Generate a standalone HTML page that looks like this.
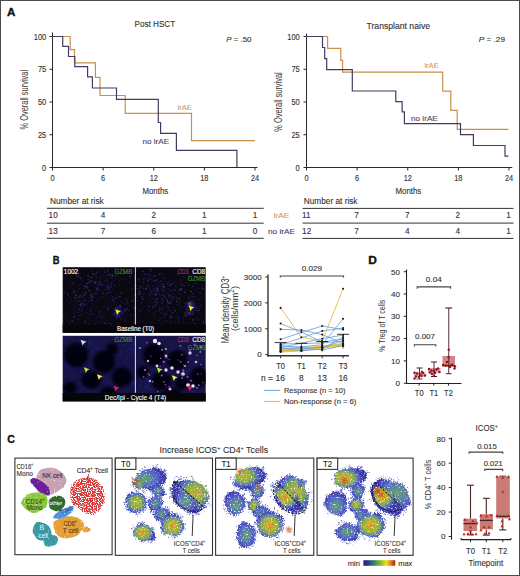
<!DOCTYPE html>
<html><head><meta charset="utf-8"><style>
html,body{margin:0;padding:0;background:#fff;}
svg{display:block;font-family:"Liberation Sans", sans-serif;}
</style></head><body>
<svg width="520" height="576" viewBox="0 0 520 576">
<defs><filter id="bl1" x="-50%" y="-50%" width="200%" height="200%"><feGaussianBlur stdDeviation="0.8"/></filter><filter id="bl0" x="-50%" y="-50%" width="200%" height="200%"><feGaussianBlur stdDeviation="0.45"/></filter><filter id="bl2" x="-50%" y="-50%" width="200%" height="200%"><feGaussianBlur stdDeviation="2.5"/></filter><filter id="bl3" x="-50%" y="-50%" width="200%" height="200%"><feGaussianBlur stdDeviation="1.4"/></filter><clipPath id="mtop"><rect x="62.7" y="267.2" width="143" height="65.6"/></clipPath><clipPath id="mbot"><rect x="62.7" y="335.8" width="143" height="65.6"/></clipPath><filter id="mottle0" x="-5%" y="-5%" width="110%" height="110%" color-interpolation-filters="sRGB"><feTurbulence type="fractalNoise" baseFrequency="0.75" numOctaves="2" seed="3" result="t"/><feDisplacementMap in="SourceGraphic" in2="t" scale="4.5" xChannelSelector="R" yChannelSelector="G" result="d"/><feTurbulence type="fractalNoise" baseFrequency="0.7" numOctaves="1" seed="11" result="t2"/><feColorMatrix in="t2" type="matrix" values="0 0 0 0 1  0 0 0 0 1  0 0 0 0 1  -4.8 0 0 0 2.0" result="w"/><feComposite in="w" in2="d" operator="in" result="wi"/><feMerge><feMergeNode in="d"/><feMergeNode in="wi"/></feMerge></filter><filter id="mottle1" x="-5%" y="-5%" width="110%" height="110%" color-interpolation-filters="sRGB"><feTurbulence type="fractalNoise" baseFrequency="0.75" numOctaves="2" seed="4" result="t"/><feDisplacementMap in="SourceGraphic" in2="t" scale="4.5" xChannelSelector="R" yChannelSelector="G" result="d"/><feTurbulence type="fractalNoise" baseFrequency="0.7" numOctaves="1" seed="12" result="t2"/><feColorMatrix in="t2" type="matrix" values="0 0 0 0 1  0 0 0 0 1  0 0 0 0 1  -4.8 0 0 0 2.0" result="w"/><feComposite in="w" in2="d" operator="in" result="wi"/><feMerge><feMergeNode in="d"/><feMergeNode in="wi"/></feMerge></filter><filter id="mottle2" x="-5%" y="-5%" width="110%" height="110%" color-interpolation-filters="sRGB"><feTurbulence type="fractalNoise" baseFrequency="0.75" numOctaves="2" seed="5" result="t"/><feDisplacementMap in="SourceGraphic" in2="t" scale="4.5" xChannelSelector="R" yChannelSelector="G" result="d"/><feTurbulence type="fractalNoise" baseFrequency="0.7" numOctaves="1" seed="13" result="t2"/><feColorMatrix in="t2" type="matrix" values="0 0 0 0 1  0 0 0 0 1  0 0 0 0 1  -4.8 0 0 0 2.0" result="w"/><feComposite in="w" in2="d" operator="in" result="wi"/><feMerge><feMergeNode in="d"/><feMergeNode in="wi"/></feMerge></filter><radialGradient id="g1" cx="0.35" cy="0.5" r="0.55" fx="0.35" fy="0.5"><stop offset="0" stop-color="#6aa060"/><stop offset="0.35" stop-color="#5a88a0"/><stop offset="0.62" stop-color="#5668c4"/><stop offset="0.82" stop-color="#4a50c0"/><stop offset="1" stop-color="#3a38aa"/></radialGradient><radialGradient id="g2" cx="0.5" cy="0.5" r="0.55" fx="0.5" fy="0.5"><stop offset="0" stop-color="#6aa060"/><stop offset="0.35" stop-color="#5a88a0"/><stop offset="0.62" stop-color="#5668c4"/><stop offset="0.82" stop-color="#4a50c0"/><stop offset="1" stop-color="#3a38aa"/></radialGradient><radialGradient id="g3" cx="0.5" cy="0.5" r="0.55" fx="0.5" fy="0.5"><stop offset="0" stop-color="#b8b434"/><stop offset="0.35" stop-color="#9cae40"/><stop offset="0.56" stop-color="#78a458"/><stop offset="0.69" stop-color="#5a82b0"/><stop offset="0.8" stop-color="#5060c4"/><stop offset="0.9" stop-color="#4448bc"/><stop offset="1" stop-color="#3838a8"/></radialGradient><radialGradient id="g4" cx="0.5" cy="0.5" r="0.55" fx="0.5" fy="0.5"><stop offset="0" stop-color="#6aa060"/><stop offset="0.35" stop-color="#5a88a0"/><stop offset="0.62" stop-color="#5668c4"/><stop offset="0.82" stop-color="#4a50c0"/><stop offset="1" stop-color="#3a38aa"/></radialGradient><radialGradient id="g5" cx="0.62" cy="0.4" r="0.55" fx="0.62" fy="0.4"><stop offset="0" stop-color="#b8b434"/><stop offset="0.35" stop-color="#9cae40"/><stop offset="0.56" stop-color="#78a458"/><stop offset="0.69" stop-color="#5a82b0"/><stop offset="0.8" stop-color="#5060c4"/><stop offset="0.9" stop-color="#4448bc"/><stop offset="1" stop-color="#3838a8"/></radialGradient><radialGradient id="g6" cx="0.5" cy="0.5" r="0.55" fx="0.5" fy="0.5"><stop offset="0" stop-color="#6aa060"/><stop offset="0.35" stop-color="#5a88a0"/><stop offset="0.62" stop-color="#5668c4"/><stop offset="0.82" stop-color="#4a50c0"/><stop offset="1" stop-color="#3a38aa"/></radialGradient><radialGradient id="g7" cx="0.5" cy="0.5" r="0.55" fx="0.5" fy="0.5"><stop offset="0" stop-color="#6aa060"/><stop offset="0.35" stop-color="#5a88a0"/><stop offset="0.62" stop-color="#5668c4"/><stop offset="0.82" stop-color="#4a50c0"/><stop offset="1" stop-color="#3a38aa"/></radialGradient><radialGradient id="g8" cx="0.5" cy="0.55" r="0.55" fx="0.5" fy="0.55"><stop offset="0" stop-color="#e07818"/><stop offset="0.15" stop-color="#d4a428"/><stop offset="0.35" stop-color="#b4b436"/><stop offset="0.55" stop-color="#8eae48"/><stop offset="0.68" stop-color="#6a9a80"/><stop offset="0.79" stop-color="#5a6ac8"/><stop offset="0.88" stop-color="#4a4ec0"/><stop offset="1" stop-color="#3a3aa8"/></radialGradient><radialGradient id="g9" cx="0.45" cy="0.5" r="0.55" fx="0.45" fy="0.5"><stop offset="0" stop-color="#e07818"/><stop offset="0.15" stop-color="#d4a428"/><stop offset="0.35" stop-color="#b4b436"/><stop offset="0.55" stop-color="#8eae48"/><stop offset="0.68" stop-color="#6a9a80"/><stop offset="0.79" stop-color="#5a6ac8"/><stop offset="0.88" stop-color="#4a4ec0"/><stop offset="1" stop-color="#3a3aa8"/></radialGradient><radialGradient id="g10" cx="0.3" cy="0.4" r="0.55" fx="0.3" fy="0.4"><stop offset="0" stop-color="#b8b434"/><stop offset="0.35" stop-color="#9cae40"/><stop offset="0.56" stop-color="#78a458"/><stop offset="0.69" stop-color="#5a82b0"/><stop offset="0.8" stop-color="#5060c4"/><stop offset="0.9" stop-color="#4448bc"/><stop offset="1" stop-color="#3838a8"/></radialGradient><radialGradient id="g11" cx="0.5" cy="0.5" r="0.55" fx="0.5" fy="0.5"><stop offset="0" stop-color="#6aa060"/><stop offset="0.35" stop-color="#5a88a0"/><stop offset="0.62" stop-color="#5668c4"/><stop offset="0.82" stop-color="#4a50c0"/><stop offset="1" stop-color="#3a38aa"/></radialGradient><radialGradient id="g12" cx="0.55" cy="0.6" r="0.55" fx="0.55" fy="0.6"><stop offset="0" stop-color="#6aa060"/><stop offset="0.35" stop-color="#5a88a0"/><stop offset="0.62" stop-color="#5668c4"/><stop offset="0.82" stop-color="#4a50c0"/><stop offset="1" stop-color="#3a38aa"/></radialGradient><radialGradient id="g13" cx="0.5" cy="0.5" r="0.55" fx="0.5" fy="0.5"><stop offset="0" stop-color="#b8b434"/><stop offset="0.35" stop-color="#9cae40"/><stop offset="0.56" stop-color="#78a458"/><stop offset="0.69" stop-color="#5a82b0"/><stop offset="0.8" stop-color="#5060c4"/><stop offset="0.9" stop-color="#4448bc"/><stop offset="1" stop-color="#3838a8"/></radialGradient><radialGradient id="g14" cx="0.6" cy="0.45" r="0.55" fx="0.6" fy="0.45"><stop offset="0" stop-color="#b8b434"/><stop offset="0.35" stop-color="#9cae40"/><stop offset="0.56" stop-color="#78a458"/><stop offset="0.69" stop-color="#5a82b0"/><stop offset="0.8" stop-color="#5060c4"/><stop offset="0.9" stop-color="#4448bc"/><stop offset="1" stop-color="#3838a8"/></radialGradient><radialGradient id="g15" cx="0.4" cy="0.4" r="0.55" fx="0.4" fy="0.4"><stop offset="0" stop-color="#e07818"/><stop offset="0.15" stop-color="#d4a428"/><stop offset="0.35" stop-color="#b4b436"/><stop offset="0.55" stop-color="#8eae48"/><stop offset="0.68" stop-color="#6a9a80"/><stop offset="0.79" stop-color="#5a6ac8"/><stop offset="0.88" stop-color="#4a4ec0"/><stop offset="1" stop-color="#3a3aa8"/></radialGradient><radialGradient id="g16" cx="0.5" cy="0.5" r="0.55" fx="0.5" fy="0.5"><stop offset="0" stop-color="#6aa060"/><stop offset="0.35" stop-color="#5a88a0"/><stop offset="0.62" stop-color="#5668c4"/><stop offset="0.82" stop-color="#4a50c0"/><stop offset="1" stop-color="#3a38aa"/></radialGradient><radialGradient id="g17" cx="0.5" cy="0.5" r="0.55" fx="0.5" fy="0.5"><stop offset="0" stop-color="#6aa060"/><stop offset="0.35" stop-color="#5a88a0"/><stop offset="0.62" stop-color="#5668c4"/><stop offset="0.82" stop-color="#4a50c0"/><stop offset="1" stop-color="#3a38aa"/></radialGradient><radialGradient id="g18" cx="0.5" cy="0.55" r="0.55" fx="0.5" fy="0.55"><stop offset="0" stop-color="#e07818"/><stop offset="0.15" stop-color="#d4a428"/><stop offset="0.35" stop-color="#b4b436"/><stop offset="0.55" stop-color="#8eae48"/><stop offset="0.68" stop-color="#6a9a80"/><stop offset="0.79" stop-color="#5a6ac8"/><stop offset="0.88" stop-color="#4a4ec0"/><stop offset="1" stop-color="#3a3aa8"/></radialGradient><radialGradient id="g19" cx="0.5" cy="0.5" r="0.55" fx="0.5" fy="0.5"><stop offset="0" stop-color="#6aa060"/><stop offset="0.35" stop-color="#5a88a0"/><stop offset="0.62" stop-color="#5668c4"/><stop offset="0.82" stop-color="#4a50c0"/><stop offset="1" stop-color="#3a38aa"/></radialGradient><radialGradient id="g20" cx="0.3" cy="0.5" r="0.55" fx="0.3" fy="0.5"><stop offset="0" stop-color="#e07818"/><stop offset="0.15" stop-color="#d4a428"/><stop offset="0.35" stop-color="#b4b436"/><stop offset="0.55" stop-color="#8eae48"/><stop offset="0.68" stop-color="#6a9a80"/><stop offset="0.79" stop-color="#5a6ac8"/><stop offset="0.88" stop-color="#4a4ec0"/><stop offset="1" stop-color="#3a3aa8"/></radialGradient><radialGradient id="g21" cx="0.5" cy="0.5" r="0.55" fx="0.5" fy="0.5"><stop offset="0" stop-color="#6aa060"/><stop offset="0.35" stop-color="#5a88a0"/><stop offset="0.62" stop-color="#5668c4"/><stop offset="0.82" stop-color="#4a50c0"/><stop offset="1" stop-color="#3a38aa"/></radialGradient><radialGradient id="g22" cx="0.5" cy="0.6" r="0.55" fx="0.5" fy="0.6"><stop offset="0" stop-color="#6aa060"/><stop offset="0.35" stop-color="#5a88a0"/><stop offset="0.62" stop-color="#5668c4"/><stop offset="0.82" stop-color="#4a50c0"/><stop offset="1" stop-color="#3a38aa"/></radialGradient><radialGradient id="g23" cx="0.5" cy="0.5" r="0.55" fx="0.5" fy="0.5"><stop offset="0" stop-color="#b8b434"/><stop offset="0.35" stop-color="#9cae40"/><stop offset="0.56" stop-color="#78a458"/><stop offset="0.69" stop-color="#5a82b0"/><stop offset="0.8" stop-color="#5060c4"/><stop offset="0.9" stop-color="#4448bc"/><stop offset="1" stop-color="#3838a8"/></radialGradient><radialGradient id="g24" cx="0.65" cy="0.4" r="0.55" fx="0.65" fy="0.4"><stop offset="0" stop-color="#6aa060"/><stop offset="0.35" stop-color="#5a88a0"/><stop offset="0.62" stop-color="#5668c4"/><stop offset="0.82" stop-color="#4a50c0"/><stop offset="1" stop-color="#3a38aa"/></radialGradient><radialGradient id="g25" cx="0.3" cy="0.3" r="0.55" fx="0.3" fy="0.3"><stop offset="0" stop-color="#e07818"/><stop offset="0.15" stop-color="#d4a428"/><stop offset="0.35" stop-color="#b4b436"/><stop offset="0.55" stop-color="#8eae48"/><stop offset="0.68" stop-color="#6a9a80"/><stop offset="0.79" stop-color="#5a6ac8"/><stop offset="0.88" stop-color="#4a4ec0"/><stop offset="1" stop-color="#3a3aa8"/></radialGradient><radialGradient id="g26" cx="0.5" cy="0.5" r="0.55" fx="0.5" fy="0.5"><stop offset="0" stop-color="#6aa060"/><stop offset="0.35" stop-color="#5a88a0"/><stop offset="0.62" stop-color="#5668c4"/><stop offset="0.82" stop-color="#4a50c0"/><stop offset="1" stop-color="#3a38aa"/></radialGradient><radialGradient id="g27" cx="0.5" cy="0.5" r="0.55" fx="0.5" fy="0.5"><stop offset="0" stop-color="#e07818"/><stop offset="0.15" stop-color="#d4a428"/><stop offset="0.35" stop-color="#b4b436"/><stop offset="0.55" stop-color="#8eae48"/><stop offset="0.68" stop-color="#6a9a80"/><stop offset="0.79" stop-color="#5a6ac8"/><stop offset="0.88" stop-color="#4a4ec0"/><stop offset="1" stop-color="#3a3aa8"/></radialGradient><radialGradient id="g28" cx="0.5" cy="0.5" r="0.55" fx="0.5" fy="0.5"><stop offset="0" stop-color="#6aa060"/><stop offset="0.35" stop-color="#5a88a0"/><stop offset="0.62" stop-color="#5668c4"/><stop offset="0.82" stop-color="#4a50c0"/><stop offset="1" stop-color="#3a38aa"/></radialGradient><linearGradient id="cbar" x1="0" x2="1" y1="0" y2="0"><stop offset="0" stop-color="#1e2470"/><stop offset="0.15" stop-color="#2a3c98"/><stop offset="0.35" stop-color="#3a8a50"/><stop offset="0.55" stop-color="#8cba2c"/><stop offset="0.72" stop-color="#e8e41e"/><stop offset="0.87" stop-color="#e07a1a"/><stop offset="1" stop-color="#a81c1c"/></linearGradient><filter id="speckR" x="-10%" y="-10%" width="120%" height="120%" color-interpolation-filters="sRGB"><feTurbulence type="fractalNoise" baseFrequency="0.9" numOctaves="2" seed="21" result="t"/><feDisplacementMap in="SourceGraphic" in2="t" scale="3.5" xChannelSelector="R" yChannelSelector="G" result="d"/><feTurbulence type="fractalNoise" baseFrequency="0.8" numOctaves="1" seed="23" result="t2"/><feColorMatrix in="t2" type="matrix" values="0 0 0 0 1  0 0 0 0 1  0 0 0 0 1  -9 0 0 0 4.6" result="w"/><feComposite in="w" in2="d" operator="in" result="wi"/><feMerge><feMergeNode in="d"/><feMergeNode in="wi"/></feMerge></filter><filter id="speckS" x="-10%" y="-10%" width="120%" height="120%" color-interpolation-filters="sRGB"><feTurbulence type="fractalNoise" baseFrequency="0.8" numOctaves="2" seed="31" result="t"/><feDisplacementMap in="SourceGraphic" in2="t" scale="2" xChannelSelector="R" yChannelSelector="G" result="d"/><feTurbulence type="fractalNoise" baseFrequency="0.7" numOctaves="1" seed="33" result="t2"/><feColorMatrix in="t2" type="matrix" values="0 0 0 0 1  0 0 0 0 1  0 0 0 0 1  -5 0 0 0 1.8" result="w"/><feComposite in="w" in2="d" operator="in" result="wi"/><feMerge><feMergeNode in="d"/><feMergeNode in="wi"/></feMerge></filter></defs>
<rect width="520" height="576" fill="#fff"/>
<text x="6.9" y="16.3" font-size="11.6" fill="#111" textLength="8.4" lengthAdjust="spacingAndGlyphs" font-weight="bold" stroke="#111" stroke-width="0.35">A</text>
<line x1="52.5" y1="32.5" x2="52.5" y2="168.0" stroke="#2a2a2a" stroke-width="1" />
<line x1="52.0" y1="167.5" x2="257.5" y2="167.5" stroke="#2a2a2a" stroke-width="1" />
<line x1="49.5" y1="36.5" x2="52.5" y2="36.5" stroke="#2a2a2a" stroke-width="1" />
<text x="46.3" y="39.5" font-size="8.6" fill="#333" stroke="#333" stroke-width="0.12" text-anchor="end" textLength="12.6" lengthAdjust="spacingAndGlyphs" >100</text>
<line x1="49.5" y1="69.25" x2="52.5" y2="69.25" stroke="#2a2a2a" stroke-width="1" />
<text x="46.3" y="72.25" font-size="8.6" fill="#333" stroke="#333" stroke-width="0.12" text-anchor="end" textLength="8.4" lengthAdjust="spacingAndGlyphs" >75</text>
<line x1="49.5" y1="102.0" x2="52.5" y2="102.0" stroke="#2a2a2a" stroke-width="1" />
<text x="46.3" y="105.0" font-size="8.6" fill="#333" stroke="#333" stroke-width="0.12" text-anchor="end" textLength="8.4" lengthAdjust="spacingAndGlyphs" >50</text>
<line x1="49.5" y1="134.75" x2="52.5" y2="134.75" stroke="#2a2a2a" stroke-width="1" />
<text x="46.3" y="137.75" font-size="8.6" fill="#333" stroke="#333" stroke-width="0.12" text-anchor="end" textLength="8.4" lengthAdjust="spacingAndGlyphs" >25</text>
<line x1="49.5" y1="167.5" x2="52.5" y2="167.5" stroke="#2a2a2a" stroke-width="1" />
<text x="46.3" y="170.5" font-size="8.6" fill="#333" stroke="#333" stroke-width="0.12" text-anchor="end" textLength="4.2" lengthAdjust="spacingAndGlyphs" >0</text>
<line x1="52.5" y1="167.5" x2="52.5" y2="170.5" stroke="#2a2a2a" stroke-width="1" />
<text x="52.5" y="180.7" font-size="8.4" fill="#333" stroke="#333" stroke-width="0.12" text-anchor="middle" textLength="4.1" lengthAdjust="spacingAndGlyphs" >0</text>
<line x1="103.125" y1="167.5" x2="103.125" y2="170.5" stroke="#2a2a2a" stroke-width="1" />
<text x="103.125" y="180.7" font-size="8.4" fill="#333" stroke="#333" stroke-width="0.12" text-anchor="middle" textLength="4.1" lengthAdjust="spacingAndGlyphs" >6</text>
<line x1="153.75" y1="167.5" x2="153.75" y2="170.5" stroke="#2a2a2a" stroke-width="1" />
<text x="153.75" y="180.7" font-size="8.4" fill="#333" stroke="#333" stroke-width="0.12" text-anchor="middle" textLength="8.2" lengthAdjust="spacingAndGlyphs" >12</text>
<line x1="204.375" y1="167.5" x2="204.375" y2="170.5" stroke="#2a2a2a" stroke-width="1" />
<text x="204.375" y="180.7" font-size="8.4" fill="#333" stroke="#333" stroke-width="0.12" text-anchor="middle" textLength="8.2" lengthAdjust="spacingAndGlyphs" >18</text>
<line x1="255.0" y1="167.5" x2="255.0" y2="170.5" stroke="#2a2a2a" stroke-width="1" />
<text x="255.0" y="180.7" font-size="8.4" fill="#333" stroke="#333" stroke-width="0.12" text-anchor="middle" textLength="8.2" lengthAdjust="spacingAndGlyphs" >24</text>
<text transform="translate(27.6,99.7) rotate(-90)" font-size="10.6" fill="#3a3a3a" text-anchor="middle" textLength="59.5" lengthAdjust="spacingAndGlyphs">% Overall survival</text>
<path d="M52.5,36.5 H70.2 V49.6 H74.5 V62.8 H95.4 V77.3 H100 V95.5 H125.2 V113.3 H191.5 V140.6 H255" stroke="#c89048" stroke-width="1.2" fill="none" />
<path d="M52.5,36.5 H62.7 V46.4 H68.5 V56.5 H74.8 V66.7 H87.6 V76.8 H92.4 V88 H116.5 V99.4 H158.3 V122.5 H160.6 V133.3 H176.4 V150.4 H236.9 V167" stroke="#463a62" stroke-width="1.2" fill="none" />
<text x="134.6" y="26.8" font-size="8.5" fill="#333" stroke="#333" stroke-width="0.12" textLength="40.5" lengthAdjust="spacingAndGlyphs" >Post HSCT</text>
<text x="226.2" y="41.5" font-size="7.6" fill="#333" stroke="#333" stroke-width="0.12" textLength="25.3" lengthAdjust="spacingAndGlyphs" ><tspan font-style="italic">P</tspan> = .50</text>
<text x="177.5" y="109.6" font-size="8.1" fill="#cf9a55" stroke="#cf9a55" stroke-width="0.12" textLength="14.3" lengthAdjust="spacingAndGlyphs" >irAE</text>
<text x="142.5" y="143.9" font-size="8.1" fill="#4d4068" stroke="#4d4068" stroke-width="0.12" textLength="26.7" lengthAdjust="spacingAndGlyphs" >no irAE</text>
<text x="142.4" y="194.1" font-size="9.5" fill="#333" stroke="#333" stroke-width="0.12" textLength="25.8" lengthAdjust="spacingAndGlyphs" >Months</text>
<line x1="306.5" y1="33.7" x2="306.5" y2="168.0" stroke="#2a2a2a" stroke-width="1" />
<line x1="306.0" y1="167.5" x2="512.3" y2="167.5" stroke="#2a2a2a" stroke-width="1" />
<line x1="303.5" y1="36.5" x2="306.5" y2="36.5" stroke="#2a2a2a" stroke-width="1" />
<text x="299.8" y="39.5" font-size="8.6" fill="#333" stroke="#333" stroke-width="0.12" text-anchor="end" textLength="12.6" lengthAdjust="spacingAndGlyphs" >100</text>
<line x1="303.5" y1="69.25" x2="306.5" y2="69.25" stroke="#2a2a2a" stroke-width="1" />
<text x="299.8" y="72.25" font-size="8.6" fill="#333" stroke="#333" stroke-width="0.12" text-anchor="end" textLength="8.4" lengthAdjust="spacingAndGlyphs" >75</text>
<line x1="303.5" y1="102.0" x2="306.5" y2="102.0" stroke="#2a2a2a" stroke-width="1" />
<text x="299.8" y="105.0" font-size="8.6" fill="#333" stroke="#333" stroke-width="0.12" text-anchor="end" textLength="8.4" lengthAdjust="spacingAndGlyphs" >50</text>
<line x1="303.5" y1="134.75" x2="306.5" y2="134.75" stroke="#2a2a2a" stroke-width="1" />
<text x="299.8" y="137.75" font-size="8.6" fill="#333" stroke="#333" stroke-width="0.12" text-anchor="end" textLength="8.4" lengthAdjust="spacingAndGlyphs" >25</text>
<line x1="303.5" y1="167.5" x2="306.5" y2="167.5" stroke="#2a2a2a" stroke-width="1" />
<text x="299.8" y="170.5" font-size="8.6" fill="#333" stroke="#333" stroke-width="0.12" text-anchor="end" textLength="4.2" lengthAdjust="spacingAndGlyphs" >0</text>
<line x1="306.5" y1="167.5" x2="306.5" y2="170.5" stroke="#2a2a2a" stroke-width="1" />
<text x="306.5" y="180.7" font-size="8.4" fill="#333" stroke="#333" stroke-width="0.12" text-anchor="middle" textLength="4.1" lengthAdjust="spacingAndGlyphs" >0</text>
<line x1="357.125" y1="167.5" x2="357.125" y2="170.5" stroke="#2a2a2a" stroke-width="1" />
<text x="357.125" y="180.7" font-size="8.4" fill="#333" stroke="#333" stroke-width="0.12" text-anchor="middle" textLength="4.1" lengthAdjust="spacingAndGlyphs" >6</text>
<line x1="407.75" y1="167.5" x2="407.75" y2="170.5" stroke="#2a2a2a" stroke-width="1" />
<text x="407.75" y="180.7" font-size="8.4" fill="#333" stroke="#333" stroke-width="0.12" text-anchor="middle" textLength="8.2" lengthAdjust="spacingAndGlyphs" >12</text>
<line x1="458.375" y1="167.5" x2="458.375" y2="170.5" stroke="#2a2a2a" stroke-width="1" />
<text x="458.375" y="180.7" font-size="8.4" fill="#333" stroke="#333" stroke-width="0.12" text-anchor="middle" textLength="8.2" lengthAdjust="spacingAndGlyphs" >18</text>
<line x1="509.0" y1="167.5" x2="509.0" y2="170.5" stroke="#2a2a2a" stroke-width="1" />
<text x="509.0" y="180.7" font-size="8.4" fill="#333" stroke="#333" stroke-width="0.12" text-anchor="middle" textLength="8.2" lengthAdjust="spacingAndGlyphs" >24</text>
<text transform="translate(281.5,102) rotate(-90)" font-size="10.6" fill="#3a3a3a" text-anchor="middle" textLength="59.5" lengthAdjust="spacingAndGlyphs">% Overall survival</text>
<path d="M306.5,36.5 H327.6 V48.4 H340.8 V60.4 H342.6 V72.2 H442.7 V91.2 H450.8 V110.4 H457.2 V129.3 H508.5" stroke="#c89048" stroke-width="1.2" fill="none" />
<path d="M306.5,36.5 H322.5 V47.5 H324.7 V58.6 H326.7 V69.6 H352.3 V91 H395.8 V101.7 H402.1 V111.9 H404.4 V123.7 H460.5 V134.6 H473.4 V145.5 H505 V156.1 H508.5" stroke="#463a62" stroke-width="1.2" fill="none" />
<text x="366.5" y="28.8" font-size="8.5" fill="#333" stroke="#333" stroke-width="0.12" textLength="63.5" lengthAdjust="spacingAndGlyphs" >Transplant naive</text>
<text x="478.8" y="42.3" font-size="7.6" fill="#333" stroke="#333" stroke-width="0.12" textLength="26.2" lengthAdjust="spacingAndGlyphs" ><tspan font-style="italic">P</tspan> = .29</text>
<text x="424.4" y="68.4" font-size="8.1" fill="#cf9a55" stroke="#cf9a55" stroke-width="0.12" textLength="14.4" lengthAdjust="spacingAndGlyphs" >irAE</text>
<text x="411" y="120.8" font-size="8.1" fill="#4d4068" stroke="#4d4068" stroke-width="0.12" textLength="26.8" lengthAdjust="spacingAndGlyphs" >no irAE</text>
<text x="395.5" y="194.1" font-size="9.5" fill="#333" stroke="#333" stroke-width="0.12" textLength="25.8" lengthAdjust="spacingAndGlyphs" >Months</text>
<text x="50" y="203.75" font-size="8.3" fill="#333" stroke="#333" stroke-width="0.12" textLength="53.7" lengthAdjust="spacingAndGlyphs" >Number at risk</text>
<line x1="47" y1="208.3" x2="263.75" y2="208.3" stroke="#333" stroke-width="1" />
<line x1="47" y1="223.2" x2="263.75" y2="223.2" stroke="#333" stroke-width="1" />
<line x1="47" y1="238.3" x2="263.75" y2="238.3" stroke="#333" stroke-width="1" />
<text x="48.6" y="218.4" font-size="8.2" fill="#333" stroke="#333" stroke-width="0.12" >10</text>
<text x="48.6" y="233.7" font-size="8.2" fill="#333" stroke="#333" stroke-width="0.12" >13</text>
<text x="103.125" y="218.4" font-size="8.2" fill="#333" stroke="#333" stroke-width="0.12" text-anchor="middle" >4</text>
<text x="103.125" y="233.7" font-size="8.2" fill="#333" stroke="#333" stroke-width="0.12" text-anchor="middle" >7</text>
<text x="153.75" y="218.4" font-size="8.2" fill="#333" stroke="#333" stroke-width="0.12" text-anchor="middle" >2</text>
<text x="153.75" y="233.7" font-size="8.2" fill="#333" stroke="#333" stroke-width="0.12" text-anchor="middle" >6</text>
<text x="204.375" y="218.4" font-size="8.2" fill="#333" stroke="#333" stroke-width="0.12" text-anchor="middle" >1</text>
<text x="204.375" y="233.7" font-size="8.2" fill="#333" stroke="#333" stroke-width="0.12" text-anchor="middle" >1</text>
<text x="255.0" y="218.4" font-size="8.2" fill="#333" stroke="#333" stroke-width="0.12" text-anchor="middle" >1</text>
<text x="255.0" y="233.7" font-size="8.2" fill="#333" stroke="#333" stroke-width="0.12" text-anchor="middle" >0</text>
<text x="303.8" y="203.75" font-size="8.3" fill="#333" stroke="#333" stroke-width="0.12" textLength="53.7" lengthAdjust="spacingAndGlyphs" >Number at risk</text>
<line x1="302.5" y1="208.4" x2="513.5" y2="208.4" stroke="#333" stroke-width="1" />
<line x1="302.5" y1="223.1" x2="513.5" y2="223.1" stroke="#333" stroke-width="1" />
<line x1="302.5" y1="238.4" x2="513.5" y2="238.4" stroke="#333" stroke-width="1" />
<text x="302.1" y="218.4" font-size="8.2" fill="#333" stroke="#333" stroke-width="0.12" >11</text>
<text x="302.1" y="233.7" font-size="8.2" fill="#333" stroke="#333" stroke-width="0.12" >12</text>
<text x="356.625" y="218.4" font-size="8.2" fill="#333" stroke="#333" stroke-width="0.12" text-anchor="middle" >7</text>
<text x="356.625" y="233.7" font-size="8.2" fill="#333" stroke="#333" stroke-width="0.12" text-anchor="middle" >7</text>
<text x="407.25" y="218.4" font-size="8.2" fill="#333" stroke="#333" stroke-width="0.12" text-anchor="middle" >7</text>
<text x="407.25" y="233.7" font-size="8.2" fill="#333" stroke="#333" stroke-width="0.12" text-anchor="middle" >4</text>
<text x="457.875" y="218.4" font-size="8.2" fill="#333" stroke="#333" stroke-width="0.12" text-anchor="middle" >2</text>
<text x="457.875" y="233.7" font-size="8.2" fill="#333" stroke="#333" stroke-width="0.12" text-anchor="middle" >4</text>
<text x="508.5" y="218.4" font-size="8.2" fill="#333" stroke="#333" stroke-width="0.12" text-anchor="middle" >1</text>
<text x="508.5" y="233.7" font-size="8.2" fill="#333" stroke="#333" stroke-width="0.12" text-anchor="middle" >1</text>
<text x="273.8" y="218.4" font-size="8.1" fill="#cf9a55" stroke="#cf9a55" stroke-width="0.12" textLength="15.5" lengthAdjust="spacingAndGlyphs" >irAE</text>
<text x="268" y="233.7" font-size="8.1" fill="#4d4068" stroke="#4d4068" stroke-width="0.12" textLength="27" lengthAdjust="spacingAndGlyphs" >no irAE</text>
<text x="52.8" y="263.7" font-size="11.3" fill="#111" textLength="6.8" lengthAdjust="spacingAndGlyphs" font-weight="bold" stroke="#111" stroke-width="0.35">B</text>
<rect x="62.7" y="267.2" width="143" height="65.6" fill="#0a0810"/>
<g clip-path="url(#mtop)">
<g filter="url(#bl0)">
<g fill="#30287a" opacity="0.5"><circle cx="97.0" cy="300.1" r="0.74"/><circle cx="69.3" cy="304.3" r="0.70"/><circle cx="74.4" cy="311.8" r="0.55"/><circle cx="162.3" cy="295.2" r="0.78"/><circle cx="101.3" cy="315.4" r="0.53"/><circle cx="149.2" cy="294.3" r="0.85"/><circle cx="91.1" cy="301.6" r="0.76"/><circle cx="156.2" cy="280.7" r="0.65"/><circle cx="190.2" cy="315.1" r="0.46"/><circle cx="67.3" cy="325.2" r="0.66"/><circle cx="93.2" cy="293.8" r="0.77"/><circle cx="142.7" cy="271.7" r="0.73"/><circle cx="170.5" cy="300.2" r="0.41"/><circle cx="124.1" cy="310.3" r="0.57"/><circle cx="163.1" cy="286.7" r="0.84"/><circle cx="154.6" cy="301.5" r="0.89"/><circle cx="85.8" cy="304.2" r="0.86"/><circle cx="86.5" cy="286.4" r="0.90"/><circle cx="160.9" cy="302.2" r="0.80"/><circle cx="177.3" cy="301.3" r="0.70"/><circle cx="149.3" cy="283.9" r="0.42"/><circle cx="110.4" cy="325.5" r="0.53"/><circle cx="114.5" cy="289.2" r="0.46"/><circle cx="141.1" cy="283.1" r="0.41"/><circle cx="161.3" cy="294.9" r="0.65"/><circle cx="153.4" cy="289.5" r="0.93"/><circle cx="141.5" cy="302.1" r="0.90"/><circle cx="102.3" cy="268.8" r="0.58"/><circle cx="175.3" cy="322.7" r="0.75"/><circle cx="175.4" cy="289.6" r="0.62"/><circle cx="197.5" cy="306.6" r="0.73"/><circle cx="80.0" cy="304.9" r="0.88"/><circle cx="179.0" cy="273.3" r="0.64"/><circle cx="160.7" cy="288.5" r="0.69"/><circle cx="83.6" cy="288.5" r="0.72"/><circle cx="189.3" cy="310.3" r="0.42"/><circle cx="170.4" cy="322.0" r="0.74"/><circle cx="169.2" cy="310.6" r="0.48"/><circle cx="140.2" cy="303.5" r="0.49"/><circle cx="190.5" cy="305.8" r="0.87"/><circle cx="170.7" cy="314.5" r="0.85"/><circle cx="150.9" cy="274.8" r="0.90"/><circle cx="189.3" cy="287.5" r="0.41"/><circle cx="63.4" cy="289.7" r="0.66"/><circle cx="193.0" cy="288.1" r="0.43"/><circle cx="89.0" cy="282.8" r="0.74"/><circle cx="67.4" cy="300.7" r="0.49"/><circle cx="169.1" cy="286.1" r="0.54"/><circle cx="116.5" cy="295.0" r="0.55"/><circle cx="95.8" cy="287.3" r="0.62"/></g>
<g fill="#503890" opacity="0.65"><circle cx="100.1" cy="281.8" r="0.86"/><circle cx="76.9" cy="276.0" r="0.87"/><circle cx="137.5" cy="300.4" r="0.57"/><circle cx="176.7" cy="301.4" r="0.76"/><circle cx="191.4" cy="314.7" r="0.47"/><circle cx="191.3" cy="276.8" r="0.68"/><circle cx="194.7" cy="306.1" r="0.57"/><circle cx="92.8" cy="296.9" r="0.62"/><circle cx="107.8" cy="269.3" r="0.62"/><circle cx="107.5" cy="307.2" r="0.59"/><circle cx="112.8" cy="296.6" r="0.64"/><circle cx="154.0" cy="314.2" r="0.71"/><circle cx="181.1" cy="289.0" r="0.71"/><circle cx="171.5" cy="284.4" r="0.85"/><circle cx="142.6" cy="307.3" r="0.45"/><circle cx="106.5" cy="320.9" r="0.47"/><circle cx="85.7" cy="312.4" r="0.51"/><circle cx="115.8" cy="307.4" r="0.60"/><circle cx="115.7" cy="275.8" r="0.83"/><circle cx="123.1" cy="314.1" r="0.78"/><circle cx="97.1" cy="271.9" r="0.65"/><circle cx="91.7" cy="295.9" r="0.92"/><circle cx="154.2" cy="295.5" r="0.44"/><circle cx="151.5" cy="269.5" r="0.74"/><circle cx="93.6" cy="273.4" r="0.67"/><circle cx="198.7" cy="299.8" r="0.65"/><circle cx="101.3" cy="315.7" r="0.54"/><circle cx="134.4" cy="285.5" r="0.63"/><circle cx="75.9" cy="295.4" r="0.92"/><circle cx="173.2" cy="289.9" r="0.63"/><circle cx="90.4" cy="310.7" r="0.74"/><circle cx="166.8" cy="326.4" r="0.74"/><circle cx="97.2" cy="288.4" r="0.53"/><circle cx="168.5" cy="302.2" r="0.60"/><circle cx="145.9" cy="288.7" r="0.92"/><circle cx="134.5" cy="308.4" r="0.86"/><circle cx="112.4" cy="300.3" r="0.43"/><circle cx="134.2" cy="322.2" r="0.57"/><circle cx="68.0" cy="294.4" r="0.82"/><circle cx="189.1" cy="285.2" r="0.69"/><circle cx="187.3" cy="310.0" r="0.61"/><circle cx="150.4" cy="279.1" r="0.80"/><circle cx="185.1" cy="313.4" r="0.85"/><circle cx="156.5" cy="280.6" r="0.70"/><circle cx="107.3" cy="287.2" r="0.80"/><circle cx="92.7" cy="275.7" r="0.50"/><circle cx="162.2" cy="303.7" r="0.53"/><circle cx="162.2" cy="283.6" r="0.40"/><circle cx="197.0" cy="310.5" r="0.74"/><circle cx="83.2" cy="276.7" r="0.45"/><circle cx="127.8" cy="271.0" r="0.74"/><circle cx="173.7" cy="283.2" r="0.82"/><circle cx="195.8" cy="308.0" r="0.67"/><circle cx="149.0" cy="306.4" r="0.88"/><circle cx="138.0" cy="294.2" r="0.60"/><circle cx="157.9" cy="288.4" r="0.84"/><circle cx="100.9" cy="283.1" r="0.62"/><circle cx="98.3" cy="281.6" r="0.64"/><circle cx="170.5" cy="302.3" r="0.44"/><circle cx="194.8" cy="296.4" r="0.56"/></g>
<g fill="#2a2478" opacity="0.65"><circle cx="131.1" cy="305.7" r="0.61"/><circle cx="191.1" cy="307.4" r="0.75"/><circle cx="78.4" cy="312.6" r="0.74"/><circle cx="126.6" cy="309.5" r="0.80"/><circle cx="124.6" cy="273.0" r="0.91"/><circle cx="203.2" cy="272.7" r="0.44"/><circle cx="96.7" cy="324.5" r="0.95"/><circle cx="105.2" cy="272.3" r="0.91"/><circle cx="79.3" cy="308.2" r="0.62"/><circle cx="92.0" cy="287.9" r="0.43"/><circle cx="119.0" cy="299.0" r="0.42"/><circle cx="192.6" cy="293.7" r="0.86"/><circle cx="146.5" cy="286.3" r="0.69"/><circle cx="167.5" cy="283.6" r="0.70"/><circle cx="141.2" cy="286.6" r="0.80"/><circle cx="99.0" cy="321.8" r="0.80"/><circle cx="192.9" cy="314.4" r="0.50"/><circle cx="169.6" cy="285.8" r="0.69"/><circle cx="149.9" cy="324.5" r="0.74"/><circle cx="184.6" cy="306.4" r="0.80"/><circle cx="171.0" cy="317.7" r="0.73"/><circle cx="88.2" cy="318.2" r="0.62"/><circle cx="125.9" cy="303.8" r="0.78"/><circle cx="172.7" cy="309.2" r="0.49"/><circle cx="105.4" cy="289.6" r="0.80"/><circle cx="111.3" cy="325.0" r="0.82"/><circle cx="96.3" cy="288.5" r="0.68"/><circle cx="87.2" cy="288.2" r="0.76"/><circle cx="151.8" cy="302.5" r="0.55"/><circle cx="108.8" cy="287.5" r="0.80"/><circle cx="138.6" cy="279.7" r="0.86"/><circle cx="197.6" cy="288.2" r="0.80"/><circle cx="82.5" cy="311.1" r="0.52"/><circle cx="80.2" cy="298.1" r="0.57"/><circle cx="198.1" cy="319.8" r="0.84"/><circle cx="160.4" cy="286.0" r="0.54"/><circle cx="133.3" cy="289.2" r="0.55"/><circle cx="143.4" cy="288.6" r="0.66"/><circle cx="128.7" cy="309.8" r="0.52"/><circle cx="164.6" cy="316.4" r="0.79"/><circle cx="185.5" cy="303.5" r="0.93"/><circle cx="127.2" cy="308.3" r="0.85"/><circle cx="174.8" cy="280.8" r="0.61"/><circle cx="126.1" cy="312.1" r="0.62"/><circle cx="157.8" cy="274.7" r="0.43"/><circle cx="159.6" cy="316.5" r="0.44"/><circle cx="174.0" cy="297.3" r="0.62"/><circle cx="177.4" cy="312.8" r="0.73"/><circle cx="99.8" cy="287.0" r="0.47"/><circle cx="167.7" cy="293.1" r="0.44"/><circle cx="183.8" cy="277.0" r="0.94"/><circle cx="178.8" cy="318.4" r="0.93"/><circle cx="170.6" cy="289.4" r="0.58"/><circle cx="80.7" cy="296.5" r="0.45"/><circle cx="112.6" cy="314.3" r="0.79"/><circle cx="104.5" cy="322.7" r="0.88"/><circle cx="148.4" cy="277.3" r="0.85"/><circle cx="158.1" cy="292.6" r="0.79"/><circle cx="193.2" cy="313.2" r="0.59"/><circle cx="143.3" cy="279.3" r="0.87"/><circle cx="96.0" cy="281.6" r="0.82"/><circle cx="124.4" cy="316.8" r="0.81"/><circle cx="188.6" cy="306.7" r="0.76"/><circle cx="93.1" cy="282.6" r="0.40"/><circle cx="88.2" cy="301.6" r="0.78"/></g>
<g fill="#30287a" opacity="0.35"><circle cx="65.2" cy="313.9" r="0.57"/><circle cx="104.0" cy="315.8" r="0.89"/><circle cx="112.2" cy="308.9" r="0.79"/><circle cx="78.0" cy="308.2" r="0.67"/><circle cx="105.0" cy="272.4" r="0.62"/><circle cx="83.9" cy="281.0" r="0.48"/><circle cx="104.0" cy="279.2" r="0.64"/><circle cx="138.6" cy="279.9" r="0.72"/><circle cx="167.7" cy="302.4" r="0.87"/><circle cx="168.1" cy="288.7" r="0.54"/><circle cx="197.3" cy="323.4" r="0.57"/><circle cx="97.4" cy="279.9" r="0.59"/><circle cx="73.8" cy="301.9" r="0.76"/><circle cx="152.8" cy="277.2" r="0.67"/><circle cx="98.3" cy="287.1" r="0.63"/><circle cx="154.3" cy="298.4" r="0.71"/><circle cx="162.9" cy="290.2" r="0.86"/><circle cx="192.4" cy="301.2" r="0.54"/><circle cx="177.1" cy="291.0" r="0.48"/><circle cx="162.1" cy="305.2" r="0.43"/><circle cx="186.4" cy="313.7" r="0.92"/><circle cx="87.7" cy="292.1" r="0.61"/><circle cx="86.4" cy="320.6" r="0.61"/><circle cx="89.2" cy="309.0" r="0.45"/><circle cx="195.7" cy="310.8" r="0.85"/><circle cx="162.3" cy="290.8" r="0.53"/><circle cx="164.7" cy="289.9" r="0.70"/><circle cx="138.3" cy="308.6" r="0.69"/><circle cx="132.0" cy="296.3" r="0.59"/><circle cx="113.9" cy="313.2" r="0.79"/><circle cx="173.9" cy="296.4" r="0.64"/><circle cx="150.5" cy="310.9" r="0.66"/><circle cx="162.9" cy="303.8" r="0.44"/><circle cx="68.0" cy="321.3" r="0.63"/><circle cx="69.4" cy="283.8" r="0.91"/><circle cx="170.4" cy="303.3" r="0.60"/><circle cx="105.0" cy="288.2" r="0.46"/><circle cx="133.3" cy="307.3" r="0.61"/><circle cx="81.0" cy="315.2" r="0.89"/><circle cx="98.4" cy="289.4" r="0.53"/><circle cx="196.9" cy="305.0" r="0.53"/><circle cx="148.0" cy="309.9" r="0.89"/><circle cx="80.3" cy="310.0" r="0.70"/><circle cx="163.8" cy="313.8" r="0.89"/><circle cx="107.6" cy="292.9" r="0.45"/><circle cx="105.2" cy="281.2" r="0.60"/><circle cx="151.0" cy="323.1" r="0.81"/><circle cx="169.8" cy="317.1" r="0.93"/><circle cx="102.3" cy="278.2" r="0.61"/><circle cx="143.9" cy="308.0" r="0.62"/><circle cx="166.9" cy="293.8" r="0.75"/><circle cx="164.7" cy="323.4" r="0.74"/><circle cx="80.2" cy="321.1" r="0.48"/><circle cx="136.1" cy="318.3" r="0.79"/><circle cx="108.9" cy="291.2" r="0.72"/><circle cx="173.2" cy="300.3" r="0.65"/><circle cx="156.8" cy="302.0" r="0.89"/><circle cx="63.6" cy="309.6" r="0.85"/><circle cx="144.8" cy="279.5" r="0.51"/><circle cx="149.1" cy="288.2" r="0.79"/><circle cx="89.3" cy="301.3" r="0.79"/><circle cx="76.7" cy="300.3" r="0.86"/></g>
<g fill="#4a3aa0" opacity="0.65"><circle cx="139.4" cy="292.0" r="0.90"/><circle cx="182.6" cy="307.1" r="0.59"/><circle cx="79.2" cy="297.1" r="0.80"/><circle cx="132.9" cy="301.1" r="0.95"/><circle cx="194.2" cy="323.5" r="0.75"/><circle cx="153.2" cy="316.3" r="0.44"/><circle cx="108.5" cy="289.1" r="0.86"/><circle cx="92.1" cy="271.5" r="0.51"/><circle cx="88.4" cy="282.8" r="0.46"/><circle cx="158.4" cy="282.6" r="0.59"/><circle cx="118.6" cy="315.5" r="0.52"/><circle cx="87.3" cy="287.3" r="0.70"/><circle cx="184.0" cy="290.1" r="0.41"/><circle cx="137.6" cy="307.5" r="0.55"/><circle cx="97.0" cy="307.8" r="0.51"/><circle cx="95.7" cy="326.8" r="0.54"/><circle cx="78.6" cy="273.2" r="0.86"/><circle cx="159.1" cy="320.2" r="0.59"/><circle cx="72.7" cy="283.3" r="0.79"/><circle cx="168.3" cy="288.5" r="0.43"/><circle cx="197.7" cy="268.5" r="0.66"/><circle cx="84.7" cy="286.5" r="0.69"/><circle cx="108.4" cy="286.1" r="0.72"/><circle cx="152.5" cy="294.3" r="0.56"/><circle cx="80.8" cy="306.3" r="0.50"/><circle cx="104.5" cy="306.5" r="0.41"/><circle cx="163.7" cy="301.5" r="0.42"/><circle cx="84.8" cy="321.6" r="0.75"/><circle cx="167.5" cy="301.5" r="0.45"/><circle cx="156.3" cy="294.5" r="0.88"/><circle cx="91.3" cy="280.9" r="0.87"/><circle cx="144.3" cy="278.5" r="0.60"/><circle cx="133.2" cy="315.3" r="0.64"/><circle cx="144.7" cy="274.0" r="0.84"/><circle cx="85.5" cy="286.2" r="0.73"/><circle cx="111.7" cy="325.5" r="0.51"/><circle cx="147.9" cy="285.4" r="0.44"/><circle cx="64.0" cy="277.8" r="0.41"/><circle cx="73.3" cy="289.7" r="0.64"/><circle cx="137.2" cy="293.0" r="0.42"/><circle cx="112.0" cy="315.0" r="0.52"/><circle cx="170.4" cy="295.0" r="0.50"/><circle cx="85.9" cy="322.7" r="0.44"/><circle cx="203.4" cy="322.0" r="0.81"/><circle cx="77.8" cy="325.4" r="0.64"/><circle cx="88.7" cy="324.4" r="0.84"/><circle cx="113.0" cy="274.9" r="0.74"/><circle cx="79.2" cy="309.6" r="0.60"/><circle cx="85.8" cy="292.8" r="0.71"/><circle cx="179.7" cy="290.1" r="0.79"/><circle cx="121.8" cy="278.9" r="0.52"/><circle cx="143.6" cy="285.9" r="0.48"/><circle cx="135.2" cy="294.9" r="0.89"/><circle cx="181.5" cy="283.8" r="0.81"/><circle cx="109.8" cy="275.3" r="0.41"/><circle cx="110.0" cy="274.9" r="0.81"/><circle cx="110.5" cy="287.1" r="0.82"/><circle cx="74.1" cy="292.1" r="0.86"/><circle cx="91.0" cy="295.6" r="0.58"/><circle cx="159.9" cy="308.8" r="0.87"/></g>
<g fill="#30287a" opacity="0.65"><circle cx="162.5" cy="309.2" r="0.71"/><circle cx="116.9" cy="319.3" r="0.71"/><circle cx="143.6" cy="299.2" r="0.45"/><circle cx="122.0" cy="312.1" r="0.77"/><circle cx="162.7" cy="309.4" r="0.71"/><circle cx="182.3" cy="285.2" r="0.77"/><circle cx="163.9" cy="274.3" r="0.72"/><circle cx="91.4" cy="314.1" r="0.92"/><circle cx="79.0" cy="285.0" r="0.63"/><circle cx="168.2" cy="292.9" r="0.52"/><circle cx="196.2" cy="304.1" r="0.70"/><circle cx="101.3" cy="296.5" r="0.43"/><circle cx="138.1" cy="313.2" r="0.64"/><circle cx="83.9" cy="303.4" r="0.61"/><circle cx="115.1" cy="298.6" r="0.81"/><circle cx="180.8" cy="280.0" r="0.57"/><circle cx="162.9" cy="278.1" r="0.58"/><circle cx="117.4" cy="324.6" r="0.81"/><circle cx="84.2" cy="298.8" r="0.52"/><circle cx="125.9" cy="290.1" r="0.54"/><circle cx="98.3" cy="316.6" r="0.60"/><circle cx="172.3" cy="299.1" r="0.62"/><circle cx="186.6" cy="316.2" r="0.89"/><circle cx="159.2" cy="294.9" r="0.60"/><circle cx="74.9" cy="273.3" r="0.64"/><circle cx="175.6" cy="285.9" r="0.86"/><circle cx="171.1" cy="303.2" r="0.81"/><circle cx="172.2" cy="299.1" r="0.56"/><circle cx="82.4" cy="297.2" r="0.95"/><circle cx="162.6" cy="299.5" r="0.76"/><circle cx="84.2" cy="295.1" r="0.87"/><circle cx="189.2" cy="314.1" r="0.57"/><circle cx="89.7" cy="314.3" r="0.76"/><circle cx="193.0" cy="314.0" r="0.41"/><circle cx="96.7" cy="316.3" r="0.46"/><circle cx="192.6" cy="315.8" r="0.46"/><circle cx="99.6" cy="313.4" r="0.81"/><circle cx="133.2" cy="298.0" r="0.43"/><circle cx="106.4" cy="293.5" r="0.55"/><circle cx="166.7" cy="306.0" r="0.76"/><circle cx="103.4" cy="293.7" r="0.60"/><circle cx="159.4" cy="281.8" r="0.40"/><circle cx="166.1" cy="277.0" r="0.51"/><circle cx="149.0" cy="300.7" r="0.80"/><circle cx="169.0" cy="302.9" r="0.61"/><circle cx="189.1" cy="297.9" r="0.90"/><circle cx="120.8" cy="293.2" r="0.87"/><circle cx="161.1" cy="312.3" r="0.61"/><circle cx="148.7" cy="274.4" r="0.65"/><circle cx="154.2" cy="270.4" r="0.44"/><circle cx="194.5" cy="290.3" r="0.45"/><circle cx="116.8" cy="313.8" r="0.88"/><circle cx="106.4" cy="284.9" r="0.55"/><circle cx="183.9" cy="318.1" r="0.61"/><circle cx="76.5" cy="304.0" r="0.70"/><circle cx="83.7" cy="293.8" r="0.57"/><circle cx="196.2" cy="290.7" r="0.47"/><circle cx="155.0" cy="321.9" r="0.44"/><circle cx="142.2" cy="271.2" r="0.43"/><circle cx="200.9" cy="279.0" r="0.46"/></g>
<g fill="#503890" opacity="0.35"><circle cx="145.0" cy="284.8" r="0.59"/><circle cx="194.2" cy="303.9" r="0.72"/><circle cx="171.4" cy="317.8" r="0.82"/><circle cx="140.4" cy="305.6" r="0.60"/><circle cx="69.3" cy="273.4" r="0.85"/><circle cx="120.2" cy="311.3" r="0.89"/><circle cx="119.4" cy="323.9" r="0.68"/><circle cx="110.7" cy="289.8" r="0.59"/><circle cx="139.5" cy="290.6" r="0.94"/><circle cx="98.2" cy="288.9" r="0.79"/><circle cx="173.7" cy="317.2" r="0.68"/><circle cx="152.3" cy="298.7" r="0.51"/><circle cx="152.4" cy="285.9" r="0.73"/><circle cx="97.2" cy="290.1" r="0.86"/><circle cx="118.6" cy="315.2" r="0.42"/><circle cx="143.7" cy="293.9" r="0.41"/><circle cx="89.6" cy="277.5" r="0.82"/><circle cx="185.8" cy="309.9" r="0.86"/><circle cx="114.7" cy="268.4" r="0.49"/><circle cx="84.5" cy="326.2" r="0.60"/><circle cx="121.2" cy="306.8" r="0.69"/><circle cx="96.0" cy="318.5" r="0.62"/><circle cx="131.3" cy="275.9" r="0.51"/><circle cx="155.4" cy="318.4" r="0.83"/><circle cx="63.9" cy="301.3" r="0.41"/><circle cx="187.2" cy="289.0" r="0.62"/><circle cx="75.1" cy="297.8" r="0.95"/><circle cx="143.2" cy="298.7" r="0.90"/><circle cx="166.4" cy="299.6" r="0.65"/><circle cx="86.7" cy="322.9" r="0.73"/><circle cx="97.0" cy="287.7" r="0.42"/><circle cx="156.7" cy="279.6" r="0.89"/><circle cx="103.0" cy="296.8" r="0.71"/><circle cx="193.4" cy="294.1" r="0.60"/><circle cx="119.5" cy="306.9" r="0.61"/><circle cx="107.0" cy="326.5" r="0.85"/><circle cx="69.3" cy="308.9" r="0.45"/><circle cx="152.3" cy="325.7" r="0.67"/><circle cx="131.6" cy="314.8" r="0.61"/><circle cx="169.3" cy="307.3" r="0.66"/><circle cx="126.2" cy="298.7" r="0.90"/><circle cx="104.5" cy="285.0" r="0.50"/><circle cx="107.2" cy="300.7" r="0.64"/><circle cx="155.3" cy="305.9" r="0.84"/><circle cx="176.4" cy="316.2" r="0.76"/><circle cx="151.3" cy="291.0" r="0.89"/><circle cx="94.6" cy="282.0" r="0.71"/><circle cx="87.0" cy="303.3" r="0.53"/><circle cx="93.0" cy="285.8" r="0.48"/><circle cx="111.7" cy="284.3" r="0.70"/><circle cx="163.2" cy="293.1" r="0.65"/><circle cx="112.7" cy="299.5" r="0.94"/><circle cx="99.0" cy="298.6" r="0.64"/><circle cx="201.7" cy="270.6" r="0.63"/><circle cx="167.5" cy="283.4" r="0.56"/><circle cx="158.3" cy="277.7" r="0.55"/><circle cx="172.1" cy="272.6" r="0.61"/></g>
<g fill="#503890" opacity="0.5"><circle cx="72.5" cy="320.9" r="0.88"/><circle cx="155.4" cy="294.8" r="0.60"/><circle cx="133.1" cy="271.5" r="0.62"/><circle cx="90.0" cy="298.1" r="0.84"/><circle cx="91.5" cy="320.7" r="0.52"/><circle cx="69.5" cy="296.7" r="0.69"/><circle cx="139.9" cy="286.0" r="0.51"/><circle cx="114.7" cy="285.7" r="0.60"/><circle cx="108.7" cy="310.8" r="0.51"/><circle cx="75.3" cy="307.3" r="0.66"/><circle cx="92.4" cy="273.7" r="0.66"/><circle cx="116.9" cy="316.3" r="0.90"/><circle cx="193.7" cy="300.9" r="0.43"/><circle cx="89.3" cy="290.8" r="0.93"/><circle cx="134.5" cy="277.1" r="0.62"/><circle cx="143.6" cy="282.2" r="0.81"/><circle cx="78.5" cy="276.1" r="0.87"/><circle cx="128.6" cy="272.8" r="0.81"/><circle cx="149.7" cy="294.3" r="0.42"/><circle cx="184.3" cy="316.1" r="0.70"/><circle cx="161.8" cy="284.0" r="0.82"/><circle cx="179.5" cy="298.3" r="0.70"/><circle cx="155.8" cy="287.7" r="0.68"/><circle cx="187.1" cy="312.2" r="0.86"/><circle cx="94.5" cy="283.0" r="0.61"/><circle cx="163.9" cy="278.6" r="0.70"/><circle cx="165.5" cy="314.7" r="0.42"/><circle cx="116.0" cy="315.6" r="0.61"/><circle cx="190.8" cy="295.4" r="0.54"/><circle cx="165.5" cy="291.4" r="0.53"/><circle cx="148.7" cy="274.4" r="0.41"/><circle cx="106.2" cy="294.2" r="0.64"/><circle cx="120.6" cy="296.4" r="0.55"/><circle cx="102.4" cy="284.7" r="0.60"/><circle cx="74.9" cy="301.3" r="0.47"/><circle cx="199.0" cy="273.5" r="0.63"/><circle cx="130.6" cy="276.2" r="0.91"/><circle cx="140.0" cy="287.9" r="0.86"/><circle cx="100.7" cy="284.9" r="0.81"/><circle cx="148.0" cy="280.4" r="0.91"/><circle cx="81.1" cy="304.0" r="0.89"/><circle cx="119.0" cy="284.8" r="0.49"/><circle cx="181.1" cy="289.4" r="0.53"/><circle cx="183.4" cy="321.1" r="0.59"/><circle cx="81.1" cy="295.6" r="0.52"/><circle cx="121.0" cy="268.5" r="0.53"/><circle cx="189.4" cy="323.5" r="0.63"/><circle cx="84.0" cy="304.9" r="0.94"/><circle cx="154.5" cy="280.6" r="0.55"/><circle cx="199.1" cy="311.0" r="0.43"/><circle cx="199.3" cy="310.1" r="0.81"/><circle cx="80.6" cy="284.2" r="0.52"/><circle cx="101.1" cy="285.7" r="0.42"/><circle cx="135.7" cy="309.1" r="0.58"/><circle cx="120.7" cy="306.4" r="0.85"/><circle cx="72.0" cy="305.6" r="0.46"/><circle cx="192.0" cy="311.9" r="0.59"/><circle cx="204.7" cy="323.1" r="0.42"/><circle cx="142.9" cy="322.0" r="0.58"/></g>
<g fill="#3a3090" opacity="0.5"><circle cx="194.8" cy="284.5" r="0.40"/><circle cx="73.2" cy="293.1" r="0.61"/><circle cx="90.1" cy="283.3" r="0.49"/><circle cx="171.2" cy="296.6" r="0.44"/><circle cx="92.5" cy="299.8" r="0.59"/><circle cx="170.8" cy="326.5" r="0.66"/><circle cx="119.8" cy="280.5" r="0.67"/><circle cx="162.8" cy="301.2" r="0.70"/><circle cx="107.9" cy="323.6" r="0.60"/><circle cx="94.7" cy="323.3" r="0.71"/><circle cx="106.7" cy="275.3" r="0.81"/><circle cx="142.7" cy="293.1" r="0.54"/><circle cx="97.4" cy="287.4" r="0.53"/><circle cx="161.5" cy="298.8" r="0.82"/><circle cx="94.0" cy="297.8" r="0.72"/><circle cx="163.2" cy="285.1" r="0.44"/><circle cx="139.7" cy="294.2" r="0.90"/><circle cx="171.0" cy="290.8" r="0.80"/><circle cx="126.0" cy="300.2" r="0.67"/><circle cx="156.8" cy="288.7" r="0.83"/><circle cx="91.0" cy="309.3" r="0.76"/><circle cx="137.3" cy="288.6" r="0.89"/><circle cx="63.1" cy="271.9" r="0.71"/><circle cx="200.4" cy="304.8" r="0.61"/><circle cx="158.2" cy="285.4" r="0.72"/><circle cx="74.2" cy="319.8" r="0.41"/><circle cx="132.1" cy="289.0" r="0.71"/><circle cx="76.1" cy="274.7" r="0.68"/><circle cx="94.5" cy="273.4" r="0.47"/><circle cx="151.2" cy="292.0" r="0.53"/><circle cx="105.0" cy="286.3" r="0.66"/><circle cx="183.3" cy="318.0" r="0.56"/><circle cx="73.5" cy="317.1" r="0.76"/><circle cx="130.6" cy="313.5" r="0.42"/><circle cx="178.9" cy="322.4" r="0.75"/><circle cx="132.4" cy="270.1" r="0.93"/><circle cx="201.2" cy="293.6" r="0.49"/><circle cx="97.2" cy="289.4" r="0.93"/><circle cx="121.6" cy="318.5" r="0.68"/><circle cx="113.2" cy="298.5" r="0.71"/><circle cx="112.1" cy="277.6" r="0.49"/><circle cx="110.1" cy="274.6" r="0.67"/><circle cx="205.8" cy="272.2" r="0.88"/><circle cx="181.2" cy="270.4" r="0.95"/><circle cx="139.7" cy="292.5" r="0.75"/><circle cx="64.8" cy="292.6" r="0.82"/><circle cx="64.3" cy="278.7" r="0.55"/><circle cx="202.3" cy="284.7" r="0.73"/><circle cx="98.8" cy="311.7" r="0.79"/><circle cx="205.8" cy="321.2" r="0.81"/><circle cx="70.6" cy="284.9" r="0.61"/><circle cx="151.4" cy="271.6" r="0.79"/><circle cx="77.1" cy="298.0" r="0.77"/><circle cx="164.2" cy="312.6" r="0.46"/><circle cx="140.4" cy="282.1" r="0.50"/><circle cx="171.7" cy="301.5" r="0.73"/><circle cx="140.1" cy="310.8" r="0.93"/><circle cx="69.3" cy="324.2" r="0.85"/></g>
<g fill="#4a3aa0" opacity="0.5"><circle cx="124.7" cy="310.5" r="0.94"/><circle cx="116.8" cy="302.8" r="0.59"/><circle cx="125.2" cy="309.2" r="0.77"/><circle cx="96.4" cy="272.6" r="0.58"/><circle cx="112.5" cy="275.3" r="0.94"/><circle cx="169.8" cy="285.0" r="0.64"/><circle cx="142.0" cy="296.9" r="0.90"/><circle cx="81.8" cy="311.0" r="0.42"/><circle cx="149.0" cy="269.7" r="0.81"/><circle cx="195.7" cy="283.0" r="0.70"/><circle cx="170.7" cy="316.4" r="0.51"/><circle cx="161.2" cy="317.9" r="0.50"/><circle cx="189.8" cy="312.3" r="0.82"/><circle cx="102.7" cy="305.7" r="0.43"/><circle cx="180.6" cy="310.2" r="0.49"/><circle cx="98.2" cy="284.6" r="0.95"/><circle cx="171.9" cy="299.2" r="0.67"/><circle cx="146.7" cy="278.9" r="0.56"/><circle cx="114.0" cy="301.8" r="0.67"/><circle cx="204.2" cy="289.0" r="0.61"/><circle cx="71.7" cy="298.6" r="0.43"/><circle cx="78.8" cy="288.3" r="0.51"/><circle cx="117.0" cy="297.1" r="0.58"/><circle cx="193.8" cy="313.5" r="0.63"/><circle cx="91.6" cy="300.2" r="0.87"/><circle cx="94.4" cy="313.8" r="0.61"/><circle cx="80.7" cy="278.2" r="0.94"/><circle cx="186.0" cy="315.4" r="0.86"/><circle cx="164.8" cy="279.5" r="0.40"/><circle cx="193.1" cy="306.3" r="0.85"/><circle cx="114.7" cy="313.3" r="0.93"/><circle cx="158.7" cy="293.5" r="0.62"/><circle cx="101.0" cy="310.9" r="0.51"/><circle cx="155.1" cy="294.4" r="0.53"/><circle cx="63.3" cy="316.0" r="0.83"/><circle cx="83.6" cy="286.4" r="0.56"/><circle cx="193.6" cy="300.5" r="0.58"/><circle cx="178.0" cy="274.1" r="0.88"/><circle cx="105.7" cy="281.0" r="0.42"/><circle cx="119.5" cy="297.1" r="0.60"/><circle cx="192.9" cy="319.7" r="0.94"/><circle cx="74.8" cy="272.0" r="0.70"/><circle cx="129.4" cy="282.7" r="0.42"/><circle cx="196.2" cy="318.4" r="0.72"/><circle cx="130.6" cy="277.9" r="0.66"/><circle cx="175.2" cy="290.5" r="0.79"/><circle cx="162.8" cy="289.6" r="0.57"/><circle cx="110.7" cy="283.8" r="0.65"/><circle cx="166.9" cy="320.6" r="0.59"/><circle cx="124.4" cy="279.9" r="0.74"/><circle cx="107.8" cy="309.0" r="0.94"/><circle cx="80.9" cy="305.2" r="0.75"/><circle cx="164.1" cy="295.9" r="0.90"/><circle cx="192.6" cy="307.9" r="0.90"/><circle cx="203.4" cy="277.1" r="0.57"/><circle cx="192.0" cy="296.8" r="0.92"/><circle cx="165.8" cy="288.8" r="0.46"/><circle cx="104.9" cy="271.1" r="0.61"/><circle cx="163.9" cy="284.0" r="0.52"/><circle cx="84.9" cy="294.5" r="0.93"/><circle cx="102.2" cy="318.8" r="0.77"/></g>
<g fill="#2a2478" opacity="0.5"><circle cx="152.8" cy="285.6" r="0.50"/><circle cx="107.3" cy="281.1" r="0.50"/><circle cx="70.6" cy="321.9" r="0.93"/><circle cx="155.5" cy="302.6" r="0.64"/><circle cx="155.7" cy="313.9" r="0.53"/><circle cx="148.3" cy="281.2" r="0.83"/><circle cx="94.3" cy="273.6" r="0.74"/><circle cx="122.0" cy="312.3" r="0.41"/><circle cx="108.4" cy="291.2" r="0.54"/><circle cx="103.1" cy="275.7" r="0.59"/><circle cx="176.8" cy="290.6" r="0.55"/><circle cx="94.5" cy="294.1" r="0.78"/><circle cx="160.8" cy="324.8" r="0.83"/><circle cx="93.6" cy="275.2" r="0.53"/><circle cx="172.8" cy="296.5" r="0.87"/><circle cx="162.9" cy="286.8" r="0.61"/><circle cx="186.3" cy="316.3" r="0.64"/><circle cx="111.9" cy="278.4" r="0.71"/><circle cx="109.1" cy="322.8" r="0.80"/><circle cx="169.6" cy="297.4" r="0.82"/><circle cx="107.5" cy="278.6" r="0.60"/><circle cx="108.4" cy="281.5" r="0.82"/><circle cx="205.0" cy="285.3" r="0.90"/><circle cx="161.8" cy="280.5" r="0.44"/><circle cx="119.6" cy="305.8" r="0.86"/><circle cx="95.6" cy="283.0" r="0.89"/><circle cx="148.3" cy="289.3" r="0.51"/><circle cx="168.0" cy="284.3" r="0.93"/><circle cx="171.1" cy="298.2" r="0.53"/><circle cx="123.2" cy="273.7" r="0.80"/><circle cx="194.6" cy="283.5" r="0.87"/><circle cx="193.0" cy="314.0" r="0.55"/><circle cx="104.3" cy="281.3" r="0.70"/><circle cx="106.4" cy="280.3" r="0.73"/><circle cx="165.0" cy="289.2" r="0.45"/><circle cx="204.1" cy="294.0" r="0.51"/><circle cx="149.6" cy="295.6" r="0.75"/><circle cx="82.8" cy="306.5" r="0.87"/><circle cx="85.0" cy="298.9" r="0.44"/><circle cx="155.3" cy="304.8" r="0.94"/><circle cx="78.9" cy="277.8" r="0.47"/><circle cx="95.6" cy="275.0" r="0.90"/><circle cx="82.1" cy="302.8" r="0.93"/><circle cx="179.6" cy="304.3" r="0.76"/><circle cx="86.7" cy="309.2" r="0.78"/><circle cx="74.7" cy="309.8" r="0.51"/><circle cx="111.8" cy="300.7" r="0.72"/><circle cx="150.8" cy="293.8" r="0.86"/><circle cx="148.9" cy="317.8" r="0.47"/><circle cx="163.9" cy="298.2" r="0.58"/><circle cx="156.6" cy="296.3" r="0.43"/><circle cx="148.7" cy="280.6" r="0.52"/><circle cx="169.9" cy="280.9" r="0.78"/><circle cx="106.8" cy="279.0" r="0.67"/><circle cx="179.9" cy="302.2" r="0.82"/><circle cx="123.0" cy="293.4" r="0.54"/><circle cx="76.9" cy="290.9" r="0.73"/><circle cx="72.4" cy="326.7" r="0.74"/><circle cx="98.5" cy="283.2" r="0.52"/><circle cx="180.4" cy="280.2" r="0.92"/><circle cx="150.3" cy="310.4" r="0.70"/><circle cx="162.3" cy="303.5" r="0.78"/><circle cx="205.4" cy="302.5" r="0.88"/><circle cx="118.0" cy="314.2" r="0.52"/><circle cx="82.2" cy="280.9" r="0.78"/><circle cx="195.5" cy="326.5" r="0.83"/><circle cx="94.1" cy="282.8" r="0.94"/></g>
<g fill="#2a2478" opacity="0.35"><circle cx="152.0" cy="298.1" r="0.81"/><circle cx="140.4" cy="315.9" r="0.47"/><circle cx="174.0" cy="268.1" r="0.47"/><circle cx="177.1" cy="300.1" r="0.88"/><circle cx="83.5" cy="295.1" r="0.49"/><circle cx="197.6" cy="291.4" r="0.92"/><circle cx="105.2" cy="284.1" r="0.42"/><circle cx="168.7" cy="296.6" r="0.70"/><circle cx="158.6" cy="303.6" r="0.74"/><circle cx="127.7" cy="315.2" r="0.63"/><circle cx="170.0" cy="310.6" r="0.93"/><circle cx="89.6" cy="325.9" r="0.81"/><circle cx="117.8" cy="308.9" r="0.60"/><circle cx="79.7" cy="297.4" r="0.58"/><circle cx="113.3" cy="281.1" r="0.73"/><circle cx="67.4" cy="293.8" r="0.75"/><circle cx="191.5" cy="325.3" r="0.74"/><circle cx="154.5" cy="286.1" r="0.93"/><circle cx="128.9" cy="311.2" r="0.81"/><circle cx="169.6" cy="308.7" r="0.55"/><circle cx="150.6" cy="292.4" r="0.76"/><circle cx="155.4" cy="281.7" r="0.67"/><circle cx="158.1" cy="286.4" r="0.89"/><circle cx="183.9" cy="308.8" r="0.41"/><circle cx="155.5" cy="311.4" r="0.76"/><circle cx="169.5" cy="290.6" r="0.69"/><circle cx="192.7" cy="305.2" r="0.92"/><circle cx="174.1" cy="309.9" r="0.58"/><circle cx="153.7" cy="289.4" r="0.87"/><circle cx="195.0" cy="313.8" r="0.46"/><circle cx="192.2" cy="274.4" r="0.90"/><circle cx="147.2" cy="287.3" r="0.87"/><circle cx="157.8" cy="287.3" r="0.68"/><circle cx="107.8" cy="287.7" r="0.43"/><circle cx="69.2" cy="302.5" r="0.92"/><circle cx="102.8" cy="320.4" r="0.41"/><circle cx="88.3" cy="289.5" r="0.74"/><circle cx="167.6" cy="280.9" r="0.41"/><circle cx="95.4" cy="292.8" r="0.54"/><circle cx="167.1" cy="307.8" r="0.65"/><circle cx="103.0" cy="284.1" r="0.52"/><circle cx="132.4" cy="298.0" r="0.58"/><circle cx="117.6" cy="311.2" r="0.91"/><circle cx="143.2" cy="288.1" r="0.66"/><circle cx="143.5" cy="299.3" r="0.59"/><circle cx="177.6" cy="281.8" r="0.83"/><circle cx="139.2" cy="294.4" r="0.60"/><circle cx="197.0" cy="308.1" r="0.51"/><circle cx="75.1" cy="292.4" r="0.58"/><circle cx="116.0" cy="313.8" r="0.61"/><circle cx="200.1" cy="319.4" r="0.89"/><circle cx="195.2" cy="309.2" r="0.69"/><circle cx="101.9" cy="316.9" r="0.80"/><circle cx="168.4" cy="288.1" r="0.49"/><circle cx="96.4" cy="311.0" r="0.45"/><circle cx="198.0" cy="302.0" r="0.46"/><circle cx="174.1" cy="295.4" r="0.59"/><circle cx="63.7" cy="299.8" r="0.57"/><circle cx="184.3" cy="302.1" r="0.47"/><circle cx="114.3" cy="280.3" r="0.72"/><circle cx="117.3" cy="310.1" r="0.71"/><circle cx="161.1" cy="313.9" r="0.77"/></g>
<g fill="#3a3090" opacity="0.35"><circle cx="191.7" cy="302.0" r="0.68"/><circle cx="162.6" cy="284.8" r="0.95"/><circle cx="69.4" cy="278.8" r="0.45"/><circle cx="84.8" cy="295.6" r="0.60"/><circle cx="139.5" cy="279.1" r="0.85"/><circle cx="104.8" cy="323.1" r="0.80"/><circle cx="159.5" cy="306.2" r="0.82"/><circle cx="121.5" cy="319.5" r="0.88"/><circle cx="192.1" cy="298.0" r="0.53"/><circle cx="78.3" cy="319.2" r="0.94"/><circle cx="150.4" cy="283.5" r="0.55"/><circle cx="71.3" cy="301.0" r="0.71"/><circle cx="64.0" cy="270.2" r="0.87"/><circle cx="96.5" cy="292.7" r="0.91"/><circle cx="150.3" cy="283.3" r="0.65"/><circle cx="183.6" cy="284.5" r="0.61"/><circle cx="180.6" cy="290.0" r="0.64"/><circle cx="103.4" cy="284.8" r="0.47"/><circle cx="81.8" cy="309.1" r="0.88"/><circle cx="99.6" cy="316.7" r="0.87"/><circle cx="165.7" cy="286.8" r="0.57"/><circle cx="165.4" cy="297.1" r="0.89"/><circle cx="160.8" cy="281.0" r="0.92"/><circle cx="168.3" cy="309.5" r="0.82"/><circle cx="180.1" cy="293.6" r="0.84"/><circle cx="84.4" cy="299.7" r="0.83"/><circle cx="201.5" cy="298.0" r="0.93"/><circle cx="94.0" cy="304.9" r="0.42"/><circle cx="127.0" cy="285.8" r="0.56"/><circle cx="83.3" cy="282.5" r="0.41"/><circle cx="161.2" cy="281.3" r="0.41"/><circle cx="66.3" cy="319.9" r="0.88"/><circle cx="140.1" cy="303.8" r="0.81"/><circle cx="127.5" cy="301.6" r="0.74"/><circle cx="109.9" cy="292.6" r="0.77"/><circle cx="164.9" cy="297.6" r="0.80"/><circle cx="68.1" cy="325.9" r="0.74"/><circle cx="83.7" cy="274.3" r="0.49"/><circle cx="153.4" cy="292.5" r="0.63"/><circle cx="178.6" cy="293.7" r="0.68"/><circle cx="100.6" cy="324.0" r="0.74"/><circle cx="101.2" cy="320.9" r="0.65"/><circle cx="94.0" cy="306.7" r="0.72"/><circle cx="111.8" cy="282.4" r="0.80"/><circle cx="161.6" cy="299.9" r="0.70"/><circle cx="66.0" cy="313.7" r="0.75"/><circle cx="107.1" cy="270.8" r="0.52"/><circle cx="97.1" cy="318.2" r="0.60"/><circle cx="75.0" cy="316.6" r="0.87"/><circle cx="170.5" cy="317.0" r="0.88"/><circle cx="204.7" cy="316.6" r="0.74"/><circle cx="107.0" cy="288.2" r="0.66"/><circle cx="99.4" cy="290.8" r="0.90"/><circle cx="163.6" cy="289.6" r="0.46"/><circle cx="145.5" cy="319.4" r="0.68"/><circle cx="96.4" cy="294.7" r="0.58"/><circle cx="178.5" cy="305.2" r="0.87"/><circle cx="142.2" cy="299.5" r="0.68"/><circle cx="156.3" cy="304.7" r="0.75"/><circle cx="135.2" cy="316.0" r="0.57"/><circle cx="156.7" cy="275.5" r="0.79"/><circle cx="119.0" cy="316.3" r="0.78"/><circle cx="70.6" cy="287.8" r="0.55"/><circle cx="99.7" cy="272.3" r="0.94"/></g>
<g fill="#4a3aa0" opacity="0.35"><circle cx="189.9" cy="275.0" r="0.85"/><circle cx="75.3" cy="297.6" r="0.59"/><circle cx="126.4" cy="310.4" r="0.48"/><circle cx="185.3" cy="303.1" r="0.57"/><circle cx="173.5" cy="312.7" r="0.81"/><circle cx="103.7" cy="290.1" r="0.64"/><circle cx="127.7" cy="324.6" r="0.69"/><circle cx="200.3" cy="306.0" r="0.76"/><circle cx="193.8" cy="272.5" r="0.94"/><circle cx="110.4" cy="292.7" r="0.76"/><circle cx="168.2" cy="298.8" r="0.50"/><circle cx="106.6" cy="295.9" r="0.57"/><circle cx="168.3" cy="282.4" r="0.48"/><circle cx="172.3" cy="312.8" r="0.94"/><circle cx="91.2" cy="294.2" r="0.89"/><circle cx="186.3" cy="282.4" r="0.89"/><circle cx="95.3" cy="294.4" r="0.66"/><circle cx="116.9" cy="297.8" r="0.90"/><circle cx="154.6" cy="312.2" r="0.56"/><circle cx="170.6" cy="270.5" r="0.51"/><circle cx="204.1" cy="325.2" r="0.92"/><circle cx="118.5" cy="312.6" r="0.82"/><circle cx="114.4" cy="313.7" r="0.63"/><circle cx="108.8" cy="273.8" r="0.61"/><circle cx="198.0" cy="310.2" r="0.63"/><circle cx="174.5" cy="307.9" r="0.65"/><circle cx="102.4" cy="292.9" r="0.86"/><circle cx="111.1" cy="277.2" r="0.48"/><circle cx="196.3" cy="270.7" r="0.46"/><circle cx="100.1" cy="277.8" r="0.92"/><circle cx="149.9" cy="287.8" r="0.84"/><circle cx="166.1" cy="281.5" r="0.49"/><circle cx="126.6" cy="316.8" r="0.56"/><circle cx="109.1" cy="316.4" r="0.59"/><circle cx="78.6" cy="301.2" r="0.86"/><circle cx="155.6" cy="293.9" r="0.79"/><circle cx="176.9" cy="304.1" r="0.70"/><circle cx="111.6" cy="286.7" r="0.58"/><circle cx="143.6" cy="271.2" r="0.88"/><circle cx="165.5" cy="281.5" r="0.76"/><circle cx="78.1" cy="295.1" r="0.46"/><circle cx="190.9" cy="300.5" r="0.68"/><circle cx="176.5" cy="297.1" r="0.80"/><circle cx="112.6" cy="290.2" r="0.72"/><circle cx="171.2" cy="311.2" r="0.66"/><circle cx="171.1" cy="284.7" r="0.74"/><circle cx="167.7" cy="305.8" r="0.45"/><circle cx="192.5" cy="320.0" r="0.87"/><circle cx="63.4" cy="320.5" r="0.60"/><circle cx="102.5" cy="313.0" r="0.51"/><circle cx="81.1" cy="301.9" r="0.69"/><circle cx="67.3" cy="275.3" r="0.44"/><circle cx="120.2" cy="305.4" r="0.82"/><circle cx="113.7" cy="300.7" r="0.70"/><circle cx="145.8" cy="289.3" r="0.56"/><circle cx="107.9" cy="293.3" r="0.80"/><circle cx="166.9" cy="271.3" r="0.50"/><circle cx="92.7" cy="304.2" r="0.80"/><circle cx="88.4" cy="279.7" r="0.90"/><circle cx="119.2" cy="296.8" r="0.89"/><circle cx="147.0" cy="274.2" r="0.84"/><circle cx="83.6" cy="300.7" r="0.73"/><circle cx="70.8" cy="277.2" r="0.81"/><circle cx="96.2" cy="277.1" r="0.78"/><circle cx="111.7" cy="305.4" r="0.50"/><circle cx="73.5" cy="313.6" r="0.52"/><circle cx="184.1" cy="285.9" r="0.83"/></g>
<g fill="#3a3090" opacity="0.65"><circle cx="111.8" cy="318.3" r="0.67"/><circle cx="91.6" cy="277.5" r="0.87"/><circle cx="120.7" cy="277.9" r="0.49"/><circle cx="108.3" cy="271.3" r="0.74"/><circle cx="159.9" cy="273.7" r="0.88"/><circle cx="87.0" cy="283.7" r="0.94"/><circle cx="152.9" cy="306.9" r="0.94"/><circle cx="121.4" cy="302.0" r="0.67"/><circle cx="91.8" cy="297.8" r="0.70"/><circle cx="189.5" cy="276.1" r="0.83"/><circle cx="156.6" cy="303.0" r="0.72"/><circle cx="156.2" cy="311.7" r="0.45"/><circle cx="116.4" cy="279.6" r="0.63"/><circle cx="166.3" cy="313.8" r="0.85"/><circle cx="162.4" cy="290.0" r="0.81"/><circle cx="88.1" cy="275.7" r="0.89"/><circle cx="85.4" cy="300.3" r="0.67"/><circle cx="191.2" cy="285.1" r="0.41"/><circle cx="162.7" cy="306.9" r="0.61"/><circle cx="146.4" cy="289.0" r="0.76"/><circle cx="193.1" cy="280.3" r="0.50"/><circle cx="95.4" cy="282.7" r="0.87"/><circle cx="184.2" cy="289.6" r="0.47"/><circle cx="153.6" cy="281.1" r="0.75"/><circle cx="94.0" cy="280.2" r="0.43"/><circle cx="127.8" cy="302.3" r="0.66"/><circle cx="147.8" cy="285.4" r="0.81"/><circle cx="80.1" cy="295.7" r="0.68"/><circle cx="169.1" cy="295.5" r="0.95"/><circle cx="112.3" cy="276.3" r="0.57"/><circle cx="117.6" cy="323.0" r="0.46"/><circle cx="136.6" cy="286.2" r="0.62"/><circle cx="189.7" cy="314.5" r="0.92"/><circle cx="131.1" cy="293.4" r="0.49"/><circle cx="154.2" cy="276.0" r="0.90"/><circle cx="107.9" cy="284.3" r="0.72"/><circle cx="157.9" cy="298.0" r="0.81"/><circle cx="125.4" cy="320.0" r="0.76"/><circle cx="192.6" cy="303.7" r="0.72"/><circle cx="79.8" cy="315.4" r="0.62"/><circle cx="166.1" cy="298.9" r="0.65"/><circle cx="153.2" cy="322.1" r="0.66"/><circle cx="175.0" cy="310.7" r="0.93"/><circle cx="111.0" cy="324.1" r="0.85"/><circle cx="169.3" cy="307.3" r="0.57"/><circle cx="89.8" cy="282.2" r="0.87"/><circle cx="134.2" cy="307.6" r="0.67"/><circle cx="174.2" cy="297.2" r="0.65"/></g>
</g>
<circle cx="168.1" cy="303.2" r="0.56" fill="#6a3a98" opacity="0.8"/>
<circle cx="167.5" cy="300.9" r="0.64" fill="#8a5ac0" opacity="0.8"/>
<circle cx="189.4" cy="303.8" r="0.56" fill="#7a4ab0" opacity="0.8"/>
<circle cx="188.6" cy="312.7" r="0.56" fill="#7a4ab0" opacity="0.8"/>
<circle cx="163.7" cy="286.8" r="0.74" fill="#8a5ac0" opacity="0.8"/>
<circle cx="198.0" cy="312.1" r="0.44" fill="#6a3a98" opacity="0.8"/>
<circle cx="154.9" cy="291.7" r="0.45" fill="#8a5ac0" opacity="0.8"/>
<circle cx="159.2" cy="311.0" r="0.54" fill="#6a3a98" opacity="0.8"/>
<circle cx="202.4" cy="288.3" r="0.73" fill="#7a4ab0" opacity="0.8"/>
<circle cx="188.9" cy="313.7" r="0.69" fill="#7a4ab0" opacity="0.8"/>
<circle cx="191.7" cy="313.3" r="0.48" fill="#6a3a98" opacity="0.8"/>
<circle cx="181.1" cy="289.0" r="0.69" fill="#6a3a98" opacity="0.8"/>
<circle cx="200.0" cy="292.7" r="0.50" fill="#7a4ab0" opacity="0.8"/>
<circle cx="156.3" cy="299.5" r="0.61" fill="#8a5ac0" opacity="0.8"/>
<circle cx="187.8" cy="301.7" r="0.42" fill="#8a5ac0" opacity="0.8"/>
<circle cx="157.1" cy="290.2" r="0.69" fill="#7a4ab0" opacity="0.8"/>
<circle cx="171.2" cy="320.9" r="0.40" fill="#6a3a98" opacity="0.8"/>
<circle cx="177.4" cy="298.5" r="0.53" fill="#7a4ab0" opacity="0.8"/>
<circle cx="185.1" cy="292.2" r="0.75" fill="#6a3a98" opacity="0.8"/>
<circle cx="157.9" cy="290.3" r="0.61" fill="#6a3a98" opacity="0.8"/>
<circle cx="192.8" cy="286.2" r="0.50" fill="#8a5ac0" opacity="0.8"/>
<circle cx="170.0" cy="302.8" r="0.58" fill="#6a3a98" opacity="0.8"/>
<circle cx="180.1" cy="299.4" r="0.50" fill="#7a4ab0" opacity="0.8"/>
<circle cx="191.2" cy="291.5" r="0.75" fill="#6a3a98" opacity="0.8"/>
<circle cx="180.3" cy="307.4" r="0.46" fill="#7a4ab0" opacity="0.8"/>
<ellipse cx="118" cy="312" rx="4" ry="6" fill="#2a2090" opacity="0.6" filter="url(#bl3)"/>
<ellipse cx="191" cy="307" rx="4" ry="6" fill="#2a2090" opacity="0.6" filter="url(#bl3)"/>
</g>
<rect x="62.7" y="335.8" width="143" height="65.6" fill="#171446"/>
<g clip-path="url(#mbot)">
<g filter="url(#bl1)"><circle cx="184.7" cy="348.7" r="1.4" fill="#2a2888" opacity="0.23"/><circle cx="196.5" cy="337.2" r="1.7" fill="#3530a0" opacity="0.42"/><circle cx="185.5" cy="353.0" r="0.9" fill="#262070" opacity="0.47"/><circle cx="119.7" cy="362.0" r="0.8" fill="#121040" opacity="0.46"/><circle cx="184.9" cy="343.9" r="0.7" fill="#262070" opacity="0.50"/><circle cx="117.8" cy="371.9" r="0.9" fill="#3530a0" opacity="0.40"/><circle cx="106.1" cy="349.0" r="1.2" fill="#2a2888" opacity="0.25"/><circle cx="191.4" cy="351.5" r="1.6" fill="#262070" opacity="0.46"/><circle cx="88.4" cy="388.0" r="1.3" fill="#3530a0" opacity="0.44"/><circle cx="63.0" cy="346.5" r="1.3" fill="#121040" opacity="0.37"/><circle cx="135.3" cy="339.5" r="0.9" fill="#3530a0" opacity="0.31"/><circle cx="156.9" cy="360.0" r="1.0" fill="#3530a0" opacity="0.40"/><circle cx="88.0" cy="392.6" r="1.3" fill="#3530a0" opacity="0.41"/><circle cx="199.3" cy="349.3" r="0.7" fill="#262070" opacity="0.39"/><circle cx="173.1" cy="393.0" r="1.3" fill="#262070" opacity="0.41"/><circle cx="67.9" cy="391.1" r="0.8" fill="#3530a0" opacity="0.27"/><circle cx="176.1" cy="367.9" r="1.5" fill="#2a2888" opacity="0.22"/><circle cx="200.6" cy="364.9" r="1.1" fill="#121040" opacity="0.28"/><circle cx="134.8" cy="344.1" r="1.8" fill="#2a2888" opacity="0.30"/><circle cx="152.3" cy="344.3" r="1.6" fill="#121040" opacity="0.41"/><circle cx="142.2" cy="391.6" r="1.4" fill="#262070" opacity="0.47"/><circle cx="102.1" cy="367.4" r="1.4" fill="#3530a0" opacity="0.38"/><circle cx="118.4" cy="359.2" r="1.0" fill="#262070" opacity="0.38"/><circle cx="134.3" cy="384.2" r="1.3" fill="#2a2888" opacity="0.47"/><circle cx="161.3" cy="357.1" r="1.8" fill="#2a2888" opacity="0.42"/><circle cx="119.7" cy="355.1" r="1.3" fill="#3530a0" opacity="0.34"/><circle cx="75.7" cy="374.3" r="0.7" fill="#3530a0" opacity="0.22"/><circle cx="94.7" cy="378.4" r="1.6" fill="#3530a0" opacity="0.43"/><circle cx="66.3" cy="384.9" r="0.7" fill="#121040" opacity="0.42"/><circle cx="141.1" cy="339.5" r="1.0" fill="#2a2888" opacity="0.32"/><circle cx="124.6" cy="384.4" r="1.6" fill="#3530a0" opacity="0.31"/><circle cx="190.9" cy="369.6" r="1.0" fill="#2a2888" opacity="0.24"/><circle cx="102.6" cy="348.5" r="0.7" fill="#2a2888" opacity="0.45"/><circle cx="92.2" cy="351.3" r="1.0" fill="#2a2888" opacity="0.37"/><circle cx="76.6" cy="370.5" r="1.2" fill="#262070" opacity="0.40"/><circle cx="132.7" cy="373.4" r="1.0" fill="#2a2888" opacity="0.45"/><circle cx="80.3" cy="382.6" r="1.6" fill="#262070" opacity="0.47"/><circle cx="166.4" cy="354.5" r="0.7" fill="#121040" opacity="0.44"/><circle cx="92.9" cy="361.5" r="1.8" fill="#3530a0" opacity="0.20"/><circle cx="89.8" cy="346.2" r="1.4" fill="#262070" opacity="0.27"/><circle cx="172.9" cy="372.2" r="1.2" fill="#2a2888" opacity="0.30"/><circle cx="72.0" cy="392.0" r="1.1" fill="#3530a0" opacity="0.28"/><circle cx="67.8" cy="364.0" r="0.6" fill="#2a2888" opacity="0.30"/><circle cx="129.4" cy="381.0" r="1.0" fill="#3530a0" opacity="0.39"/><circle cx="128.9" cy="374.7" r="1.5" fill="#3530a0" opacity="0.36"/><circle cx="100.7" cy="384.1" r="1.0" fill="#2a2888" opacity="0.20"/><circle cx="167.6" cy="393.3" r="0.8" fill="#2a2888" opacity="0.36"/><circle cx="123.5" cy="374.0" r="1.5" fill="#2a2888" opacity="0.47"/><circle cx="81.0" cy="376.0" r="0.8" fill="#121040" opacity="0.20"/><circle cx="190.2" cy="378.7" r="1.4" fill="#121040" opacity="0.31"/><circle cx="73.9" cy="363.9" r="1.2" fill="#3530a0" opacity="0.40"/><circle cx="134.3" cy="352.5" r="1.5" fill="#2a2888" opacity="0.42"/><circle cx="89.0" cy="351.0" r="1.0" fill="#121040" opacity="0.27"/><circle cx="191.3" cy="343.0" r="1.3" fill="#3530a0" opacity="0.24"/><circle cx="67.0" cy="358.0" r="1.7" fill="#262070" opacity="0.43"/><circle cx="64.5" cy="336.8" r="1.3" fill="#121040" opacity="0.39"/><circle cx="135.4" cy="380.2" r="1.2" fill="#2a2888" opacity="0.41"/><circle cx="96.5" cy="338.5" r="1.1" fill="#3530a0" opacity="0.29"/><circle cx="197.8" cy="390.8" r="0.7" fill="#121040" opacity="0.23"/><circle cx="186.4" cy="387.0" r="1.5" fill="#3530a0" opacity="0.35"/><circle cx="123.0" cy="341.3" r="1.8" fill="#121040" opacity="0.39"/><circle cx="133.9" cy="388.5" r="1.1" fill="#121040" opacity="0.42"/><circle cx="82.6" cy="360.1" r="0.8" fill="#2a2888" opacity="0.42"/><circle cx="176.2" cy="390.2" r="1.6" fill="#262070" opacity="0.21"/><circle cx="189.2" cy="341.8" r="1.4" fill="#121040" opacity="0.42"/><circle cx="180.6" cy="386.9" r="0.9" fill="#262070" opacity="0.44"/><circle cx="113.1" cy="365.1" r="0.8" fill="#2a2888" opacity="0.38"/><circle cx="180.2" cy="337.2" r="1.7" fill="#2a2888" opacity="0.42"/><circle cx="163.7" cy="361.0" r="0.9" fill="#2a2888" opacity="0.26"/><circle cx="63.4" cy="336.4" r="1.5" fill="#262070" opacity="0.45"/><circle cx="200.9" cy="378.2" r="1.8" fill="#262070" opacity="0.41"/><circle cx="129.5" cy="355.3" r="1.7" fill="#262070" opacity="0.25"/><circle cx="65.6" cy="386.3" r="1.4" fill="#262070" opacity="0.24"/><circle cx="136.6" cy="359.7" r="1.0" fill="#2a2888" opacity="0.49"/><circle cx="71.4" cy="392.7" r="1.4" fill="#262070" opacity="0.37"/><circle cx="76.1" cy="360.5" r="0.7" fill="#3530a0" opacity="0.48"/><circle cx="166.5" cy="382.9" r="1.7" fill="#3530a0" opacity="0.29"/><circle cx="146.4" cy="386.8" r="1.6" fill="#3530a0" opacity="0.47"/><circle cx="184.3" cy="349.0" r="0.6" fill="#3530a0" opacity="0.42"/><circle cx="154.1" cy="349.5" r="1.2" fill="#3530a0" opacity="0.38"/><circle cx="65.4" cy="390.8" r="1.7" fill="#262070" opacity="0.22"/><circle cx="155.8" cy="385.8" r="0.7" fill="#121040" opacity="0.25"/><circle cx="119.3" cy="382.7" r="0.7" fill="#3530a0" opacity="0.37"/><circle cx="87.4" cy="385.4" r="1.0" fill="#121040" opacity="0.50"/><circle cx="88.9" cy="387.8" r="1.8" fill="#121040" opacity="0.21"/><circle cx="89.2" cy="377.9" r="1.5" fill="#2a2888" opacity="0.44"/><circle cx="85.0" cy="391.7" r="0.8" fill="#2a2888" opacity="0.39"/><circle cx="173.3" cy="350.3" r="1.1" fill="#2a2888" opacity="0.44"/><circle cx="202.9" cy="336.6" r="1.1" fill="#3530a0" opacity="0.35"/><circle cx="145.6" cy="386.6" r="0.6" fill="#3530a0" opacity="0.30"/><circle cx="96.4" cy="347.5" r="1.5" fill="#2a2888" opacity="0.43"/><circle cx="87.8" cy="378.8" r="1.1" fill="#3530a0" opacity="0.50"/><circle cx="103.2" cy="377.9" r="1.7" fill="#2a2888" opacity="0.33"/><circle cx="69.8" cy="392.9" r="1.3" fill="#262070" opacity="0.25"/><circle cx="189.9" cy="372.3" r="0.7" fill="#3530a0" opacity="0.37"/><circle cx="114.2" cy="342.9" r="0.9" fill="#2a2888" opacity="0.43"/><circle cx="66.8" cy="386.9" r="0.9" fill="#3530a0" opacity="0.48"/><circle cx="103.5" cy="382.9" r="1.0" fill="#3530a0" opacity="0.32"/><circle cx="98.1" cy="372.1" r="1.7" fill="#121040" opacity="0.36"/><circle cx="155.7" cy="360.6" r="1.0" fill="#262070" opacity="0.45"/><circle cx="116.9" cy="344.0" r="1.2" fill="#121040" opacity="0.35"/><circle cx="126.2" cy="351.1" r="1.3" fill="#262070" opacity="0.47"/><circle cx="91.3" cy="391.2" r="1.5" fill="#262070" opacity="0.31"/><circle cx="112.5" cy="385.1" r="1.7" fill="#262070" opacity="0.47"/><circle cx="80.0" cy="365.5" r="1.0" fill="#121040" opacity="0.39"/><circle cx="110.5" cy="340.3" r="1.0" fill="#3530a0" opacity="0.30"/><circle cx="68.0" cy="379.2" r="1.3" fill="#121040" opacity="0.44"/><circle cx="138.8" cy="356.3" r="1.7" fill="#262070" opacity="0.24"/><circle cx="156.5" cy="352.8" r="1.0" fill="#3530a0" opacity="0.41"/><circle cx="84.6" cy="386.3" r="1.6" fill="#3530a0" opacity="0.39"/><circle cx="124.9" cy="337.1" r="1.3" fill="#262070" opacity="0.23"/><circle cx="202.8" cy="358.1" r="1.0" fill="#3530a0" opacity="0.25"/><circle cx="95.7" cy="382.2" r="0.7" fill="#2a2888" opacity="0.33"/><circle cx="129.9" cy="342.5" r="0.8" fill="#262070" opacity="0.22"/><circle cx="163.3" cy="349.5" r="0.7" fill="#2a2888" opacity="0.27"/><circle cx="78.2" cy="350.4" r="0.6" fill="#2a2888" opacity="0.30"/><circle cx="132.4" cy="351.8" r="1.5" fill="#262070" opacity="0.34"/><circle cx="93.4" cy="353.7" r="1.7" fill="#2a2888" opacity="0.23"/><circle cx="74.7" cy="344.5" r="1.3" fill="#262070" opacity="0.23"/><circle cx="135.1" cy="344.2" r="1.3" fill="#262070" opacity="0.49"/><circle cx="180.6" cy="347.0" r="1.5" fill="#2a2888" opacity="0.20"/><circle cx="67.5" cy="352.8" r="1.7" fill="#2a2888" opacity="0.39"/><circle cx="158.1" cy="386.3" r="1.4" fill="#2a2888" opacity="0.39"/><circle cx="200.4" cy="371.1" r="0.9" fill="#262070" opacity="0.49"/><circle cx="150.6" cy="353.1" r="1.6" fill="#3530a0" opacity="0.43"/><circle cx="134.9" cy="365.2" r="1.4" fill="#121040" opacity="0.31"/><circle cx="196.0" cy="353.7" r="0.7" fill="#3530a0" opacity="0.30"/><circle cx="133.8" cy="341.3" r="1.5" fill="#2a2888" opacity="0.39"/><circle cx="100.5" cy="359.2" r="0.7" fill="#3530a0" opacity="0.21"/><circle cx="197.5" cy="336.4" r="1.6" fill="#2a2888" opacity="0.32"/><circle cx="135.1" cy="376.9" r="1.2" fill="#121040" opacity="0.27"/><circle cx="200.9" cy="343.8" r="0.7" fill="#121040" opacity="0.31"/><circle cx="169.4" cy="372.5" r="1.4" fill="#2a2888" opacity="0.44"/><circle cx="152.1" cy="387.4" r="1.1" fill="#2a2888" opacity="0.44"/><circle cx="118.1" cy="378.4" r="1.2" fill="#121040" opacity="0.25"/><circle cx="82.4" cy="363.3" r="1.5" fill="#262070" opacity="0.44"/><circle cx="130.3" cy="344.1" r="1.8" fill="#121040" opacity="0.44"/><circle cx="192.8" cy="373.7" r="0.9" fill="#262070" opacity="0.39"/><circle cx="85.2" cy="358.2" r="0.9" fill="#262070" opacity="0.35"/><circle cx="63.3" cy="350.6" r="1.6" fill="#262070" opacity="0.41"/><circle cx="100.6" cy="339.1" r="0.7" fill="#3530a0" opacity="0.43"/><circle cx="63.3" cy="338.1" r="0.9" fill="#2a2888" opacity="0.40"/><circle cx="63.3" cy="359.1" r="1.3" fill="#2a2888" opacity="0.29"/><circle cx="114.5" cy="355.1" r="1.6" fill="#121040" opacity="0.48"/><circle cx="95.1" cy="386.6" r="1.0" fill="#121040" opacity="0.27"/><circle cx="123.8" cy="345.1" r="1.6" fill="#262070" opacity="0.33"/><circle cx="146.0" cy="354.1" r="0.9" fill="#3530a0" opacity="0.20"/><circle cx="186.3" cy="373.7" r="1.3" fill="#2a2888" opacity="0.25"/><circle cx="194.5" cy="346.6" r="1.4" fill="#121040" opacity="0.48"/><circle cx="162.6" cy="345.8" r="0.8" fill="#2a2888" opacity="0.26"/><circle cx="66.7" cy="365.7" r="0.9" fill="#2a2888" opacity="0.38"/><circle cx="81.2" cy="366.4" r="1.3" fill="#121040" opacity="0.21"/><circle cx="90.8" cy="373.2" r="1.2" fill="#262070" opacity="0.39"/><circle cx="90.7" cy="369.9" r="1.6" fill="#121040" opacity="0.30"/><circle cx="164.7" cy="382.7" r="0.7" fill="#3530a0" opacity="0.44"/><circle cx="94.8" cy="386.1" r="1.5" fill="#121040" opacity="0.30"/><circle cx="176.1" cy="388.0" r="1.1" fill="#121040" opacity="0.36"/><circle cx="147.2" cy="349.9" r="0.9" fill="#3530a0" opacity="0.35"/><circle cx="197.0" cy="344.2" r="1.2" fill="#3530a0" opacity="0.26"/><circle cx="202.4" cy="375.0" r="1.2" fill="#3530a0" opacity="0.40"/><circle cx="180.3" cy="346.4" r="1.2" fill="#121040" opacity="0.47"/><circle cx="157.6" cy="337.6" r="1.3" fill="#262070" opacity="0.40"/><circle cx="99.3" cy="336.8" r="1.0" fill="#3530a0" opacity="0.32"/><circle cx="168.5" cy="368.6" r="0.9" fill="#262070" opacity="0.39"/><circle cx="153.2" cy="369.1" r="0.9" fill="#2a2888" opacity="0.50"/><circle cx="168.0" cy="357.0" r="1.8" fill="#2a2888" opacity="0.34"/><circle cx="63.7" cy="363.8" r="1.6" fill="#3530a0" opacity="0.31"/><circle cx="120.2" cy="379.0" r="1.0" fill="#121040" opacity="0.49"/><circle cx="132.9" cy="382.1" r="1.7" fill="#3530a0" opacity="0.41"/><circle cx="81.7" cy="372.1" r="1.3" fill="#262070" opacity="0.36"/><circle cx="175.7" cy="380.0" r="1.5" fill="#3530a0" opacity="0.42"/><circle cx="77.7" cy="350.5" r="1.4" fill="#262070" opacity="0.49"/><circle cx="154.4" cy="346.5" r="1.5" fill="#262070" opacity="0.22"/><circle cx="91.0" cy="340.0" r="1.2" fill="#262070" opacity="0.20"/><circle cx="68.4" cy="356.8" r="1.5" fill="#2a2888" opacity="0.25"/><circle cx="96.1" cy="364.7" r="1.8" fill="#2a2888" opacity="0.42"/><circle cx="66.7" cy="374.8" r="1.0" fill="#121040" opacity="0.37"/><circle cx="66.2" cy="356.2" r="1.0" fill="#121040" opacity="0.27"/><circle cx="118.1" cy="390.8" r="0.9" fill="#3530a0" opacity="0.34"/><circle cx="68.6" cy="344.3" r="1.3" fill="#262070" opacity="0.30"/><circle cx="157.0" cy="366.1" r="1.3" fill="#121040" opacity="0.25"/><circle cx="165.4" cy="366.7" r="1.6" fill="#121040" opacity="0.44"/><circle cx="167.8" cy="381.7" r="1.8" fill="#3530a0" opacity="0.23"/><circle cx="150.1" cy="375.3" r="0.8" fill="#2a2888" opacity="0.44"/><circle cx="147.6" cy="380.0" r="1.7" fill="#3530a0" opacity="0.48"/><circle cx="190.0" cy="369.9" r="1.7" fill="#262070" opacity="0.41"/><circle cx="93.9" cy="391.5" r="1.1" fill="#121040" opacity="0.26"/><circle cx="198.2" cy="376.9" r="0.9" fill="#262070" opacity="0.24"/><circle cx="185.6" cy="371.5" r="1.4" fill="#262070" opacity="0.41"/><circle cx="205.9" cy="379.8" r="1.3" fill="#262070" opacity="0.35"/><circle cx="110.9" cy="383.0" r="0.9" fill="#2a2888" opacity="0.46"/><circle cx="119.5" cy="361.9" r="1.7" fill="#121040" opacity="0.24"/><circle cx="202.1" cy="381.0" r="0.7" fill="#121040" opacity="0.20"/><circle cx="100.0" cy="361.8" r="1.5" fill="#121040" opacity="0.44"/><circle cx="99.8" cy="349.3" r="1.8" fill="#262070" opacity="0.49"/><circle cx="159.4" cy="352.1" r="1.0" fill="#2a2888" opacity="0.24"/><circle cx="150.9" cy="389.6" r="1.3" fill="#3530a0" opacity="0.33"/><circle cx="182.8" cy="345.0" r="0.7" fill="#2a2888" opacity="0.32"/><circle cx="136.9" cy="340.9" r="0.6" fill="#121040" opacity="0.49"/><circle cx="128.8" cy="338.5" r="1.4" fill="#3530a0" opacity="0.43"/><circle cx="108.0" cy="351.2" r="1.8" fill="#121040" opacity="0.36"/><circle cx="118.8" cy="393.2" r="0.9" fill="#2a2888" opacity="0.24"/><circle cx="195.1" cy="341.8" r="1.1" fill="#2a2888" opacity="0.20"/><circle cx="169.3" cy="389.7" r="1.6" fill="#121040" opacity="0.20"/><circle cx="144.5" cy="348.4" r="0.9" fill="#3530a0" opacity="0.40"/><circle cx="179.1" cy="382.5" r="0.9" fill="#2a2888" opacity="0.24"/><circle cx="93.8" cy="388.9" r="0.7" fill="#2a2888" opacity="0.37"/><circle cx="85.1" cy="381.3" r="1.1" fill="#121040" opacity="0.23"/><circle cx="107.8" cy="370.9" r="1.5" fill="#262070" opacity="0.39"/><circle cx="67.4" cy="340.0" r="0.7" fill="#3530a0" opacity="0.28"/><circle cx="126.7" cy="358.6" r="1.5" fill="#262070" opacity="0.31"/><circle cx="151.9" cy="347.8" r="1.6" fill="#121040" opacity="0.23"/><circle cx="145.7" cy="343.0" r="1.2" fill="#3530a0" opacity="0.43"/><circle cx="78.1" cy="351.9" r="1.0" fill="#2a2888" opacity="0.44"/><circle cx="114.6" cy="354.6" r="1.2" fill="#2a2888" opacity="0.37"/><circle cx="67.7" cy="365.8" r="1.7" fill="#2a2888" opacity="0.47"/><circle cx="92.8" cy="343.5" r="1.2" fill="#3530a0" opacity="0.30"/><circle cx="103.7" cy="373.4" r="1.1" fill="#3530a0" opacity="0.22"/><circle cx="84.0" cy="374.9" r="0.7" fill="#2a2888" opacity="0.41"/><circle cx="68.8" cy="390.2" r="1.5" fill="#2a2888" opacity="0.36"/><circle cx="140.1" cy="385.5" r="1.4" fill="#2a2888" opacity="0.29"/><circle cx="76.2" cy="370.2" r="1.1" fill="#121040" opacity="0.34"/><circle cx="126.9" cy="351.0" r="1.2" fill="#121040" opacity="0.48"/><circle cx="199.5" cy="379.1" r="1.6" fill="#2a2888" opacity="0.44"/><circle cx="177.9" cy="356.4" r="1.2" fill="#3530a0" opacity="0.48"/><circle cx="176.4" cy="341.4" r="0.6" fill="#121040" opacity="0.45"/><circle cx="192.7" cy="392.0" r="1.7" fill="#3530a0" opacity="0.47"/><circle cx="132.2" cy="393.3" r="1.1" fill="#262070" opacity="0.32"/><circle cx="124.1" cy="362.2" r="1.3" fill="#262070" opacity="0.44"/><circle cx="172.7" cy="349.2" r="1.3" fill="#3530a0" opacity="0.21"/><circle cx="132.3" cy="349.4" r="1.3" fill="#3530a0" opacity="0.45"/><circle cx="94.0" cy="360.9" r="0.6" fill="#3530a0" opacity="0.30"/><circle cx="117.5" cy="337.1" r="1.4" fill="#262070" opacity="0.39"/><circle cx="166.0" cy="379.0" r="1.8" fill="#3530a0" opacity="0.35"/><circle cx="70.6" cy="357.6" r="1.4" fill="#121040" opacity="0.41"/><circle cx="125.0" cy="357.5" r="1.3" fill="#121040" opacity="0.47"/><circle cx="85.0" cy="337.6" r="0.9" fill="#121040" opacity="0.33"/><circle cx="121.7" cy="388.5" r="1.6" fill="#121040" opacity="0.36"/><circle cx="81.1" cy="359.8" r="1.7" fill="#121040" opacity="0.30"/><circle cx="180.4" cy="346.9" r="1.5" fill="#3530a0" opacity="0.38"/><circle cx="121.0" cy="391.0" r="0.8" fill="#121040" opacity="0.21"/><circle cx="103.2" cy="355.2" r="1.2" fill="#121040" opacity="0.44"/><circle cx="89.3" cy="343.0" r="1.4" fill="#2a2888" opacity="0.26"/><circle cx="171.6" cy="350.2" r="1.0" fill="#2a2888" opacity="0.39"/><circle cx="191.1" cy="358.1" r="1.3" fill="#2a2888" opacity="0.48"/><circle cx="191.6" cy="352.0" r="0.8" fill="#2a2888" opacity="0.34"/><circle cx="78.3" cy="346.6" r="1.0" fill="#2a2888" opacity="0.39"/><circle cx="124.9" cy="376.6" r="1.4" fill="#121040" opacity="0.34"/><circle cx="177.2" cy="360.7" r="1.3" fill="#262070" opacity="0.45"/><circle cx="81.6" cy="365.9" r="0.9" fill="#262070" opacity="0.26"/><circle cx="100.4" cy="336.1" r="0.8" fill="#3530a0" opacity="0.49"/><circle cx="188.5" cy="387.1" r="0.7" fill="#2a2888" opacity="0.41"/><circle cx="126.2" cy="338.7" r="0.8" fill="#3530a0" opacity="0.43"/><circle cx="154.9" cy="358.9" r="1.5" fill="#262070" opacity="0.37"/><circle cx="136.7" cy="364.8" r="1.4" fill="#121040" opacity="0.42"/><circle cx="132.7" cy="384.7" r="1.1" fill="#2a2888" opacity="0.31"/><circle cx="179.8" cy="371.5" r="0.8" fill="#3530a0" opacity="0.36"/><circle cx="139.0" cy="348.6" r="1.1" fill="#2a2888" opacity="0.21"/><circle cx="69.5" cy="381.0" r="0.7" fill="#2a2888" opacity="0.26"/><circle cx="148.4" cy="336.1" r="0.6" fill="#262070" opacity="0.48"/><circle cx="65.1" cy="376.0" r="1.5" fill="#2a2888" opacity="0.42"/><circle cx="190.6" cy="380.4" r="1.2" fill="#3530a0" opacity="0.35"/><circle cx="132.2" cy="356.1" r="1.0" fill="#3530a0" opacity="0.45"/><circle cx="204.2" cy="385.8" r="0.8" fill="#262070" opacity="0.27"/><circle cx="167.3" cy="358.6" r="1.5" fill="#3530a0" opacity="0.34"/><circle cx="187.8" cy="366.3" r="0.6" fill="#262070" opacity="0.49"/><circle cx="83.0" cy="348.9" r="0.8" fill="#262070" opacity="0.21"/><circle cx="194.9" cy="339.7" r="1.5" fill="#262070" opacity="0.26"/><circle cx="165.3" cy="372.0" r="0.8" fill="#2a2888" opacity="0.35"/><circle cx="164.3" cy="393.6" r="0.6" fill="#121040" opacity="0.22"/><circle cx="198.1" cy="375.6" r="1.4" fill="#3530a0" opacity="0.29"/><circle cx="67.1" cy="343.6" r="0.8" fill="#262070" opacity="0.33"/><circle cx="63.7" cy="340.2" r="1.3" fill="#2a2888" opacity="0.27"/><circle cx="132.6" cy="372.8" r="1.1" fill="#3530a0" opacity="0.29"/><circle cx="81.2" cy="372.1" r="1.7" fill="#121040" opacity="0.32"/><circle cx="110.2" cy="356.2" r="0.9" fill="#121040" opacity="0.27"/><circle cx="78.7" cy="341.7" r="1.5" fill="#262070" opacity="0.45"/><circle cx="128.4" cy="365.2" r="0.8" fill="#3530a0" opacity="0.41"/><circle cx="89.7" cy="340.9" r="1.2" fill="#2a2888" opacity="0.41"/><circle cx="161.2" cy="383.2" r="1.6" fill="#262070" opacity="0.30"/><circle cx="144.7" cy="342.2" r="0.9" fill="#121040" opacity="0.39"/><circle cx="104.4" cy="365.5" r="0.9" fill="#262070" opacity="0.36"/><circle cx="147.1" cy="345.3" r="1.6" fill="#2a2888" opacity="0.37"/><circle cx="145.3" cy="364.5" r="0.6" fill="#2a2888" opacity="0.32"/><circle cx="75.3" cy="381.2" r="1.4" fill="#121040" opacity="0.28"/><circle cx="122.5" cy="336.2" r="1.4" fill="#2a2888" opacity="0.42"/><circle cx="90.9" cy="373.7" r="1.1" fill="#262070" opacity="0.36"/><circle cx="174.9" cy="367.2" r="1.6" fill="#3530a0" opacity="0.45"/><circle cx="132.2" cy="345.4" r="1.5" fill="#3530a0" opacity="0.38"/><circle cx="81.5" cy="370.9" r="1.1" fill="#262070" opacity="0.46"/><circle cx="142.6" cy="345.1" r="1.0" fill="#262070" opacity="0.35"/><circle cx="122.6" cy="382.9" r="0.9" fill="#2a2888" opacity="0.46"/><circle cx="118.6" cy="371.0" r="1.7" fill="#262070" opacity="0.34"/><circle cx="189.6" cy="389.9" r="1.0" fill="#121040" opacity="0.37"/><circle cx="186.6" cy="346.3" r="1.6" fill="#121040" opacity="0.41"/><circle cx="99.5" cy="354.6" r="0.9" fill="#121040" opacity="0.29"/><circle cx="197.6" cy="384.5" r="1.3" fill="#121040" opacity="0.46"/><circle cx="113.9" cy="374.2" r="1.1" fill="#3530a0" opacity="0.37"/><circle cx="135.7" cy="376.7" r="0.7" fill="#121040" opacity="0.34"/><circle cx="129.3" cy="349.5" r="1.2" fill="#2a2888" opacity="0.50"/></g>
<ellipse cx="76" cy="355" rx="12" ry="12" fill="#030208" opacity="0.95" filter="url(#bl3)"/>
<ellipse cx="104" cy="362" rx="11" ry="11" fill="#030208" opacity="0.95" filter="url(#bl3)"/>
<ellipse cx="122" cy="377" rx="10" ry="10" fill="#030208" opacity="0.95" filter="url(#bl3)"/>
<ellipse cx="91" cy="380" rx="10" ry="9" fill="#030208" opacity="0.95" filter="url(#bl3)"/>
<ellipse cx="70" cy="388" rx="7" ry="6" fill="#030208" opacity="0.95" filter="url(#bl3)"/>
<ellipse cx="112" cy="349" rx="6" ry="6" fill="#030208" opacity="0.95" filter="url(#bl3)"/>
<ellipse cx="108" cy="392" rx="8" ry="5" fill="#030208" opacity="0.95" filter="url(#bl3)"/>
<ellipse cx="154" cy="355" rx="11" ry="11" fill="#030208" opacity="0.95" filter="url(#bl3)"/>
<ellipse cx="177" cy="360" rx="10" ry="10" fill="#030208" opacity="0.95" filter="url(#bl3)"/>
<ellipse cx="199" cy="377" rx="9" ry="10" fill="#030208" opacity="0.95" filter="url(#bl3)"/>
<ellipse cx="161" cy="381" rx="10" ry="9" fill="#030208" opacity="0.95" filter="url(#bl3)"/>
<ellipse cx="182" cy="383" rx="7" ry="7" fill="#030208" opacity="0.95" filter="url(#bl3)"/>
<ellipse cx="143" cy="372" rx="6" ry="6" fill="#030208" opacity="0.95" filter="url(#bl3)"/>
<ellipse cx="172" cy="393" rx="9" ry="5" fill="#030208" opacity="0.95" filter="url(#bl3)"/>
<g filter="url(#bl0)">
<circle cx="155.0" cy="341.0" r="2.20" fill="#f0e0ff"/>
<circle cx="159.0" cy="343.5" r="1.76" fill="#f0e0ff"/>
<circle cx="190.0" cy="353.0" r="1.65" fill="#e0c8f0"/>
<circle cx="166.0" cy="356.0" r="1.43" fill="#c8a8e0"/>
<circle cx="183.0" cy="374.0" r="1.87" fill="#f0d8f0"/>
<circle cx="188.0" cy="385.0" r="1.87" fill="#ffe0f0"/>
<circle cx="170.0" cy="389.0" r="1.54" fill="#d0b0e0"/>
<circle cx="148.0" cy="361.0" r="1.21" fill="#c0a0d0"/>
<circle cx="166.0" cy="349.0" r="1.10" fill="#b890d0"/>
<circle cx="166.0" cy="370.0" r="1.65" fill="#f0d0f8"/>
<circle cx="150.0" cy="381.0" r="1.21" fill="#c8a8e0"/>
<circle cx="193.0" cy="386.0" r="1.76" fill="#f8e0ff"/>
<circle cx="140.0" cy="348.0" r="1.10" fill="#a070c0"/>
<circle cx="145.0" cy="370.0" r="1.10" fill="#a070c0"/>
<circle cx="172.0" cy="368.0" r="1.76" fill="#f0d8ff"/>
<circle cx="185.0" cy="366.0" r="1.10" fill="#c090d0"/>
<circle cx="178.0" cy="372.0" r="1.65" fill="#f0d0ff"/>
<circle cx="157.0" cy="366.0" r="1.43" fill="#e8c8f8"/>
<circle cx="196.0" cy="362.0" r="1.32" fill="#d0a8e8"/>
<circle cx="201.0" cy="347.0" r="1.10" fill="#c090d0"/>
<circle cx="165.1" cy="348.8" r="0.63" fill="#a05ab8"/>
<circle cx="146.9" cy="342.7" r="0.87" fill="#8a4aa8"/>
<circle cx="200.9" cy="364.4" r="0.74" fill="#a05ab8"/>
<circle cx="191.1" cy="380.6" r="0.91" fill="#a05ab8"/>
<circle cx="148.2" cy="373.7" r="0.92" fill="#7a3a90"/>
<circle cx="143.6" cy="376.7" r="0.85" fill="#8a4aa8"/>
<circle cx="169.4" cy="359.7" r="0.67" fill="#8a4aa8"/>
<circle cx="166.5" cy="357.6" r="0.96" fill="#8a4aa8"/>
<circle cx="169.0" cy="386.6" r="0.82" fill="#8a4aa8"/>
<circle cx="162.0" cy="349.7" r="0.96" fill="#a05ab8"/>
<circle cx="188.1" cy="361.9" r="0.96" fill="#a05ab8"/>
<circle cx="201.2" cy="373.7" r="0.57" fill="#8a4aa8"/>
<circle cx="149.5" cy="374.9" r="0.73" fill="#c070c0"/>
<circle cx="180.3" cy="345.7" r="0.82" fill="#c070c0"/>
<circle cx="160.1" cy="366.3" r="0.64" fill="#8a4aa8"/>
<circle cx="180.9" cy="361.9" r="0.79" fill="#a05ab8"/>
<circle cx="161.7" cy="375.5" r="0.96" fill="#a05ab8"/>
<circle cx="187.5" cy="376.8" r="0.89" fill="#a05ab8"/>
<circle cx="178.7" cy="360.0" r="0.59" fill="#a05ab8"/>
<circle cx="157.8" cy="391.5" r="0.73" fill="#a05ab8"/>
<circle cx="197.0" cy="355.2" r="0.77" fill="#a05ab8"/>
<circle cx="194.7" cy="344.3" r="0.91" fill="#a05ab8"/>
<circle cx="183.4" cy="365.1" r="0.55" fill="#8a4aa8"/>
<circle cx="160.6" cy="358.4" r="0.70" fill="#c070c0"/>
<circle cx="163.9" cy="381.9" r="0.79" fill="#a05ab8"/>
<circle cx="196.9" cy="387.8" r="0.87" fill="#c070c0"/>
<circle cx="189.6" cy="350.4" r="0.93" fill="#a05ab8"/>
<circle cx="181.8" cy="354.8" r="0.93" fill="#7a3a90"/>
<circle cx="152.6" cy="381.7" r="0.85" fill="#a05ab8"/>
<circle cx="163.7" cy="361.7" r="0.97" fill="#c070c0"/>
<circle cx="166.2" cy="387.0" r="0.58" fill="#7a3a90"/>
<circle cx="198.8" cy="385.2" r="0.90" fill="#a05ab8"/>
<circle cx="200.3" cy="351.9" r="0.94" fill="#c070c0"/>
<circle cx="202.9" cy="382.6" r="0.62" fill="#c070c0"/>
<circle cx="183.4" cy="370.6" r="0.98" fill="#c070c0"/>
<circle cx="151.0" cy="356.2" r="0.64" fill="#8a4aa8"/>
<circle cx="182.7" cy="375.5" r="0.97" fill="#a05ab8"/>
<circle cx="197.7" cy="374.1" r="0.90" fill="#7a3a90"/>
<circle cx="182.0" cy="378.1" r="0.93" fill="#a05ab8"/>
<circle cx="165.4" cy="384.5" r="0.84" fill="#8a4aa8"/>
</g>
<circle cx="145.5" cy="297.8" r="0.40" fill="#7a4aa8" opacity="0.7"/>
<circle cx="201.6" cy="322.8" r="0.80" fill="#4a3090" opacity="0.7"/>
<circle cx="190.6" cy="292.9" r="0.48" fill="#4a3090" opacity="0.7"/>
<circle cx="195.0" cy="291.3" r="0.62" fill="#4a3090" opacity="0.7"/>
<circle cx="179.5" cy="303.4" r="0.71" fill="#7a4aa8" opacity="0.7"/>
<circle cx="151.4" cy="269.2" r="0.44" fill="#7a4aa8" opacity="0.7"/>
<circle cx="143.1" cy="269.8" r="0.42" fill="#7a4aa8" opacity="0.7"/>
<circle cx="162.7" cy="299.2" r="0.78" fill="#4a3090" opacity="0.7"/>
<circle cx="176.5" cy="278.9" r="0.44" fill="#7a4aa8" opacity="0.7"/>
<circle cx="164.7" cy="277.6" r="0.58" fill="#6a3a98" opacity="0.7"/>
<circle cx="196.8" cy="318.5" r="0.75" fill="#4a3090" opacity="0.7"/>
<circle cx="185.0" cy="291.4" r="0.78" fill="#6a3a98" opacity="0.7"/>
<circle cx="162.1" cy="279.6" r="0.59" fill="#4a3090" opacity="0.7"/>
<circle cx="163.6" cy="314.3" r="0.77" fill="#7a4aa8" opacity="0.7"/>
<circle cx="176.4" cy="303.0" r="0.77" fill="#4a3090" opacity="0.7"/>
<circle cx="149.4" cy="272.2" r="0.50" fill="#7a4aa8" opacity="0.7"/>
<circle cx="173.1" cy="274.4" r="0.72" fill="#6a3a98" opacity="0.7"/>
<circle cx="160.5" cy="309.1" r="0.63" fill="#4a3090" opacity="0.7"/>
<circle cx="156.4" cy="268.7" r="0.53" fill="#7a4aa8" opacity="0.7"/>
<circle cx="149.1" cy="300.9" r="0.42" fill="#6a3a98" opacity="0.7"/>
<circle cx="141.2" cy="296.6" r="0.62" fill="#7a4aa8" opacity="0.7"/>
<circle cx="148.6" cy="292.6" r="0.68" fill="#7a4aa8" opacity="0.7"/>
<circle cx="153.4" cy="278.6" r="0.59" fill="#7a4aa8" opacity="0.7"/>
<circle cx="156.5" cy="288.4" r="0.62" fill="#6a3a98" opacity="0.7"/>
<circle cx="190.0" cy="277.7" r="0.54" fill="#4a3090" opacity="0.7"/>
<circle cx="143.5" cy="306.0" r="0.69" fill="#6a3a98" opacity="0.7"/>
<circle cx="148.1" cy="272.8" r="0.70" fill="#4a3090" opacity="0.7"/>
<circle cx="163.4" cy="287.8" r="0.71" fill="#6a3a98" opacity="0.7"/>
<circle cx="179.2" cy="310.6" r="0.64" fill="#7a4aa8" opacity="0.7"/>
<circle cx="189.8" cy="318.0" r="0.72" fill="#7a4aa8" opacity="0.7"/>
<circle cx="150.6" cy="278.1" r="0.44" fill="#7a4aa8" opacity="0.7"/>
<circle cx="181.1" cy="297.2" r="0.77" fill="#6a3a98" opacity="0.7"/>
<circle cx="163.2" cy="306.2" r="0.44" fill="#6a3a98" opacity="0.7"/>
<circle cx="176.0" cy="309.0" r="0.64" fill="#6a3a98" opacity="0.7"/>
<circle cx="196.7" cy="277.0" r="0.76" fill="#6a3a98" opacity="0.7"/>
<circle cx="189.9" cy="288.9" r="0.53" fill="#6a3a98" opacity="0.7"/>
<circle cx="177.2" cy="269.1" r="0.78" fill="#6a3a98" opacity="0.7"/>
<circle cx="201.2" cy="317.3" r="0.72" fill="#7a4aa8" opacity="0.7"/>
<circle cx="157.4" cy="295.6" r="0.72" fill="#6a3a98" opacity="0.7"/>
<circle cx="161.7" cy="302.0" r="0.53" fill="#7a4aa8" opacity="0.7"/>
<circle cx="182.5" cy="313.1" r="0.79" fill="#7a4aa8" opacity="0.7"/>
<circle cx="192.5" cy="302.2" r="0.62" fill="#4a3090" opacity="0.7"/>
<circle cx="183.2" cy="310.8" r="0.78" fill="#4a3090" opacity="0.7"/>
<circle cx="164.8" cy="296.7" r="0.76" fill="#6a3a98" opacity="0.7"/>
<circle cx="149.7" cy="290.8" r="0.42" fill="#6a3a98" opacity="0.7"/>
</g>
<rect x="62.7" y="324.5" width="143" height="8.3" fill="#060508"/>
<rect x="62.7" y="393" width="143" height="8.4" fill="#060508"/>
<path transform="translate(115.2,309.2) scale(1.25)" d="M0,0 L4.6,1.6 L2.7,2.7 L1.6,4.6 Z" fill="#f4f400"/>
<path transform="translate(188.6,305.4) scale(1.25)" d="M0,0 L4.6,1.6 L2.7,2.7 L1.6,4.6 Z" fill="#f4f400"/>
<path transform="translate(80.6,339.8) scale(1.25)" d="M0,0 L4.6,1.6 L2.7,2.7 L1.6,4.6 Z" fill="#c8e0ff"/>
<path transform="translate(83.8,367.2) scale(1.25)" d="M0,0 L4.6,1.6 L2.7,2.7 L1.6,4.6 Z" fill="#b4e838"/>
<path transform="translate(96.9,374.2) scale(1.25)" d="M0,0 L4.6,1.6 L2.7,2.7 L1.6,4.6 Z" fill="#f4ec40"/>
<path transform="translate(113.6,385.8) scale(1.25)" d="M0,0 L4.6,1.6 L2.7,2.7 L1.6,4.6 Z" fill="#e82050"/>
<path transform="translate(156.8,367.4) scale(1.25)" d="M0,0 L4.6,1.6 L2.7,2.7 L1.6,4.6 Z" fill="#b4e838"/>
<path transform="translate(171.8,375.2) scale(1.25)" d="M0,0 L4.6,1.6 L2.7,2.7 L1.6,4.6 Z" fill="#f4ec40"/>
<path transform="translate(187.6,385.4) scale(1.25)" d="M0,0 L4.6,1.6 L2.7,2.7 L1.6,4.6 Z" fill="#e82050"/>
<circle cx="189.5" cy="303.8" r="1.1" fill="#e8d0ff" filter="url(#bl1)"/>
<line x1="135.4" y1="267.2" x2="135.4" y2="324.5" stroke="#ffffff" stroke-width="0.9" />
<line x1="135.4" y1="335.8" x2="135.4" y2="392.8" stroke="#ffffff" stroke-width="0.9" />
<text x="63.8" y="273.5" font-size="6.5" fill="#ffffff" stroke="#ffffff" stroke-width="0.12" textLength="14.4" lengthAdjust="spacingAndGlyphs" >1002</text>
<text x="114.6" y="273.5" font-size="6.5" fill="#3f8f32" stroke="#3f8f32" stroke-width="0.12" textLength="17.7" lengthAdjust="spacingAndGlyphs" >GZMB</text>
<text x="177.4" y="273.5" font-size="6.5" fill="#9a3a7a" stroke="#9a3a7a" stroke-width="0.12" textLength="11.4" lengthAdjust="spacingAndGlyphs" >CD3</text>
<text x="192.3" y="273.5" font-size="6.5" fill="#ffffff" stroke="#ffffff" stroke-width="0.12" textLength="12.8" lengthAdjust="spacingAndGlyphs" >CD8</text>
<text x="187.8" y="281" font-size="6.5" fill="#3f8f32" stroke="#3f8f32" stroke-width="0.12" textLength="17.3" lengthAdjust="spacingAndGlyphs" >GZMB</text>
<text x="117" y="331.3" font-size="6.3" fill="#ffffff" stroke="#ffffff" stroke-width="0.12" textLength="37" lengthAdjust="spacingAndGlyphs" >Baseline (T0)</text>
<text x="114.6" y="342" font-size="6.5" fill="#3f8f32" stroke="#3f8f32" stroke-width="0.12" textLength="17.7" lengthAdjust="spacingAndGlyphs" >GZMB</text>
<text x="177.4" y="342" font-size="6.5" fill="#b83a6a" stroke="#b83a6a" stroke-width="0.12" textLength="11.4" lengthAdjust="spacingAndGlyphs" >CD3</text>
<text x="192.3" y="342" font-size="6.5" fill="#ffffff" stroke="#ffffff" stroke-width="0.12" textLength="12.8" lengthAdjust="spacingAndGlyphs" >CD8</text>
<text x="187.8" y="349.5" font-size="6.5" fill="#3f8f32" stroke="#3f8f32" stroke-width="0.12" textLength="17.3" lengthAdjust="spacingAndGlyphs" >GZMB</text>
<text x="104.7" y="400.2" font-size="6.5" fill="#ffffff" stroke="#ffffff" stroke-width="0.12" textLength="61.5" lengthAdjust="spacingAndGlyphs" >Dec/Ipi - Cycle 4 (T4)</text>
<line x1="268.0" y1="274.5" x2="268.0" y2="356.4" stroke="#333" stroke-width="1.4" />
<line x1="267.3" y1="355.7" x2="349" y2="355.7" stroke="#333" stroke-width="1.4" />
<line x1="265.2" y1="276.99" x2="268.0" y2="276.99" stroke="#3a3a3a" stroke-width="1.1" />
<text x="261.6" y="279.79" font-size="8" fill="#333" stroke="#333" stroke-width="0.12" text-anchor="end" >3000</text>
<line x1="265.2" y1="302.86" x2="268.0" y2="302.86" stroke="#3a3a3a" stroke-width="1.1" />
<text x="261.6" y="305.66" font-size="8" fill="#333" stroke="#333" stroke-width="0.12" text-anchor="end" >2000</text>
<line x1="265.2" y1="328.73" x2="268.0" y2="328.73" stroke="#3a3a3a" stroke-width="1.1" />
<text x="261.6" y="331.53000000000003" font-size="8" fill="#333" stroke="#333" stroke-width="0.12" text-anchor="end" >1000</text>
<line x1="265.2" y1="354.6" x2="268.0" y2="354.6" stroke="#3a3a3a" stroke-width="1.1" />
<text x="261.6" y="357.40000000000003" font-size="8" fill="#333" stroke="#333" stroke-width="0.12" text-anchor="end" >0</text>
<line x1="280.6" y1="355.3" x2="280.6" y2="358.3" stroke="#3a3a3a" stroke-width="1.1" />
<line x1="301.4" y1="355.3" x2="301.4" y2="358.3" stroke="#3a3a3a" stroke-width="1.1" />
<line x1="322.2" y1="355.3" x2="322.2" y2="358.3" stroke="#3a3a3a" stroke-width="1.1" />
<line x1="343.1" y1="355.3" x2="343.1" y2="358.3" stroke="#3a3a3a" stroke-width="1.1" />
<path d="M280.3,277.6 V276 H343.5 V277.6" stroke="#444" stroke-width="1.2" fill="none" />
<text x="301.7" y="271" font-size="8" fill="#333" stroke="#333" stroke-width="0.12" textLength="20.2" lengthAdjust="spacingAndGlyphs" >0.029</text>
<path d="M280.6,307.9 L301.4,337.2 L322.2,341.0 L343.1,288.7" stroke="#e3b93a" stroke-width="0.9" fill="none" stroke-linejoin="round" opacity="0.95"/>
<path d="M280.6,351.2 L301.4,349.5 L322.2,346.5 L343.1,344.0" stroke="#e3b93a" stroke-width="0.9" fill="none" stroke-linejoin="round" opacity="0.95"/>
<path d="M280.6,350.5 L301.4,350.0 L322.2,347.0 L343.1,345.0" stroke="#e3b93a" stroke-width="0.9" fill="none" stroke-linejoin="round" opacity="0.95"/>
<path d="M280.6,352.0 L301.4,351.0 L322.2,348.0 L343.1,346.0" stroke="#e3b93a" stroke-width="0.9" fill="none" stroke-linejoin="round" opacity="0.95"/>
<path d="M280.6,350.0 L322.2,346.0 L343.1,343.5" stroke="#e3b93a" stroke-width="0.9" fill="none" stroke-linejoin="round" opacity="0.95"/>
<path d="M280.6,351.5 L322.2,347.5 L343.1,344.8" stroke="#e3b93a" stroke-width="0.9" fill="none" stroke-linejoin="round" opacity="0.95"/>
<path d="M280.6,323.5 L301.4,332.0 L322.2,342.0 L343.1,339.0" stroke="#6fa3dc" stroke-width="0.9" fill="none" stroke-linejoin="round" opacity="0.95"/>
<path d="M280.6,329.3 L301.4,330.0 L322.2,334.6 L343.1,343.3" stroke="#6fa3dc" stroke-width="0.9" fill="none" stroke-linejoin="round" opacity="0.95"/>
<path d="M280.6,339.2 L322.2,326.0 L343.1,329.6" stroke="#6fa3dc" stroke-width="0.9" fill="none" stroke-linejoin="round" opacity="0.95"/>
<path d="M280.6,344.7 L322.2,331.0 L343.1,328.1" stroke="#6fa3dc" stroke-width="0.9" fill="none" stroke-linejoin="round" opacity="0.95"/>
<path d="M280.6,346.9 L301.4,346.9 L322.2,344.7 L343.1,318.8" stroke="#6fa3dc" stroke-width="0.9" fill="none" stroke-linejoin="round" opacity="0.95"/>
<path d="M280.6,347.5 L322.2,338.7 L343.1,335.0" stroke="#6fa3dc" stroke-width="0.9" fill="none" stroke-linejoin="round" opacity="0.95"/>
<path d="M280.6,349.0 L301.4,348.0 L322.2,347.5 L343.1,340.5" stroke="#6fa3dc" stroke-width="0.9" fill="none" stroke-linejoin="round" opacity="0.95"/>
<path d="M280.6,345.5 L322.2,350.0 L343.1,345.5" stroke="#6fa3dc" stroke-width="0.9" fill="none" stroke-linejoin="round" opacity="0.95"/>
<path d="M280.6,348.0 L301.4,350.8 L322.2,349.0 L343.1,337.0" stroke="#6fa3dc" stroke-width="0.9" fill="none" stroke-linejoin="round" opacity="0.95"/>
<path d="M280.6,344.0 L322.2,343.0 L343.1,341.0" stroke="#6fa3dc" stroke-width="0.9" fill="none" stroke-linejoin="round" opacity="0.95"/>
<circle cx="280.6" cy="323.5" r="1.05" fill="#1a1a1a"/>
<circle cx="301.4" cy="332.0" r="1.05" fill="#1a1a1a"/>
<circle cx="322.2" cy="342.0" r="1.05" fill="#1a1a1a"/>
<circle cx="343.1" cy="339.0" r="1.05" fill="#1a1a1a"/>
<circle cx="280.6" cy="329.3" r="1.05" fill="#1a1a1a"/>
<circle cx="301.4" cy="330.0" r="1.05" fill="#1a1a1a"/>
<circle cx="322.2" cy="334.6" r="1.05" fill="#1a1a1a"/>
<circle cx="343.1" cy="343.3" r="1.05" fill="#1a1a1a"/>
<circle cx="280.6" cy="339.2" r="1.05" fill="#1a1a1a"/>
<circle cx="322.2" cy="326.0" r="1.05" fill="#1a1a1a"/>
<circle cx="343.1" cy="329.6" r="1.05" fill="#1a1a1a"/>
<circle cx="280.6" cy="344.7" r="1.05" fill="#1a1a1a"/>
<circle cx="322.2" cy="331.0" r="1.05" fill="#1a1a1a"/>
<circle cx="343.1" cy="328.1" r="1.05" fill="#1a1a1a"/>
<circle cx="280.6" cy="346.9" r="1.05" fill="#1a1a1a"/>
<circle cx="301.4" cy="346.9" r="1.05" fill="#1a1a1a"/>
<circle cx="322.2" cy="344.7" r="1.05" fill="#1a1a1a"/>
<circle cx="343.1" cy="318.8" r="1.05" fill="#1a1a1a"/>
<circle cx="280.6" cy="347.5" r="1.05" fill="#1a1a1a"/>
<circle cx="322.2" cy="338.7" r="1.05" fill="#1a1a1a"/>
<circle cx="343.1" cy="335.0" r="1.05" fill="#1a1a1a"/>
<circle cx="280.6" cy="349.0" r="1.05" fill="#1a1a1a"/>
<circle cx="301.4" cy="348.0" r="1.05" fill="#1a1a1a"/>
<circle cx="322.2" cy="347.5" r="1.05" fill="#1a1a1a"/>
<circle cx="343.1" cy="340.5" r="1.05" fill="#1a1a1a"/>
<circle cx="280.6" cy="345.5" r="1.05" fill="#1a1a1a"/>
<circle cx="322.2" cy="350.0" r="1.05" fill="#1a1a1a"/>
<circle cx="343.1" cy="345.5" r="1.05" fill="#1a1a1a"/>
<circle cx="280.6" cy="348.0" r="1.05" fill="#1a1a1a"/>
<circle cx="301.4" cy="350.8" r="1.05" fill="#1a1a1a"/>
<circle cx="322.2" cy="349.0" r="1.05" fill="#1a1a1a"/>
<circle cx="343.1" cy="337.0" r="1.05" fill="#1a1a1a"/>
<circle cx="280.6" cy="344.0" r="1.05" fill="#1a1a1a"/>
<circle cx="322.2" cy="343.0" r="1.05" fill="#1a1a1a"/>
<circle cx="343.1" cy="341.0" r="1.05" fill="#1a1a1a"/>
<circle cx="280.6" cy="307.9" r="1.05" fill="#1a1a1a"/>
<circle cx="301.4" cy="337.2" r="1.05" fill="#1a1a1a"/>
<circle cx="322.2" cy="341.0" r="1.05" fill="#1a1a1a"/>
<circle cx="343.1" cy="288.7" r="1.05" fill="#1a1a1a"/>
<circle cx="280.6" cy="351.2" r="1.05" fill="#1a1a1a"/>
<circle cx="301.4" cy="349.5" r="1.05" fill="#1a1a1a"/>
<circle cx="322.2" cy="346.5" r="1.05" fill="#1a1a1a"/>
<circle cx="343.1" cy="344.0" r="1.05" fill="#1a1a1a"/>
<circle cx="280.6" cy="350.5" r="1.05" fill="#1a1a1a"/>
<circle cx="301.4" cy="350.0" r="1.05" fill="#1a1a1a"/>
<circle cx="322.2" cy="347.0" r="1.05" fill="#1a1a1a"/>
<circle cx="343.1" cy="345.0" r="1.05" fill="#1a1a1a"/>
<circle cx="280.6" cy="352.0" r="1.05" fill="#1a1a1a"/>
<circle cx="301.4" cy="351.0" r="1.05" fill="#1a1a1a"/>
<circle cx="322.2" cy="348.0" r="1.05" fill="#1a1a1a"/>
<circle cx="343.1" cy="346.0" r="1.05" fill="#1a1a1a"/>
<circle cx="280.6" cy="350.0" r="1.05" fill="#1a1a1a"/>
<circle cx="322.2" cy="346.0" r="1.05" fill="#1a1a1a"/>
<circle cx="343.1" cy="343.5" r="1.05" fill="#1a1a1a"/>
<circle cx="280.6" cy="351.5" r="1.05" fill="#1a1a1a"/>
<circle cx="322.2" cy="347.5" r="1.05" fill="#1a1a1a"/>
<circle cx="343.1" cy="344.8" r="1.05" fill="#1a1a1a"/>
<line x1="274.6" y1="342.6" x2="286.6" y2="342.6" stroke="#1a1a1a" stroke-width="0.9" />
<line x1="280.6" y1="342.6" x2="280.6" y2="352.5" stroke="#1a1a1a" stroke-width="0.7" />
<line x1="295.4" y1="343.3" x2="307.4" y2="343.3" stroke="#1a1a1a" stroke-width="0.9" />
<line x1="301.4" y1="343.3" x2="301.4" y2="351" stroke="#1a1a1a" stroke-width="0.7" />
<line x1="316.2" y1="341.6" x2="328.2" y2="341.6" stroke="#1a1a1a" stroke-width="0.9" />
<line x1="322.2" y1="341.6" x2="322.2" y2="351.5" stroke="#1a1a1a" stroke-width="0.7" />
<line x1="337.1" y1="334.3" x2="349.1" y2="334.3" stroke="#1a1a1a" stroke-width="0.9" />
<line x1="343.1" y1="334.3" x2="343.1" y2="348.5" stroke="#1a1a1a" stroke-width="0.7" />
<text transform="translate(229.4,309.6) rotate(-90)" font-size="10.5" fill="#333" text-anchor="middle" textLength="68" lengthAdjust="spacingAndGlyphs">Mean density CD3<tspan font-size="6.5" dy="-3.8">+</tspan></text>
<text transform="translate(237.6,308.6) rotate(-90)" font-size="9" fill="#333" text-anchor="middle" textLength="45" lengthAdjust="spacingAndGlyphs">(cells/mm<tspan font-size="6.5" dy="-3.5">2</tspan><tspan dy="3.5">)</tspan></text>
<text x="280.6" y="369.4" font-size="8.6" fill="#333" stroke="#333" stroke-width="0.12" text-anchor="middle" textLength="8.9" lengthAdjust="spacingAndGlyphs" >T0</text>
<text x="301.4" y="369.4" font-size="8.6" fill="#333" stroke="#333" stroke-width="0.12" text-anchor="middle" textLength="8.9" lengthAdjust="spacingAndGlyphs" >T1</text>
<text x="322.2" y="369.4" font-size="8.6" fill="#333" stroke="#333" stroke-width="0.12" text-anchor="middle" textLength="8.9" lengthAdjust="spacingAndGlyphs" >T2</text>
<text x="343.1" y="369.4" font-size="8.6" fill="#333" stroke="#333" stroke-width="0.12" text-anchor="middle" textLength="8.9" lengthAdjust="spacingAndGlyphs" >T3</text>
<text x="261" y="380.8" font-size="8.3" fill="#333" stroke="#333" stroke-width="0.12" textLength="23.9" lengthAdjust="spacingAndGlyphs" >n = 16</text>
<text x="301.4" y="380.8" font-size="8.3" fill="#333" stroke="#333" stroke-width="0.12" text-anchor="middle" >8</text>
<text x="322.2" y="380.8" font-size="8.3" fill="#333" stroke="#333" stroke-width="0.12" text-anchor="middle" >13</text>
<text x="343.1" y="380.8" font-size="8.3" fill="#333" stroke="#333" stroke-width="0.12" text-anchor="middle" >16</text>
<line x1="264" y1="390.4" x2="280.4" y2="390.4" stroke="#6fa3dc" stroke-width="1" />
<text x="284" y="393" font-size="7.6" fill="#333" stroke="#333" stroke-width="0.12" textLength="61.4" lengthAdjust="spacingAndGlyphs" >Response (n = 10)</text>
<line x1="264" y1="401.4" x2="280.4" y2="401.4" stroke="#e3b93a" stroke-width="1" />
<text x="284" y="404" font-size="7.6" fill="#333" stroke="#333" stroke-width="0.12" textLength="72.4" lengthAdjust="spacingAndGlyphs" >Non-response (n = 6)</text>
<text x="368.3" y="264.4" font-size="11" fill="#111" textLength="8.6" lengthAdjust="spacingAndGlyphs" font-weight="bold" stroke="#111" stroke-width="0.35">D</text>
<line x1="406.5" y1="269.5" x2="406.5" y2="384" stroke="#222" stroke-width="1.1" />
<line x1="406.0" y1="383.5" x2="461.5" y2="383.5" stroke="#222" stroke-width="1.1" />
<line x1="403.7" y1="383.2" x2="406.5" y2="383.2" stroke="#2a2a2a" stroke-width="1" />
<text x="400" y="386.0" font-size="8" fill="#333" stroke="#333" stroke-width="0.12" text-anchor="end" >0</text>
<line x1="403.7" y1="360.9" x2="406.5" y2="360.9" stroke="#2a2a2a" stroke-width="1" />
<text x="400" y="363.7" font-size="8" fill="#333" stroke="#333" stroke-width="0.12" text-anchor="end" >10</text>
<line x1="403.7" y1="338.59999999999997" x2="406.5" y2="338.59999999999997" stroke="#2a2a2a" stroke-width="1" />
<text x="400" y="341.4" font-size="8" fill="#333" stroke="#333" stroke-width="0.12" text-anchor="end" >20</text>
<line x1="403.7" y1="316.29999999999995" x2="406.5" y2="316.29999999999995" stroke="#2a2a2a" stroke-width="1" />
<text x="400" y="319.09999999999997" font-size="8" fill="#333" stroke="#333" stroke-width="0.12" text-anchor="end" >30</text>
<line x1="403.7" y1="294.0" x2="406.5" y2="294.0" stroke="#2a2a2a" stroke-width="1" />
<text x="400" y="296.8" font-size="8" fill="#333" stroke="#333" stroke-width="0.12" text-anchor="end" >40</text>
<line x1="403.7" y1="271.7" x2="406.5" y2="271.7" stroke="#2a2a2a" stroke-width="1" />
<text x="400" y="274.5" font-size="8" fill="#333" stroke="#333" stroke-width="0.12" text-anchor="end" >50</text>
<line x1="419.2" y1="382.8" x2="419.2" y2="385.6" stroke="#2a2a2a" stroke-width="1" />
<text x="419.2" y="396.2" font-size="8.2" fill="#333" stroke="#333" stroke-width="0.12" text-anchor="middle" textLength="8.8" lengthAdjust="spacingAndGlyphs" >T0</text>
<line x1="433.8" y1="382.8" x2="433.8" y2="385.6" stroke="#2a2a2a" stroke-width="1" />
<text x="433.8" y="396.2" font-size="8.2" fill="#333" stroke="#333" stroke-width="0.12" text-anchor="middle" textLength="8.8" lengthAdjust="spacingAndGlyphs" >T1</text>
<line x1="448.5" y1="382.8" x2="448.5" y2="385.6" stroke="#2a2a2a" stroke-width="1" />
<text x="448.5" y="396.2" font-size="8.2" fill="#333" stroke="#333" stroke-width="0.12" text-anchor="middle" textLength="8.8" lengthAdjust="spacingAndGlyphs" >T2</text>
<text transform="translate(385,325.7) rotate(-90)" font-size="8.7" fill="#333" text-anchor="middle" textLength="52" lengthAdjust="spacingAndGlyphs">% Treg of T cells</text>
<path d="M417.2,288.7 V286.9 H450.6 V288.7" stroke="#444" stroke-width="1.1" fill="none" />
<text x="425.8" y="281.8" font-size="8" fill="#333" stroke="#333" stroke-width="0.12" textLength="16" lengthAdjust="spacingAndGlyphs" >0.04</text>
<path d="M414.4,346.5 V344.7 H435.8 V346.5" stroke="#444" stroke-width="1.1" fill="none" />
<text x="415" y="339.2" font-size="8" fill="#333" stroke="#333" stroke-width="0.12" textLength="19.9" lengthAdjust="spacingAndGlyphs" >0.007</text>
<rect x="414" y="372.3" width="11.5" height="4.3" fill="#d88a90" opacity="0.8"/>
<line x1="419.5" y1="368" x2="419.5" y2="379" stroke="#3e1a22" stroke-width="0.9" />
<line x1="416.5" y1="368" x2="422.5" y2="368" stroke="#3e1a22" stroke-width="1" />
<line x1="416.5" y1="379" x2="422.5" y2="379" stroke="#3e1a22" stroke-width="0.8" />
<rect x="428" y="368" width="12.5" height="5" fill="#d88a90" opacity="0.8"/>
<line x1="434" y1="362" x2="434" y2="376.5" stroke="#3e1a22" stroke-width="0.9" />
<line x1="431" y1="362" x2="437" y2="362" stroke="#3e1a22" stroke-width="1" />
<line x1="431" y1="376.5" x2="437" y2="376.5" stroke="#3e1a22" stroke-width="1" />
<rect x="442.5" y="356" width="12.5" height="11" fill="#c9716f" opacity="0.85"/>
<line x1="448.75" y1="308" x2="448.75" y2="373.7" stroke="#3e1a22" stroke-width="0.9" />
<line x1="445.3" y1="308" x2="452.2" y2="308" stroke="#3e1a22" stroke-width="1.1" />
<line x1="446" y1="373.7" x2="451.5" y2="373.7" stroke="#3e1a22" stroke-width="1" />
<line x1="442.5" y1="365.5" x2="455" y2="365.5" stroke="#3e1a22" stroke-width="0.9" />
<circle cx="414.5" cy="372.8" r="1.2" fill="#8c1226"/>
<circle cx="417" cy="373.5" r="1.2" fill="#8c1226"/>
<circle cx="420" cy="374.5" r="1.2" fill="#8c1226"/>
<circle cx="423" cy="373" r="1.2" fill="#8c1226"/>
<circle cx="425" cy="375.5" r="1.2" fill="#8c1226"/>
<circle cx="416" cy="376.5" r="1.2" fill="#8c1226"/>
<circle cx="419" cy="377" r="1.2" fill="#8c1226"/>
<circle cx="421.5" cy="376" r="1.2" fill="#8c1226"/>
<circle cx="414.5" cy="378.5" r="1.2" fill="#8c1226"/>
<circle cx="422" cy="372" r="1.2" fill="#8c1226"/>
<circle cx="429" cy="369" r="1.2" fill="#8c1226"/>
<circle cx="431.5" cy="370.5" r="1.2" fill="#8c1226"/>
<circle cx="434" cy="371" r="1.2" fill="#8c1226"/>
<circle cx="436.5" cy="369.5" r="1.2" fill="#8c1226"/>
<circle cx="439.5" cy="372" r="1.2" fill="#8c1226"/>
<circle cx="432" cy="374" r="1.2" fill="#8c1226"/>
<circle cx="435" cy="373" r="1.2" fill="#8c1226"/>
<circle cx="438" cy="368.5" r="1.2" fill="#8c1226"/>
<circle cx="430" cy="372.5" r="1.2" fill="#8c1226"/>
<circle cx="434" cy="376" r="1.2" fill="#8c1226"/>
<circle cx="443" cy="365" r="1.2" fill="#8c1226"/>
<circle cx="446" cy="365.5" r="1.2" fill="#8c1226"/>
<circle cx="449" cy="366" r="1.2" fill="#8c1226"/>
<circle cx="452" cy="364.5" r="1.2" fill="#8c1226"/>
<circle cx="455" cy="366.5" r="1.2" fill="#8c1226"/>
<circle cx="448.5" cy="357" r="1.2" fill="#8c1226"/>
<circle cx="447" cy="362" r="1.2" fill="#8c1226"/>
<circle cx="450" cy="367" r="1.2" fill="#8c1226"/>
<circle cx="448.75" cy="349.8" r="1.2" fill="#8c1226"/>
<circle cx="454.5" cy="368.5" r="1.2" fill="#8c1226"/>
<text x="7.3" y="443.1" font-size="11.3" fill="#111" textLength="7.7" lengthAdjust="spacingAndGlyphs" font-weight="bold" stroke="#111" stroke-width="0.35">C</text>
<rect x="115.3" y="458.1" width="97.2" height="97.2" fill="#fff" stroke="#333" stroke-width="1.1"/>
<g filter="url(#mottle0)">
<g fill="#3540b0" opacity="0.8"><circle cx="163.5" cy="471.4" r="0.41"/><circle cx="166.6" cy="479.6" r="0.46"/><circle cx="158.9" cy="489.3" r="0.64"/><circle cx="136.1" cy="487.6" r="0.57"/><circle cx="153.9" cy="467.6" r="0.39"/><circle cx="165.2" cy="474.9" r="0.47"/><circle cx="160.5" cy="468.2" r="0.52"/><circle cx="152.8" cy="489.1" r="0.80"/><circle cx="137.3" cy="476.1" r="0.52"/><circle cx="144.8" cy="491.9" r="0.66"/><circle cx="137.4" cy="473.6" r="0.76"/><circle cx="163.4" cy="484.0" r="0.38"/><circle cx="132.5" cy="486.3" r="0.44"/><circle cx="132.2" cy="478.9" r="0.68"/><circle cx="150.4" cy="492.2" r="0.51"/><circle cx="164.9" cy="483.8" r="0.69"/><circle cx="141.5" cy="471.8" r="0.67"/><circle cx="156.2" cy="465.2" r="0.58"/><circle cx="161.6" cy="484.0" r="0.59"/><circle cx="166.1" cy="478.5" r="0.76"/><circle cx="141.4" cy="470.3" r="0.45"/><circle cx="165.1" cy="474.4" r="0.50"/><circle cx="138.5" cy="488.6" r="0.52"/><circle cx="160.7" cy="466.6" r="0.43"/><circle cx="161.1" cy="485.4" r="0.65"/><circle cx="159.6" cy="488.8" r="0.69"/><circle cx="165.4" cy="474.4" r="0.69"/><circle cx="160.7" cy="485.5" r="0.55"/><circle cx="139.5" cy="489.0" r="0.55"/><circle cx="134.7" cy="478.2" r="0.48"/><circle cx="164.1" cy="479.5" r="0.40"/><circle cx="142.9" cy="491.2" r="0.71"/><circle cx="142.0" cy="469.9" r="0.79"/><circle cx="164.4" cy="474.9" r="0.41"/><circle cx="134.4" cy="479.3" r="0.68"/><circle cx="164.1" cy="471.3" r="0.35"/><circle cx="158.5" cy="489.0" r="0.74"/><circle cx="162.9" cy="472.0" r="0.69"/><circle cx="132.1" cy="478.8" r="0.43"/><circle cx="134.9" cy="489.5" r="0.39"/><circle cx="133.7" cy="485.2" r="0.56"/><circle cx="162.9" cy="482.1" r="0.61"/><circle cx="163.8" cy="482.7" r="0.55"/><circle cx="142.2" cy="469.0" r="0.56"/><circle cx="143.0" cy="490.8" r="0.45"/><circle cx="137.4" cy="487.4" r="0.40"/><circle cx="141.5" cy="469.4" r="0.63"/><circle cx="143.5" cy="489.5" r="0.54"/><circle cx="163.2" cy="472.0" r="0.69"/><circle cx="141.7" cy="470.1" r="0.44"/><circle cx="134.8" cy="482.7" r="0.68"/><circle cx="166.7" cy="473.5" r="0.63"/><circle cx="144.8" cy="467.1" r="0.77"/><circle cx="157.4" cy="490.1" r="0.48"/><circle cx="165.4" cy="471.6" r="0.52"/><circle cx="156.9" cy="465.3" r="0.58"/><circle cx="164.8" cy="470.2" r="0.70"/><circle cx="155.4" cy="467.3" r="0.44"/><circle cx="163.9" cy="470.9" r="0.73"/><circle cx="149.9" cy="490.5" r="0.63"/><circle cx="139.0" cy="470.6" r="0.77"/><circle cx="153.5" cy="465.9" r="0.62"/><circle cx="137.9" cy="488.7" r="0.57"/><circle cx="155.0" cy="466.5" r="0.47"/></g>
<path d="M164.36,473.77 C165.28,475.19 167.07,476.79 166.90,478.50 C166.73,480.22 165.02,482.56 163.33,484.05 C161.63,485.55 158.90,486.56 156.73,487.50 C154.55,488.43 152.36,489.44 150.30,489.69 C148.25,489.93 146.39,489.24 144.42,488.98 C142.45,488.71 140.47,488.70 138.49,488.10 C136.51,487.50 133.21,486.80 132.54,485.35 C131.87,483.91 133.65,481.30 134.49,479.46 C135.33,477.61 136.12,475.78 137.59,474.30 C139.06,472.81 141.30,471.54 143.32,470.56 C145.34,469.58 147.52,468.91 149.70,468.41 C151.88,467.90 154.47,467.27 156.41,467.54 C158.36,467.81 160.05,468.97 161.37,470.01 C162.70,471.05 163.44,472.36 164.36,473.77Z" fill="url(#g1)"/>
<g fill="#9aaa40" opacity="0.28"><circle cx="148.2" cy="475.7" r="0.70"/><circle cx="151.9" cy="472.6" r="0.45"/><circle cx="139.5" cy="479.1" r="0.61"/><circle cx="157.9" cy="481.2" r="0.38"/><circle cx="159.9" cy="476.4" r="0.49"/><circle cx="155.9" cy="476.8" r="0.38"/></g>
<g fill="#7070d0" opacity="0.55"><circle cx="138.3" cy="476.0" r="0.70"/><circle cx="139.9" cy="488.4" r="0.44"/><circle cx="147.7" cy="488.1" r="0.61"/><circle cx="143.7" cy="488.5" r="0.39"/><circle cx="139.5" cy="473.3" r="0.37"/><circle cx="149.1" cy="487.7" r="0.63"/><circle cx="149.8" cy="469.1" r="0.68"/><circle cx="157.1" cy="468.4" r="0.57"/><circle cx="145.1" cy="469.5" r="0.57"/></g>
<g fill="#4a4ab8" opacity="0.28"><circle cx="142.0" cy="481.7" r="0.44"/><circle cx="143.1" cy="479.4" r="0.67"/><circle cx="157.9" cy="479.7" r="0.65"/><circle cx="148.5" cy="483.9" r="0.41"/><circle cx="144.7" cy="482.7" r="0.55"/><circle cx="158.2" cy="481.6" r="0.58"/><circle cx="149.5" cy="487.2" r="0.59"/><circle cx="149.5" cy="486.8" r="0.65"/><circle cx="141.1" cy="476.5" r="0.66"/><circle cx="155.4" cy="474.2" r="0.67"/><circle cx="160.4" cy="477.6" r="0.59"/><circle cx="145.5" cy="473.8" r="0.56"/></g>
<g fill="#3a3aa8" opacity="0.55"><circle cx="137.0" cy="477.7" r="0.48"/><circle cx="140.4" cy="486.1" r="0.44"/><circle cx="159.3" cy="472.2" r="0.68"/><circle cx="150.0" cy="489.8" r="0.55"/><circle cx="148.2" cy="488.5" r="0.57"/><circle cx="139.0" cy="484.8" r="0.53"/></g>
<g fill="#ffffff" opacity="0.55"><circle cx="150.4" cy="469.0" r="0.38"/><circle cx="141.4" cy="486.8" r="0.55"/><circle cx="135.3" cy="483.7" r="0.48"/><circle cx="139.6" cy="485.3" r="0.55"/><circle cx="139.7" cy="474.1" r="0.40"/><circle cx="161.8" cy="481.6" r="0.59"/><circle cx="156.2" cy="468.1" r="0.56"/><circle cx="162.8" cy="470.9" r="0.64"/></g>
<g fill="#9090e0" opacity="0.55"><circle cx="161.1" cy="482.7" r="0.42"/><circle cx="153.0" cy="469.0" r="0.57"/><circle cx="160.8" cy="470.0" r="0.69"/><circle cx="136.1" cy="479.9" r="0.69"/><circle cx="146.0" cy="470.2" r="0.59"/><circle cx="152.1" cy="487.9" r="0.45"/><circle cx="153.2" cy="468.1" r="0.59"/><circle cx="153.2" cy="486.8" r="0.69"/></g>
<g fill="#4a48b8" opacity="0.55"><circle cx="161.0" cy="470.0" r="0.39"/><circle cx="164.8" cy="478.2" r="0.67"/><circle cx="159.7" cy="482.7" r="0.38"/><circle cx="140.5" cy="475.6" r="0.37"/><circle cx="164.2" cy="473.9" r="0.53"/><circle cx="154.3" cy="487.9" r="0.50"/><circle cx="156.8" cy="469.7" r="0.56"/></g>
<g fill="#5a62c8" opacity="0.28"><circle cx="158.9" cy="474.9" r="0.46"/><circle cx="142.3" cy="484.9" r="0.38"/><circle cx="156.2" cy="474.8" r="0.54"/><circle cx="146.1" cy="483.3" r="0.65"/><circle cx="155.8" cy="476.9" r="0.70"/><circle cx="147.0" cy="472.3" r="0.61"/><circle cx="158.6" cy="481.8" r="0.48"/><circle cx="151.4" cy="474.0" r="0.54"/><circle cx="154.2" cy="477.6" r="0.61"/><circle cx="148.7" cy="484.8" r="0.50"/><circle cx="157.5" cy="477.3" r="0.62"/><circle cx="156.5" cy="482.4" r="0.49"/><circle cx="151.1" cy="481.8" r="0.37"/></g>
<g fill="#6a9a70" opacity="0.28"><circle cx="153.3" cy="476.1" r="0.58"/><circle cx="152.4" cy="471.7" r="0.60"/><circle cx="149.8" cy="484.8" r="0.47"/><circle cx="157.0" cy="474.3" r="0.64"/><circle cx="143.0" cy="478.9" r="0.62"/><circle cx="158.4" cy="480.1" r="0.58"/><circle cx="154.5" cy="473.1" r="0.68"/><circle cx="146.8" cy="481.2" r="0.46"/><circle cx="158.0" cy="482.3" r="0.58"/><circle cx="150.1" cy="476.0" r="0.42"/><circle cx="141.1" cy="479.3" r="0.60"/><circle cx="139.1" cy="480.5" r="0.36"/></g>
<g fill="#7a7ad8" opacity="0.28"><circle cx="152.5" cy="484.7" r="0.52"/><circle cx="144.9" cy="487.0" r="0.42"/><circle cx="143.0" cy="476.7" r="0.54"/><circle cx="142.5" cy="480.9" r="0.41"/><circle cx="157.8" cy="473.8" r="0.43"/><circle cx="146.8" cy="474.3" r="0.67"/><circle cx="148.0" cy="476.9" r="0.46"/></g>
<g fill="#3540b0" opacity="0.8"><circle cx="165.7" cy="494.3" r="0.68"/><circle cx="164.5" cy="492.9" r="0.36"/><circle cx="156.6" cy="484.9" r="0.74"/><circle cx="156.5" cy="496.8" r="0.50"/><circle cx="154.7" cy="495.6" r="0.47"/><circle cx="163.4" cy="488.9" r="0.74"/><circle cx="157.3" cy="496.8" r="0.77"/><circle cx="157.0" cy="496.3" r="0.55"/><circle cx="163.2" cy="495.5" r="0.60"/><circle cx="152.7" cy="486.8" r="0.77"/><circle cx="151.0" cy="491.7" r="0.74"/><circle cx="150.0" cy="488.5" r="0.78"/><circle cx="160.6" cy="495.8" r="0.43"/><circle cx="157.0" cy="484.8" r="0.67"/><circle cx="151.4" cy="488.8" r="0.75"/><circle cx="161.6" cy="495.7" r="0.37"/><circle cx="163.2" cy="488.2" r="0.60"/><circle cx="151.2" cy="488.5" r="0.43"/><circle cx="151.7" cy="493.7" r="0.46"/><circle cx="162.5" cy="487.9" r="0.49"/><circle cx="152.3" cy="494.3" r="0.55"/><circle cx="164.1" cy="490.5" r="0.71"/><circle cx="162.0" cy="496.2" r="0.57"/><circle cx="163.1" cy="488.2" r="0.77"/><circle cx="154.4" cy="495.5" r="0.37"/><circle cx="165.9" cy="491.8" r="0.42"/><circle cx="150.9" cy="489.1" r="0.79"/><circle cx="163.1" cy="494.7" r="0.73"/></g>
<path d="M164.16,493.24 C164.15,494.02 164.40,495.19 163.88,495.75 C163.35,496.32 162.04,496.53 161.02,496.64 C160.00,496.76 158.77,496.76 157.78,496.44 C156.80,496.13 155.90,495.33 155.10,494.75 C154.30,494.18 153.64,493.66 152.98,493.01 C152.33,492.37 151.41,491.61 151.16,490.88 C150.91,490.15 151.16,489.27 151.48,488.63 C151.80,487.98 152.48,487.54 153.08,487.02 C153.67,486.49 154.19,485.71 155.05,485.49 C155.91,485.27 157.17,485.48 158.21,485.69 C159.25,485.90 160.41,486.23 161.29,486.75 C162.17,487.26 163.04,488.07 163.49,488.80 C163.93,489.53 163.85,490.37 163.97,491.11 C164.08,491.85 164.18,492.47 164.16,493.24Z" fill="url(#g2)"/>
<g fill="#9090e0" opacity="0.55"><circle cx="152.9" cy="490.1" r="0.51"/><circle cx="156.9" cy="486.5" r="0.35"/><circle cx="160.7" cy="494.8" r="0.35"/><circle cx="154.0" cy="487.5" r="0.57"/></g>
<g fill="#4a4ab8" opacity="0.28"><circle cx="156.5" cy="487.9" r="0.50"/><circle cx="160.6" cy="489.2" r="0.66"/></g>
<g fill="#9aaa40" opacity="0.28"><circle cx="160.1" cy="491.1" r="0.56"/></g>
<g fill="#7070d0" opacity="0.55"><circle cx="164.0" cy="493.6" r="0.57"/><circle cx="164.2" cy="493.3" r="0.44"/><circle cx="163.0" cy="489.0" r="0.38"/></g>
<g fill="#3a3aa8" opacity="0.55"><circle cx="153.4" cy="493.9" r="0.59"/></g>
<g fill="#7a7ad8" opacity="0.28"><circle cx="155.5" cy="492.9" r="0.47"/><circle cx="162.9" cy="491.5" r="0.49"/><circle cx="158.7" cy="488.1" r="0.57"/><circle cx="154.2" cy="491.4" r="0.58"/></g>
<g fill="#6a9a70" opacity="0.28"><circle cx="161.4" cy="491.0" r="0.57"/></g>
<g fill="#ffffff" opacity="0.55"><circle cx="160.0" cy="495.6" r="0.64"/></g>
<g fill="#3540b0" opacity="0.8"><circle cx="140.7" cy="514.2" r="0.36"/><circle cx="137.5" cy="515.4" r="0.40"/><circle cx="127.4" cy="510.5" r="0.75"/><circle cx="145.9" cy="502.3" r="0.49"/><circle cx="146.9" cy="500.3" r="0.66"/><circle cx="136.3" cy="489.6" r="0.37"/><circle cx="128.2" cy="493.3" r="0.49"/><circle cx="143.8" cy="495.6" r="0.61"/><circle cx="141.0" cy="490.5" r="0.78"/><circle cx="135.6" cy="490.7" r="0.63"/><circle cx="146.0" cy="502.1" r="0.49"/><circle cx="147.5" cy="501.9" r="0.64"/><circle cx="142.7" cy="494.6" r="0.65"/><circle cx="144.1" cy="508.0" r="0.59"/><circle cx="145.2" cy="500.2" r="0.58"/><circle cx="125.7" cy="506.3" r="0.65"/><circle cx="128.9" cy="513.1" r="0.52"/><circle cx="130.0" cy="512.7" r="0.62"/><circle cx="125.3" cy="504.6" r="0.65"/><circle cx="143.2" cy="510.8" r="0.80"/><circle cx="125.8" cy="504.6" r="0.53"/><circle cx="147.9" cy="501.7" r="0.58"/><circle cx="142.5" cy="510.9" r="0.75"/><circle cx="127.8" cy="497.1" r="0.51"/><circle cx="127.7" cy="509.3" r="0.44"/><circle cx="127.8" cy="498.0" r="0.71"/><circle cx="136.2" cy="514.5" r="0.66"/><circle cx="126.9" cy="505.7" r="0.72"/><circle cx="124.1" cy="502.6" r="0.73"/><circle cx="126.3" cy="498.1" r="0.61"/><circle cx="138.9" cy="489.7" r="0.56"/><circle cx="131.8" cy="491.3" r="0.51"/><circle cx="143.6" cy="492.8" r="0.62"/><circle cx="147.0" cy="507.0" r="0.58"/><circle cx="127.7" cy="510.8" r="0.43"/><circle cx="124.9" cy="504.6" r="0.47"/><circle cx="145.4" cy="502.8" r="0.51"/><circle cx="135.3" cy="512.9" r="0.46"/><circle cx="137.7" cy="515.0" r="0.47"/><circle cx="126.5" cy="502.0" r="0.44"/><circle cx="138.0" cy="491.5" r="0.77"/><circle cx="146.0" cy="508.3" r="0.52"/><circle cx="146.3" cy="508.0" r="0.44"/><circle cx="126.4" cy="508.0" r="0.69"/><circle cx="124.7" cy="502.3" r="0.46"/><circle cx="132.2" cy="512.6" r="0.38"/><circle cx="139.2" cy="513.9" r="0.75"/><circle cx="144.9" cy="509.3" r="0.57"/><circle cx="145.3" cy="508.3" r="0.57"/><circle cx="139.5" cy="492.9" r="0.35"/></g>
<path d="M146.58,505.33 C145.97,506.88 144.46,508.18 143.30,509.29 C142.14,510.40 140.95,511.40 139.64,512.00 C138.32,512.60 136.80,512.89 135.41,512.87 C134.01,512.85 132.49,512.55 131.28,511.88 C130.07,511.22 128.95,510.08 128.13,508.88 C127.32,507.69 126.83,506.25 126.36,504.71 C125.89,503.17 125.11,501.31 125.32,499.64 C125.52,497.96 126.42,495.85 127.56,494.66 C128.70,493.46 130.66,492.76 132.16,492.46 C133.66,492.17 135.13,492.78 136.55,492.90 C137.97,493.02 139.48,492.64 140.69,493.18 C141.90,493.72 142.77,495.02 143.81,496.16 C144.85,497.30 146.45,498.47 146.92,500.00 C147.38,501.53 147.18,503.79 146.58,505.33Z" fill="url(#g3)"/>
<g fill="#3a3aa8" opacity="0.55"><circle cx="143.8" cy="503.8" r="0.51"/><circle cx="136.5" cy="511.3" r="0.38"/><circle cx="142.5" cy="494.7" r="0.41"/><circle cx="132.8" cy="511.8" r="0.62"/><circle cx="144.0" cy="505.4" r="0.50"/><circle cx="138.6" cy="511.7" r="0.53"/><circle cx="134.8" cy="510.8" r="0.61"/></g>
<g fill="#9aaa40" opacity="0.28"><circle cx="130.5" cy="507.0" r="0.65"/><circle cx="131.1" cy="500.2" r="0.64"/><circle cx="132.9" cy="507.4" r="0.67"/><circle cx="141.2" cy="504.9" r="0.39"/><circle cx="141.4" cy="505.8" r="0.53"/><circle cx="128.5" cy="503.4" r="0.70"/><circle cx="132.0" cy="505.0" r="0.42"/><circle cx="133.3" cy="500.2" r="0.57"/><circle cx="131.5" cy="500.2" r="0.55"/><circle cx="138.3" cy="507.4" r="0.53"/><circle cx="138.7" cy="506.2" r="0.39"/></g>
<g fill="#ffffff" opacity="0.55"><circle cx="144.5" cy="505.4" r="0.56"/><circle cx="140.9" cy="510.5" r="0.46"/><circle cx="141.1" cy="511.1" r="0.61"/><circle cx="134.0" cy="493.3" r="0.54"/><circle cx="128.2" cy="497.8" r="0.57"/></g>
<g fill="#7a7ad8" opacity="0.28"><circle cx="139.0" cy="499.7" r="0.54"/><circle cx="140.9" cy="498.1" r="0.44"/><circle cx="132.8" cy="496.4" r="0.47"/><circle cx="131.0" cy="499.5" r="0.69"/><circle cx="138.6" cy="501.8" r="0.63"/><circle cx="130.3" cy="505.1" r="0.60"/><circle cx="132.5" cy="500.1" r="0.46"/><circle cx="136.3" cy="497.5" r="0.58"/></g>
<g fill="#6a9a70" opacity="0.28"><circle cx="135.6" cy="494.7" r="0.69"/><circle cx="130.8" cy="505.0" r="0.63"/><circle cx="138.3" cy="507.2" r="0.61"/><circle cx="131.0" cy="496.8" r="0.68"/><circle cx="131.0" cy="504.1" r="0.69"/></g>
<g fill="#5a62c8" opacity="0.28"><circle cx="131.4" cy="504.3" r="0.49"/><circle cx="138.7" cy="502.3" r="0.63"/><circle cx="135.4" cy="505.0" r="0.67"/><circle cx="140.2" cy="496.3" r="0.55"/><circle cx="130.0" cy="503.8" r="0.43"/></g>
<g fill="#4a48b8" opacity="0.55"><circle cx="128.9" cy="509.8" r="0.53"/><circle cx="141.6" cy="509.9" r="0.67"/><circle cx="145.7" cy="501.2" r="0.67"/><circle cx="127.4" cy="505.8" r="0.55"/></g>
<g fill="#9090e0" opacity="0.55"><circle cx="139.1" cy="512.4" r="0.48"/><circle cx="134.3" cy="510.9" r="0.43"/><circle cx="140.1" cy="510.7" r="0.60"/></g>
<g fill="#7070d0" opacity="0.55"><circle cx="145.3" cy="505.0" r="0.62"/><circle cx="133.1" cy="493.5" r="0.59"/><circle cx="129.2" cy="507.8" r="0.59"/><circle cx="128.8" cy="498.4" r="0.59"/><circle cx="131.7" cy="495.4" r="0.37"/></g>
<g fill="#4a4ab8" opacity="0.28"><circle cx="135.0" cy="498.1" r="0.50"/><circle cx="129.1" cy="505.8" r="0.63"/></g>
<g fill="#3540b0" opacity="0.8"><circle cx="151.2" cy="510.1" r="0.73"/><circle cx="148.5" cy="503.0" r="0.50"/><circle cx="162.7" cy="502.2" r="0.40"/><circle cx="156.7" cy="511.2" r="0.51"/><circle cx="151.5" cy="511.4" r="0.62"/><circle cx="154.6" cy="495.8" r="0.55"/><circle cx="149.3" cy="506.4" r="0.53"/><circle cx="148.1" cy="500.2" r="0.44"/><circle cx="153.2" cy="511.4" r="0.58"/><circle cx="149.7" cy="507.4" r="0.70"/><circle cx="155.6" cy="495.5" r="0.69"/><circle cx="150.9" cy="497.1" r="0.53"/><circle cx="156.8" cy="495.4" r="0.39"/><circle cx="149.9" cy="510.1" r="0.41"/><circle cx="151.9" cy="509.6" r="0.38"/><circle cx="149.3" cy="507.4" r="0.64"/><circle cx="162.3" cy="500.4" r="0.65"/><circle cx="160.5" cy="498.1" r="0.66"/><circle cx="154.7" cy="494.6" r="0.78"/><circle cx="154.3" cy="510.7" r="0.79"/><circle cx="161.3" cy="500.3" r="0.76"/><circle cx="159.4" cy="509.3" r="0.76"/><circle cx="161.2" cy="497.0" r="0.68"/><circle cx="152.7" cy="511.4" r="0.35"/><circle cx="161.2" cy="498.0" r="0.78"/><circle cx="162.9" cy="503.9" r="0.43"/><circle cx="156.4" cy="511.3" r="0.36"/><circle cx="148.7" cy="503.5" r="0.41"/><circle cx="158.9" cy="509.7" r="0.37"/><circle cx="160.8" cy="497.1" r="0.44"/><circle cx="161.0" cy="497.7" r="0.46"/><circle cx="160.7" cy="498.3" r="0.69"/><circle cx="157.6" cy="495.6" r="0.61"/><circle cx="152.7" cy="496.6" r="0.70"/></g>
<path d="M163.13,503.50 C163.09,504.62 162.45,505.83 161.91,506.81 C161.36,507.78 160.66,508.74 159.84,509.33 C159.02,509.92 157.92,510.21 156.96,510.36 C156.00,510.50 155.10,510.30 154.07,510.21 C153.04,510.12 151.64,510.38 150.79,509.83 C149.94,509.27 149.38,507.92 148.97,506.87 C148.56,505.81 148.31,504.61 148.33,503.50 C148.34,502.39 148.56,501.10 149.06,500.18 C149.57,499.26 150.55,498.55 151.37,497.96 C152.20,497.36 153.10,496.85 154.03,496.62 C154.97,496.39 156.05,496.33 156.98,496.56 C157.91,496.78 158.76,497.38 159.62,497.97 C160.47,498.56 161.53,499.16 162.12,500.09 C162.70,501.01 163.16,502.38 163.13,503.50Z" fill="url(#g4)"/>
<g fill="#9aaa40" opacity="0.28"><circle cx="154.5" cy="505.6" r="0.55"/><circle cx="158.1" cy="507.4" r="0.57"/><circle cx="157.9" cy="506.2" r="0.70"/><circle cx="158.6" cy="506.1" r="0.63"/></g>
<g fill="#5a62c8" opacity="0.28"><circle cx="152.9" cy="505.3" r="0.50"/><circle cx="151.1" cy="503.5" r="0.58"/><circle cx="151.0" cy="503.1" r="0.46"/><circle cx="153.8" cy="507.4" r="0.42"/><circle cx="158.8" cy="501.7" r="0.40"/><circle cx="156.7" cy="508.5" r="0.61"/><circle cx="156.4" cy="501.1" r="0.62"/></g>
<g fill="#ffffff" opacity="0.55"><circle cx="161.2" cy="499.7" r="0.64"/><circle cx="157.7" cy="498.2" r="0.41"/></g>
<g fill="#3a3aa8" opacity="0.55"><circle cx="152.3" cy="498.6" r="0.41"/><circle cx="158.8" cy="509.4" r="0.39"/><circle cx="157.7" cy="496.8" r="0.53"/><circle cx="157.0" cy="509.6" r="0.49"/></g>
<g fill="#9090e0" opacity="0.55"><circle cx="149.0" cy="505.5" r="0.67"/><circle cx="150.8" cy="498.9" r="0.47"/></g>
<g fill="#4a48b8" opacity="0.55"><circle cx="153.4" cy="497.6" r="0.39"/><circle cx="161.5" cy="502.7" r="0.58"/></g>
<g fill="#4a4ab8" opacity="0.28"><circle cx="157.0" cy="500.3" r="0.43"/></g>
<g fill="#7070d0" opacity="0.55"><circle cx="155.4" cy="509.5" r="0.46"/><circle cx="156.6" cy="496.9" r="0.61"/><circle cx="151.5" cy="508.3" r="0.45"/></g>
<g fill="#6a9a70" opacity="0.28"><circle cx="153.6" cy="508.1" r="0.62"/></g>
<g fill="#3540b0" opacity="0.8"><circle cx="205.9" cy="507.2" r="0.78"/><circle cx="205.5" cy="486.3" r="0.74"/><circle cx="187.0" cy="479.8" r="0.46"/><circle cx="170.4" cy="487.6" r="0.60"/><circle cx="180.9" cy="477.7" r="0.72"/><circle cx="170.4" cy="498.0" r="0.71"/><circle cx="169.4" cy="492.2" r="0.41"/><circle cx="201.8" cy="484.8" r="0.59"/><circle cx="195.2" cy="481.5" r="0.50"/><circle cx="188.4" cy="514.4" r="0.62"/><circle cx="206.0" cy="507.5" r="0.41"/><circle cx="169.4" cy="489.1" r="0.52"/><circle cx="175.3" cy="483.4" r="0.77"/><circle cx="210.8" cy="504.7" r="0.63"/><circle cx="175.9" cy="482.4" r="0.64"/><circle cx="205.5" cy="507.4" r="0.39"/><circle cx="184.9" cy="509.8" r="0.43"/><circle cx="181.7" cy="506.9" r="0.52"/><circle cx="176.5" cy="477.2" r="0.63"/><circle cx="188.4" cy="511.9" r="0.60"/><circle cx="198.6" cy="514.4" r="0.64"/><circle cx="193.7" cy="480.6" r="0.51"/><circle cx="191.7" cy="511.7" r="0.71"/><circle cx="198.1" cy="513.5" r="0.76"/><circle cx="177.6" cy="504.2" r="0.35"/><circle cx="179.9" cy="479.4" r="0.75"/><circle cx="175.1" cy="482.8" r="0.39"/><circle cx="174.5" cy="503.1" r="0.52"/><circle cx="205.0" cy="490.6" r="0.79"/><circle cx="173.7" cy="487.1" r="0.40"/><circle cx="210.0" cy="500.5" r="0.41"/><circle cx="174.3" cy="502.6" r="0.55"/><circle cx="171.1" cy="493.3" r="0.64"/><circle cx="174.9" cy="482.8" r="0.51"/><circle cx="191.6" cy="513.0" r="0.51"/><circle cx="186.3" cy="479.3" r="0.54"/><circle cx="208.3" cy="499.1" r="0.42"/><circle cx="184.6" cy="477.3" r="0.63"/><circle cx="171.0" cy="496.7" r="0.77"/><circle cx="199.6" cy="513.8" r="0.62"/><circle cx="208.5" cy="503.2" r="0.68"/><circle cx="192.7" cy="478.0" r="0.67"/><circle cx="174.1" cy="482.8" r="0.59"/><circle cx="177.0" cy="483.0" r="0.54"/><circle cx="179.9" cy="478.7" r="0.64"/><circle cx="181.1" cy="478.5" r="0.46"/><circle cx="191.0" cy="476.1" r="0.66"/><circle cx="204.5" cy="511.8" r="0.43"/><circle cx="172.2" cy="487.6" r="0.53"/><circle cx="186.6" cy="477.4" r="0.69"/><circle cx="170.3" cy="490.6" r="0.73"/><circle cx="209.1" cy="506.6" r="0.36"/><circle cx="187.9" cy="512.7" r="0.74"/><circle cx="191.6" cy="476.4" r="0.50"/><circle cx="173.8" cy="479.7" r="0.66"/><circle cx="195.2" cy="512.1" r="0.73"/><circle cx="169.8" cy="493.8" r="0.39"/><circle cx="207.8" cy="500.3" r="0.45"/><circle cx="173.3" cy="501.7" r="0.77"/><circle cx="207.3" cy="504.2" r="0.58"/><circle cx="173.7" cy="492.6" r="0.54"/><circle cx="197.3" cy="511.7" r="0.60"/><circle cx="199.1" cy="481.3" r="0.50"/><circle cx="173.7" cy="486.4" r="0.67"/><circle cx="207.2" cy="497.7" r="0.79"/><circle cx="191.2" cy="512.5" r="0.60"/><circle cx="207.0" cy="498.6" r="0.62"/><circle cx="207.4" cy="494.4" r="0.70"/><circle cx="197.0" cy="514.7" r="0.52"/><circle cx="207.3" cy="495.0" r="0.47"/><circle cx="173.7" cy="487.5" r="0.49"/><circle cx="170.9" cy="494.9" r="0.41"/><circle cx="209.3" cy="503.3" r="0.66"/><circle cx="199.6" cy="513.3" r="0.44"/><circle cx="209.0" cy="504.6" r="0.56"/><circle cx="196.3" cy="515.8" r="0.48"/><circle cx="193.2" cy="480.0" r="0.51"/><circle cx="201.6" cy="513.0" r="0.65"/><circle cx="186.3" cy="512.8" r="0.42"/><circle cx="173.1" cy="484.8" r="0.56"/><circle cx="192.6" cy="515.6" r="0.63"/><circle cx="186.1" cy="477.4" r="0.48"/></g>
<path d="M203.39,507.14 C202.01,508.72 200.67,510.42 198.70,511.40 C196.72,512.39 194.03,513.40 191.54,513.02 C189.06,512.65 186.35,510.60 183.79,509.14 C181.23,507.68 178.10,506.40 176.21,504.28 C174.31,502.16 173.09,499.00 172.42,496.41 C171.74,493.83 171.85,491.20 172.16,488.77 C172.46,486.33 172.58,483.08 174.24,481.80 C175.90,480.53 179.73,481.41 182.13,481.12 C184.53,480.83 186.28,479.96 188.64,480.06 C191.00,480.15 193.77,480.59 196.28,481.71 C198.79,482.83 201.56,484.65 203.69,486.78 C205.83,488.92 208.52,491.99 209.07,494.51 C209.61,497.03 207.92,499.80 206.97,501.90 C206.02,504.01 204.77,505.56 203.39,507.14Z" fill="url(#g5)"/>
<g fill="#4a48b8" opacity="0.55"><circle cx="203.2" cy="491.5" r="0.67"/><circle cx="176.9" cy="495.6" r="0.65"/><circle cx="174.3" cy="485.5" r="0.39"/><circle cx="202.4" cy="504.7" r="0.48"/><circle cx="192.5" cy="509.8" r="0.52"/><circle cx="200.9" cy="510.2" r="0.47"/><circle cx="183.9" cy="479.4" r="0.48"/><circle cx="173.9" cy="488.1" r="0.44"/><circle cx="176.6" cy="494.9" r="0.62"/><circle cx="177.8" cy="499.6" r="0.51"/><circle cx="196.8" cy="508.1" r="0.64"/></g>
<g fill="#6a9a70" opacity="0.28"><circle cx="196.9" cy="491.2" r="0.61"/><circle cx="197.9" cy="494.6" r="0.40"/><circle cx="194.8" cy="505.7" r="0.59"/><circle cx="199.2" cy="496.3" r="0.39"/><circle cx="184.6" cy="494.8" r="0.55"/><circle cx="196.6" cy="505.7" r="0.69"/><circle cx="192.7" cy="504.2" r="0.67"/><circle cx="195.6" cy="497.3" r="0.40"/><circle cx="199.1" cy="504.5" r="0.62"/><circle cx="193.9" cy="505.8" r="0.38"/><circle cx="193.9" cy="498.5" r="0.45"/><circle cx="188.9" cy="505.8" r="0.58"/><circle cx="181.4" cy="492.3" r="0.70"/><circle cx="197.5" cy="505.1" r="0.67"/><circle cx="189.3" cy="489.9" r="0.50"/><circle cx="201.3" cy="504.4" r="0.50"/><circle cx="182.8" cy="497.6" r="0.52"/><circle cx="191.9" cy="501.1" r="0.67"/><circle cx="189.6" cy="485.5" r="0.46"/><circle cx="198.8" cy="495.5" r="0.60"/></g>
<g fill="#9aaa40" opacity="0.28"><circle cx="200.5" cy="502.4" r="0.58"/><circle cx="200.1" cy="501.3" r="0.39"/><circle cx="179.5" cy="491.0" r="0.38"/><circle cx="184.8" cy="505.4" r="0.59"/><circle cx="195.6" cy="506.1" r="0.47"/><circle cx="188.1" cy="500.9" r="0.45"/><circle cx="185.9" cy="504.5" r="0.59"/><circle cx="184.8" cy="494.6" r="0.60"/><circle cx="180.1" cy="490.5" r="0.41"/><circle cx="192.0" cy="492.5" r="0.62"/><circle cx="177.2" cy="492.3" r="0.39"/><circle cx="188.5" cy="489.8" r="0.42"/><circle cx="188.9" cy="503.9" r="0.52"/><circle cx="179.6" cy="485.7" r="0.47"/><circle cx="195.8" cy="490.2" r="0.36"/><circle cx="186.3" cy="500.9" r="0.43"/><circle cx="193.1" cy="503.7" r="0.39"/><circle cx="194.1" cy="501.2" r="0.36"/></g>
<g fill="#4a4ab8" opacity="0.28"><circle cx="184.7" cy="498.3" r="0.52"/><circle cx="194.2" cy="496.9" r="0.57"/><circle cx="195.3" cy="506.8" r="0.38"/><circle cx="182.4" cy="493.5" r="0.56"/><circle cx="193.0" cy="503.0" r="0.48"/><circle cx="189.8" cy="488.7" r="0.46"/><circle cx="185.7" cy="499.5" r="0.61"/><circle cx="191.9" cy="503.6" r="0.42"/><circle cx="187.8" cy="487.1" r="0.42"/><circle cx="197.2" cy="507.4" r="0.53"/><circle cx="183.5" cy="490.9" r="0.69"/><circle cx="196.1" cy="504.3" r="0.55"/><circle cx="196.7" cy="502.7" r="0.54"/><circle cx="187.0" cy="506.8" r="0.58"/><circle cx="192.4" cy="499.8" r="0.67"/><circle cx="191.5" cy="504.8" r="0.70"/><circle cx="180.0" cy="499.7" r="0.57"/></g>
<g fill="#7a7ad8" opacity="0.28"><circle cx="197.5" cy="502.1" r="0.44"/><circle cx="198.1" cy="503.5" r="0.58"/><circle cx="196.5" cy="502.0" r="0.60"/><circle cx="196.0" cy="486.4" r="0.43"/><circle cx="195.9" cy="489.3" r="0.48"/><circle cx="185.6" cy="485.9" r="0.59"/><circle cx="196.7" cy="503.8" r="0.65"/><circle cx="195.8" cy="508.0" r="0.70"/><circle cx="181.3" cy="499.6" r="0.63"/><circle cx="184.5" cy="497.6" r="0.59"/><circle cx="191.2" cy="507.5" r="0.44"/><circle cx="191.4" cy="502.4" r="0.60"/><circle cx="193.6" cy="504.8" r="0.56"/><circle cx="186.1" cy="490.0" r="0.37"/><circle cx="195.1" cy="500.6" r="0.67"/></g>
<g fill="#5a62c8" opacity="0.28"><circle cx="184.4" cy="490.6" r="0.55"/><circle cx="183.7" cy="504.4" r="0.60"/><circle cx="183.9" cy="490.4" r="0.59"/><circle cx="184.5" cy="485.5" r="0.54"/><circle cx="196.3" cy="494.9" r="0.68"/><circle cx="184.9" cy="493.6" r="0.59"/><circle cx="196.8" cy="487.9" r="0.63"/><circle cx="195.2" cy="486.4" r="0.64"/><circle cx="198.5" cy="496.4" r="0.49"/><circle cx="195.0" cy="489.0" r="0.44"/><circle cx="194.3" cy="484.8" r="0.65"/><circle cx="184.1" cy="503.7" r="0.64"/><circle cx="184.6" cy="484.8" r="0.52"/><circle cx="184.6" cy="500.9" r="0.45"/></g>
<g fill="#9090e0" opacity="0.55"><circle cx="190.0" cy="510.0" r="0.62"/><circle cx="181.6" cy="504.4" r="0.68"/><circle cx="183.8" cy="505.7" r="0.59"/><circle cx="196.8" cy="508.5" r="0.66"/><circle cx="188.7" cy="479.7" r="0.39"/><circle cx="202.2" cy="505.2" r="0.58"/><circle cx="185.4" cy="509.8" r="0.35"/><circle cx="187.4" cy="508.5" r="0.38"/><circle cx="198.3" cy="511.0" r="0.59"/><circle cx="191.5" cy="509.9" r="0.55"/><circle cx="181.7" cy="482.8" r="0.50"/><circle cx="199.1" cy="510.2" r="0.56"/><circle cx="187.7" cy="479.9" r="0.53"/><circle cx="201.9" cy="487.2" r="0.58"/></g>
<g fill="#ffffff" opacity="0.55"><circle cx="205.6" cy="496.3" r="0.45"/><circle cx="185.9" cy="479.5" r="0.48"/><circle cx="178.4" cy="483.5" r="0.65"/><circle cx="205.0" cy="495.2" r="0.62"/><circle cx="175.8" cy="496.1" r="0.64"/><circle cx="176.3" cy="489.5" r="0.35"/><circle cx="193.0" cy="510.5" r="0.52"/><circle cx="175.4" cy="486.3" r="0.63"/><circle cx="198.5" cy="507.4" r="0.69"/><circle cx="197.8" cy="483.2" r="0.67"/><circle cx="201.6" cy="489.6" r="0.53"/><circle cx="177.2" cy="499.8" r="0.53"/><circle cx="204.1" cy="496.4" r="0.45"/></g>
<g fill="#3a3aa8" opacity="0.55"><circle cx="185.1" cy="508.2" r="0.48"/><circle cx="203.6" cy="499.1" r="0.68"/><circle cx="201.8" cy="507.2" r="0.41"/><circle cx="197.9" cy="510.8" r="0.68"/><circle cx="203.6" cy="503.4" r="0.36"/><circle cx="197.1" cy="484.5" r="0.47"/><circle cx="179.3" cy="480.6" r="0.67"/><circle cx="182.3" cy="505.8" r="0.61"/><circle cx="184.7" cy="481.5" r="0.38"/><circle cx="197.1" cy="508.9" r="0.56"/><circle cx="206.2" cy="500.0" r="0.41"/><circle cx="202.5" cy="506.7" r="0.69"/><circle cx="191.4" cy="480.0" r="0.36"/></g>
<g fill="#7070d0" opacity="0.55"><circle cx="201.6" cy="488.1" r="0.53"/><circle cx="194.5" cy="480.9" r="0.55"/><circle cx="176.9" cy="495.7" r="0.49"/><circle cx="197.0" cy="486.6" r="0.49"/><circle cx="178.2" cy="501.7" r="0.62"/><circle cx="206.0" cy="499.2" r="0.65"/><circle cx="173.0" cy="493.4" r="0.67"/><circle cx="186.4" cy="510.5" r="0.54"/><circle cx="173.7" cy="493.9" r="0.67"/><circle cx="192.5" cy="482.0" r="0.57"/><circle cx="182.5" cy="507.2" r="0.48"/></g>
<g fill="#3540b0" opacity="0.8"><circle cx="186.5" cy="493.3" r="0.41"/><circle cx="184.6" cy="491.2" r="0.71"/><circle cx="174.1" cy="490.8" r="0.36"/><circle cx="174.4" cy="497.8" r="0.73"/><circle cx="191.3" cy="495.7" r="0.55"/><circle cx="196.1" cy="502.5" r="0.72"/><circle cx="192.9" cy="512.4" r="0.58"/><circle cx="192.5" cy="496.9" r="0.62"/><circle cx="177.5" cy="489.1" r="0.52"/><circle cx="194.2" cy="511.4" r="0.77"/><circle cx="177.2" cy="503.6" r="0.75"/><circle cx="192.7" cy="512.8" r="0.74"/><circle cx="199.2" cy="508.4" r="0.66"/><circle cx="181.3" cy="490.8" r="0.70"/><circle cx="174.8" cy="500.8" r="0.59"/><circle cx="187.9" cy="511.6" r="0.73"/><circle cx="196.6" cy="513.5" r="0.62"/><circle cx="186.2" cy="509.9" r="0.62"/><circle cx="175.0" cy="487.9" r="0.40"/><circle cx="193.0" cy="497.4" r="0.78"/><circle cx="196.9" cy="513.2" r="0.78"/><circle cx="194.2" cy="513.2" r="0.41"/><circle cx="184.3" cy="492.0" r="0.42"/><circle cx="192.7" cy="513.6" r="0.59"/><circle cx="196.4" cy="512.3" r="0.35"/><circle cx="199.9" cy="511.5" r="0.41"/><circle cx="199.1" cy="511.6" r="0.76"/><circle cx="174.5" cy="500.2" r="0.67"/><circle cx="198.9" cy="508.5" r="0.67"/><circle cx="198.3" cy="503.3" r="0.52"/><circle cx="193.7" cy="513.5" r="0.44"/><circle cx="171.9" cy="494.9" r="0.66"/><circle cx="180.3" cy="506.0" r="0.61"/><circle cx="175.0" cy="501.1" r="0.51"/><circle cx="186.8" cy="509.8" r="0.72"/><circle cx="199.5" cy="510.4" r="0.65"/><circle cx="183.0" cy="509.2" r="0.43"/><circle cx="174.7" cy="497.3" r="0.80"/><circle cx="174.1" cy="493.0" r="0.38"/><circle cx="177.1" cy="490.9" r="0.63"/><circle cx="198.8" cy="507.1" r="0.74"/><circle cx="176.8" cy="487.7" r="0.47"/><circle cx="191.3" cy="496.8" r="0.42"/><circle cx="186.7" cy="493.5" r="0.41"/><circle cx="185.0" cy="509.8" r="0.54"/><circle cx="175.6" cy="498.0" r="0.50"/><circle cx="190.1" cy="511.4" r="0.61"/><circle cx="185.1" cy="510.0" r="0.37"/><circle cx="186.8" cy="492.9" r="0.47"/><circle cx="194.9" cy="513.3" r="0.67"/><circle cx="183.5" cy="507.6" r="0.68"/><circle cx="182.2" cy="490.1" r="0.48"/></g>
<path d="M195.83,509.54 C195.22,510.23 194.41,510.58 193.42,511.09 C192.44,511.60 191.51,513.00 189.93,512.62 C188.34,512.24 185.75,510.26 183.91,508.83 C182.07,507.39 180.29,505.65 178.88,504.01 C177.47,502.38 176.24,500.58 175.45,499.01 C174.67,497.45 174.18,495.84 174.15,494.61 C174.12,493.39 174.68,492.50 175.26,491.67 C175.84,490.83 176.40,489.73 177.63,489.62 C178.85,489.51 180.88,490.41 182.62,491.00 C184.37,491.60 186.22,492.07 188.08,493.19 C189.95,494.30 192.39,496.05 193.83,497.68 C195.28,499.32 196.20,501.47 196.74,503.02 C197.28,504.57 197.22,505.88 197.07,506.97 C196.92,508.06 196.43,508.85 195.83,509.54Z" fill="url(#g6)"/>
<g fill="#ffffff" opacity="0.55"><circle cx="179.6" cy="502.7" r="0.69"/><circle cx="185.1" cy="507.1" r="0.57"/><circle cx="193.0" cy="500.2" r="0.43"/></g>
<g fill="#7a7ad8" opacity="0.28"><circle cx="193.0" cy="505.8" r="0.52"/><circle cx="181.3" cy="498.3" r="0.62"/><circle cx="187.4" cy="506.3" r="0.49"/><circle cx="190.5" cy="505.7" r="0.41"/><circle cx="188.8" cy="507.8" r="0.56"/><circle cx="184.8" cy="496.2" r="0.54"/></g>
<g fill="#4a4ab8" opacity="0.28"><circle cx="176.9" cy="496.1" r="0.53"/><circle cx="178.3" cy="496.5" r="0.55"/><circle cx="191.2" cy="501.9" r="0.51"/><circle cx="190.6" cy="499.8" r="0.68"/><circle cx="189.5" cy="503.0" r="0.46"/></g>
<g fill="#3a3aa8" opacity="0.55"><circle cx="184.5" cy="506.6" r="0.56"/><circle cx="183.0" cy="507.0" r="0.56"/><circle cx="184.3" cy="507.5" r="0.59"/><circle cx="177.1" cy="492.9" r="0.44"/><circle cx="180.7" cy="490.6" r="0.36"/></g>
<g fill="#5a62c8" opacity="0.28"><circle cx="187.6" cy="504.0" r="0.67"/><circle cx="180.3" cy="500.8" r="0.62"/><circle cx="195.0" cy="506.9" r="0.59"/><circle cx="182.6" cy="500.9" r="0.38"/><circle cx="179.2" cy="501.4" r="0.57"/><circle cx="193.6" cy="503.9" r="0.46"/><circle cx="178.6" cy="494.2" r="0.48"/><circle cx="176.9" cy="495.7" r="0.36"/></g>
<g fill="#7070d0" opacity="0.55"><circle cx="176.8" cy="492.2" r="0.41"/><circle cx="175.9" cy="494.7" r="0.64"/><circle cx="195.7" cy="507.1" r="0.66"/><circle cx="176.0" cy="496.6" r="0.51"/><circle cx="195.5" cy="509.8" r="0.48"/><circle cx="177.6" cy="501.5" r="0.58"/><circle cx="178.5" cy="503.0" r="0.51"/></g>
<g fill="#4a48b8" opacity="0.55"><circle cx="174.1" cy="495.1" r="0.47"/><circle cx="175.7" cy="494.6" r="0.59"/><circle cx="193.3" cy="511.3" r="0.51"/><circle cx="195.0" cy="503.3" r="0.59"/></g>
<g fill="#6a9a70" opacity="0.28"><circle cx="182.1" cy="503.9" r="0.39"/><circle cx="189.6" cy="499.7" r="0.48"/><circle cx="194.6" cy="505.1" r="0.70"/><circle cx="177.2" cy="494.3" r="0.48"/><circle cx="186.2" cy="499.0" r="0.66"/><circle cx="189.8" cy="502.1" r="0.44"/><circle cx="186.1" cy="506.6" r="0.57"/></g>
<g fill="#9090e0" opacity="0.55"><circle cx="182.2" cy="506.8" r="0.45"/><circle cx="191.5" cy="510.9" r="0.48"/><circle cx="194.7" cy="500.8" r="0.64"/></g>
<g fill="#9aaa40" opacity="0.28"><circle cx="192.3" cy="500.5" r="0.39"/><circle cx="184.2" cy="496.7" r="0.69"/><circle cx="188.6" cy="503.5" r="0.44"/><circle cx="181.3" cy="501.6" r="0.37"/></g>
<g fill="#3540b0" opacity="0.8"><circle cx="161.1" cy="521.4" r="0.64"/><circle cx="154.2" cy="515.2" r="0.79"/><circle cx="158.9" cy="520.0" r="0.65"/><circle cx="166.3" cy="519.4" r="0.72"/><circle cx="158.0" cy="521.6" r="0.44"/><circle cx="157.5" cy="521.3" r="0.62"/><circle cx="156.2" cy="508.3" r="0.76"/><circle cx="158.7" cy="506.2" r="0.72"/><circle cx="156.3" cy="507.7" r="0.54"/><circle cx="161.2" cy="520.8" r="0.77"/><circle cx="169.0" cy="518.8" r="0.76"/><circle cx="159.2" cy="507.5" r="0.56"/><circle cx="164.0" cy="520.7" r="0.61"/><circle cx="156.1" cy="508.9" r="0.66"/><circle cx="167.6" cy="507.6" r="0.63"/><circle cx="152.5" cy="514.2" r="0.75"/><circle cx="165.8" cy="506.7" r="0.41"/><circle cx="153.4" cy="513.2" r="0.39"/><circle cx="153.9" cy="513.2" r="0.35"/><circle cx="155.7" cy="510.6" r="0.53"/><circle cx="167.6" cy="507.2" r="0.72"/><circle cx="163.5" cy="521.9" r="0.68"/><circle cx="166.9" cy="519.0" r="0.52"/><circle cx="169.7" cy="515.4" r="0.58"/><circle cx="170.4" cy="518.0" r="0.46"/><circle cx="152.7" cy="512.5" r="0.56"/><circle cx="165.6" cy="507.5" r="0.56"/><circle cx="156.6" cy="519.5" r="0.70"/><circle cx="155.1" cy="516.2" r="0.64"/><circle cx="159.0" cy="519.9" r="0.51"/><circle cx="153.3" cy="513.1" r="0.57"/><circle cx="154.7" cy="517.0" r="0.77"/><circle cx="168.5" cy="517.5" r="0.42"/><circle cx="166.7" cy="519.1" r="0.49"/><circle cx="170.7" cy="512.0" r="0.36"/><circle cx="162.5" cy="521.4" r="0.75"/></g>
<path d="M170.27,514.00 C170.22,515.09 170.20,516.35 169.61,517.21 C169.02,518.07 167.75,518.79 166.72,519.17 C165.69,519.55 164.51,519.24 163.43,519.49 C162.36,519.73 161.36,520.63 160.26,520.66 C159.16,520.69 157.81,520.24 156.84,519.66 C155.88,519.08 154.97,518.11 154.48,517.17 C153.99,516.22 153.77,515.00 153.89,514.00 C154.02,513.00 154.67,512.01 155.24,511.15 C155.81,510.29 156.48,509.55 157.30,508.84 C158.11,508.13 159.10,507.06 160.15,506.90 C161.20,506.73 162.52,507.52 163.60,507.86 C164.68,508.19 165.59,508.44 166.63,508.91 C167.68,509.39 169.28,509.83 169.88,510.68 C170.49,511.53 170.31,512.91 170.27,514.00Z" fill="url(#g7)"/>
<g fill="#4a48b8" opacity="0.55"><circle cx="159.5" cy="507.5" r="0.40"/><circle cx="164.4" cy="518.8" r="0.59"/><circle cx="163.6" cy="520.6" r="0.47"/></g>
<g fill="#6a9a70" opacity="0.28"><circle cx="159.0" cy="517.7" r="0.43"/><circle cx="160.9" cy="517.2" r="0.37"/><circle cx="161.9" cy="511.2" r="0.58"/></g>
<g fill="#9aaa40" opacity="0.28"><circle cx="160.3" cy="512.8" r="0.67"/><circle cx="165.1" cy="518.2" r="0.53"/><circle cx="164.6" cy="515.3" r="0.49"/><circle cx="156.2" cy="514.8" r="0.54"/></g>
<g fill="#4a4ab8" opacity="0.28"><circle cx="164.9" cy="517.3" r="0.45"/><circle cx="164.1" cy="515.5" r="0.65"/><circle cx="163.7" cy="516.2" r="0.69"/><circle cx="162.8" cy="515.8" r="0.45"/><circle cx="165.9" cy="517.1" r="0.51"/></g>
<g fill="#ffffff" opacity="0.55"><circle cx="159.2" cy="519.7" r="0.60"/><circle cx="165.7" cy="520.0" r="0.57"/><circle cx="169.0" cy="515.7" r="0.56"/></g>
<g fill="#5a62c8" opacity="0.28"><circle cx="157.7" cy="513.7" r="0.38"/><circle cx="162.3" cy="509.1" r="0.53"/></g>
<g fill="#7a7ad8" opacity="0.28"><circle cx="162.9" cy="510.4" r="0.44"/><circle cx="167.1" cy="512.3" r="0.54"/></g>
<g fill="#9090e0" opacity="0.55"><circle cx="165.4" cy="508.6" r="0.58"/><circle cx="157.7" cy="509.7" r="0.64"/><circle cx="161.3" cy="508.8" r="0.48"/></g>
<g fill="#7070d0" opacity="0.55"><circle cx="162.6" cy="508.1" r="0.55"/><circle cx="155.8" cy="516.1" r="0.60"/></g>
<g fill="#3a3aa8" opacity="0.55"><circle cx="167.3" cy="508.9" r="0.40"/></g>
<g fill="#3540b0" opacity="0.8"><circle cx="163.8" cy="519.0" r="0.36"/><circle cx="184.1" cy="523.1" r="0.48"/><circle cx="163.9" cy="514.2" r="0.75"/><circle cx="171.6" cy="513.9" r="0.58"/><circle cx="163.9" cy="534.1" r="0.79"/><circle cx="170.6" cy="511.9" r="0.66"/><circle cx="177.1" cy="513.1" r="0.63"/><circle cx="180.1" cy="534.9" r="0.60"/><circle cx="163.4" cy="519.0" r="0.54"/><circle cx="162.0" cy="517.7" r="0.51"/><circle cx="174.7" cy="537.6" r="0.79"/><circle cx="162.4" cy="533.5" r="0.45"/><circle cx="165.1" cy="515.4" r="0.55"/><circle cx="184.9" cy="529.5" r="0.50"/><circle cx="183.7" cy="528.6" r="0.56"/><circle cx="168.6" cy="537.2" r="0.80"/><circle cx="164.9" cy="534.0" r="0.62"/><circle cx="161.7" cy="527.1" r="0.42"/><circle cx="168.4" cy="514.7" r="0.48"/><circle cx="172.0" cy="536.6" r="0.54"/><circle cx="168.9" cy="514.1" r="0.67"/><circle cx="185.1" cy="528.8" r="0.49"/><circle cx="179.4" cy="514.0" r="0.46"/><circle cx="184.8" cy="528.6" r="0.60"/><circle cx="178.0" cy="534.3" r="0.67"/><circle cx="182.2" cy="518.3" r="0.77"/><circle cx="161.3" cy="522.4" r="0.52"/><circle cx="163.2" cy="530.7" r="0.71"/><circle cx="176.3" cy="513.3" r="0.41"/><circle cx="182.9" cy="523.6" r="0.45"/><circle cx="180.5" cy="517.4" r="0.69"/><circle cx="180.9" cy="514.5" r="0.40"/><circle cx="165.1" cy="514.8" r="0.47"/><circle cx="165.2" cy="535.4" r="0.49"/><circle cx="161.8" cy="520.9" r="0.43"/><circle cx="164.1" cy="534.9" r="0.53"/><circle cx="162.1" cy="520.0" r="0.78"/><circle cx="159.7" cy="523.4" r="0.40"/><circle cx="178.5" cy="515.8" r="0.35"/><circle cx="161.6" cy="524.3" r="0.35"/><circle cx="181.8" cy="516.5" r="0.65"/><circle cx="170.9" cy="511.7" r="0.63"/><circle cx="182.4" cy="527.4" r="0.69"/><circle cx="178.3" cy="513.0" r="0.68"/><circle cx="183.2" cy="526.6" r="0.60"/><circle cx="167.2" cy="515.4" r="0.49"/><circle cx="172.4" cy="511.6" r="0.77"/><circle cx="160.9" cy="526.7" r="0.43"/><circle cx="182.9" cy="528.4" r="0.78"/><circle cx="172.7" cy="513.5" r="0.36"/><circle cx="177.0" cy="536.6" r="0.69"/><circle cx="173.2" cy="513.6" r="0.71"/><circle cx="161.0" cy="521.9" r="0.55"/><circle cx="160.9" cy="529.4" r="0.74"/><circle cx="180.4" cy="532.9" r="0.62"/></g>
<path d="M184.66,525.00 C184.91,526.71 183.92,529.00 183.00,530.52 C182.08,532.03 180.50,533.09 179.16,534.10 C177.81,535.12 176.39,536.48 174.93,536.62 C173.48,536.75 171.95,535.32 170.43,534.92 C168.90,534.51 167.29,534.86 165.79,534.18 C164.29,533.50 162.25,532.34 161.44,530.81 C160.63,529.28 160.74,526.84 160.92,525.00 C161.11,523.16 161.71,521.27 162.53,519.76 C163.36,518.26 164.62,516.96 165.88,515.95 C167.15,514.94 168.64,514.02 170.13,513.68 C171.62,513.34 173.33,513.52 174.82,513.91 C176.31,514.30 177.96,514.96 179.07,516.02 C180.18,517.08 180.55,518.78 181.48,520.28 C182.41,521.78 184.40,523.29 184.66,525.00Z" fill="url(#g8)"/>
<g fill="#6a9a70" opacity="0.28"><circle cx="174.3" cy="530.4" r="0.69"/><circle cx="172.1" cy="530.0" r="0.47"/><circle cx="173.8" cy="518.9" r="0.43"/><circle cx="165.6" cy="529.6" r="0.60"/><circle cx="170.3" cy="528.4" r="0.42"/><circle cx="171.9" cy="531.0" r="0.41"/><circle cx="174.8" cy="526.5" r="0.52"/><circle cx="165.1" cy="524.7" r="0.41"/><circle cx="172.6" cy="517.7" r="0.54"/></g>
<g fill="#7070d0" opacity="0.55"><circle cx="174.6" cy="516.3" r="0.43"/><circle cx="177.0" cy="535.2" r="0.52"/><circle cx="183.0" cy="523.2" r="0.57"/><circle cx="176.4" cy="533.2" r="0.56"/><circle cx="163.7" cy="520.0" r="0.54"/><circle cx="163.1" cy="520.5" r="0.67"/><circle cx="170.0" cy="534.0" r="0.69"/><circle cx="163.9" cy="527.3" r="0.56"/></g>
<g fill="#9aaa40" opacity="0.28"><circle cx="170.4" cy="519.5" r="0.59"/><circle cx="176.3" cy="519.7" r="0.45"/><circle cx="174.7" cy="523.0" r="0.41"/><circle cx="167.8" cy="521.9" r="0.40"/><circle cx="175.4" cy="523.1" r="0.40"/><circle cx="170.5" cy="517.6" r="0.55"/><circle cx="175.9" cy="517.1" r="0.46"/><circle cx="178.3" cy="525.5" r="0.57"/><circle cx="164.7" cy="527.6" r="0.63"/><circle cx="171.4" cy="518.9" r="0.50"/><circle cx="171.2" cy="522.6" r="0.44"/><circle cx="170.0" cy="519.2" r="0.59"/></g>
<g fill="#ffffff" opacity="0.55"><circle cx="176.5" cy="533.0" r="0.49"/><circle cx="165.2" cy="516.5" r="0.36"/><circle cx="162.9" cy="528.2" r="0.58"/><circle cx="181.5" cy="525.6" r="0.44"/><circle cx="164.8" cy="519.0" r="0.38"/></g>
<g fill="#4a48b8" opacity="0.55"><circle cx="166.1" cy="531.9" r="0.45"/><circle cx="181.0" cy="522.6" r="0.50"/><circle cx="162.3" cy="528.6" r="0.40"/></g>
<g fill="#3a3aa8" opacity="0.55"><circle cx="169.2" cy="516.0" r="0.60"/><circle cx="181.2" cy="532.0" r="0.56"/><circle cx="162.3" cy="523.3" r="0.57"/><circle cx="176.1" cy="514.6" r="0.67"/><circle cx="179.3" cy="531.3" r="0.41"/><circle cx="166.5" cy="532.6" r="0.41"/><circle cx="168.6" cy="516.5" r="0.64"/><circle cx="179.4" cy="532.5" r="0.62"/></g>
<g fill="#5a62c8" opacity="0.28"><circle cx="171.1" cy="532.0" r="0.45"/><circle cx="177.5" cy="527.5" r="0.57"/><circle cx="175.6" cy="519.1" r="0.53"/><circle cx="177.1" cy="529.5" r="0.61"/><circle cx="172.5" cy="528.7" r="0.51"/><circle cx="180.1" cy="526.0" r="0.69"/></g>
<g fill="#4a4ab8" opacity="0.28"><circle cx="172.1" cy="519.0" r="0.36"/><circle cx="172.0" cy="531.1" r="0.42"/><circle cx="166.3" cy="522.7" r="0.61"/><circle cx="173.7" cy="520.8" r="0.62"/><circle cx="178.9" cy="525.4" r="0.51"/><circle cx="167.0" cy="520.5" r="0.62"/><circle cx="167.5" cy="518.1" r="0.43"/><circle cx="167.8" cy="529.1" r="0.63"/><circle cx="172.4" cy="529.9" r="0.38"/></g>
<g fill="#7a7ad8" opacity="0.28"><circle cx="164.7" cy="525.2" r="0.35"/><circle cx="175.5" cy="517.8" r="0.44"/><circle cx="169.0" cy="523.4" r="0.55"/><circle cx="177.0" cy="524.9" r="0.50"/><circle cx="177.8" cy="522.6" r="0.65"/></g>
<g fill="#9090e0" opacity="0.55"><circle cx="169.2" cy="534.0" r="0.67"/></g>
<g fill="#3540b0" opacity="0.8"><circle cx="140.4" cy="523.4" r="0.53"/><circle cx="154.6" cy="540.4" r="0.79"/><circle cx="152.0" cy="527.3" r="0.71"/><circle cx="151.7" cy="528.8" r="0.64"/><circle cx="153.0" cy="531.0" r="0.55"/><circle cx="150.9" cy="542.5" r="0.66"/><circle cx="150.6" cy="540.3" r="0.40"/><circle cx="138.6" cy="525.0" r="0.45"/><circle cx="151.5" cy="528.5" r="0.70"/><circle cx="141.9" cy="541.7" r="0.68"/><circle cx="134.0" cy="535.4" r="0.49"/><circle cx="133.9" cy="528.0" r="0.43"/><circle cx="134.6" cy="529.5" r="0.45"/><circle cx="138.4" cy="538.8" r="0.65"/><circle cx="153.9" cy="540.8" r="0.71"/><circle cx="153.3" cy="530.7" r="0.75"/><circle cx="141.3" cy="523.8" r="0.61"/><circle cx="154.1" cy="536.6" r="0.65"/><circle cx="146.7" cy="543.9" r="0.47"/><circle cx="135.7" cy="539.2" r="0.52"/><circle cx="152.2" cy="529.0" r="0.48"/><circle cx="148.4" cy="541.5" r="0.76"/><circle cx="144.9" cy="541.5" r="0.50"/><circle cx="153.1" cy="529.1" r="0.79"/><circle cx="143.3" cy="523.5" r="0.49"/><circle cx="152.8" cy="540.5" r="0.69"/><circle cx="143.2" cy="523.3" r="0.73"/><circle cx="155.5" cy="538.3" r="0.68"/><circle cx="136.2" cy="536.7" r="0.63"/><circle cx="134.4" cy="533.4" r="0.52"/><circle cx="134.1" cy="531.9" r="0.66"/><circle cx="142.2" cy="522.2" r="0.63"/><circle cx="153.6" cy="537.6" r="0.69"/><circle cx="132.8" cy="528.1" r="0.60"/><circle cx="137.6" cy="538.1" r="0.36"/><circle cx="132.8" cy="535.5" r="0.64"/><circle cx="132.5" cy="528.4" r="0.79"/><circle cx="132.3" cy="527.1" r="0.37"/><circle cx="133.6" cy="526.1" r="0.36"/><circle cx="138.5" cy="523.0" r="0.79"/><circle cx="132.8" cy="532.4" r="0.40"/><circle cx="147.3" cy="525.5" r="0.72"/><circle cx="136.8" cy="524.9" r="0.44"/><circle cx="141.5" cy="540.5" r="0.42"/><circle cx="150.9" cy="542.8" r="0.44"/><circle cx="154.8" cy="534.0" r="0.48"/></g>
<path d="M154.61,539.13 C153.79,540.02 151.35,539.92 149.96,540.21 C148.56,540.49 147.58,540.60 146.23,540.84 C144.89,541.09 143.34,541.98 141.91,541.67 C140.49,541.37 138.99,540.03 137.69,539.00 C136.38,537.97 134.90,536.80 134.09,535.49 C133.28,534.17 132.62,532.36 132.83,531.11 C133.03,529.86 134.55,528.99 135.32,527.99 C136.10,526.99 136.48,525.84 137.48,525.11 C138.48,524.38 139.93,523.58 141.33,523.62 C142.72,523.66 144.35,524.79 145.84,525.35 C147.34,525.92 149.00,526.15 150.29,527.02 C151.57,527.90 152.79,529.30 153.56,530.60 C154.32,531.90 154.72,533.42 154.90,534.84 C155.07,536.26 155.43,538.23 154.61,539.13Z" fill="url(#g9)"/>
<g fill="#4a4ab8" opacity="0.28"><circle cx="146.7" cy="528.9" r="0.36"/><circle cx="149.9" cy="532.8" r="0.66"/><circle cx="144.3" cy="535.4" r="0.38"/><circle cx="139.5" cy="532.0" r="0.51"/><circle cx="146.2" cy="527.7" r="0.46"/><circle cx="146.8" cy="535.7" r="0.68"/><circle cx="146.2" cy="530.3" r="0.39"/><circle cx="141.3" cy="526.8" r="0.53"/><circle cx="146.7" cy="531.5" r="0.50"/><circle cx="138.0" cy="530.5" r="0.49"/><circle cx="137.1" cy="532.4" r="0.70"/></g>
<g fill="#7070d0" opacity="0.55"><circle cx="135.9" cy="530.4" r="0.40"/><circle cx="136.1" cy="535.3" r="0.48"/><circle cx="142.8" cy="524.6" r="0.44"/></g>
<g fill="#7a7ad8" opacity="0.28"><circle cx="137.7" cy="535.5" r="0.41"/><circle cx="148.9" cy="529.8" r="0.47"/><circle cx="149.4" cy="537.7" r="0.53"/><circle cx="141.7" cy="527.4" r="0.51"/><circle cx="149.3" cy="533.4" r="0.43"/><circle cx="137.6" cy="534.1" r="0.69"/></g>
<g fill="#5a62c8" opacity="0.28"><circle cx="143.9" cy="535.5" r="0.47"/><circle cx="149.4" cy="535.9" r="0.67"/><circle cx="149.0" cy="538.2" r="0.55"/><circle cx="147.8" cy="528.3" r="0.60"/><circle cx="151.2" cy="534.5" r="0.66"/><circle cx="146.8" cy="533.1" r="0.52"/></g>
<g fill="#3a3aa8" opacity="0.55"><circle cx="152.6" cy="535.1" r="0.42"/></g>
<g fill="#9090e0" opacity="0.55"><circle cx="145.3" cy="525.0" r="0.69"/><circle cx="136.4" cy="527.9" r="0.41"/><circle cx="147.4" cy="541.9" r="0.56"/><circle cx="152.2" cy="532.5" r="0.41"/><circle cx="136.5" cy="533.9" r="0.61"/></g>
<g fill="#9aaa40" opacity="0.28"><circle cx="150.5" cy="533.6" r="0.53"/><circle cx="143.4" cy="527.9" r="0.67"/><circle cx="151.1" cy="536.1" r="0.59"/><circle cx="142.7" cy="526.6" r="0.39"/><circle cx="145.2" cy="537.6" r="0.54"/></g>
<g fill="#6a9a70" opacity="0.28"><circle cx="143.6" cy="535.1" r="0.50"/><circle cx="141.8" cy="534.1" r="0.69"/><circle cx="142.6" cy="526.1" r="0.48"/><circle cx="137.6" cy="530.4" r="0.52"/><circle cx="144.6" cy="529.4" r="0.58"/><circle cx="143.2" cy="530.1" r="0.44"/></g>
<g fill="#ffffff" opacity="0.55"><circle cx="139.3" cy="525.7" r="0.37"/></g>
<g fill="#4a48b8" opacity="0.55"><circle cx="149.4" cy="540.0" r="0.58"/><circle cx="152.4" cy="536.2" r="0.63"/></g>
<circle cx="135.5" cy="481.5" r="2.6" fill="#d0481a" opacity="0.9" filter="url(#bl1)"/>
<circle cx="139.5" cy="484.5" r="3.2" fill="#80b040" opacity="0.9" filter="url(#bl1)"/>
<circle cx="197" cy="493" r="2.2" fill="#d89028" opacity="0.9" filter="url(#bl1)"/>
</g>
<rect x="115.3" y="458.1" width="20.6" height="11.3" fill="#fff" stroke="#333" stroke-width="1.1"/>
<text x="125.7" y="467.0" font-size="8.3" fill="#222" stroke="#222" stroke-width="0.12" text-anchor="middle" textLength="9.2" lengthAdjust="spacingAndGlyphs" >T0</text>
<rect x="215.6" y="458.1" width="98.2" height="97.2" fill="#fff" stroke="#333" stroke-width="1.1"/>
<g filter="url(#mottle1)">
<g fill="#3540b0" opacity="0.8"><circle cx="256.7" cy="468.3" r="0.72"/><circle cx="246.8" cy="489.8" r="0.51"/><circle cx="232.6" cy="473.7" r="0.52"/><circle cx="244.4" cy="489.6" r="0.46"/><circle cx="262.3" cy="471.4" r="0.44"/><circle cx="262.9" cy="469.7" r="0.64"/><circle cx="261.2" cy="468.9" r="0.40"/><circle cx="240.2" cy="487.6" r="0.40"/><circle cx="254.4" cy="468.0" r="0.65"/><circle cx="262.1" cy="484.3" r="0.42"/><circle cx="251.5" cy="465.9" r="0.79"/><circle cx="263.1" cy="469.2" r="0.73"/><circle cx="264.1" cy="479.0" r="0.41"/><circle cx="235.7" cy="487.6" r="0.42"/><circle cx="239.8" cy="468.1" r="0.44"/><circle cx="268.0" cy="479.4" r="0.45"/><circle cx="246.8" cy="467.6" r="0.67"/><circle cx="234.0" cy="480.7" r="0.51"/><circle cx="262.2" cy="469.7" r="0.58"/><circle cx="247.9" cy="467.3" r="0.43"/><circle cx="253.7" cy="467.3" r="0.59"/><circle cx="235.5" cy="483.6" r="0.53"/><circle cx="239.0" cy="489.6" r="0.62"/><circle cx="256.3" cy="487.0" r="0.64"/><circle cx="234.7" cy="485.2" r="0.51"/><circle cx="245.4" cy="489.4" r="0.56"/><circle cx="256.1" cy="488.8" r="0.65"/><circle cx="266.1" cy="473.3" r="0.74"/><circle cx="259.3" cy="469.0" r="0.73"/><circle cx="263.2" cy="480.6" r="0.48"/><circle cx="258.1" cy="466.9" r="0.66"/><circle cx="250.4" cy="489.9" r="0.56"/><circle cx="261.3" cy="486.2" r="0.63"/><circle cx="256.9" cy="488.2" r="0.79"/><circle cx="265.6" cy="477.7" r="0.40"/><circle cx="263.3" cy="484.6" r="0.61"/><circle cx="233.9" cy="479.1" r="0.59"/><circle cx="245.2" cy="468.8" r="0.78"/><circle cx="249.1" cy="489.6" r="0.65"/><circle cx="247.2" cy="490.4" r="0.40"/><circle cx="238.9" cy="487.1" r="0.44"/><circle cx="264.4" cy="478.5" r="0.51"/><circle cx="256.2" cy="466.8" r="0.65"/><circle cx="261.2" cy="486.6" r="0.55"/><circle cx="233.5" cy="482.2" r="0.70"/><circle cx="246.1" cy="467.5" r="0.61"/><circle cx="260.9" cy="483.4" r="0.73"/><circle cx="249.8" cy="466.9" r="0.36"/><circle cx="233.1" cy="484.1" r="0.67"/><circle cx="230.8" cy="478.2" r="0.71"/><circle cx="234.5" cy="483.4" r="0.68"/><circle cx="236.7" cy="488.7" r="0.51"/><circle cx="230.9" cy="476.7" r="0.77"/><circle cx="263.8" cy="481.0" r="0.42"/><circle cx="267.4" cy="479.6" r="0.40"/><circle cx="235.6" cy="485.1" r="0.60"/><circle cx="232.8" cy="479.4" r="0.38"/><circle cx="263.2" cy="467.8" r="0.78"/><circle cx="239.7" cy="489.0" r="0.41"/><circle cx="258.2" cy="467.8" r="0.40"/><circle cx="261.2" cy="469.8" r="0.52"/><circle cx="258.2" cy="467.9" r="0.53"/><circle cx="264.9" cy="481.7" r="0.56"/><circle cx="235.3" cy="474.8" r="0.60"/></g>
<path d="M266.45,475.01 C266.70,476.49 265.79,478.44 264.69,479.88 C263.59,481.31 261.54,482.47 259.86,483.64 C258.17,484.82 256.65,485.94 254.59,486.92 C252.54,487.89 249.92,489.21 247.53,489.47 C245.15,489.73 242.42,489.11 240.27,488.47 C238.12,487.82 235.52,486.91 234.62,485.59 C233.72,484.28 234.75,482.14 234.87,480.58 C235.00,479.02 234.80,477.70 235.37,476.26 C235.93,474.81 236.83,473.18 238.28,471.88 C239.72,470.59 241.89,469.22 244.07,468.48 C246.24,467.75 248.83,467.67 251.30,467.48 C253.78,467.28 256.96,466.71 258.93,467.31 C260.91,467.90 261.90,469.75 263.16,471.03 C264.41,472.31 266.19,473.54 266.45,475.01Z" fill="url(#g10)"/>
<g fill="#7070d0" opacity="0.55"><circle cx="237.4" cy="482.2" r="0.46"/><circle cx="262.5" cy="479.2" r="0.58"/><circle cx="238.3" cy="473.3" r="0.67"/><circle cx="256.8" cy="469.9" r="0.60"/></g>
<g fill="#9aaa40" opacity="0.28"><circle cx="258.7" cy="480.3" r="0.47"/><circle cx="251.4" cy="480.4" r="0.44"/><circle cx="239.6" cy="476.9" r="0.36"/><circle cx="254.9" cy="483.8" r="0.54"/><circle cx="251.7" cy="483.3" r="0.59"/><circle cx="245.2" cy="480.9" r="0.53"/><circle cx="242.9" cy="473.3" r="0.57"/><circle cx="245.1" cy="471.7" r="0.38"/><circle cx="251.2" cy="471.5" r="0.51"/></g>
<g fill="#9090e0" opacity="0.55"><circle cx="264.0" cy="474.4" r="0.64"/><circle cx="258.4" cy="484.4" r="0.54"/><circle cx="262.0" cy="473.3" r="0.69"/><circle cx="262.8" cy="470.9" r="0.56"/><circle cx="238.4" cy="475.0" r="0.68"/><circle cx="235.1" cy="481.8" r="0.43"/><circle cx="251.6" cy="468.0" r="0.48"/><circle cx="252.7" cy="485.7" r="0.60"/><circle cx="257.6" cy="468.3" r="0.55"/><circle cx="237.7" cy="484.8" r="0.60"/><circle cx="263.3" cy="474.9" r="0.66"/><circle cx="250.8" cy="467.6" r="0.69"/></g>
<g fill="#4a4ab8" opacity="0.28"><circle cx="259.1" cy="477.4" r="0.61"/><circle cx="252.3" cy="481.2" r="0.60"/><circle cx="248.4" cy="473.9" r="0.61"/><circle cx="252.8" cy="470.9" r="0.58"/><circle cx="249.7" cy="481.4" r="0.52"/><circle cx="242.3" cy="478.1" r="0.53"/><circle cx="239.0" cy="479.6" r="0.66"/><circle cx="256.7" cy="482.1" r="0.52"/><circle cx="251.9" cy="472.8" r="0.47"/></g>
<g fill="#6a9a70" opacity="0.28"><circle cx="252.6" cy="484.8" r="0.52"/><circle cx="243.1" cy="483.0" r="0.63"/><circle cx="250.7" cy="472.1" r="0.58"/><circle cx="240.5" cy="479.6" r="0.49"/><circle cx="259.7" cy="474.9" r="0.55"/><circle cx="256.7" cy="481.4" r="0.56"/><circle cx="238.2" cy="476.4" r="0.37"/><circle cx="256.1" cy="482.1" r="0.41"/><circle cx="253.2" cy="475.1" r="0.45"/><circle cx="238.8" cy="482.9" r="0.37"/></g>
<g fill="#4a48b8" opacity="0.55"><circle cx="262.5" cy="471.8" r="0.58"/><circle cx="242.5" cy="470.9" r="0.62"/><circle cx="248.4" cy="468.9" r="0.65"/><circle cx="234.4" cy="481.3" r="0.45"/><circle cx="240.6" cy="472.1" r="0.62"/><circle cx="262.4" cy="481.0" r="0.43"/><circle cx="238.2" cy="475.8" r="0.58"/><circle cx="261.7" cy="479.5" r="0.57"/><circle cx="255.5" cy="484.5" r="0.49"/></g>
<g fill="#3a3aa8" opacity="0.55"><circle cx="255.2" cy="467.8" r="0.55"/><circle cx="240.5" cy="470.9" r="0.56"/><circle cx="236.5" cy="485.4" r="0.66"/><circle cx="256.1" cy="485.5" r="0.41"/><circle cx="256.2" cy="470.5" r="0.67"/><circle cx="263.6" cy="478.5" r="0.59"/><circle cx="252.4" cy="485.9" r="0.50"/><circle cx="260.9" cy="483.3" r="0.44"/></g>
<g fill="#7a7ad8" opacity="0.28"><circle cx="240.5" cy="473.8" r="0.47"/><circle cx="244.7" cy="473.5" r="0.65"/><circle cx="256.9" cy="480.6" r="0.36"/><circle cx="254.8" cy="480.9" r="0.45"/><circle cx="241.9" cy="474.2" r="0.69"/><circle cx="252.7" cy="483.8" r="0.68"/><circle cx="250.1" cy="470.3" r="0.67"/><circle cx="248.2" cy="470.7" r="0.40"/><circle cx="246.0" cy="485.5" r="0.49"/><circle cx="248.6" cy="481.2" r="0.49"/></g>
<g fill="#5a62c8" opacity="0.28"><circle cx="250.2" cy="480.6" r="0.55"/><circle cx="240.5" cy="473.5" r="0.58"/><circle cx="245.1" cy="481.2" r="0.45"/><circle cx="240.8" cy="479.8" r="0.53"/><circle cx="250.6" cy="484.5" r="0.46"/></g>
<g fill="#ffffff" opacity="0.55"><circle cx="237.6" cy="483.3" r="0.69"/><circle cx="238.8" cy="474.7" r="0.58"/><circle cx="247.0" cy="470.3" r="0.67"/><circle cx="258.3" cy="470.8" r="0.46"/><circle cx="246.4" cy="468.2" r="0.59"/><circle cx="253.2" cy="469.3" r="0.55"/><circle cx="262.0" cy="482.6" r="0.49"/><circle cx="244.1" cy="469.6" r="0.62"/><circle cx="237.1" cy="475.8" r="0.43"/><circle cx="262.4" cy="473.4" r="0.35"/></g>
<g fill="#3540b0" opacity="0.8"><circle cx="259.1" cy="498.1" r="0.70"/><circle cx="253.6" cy="485.3" r="0.51"/><circle cx="258.1" cy="483.1" r="0.54"/><circle cx="251.3" cy="485.9" r="0.75"/><circle cx="252.2" cy="485.2" r="0.40"/><circle cx="258.7" cy="482.8" r="0.48"/><circle cx="249.3" cy="488.5" r="0.37"/><circle cx="258.9" cy="498.1" r="0.60"/><circle cx="261.0" cy="483.7" r="0.59"/><circle cx="260.1" cy="498.3" r="0.44"/><circle cx="263.6" cy="487.1" r="0.42"/><circle cx="256.5" cy="497.7" r="0.73"/><circle cx="256.1" cy="483.6" r="0.41"/><circle cx="262.2" cy="486.8" r="0.58"/><circle cx="249.2" cy="490.6" r="0.65"/><circle cx="255.1" cy="483.6" r="0.36"/><circle cx="259.7" cy="484.0" r="0.56"/><circle cx="250.3" cy="487.2" r="0.37"/><circle cx="261.3" cy="496.2" r="0.42"/><circle cx="259.5" cy="497.8" r="0.42"/><circle cx="251.1" cy="495.0" r="0.59"/><circle cx="249.0" cy="491.3" r="0.66"/><circle cx="253.5" cy="484.9" r="0.53"/><circle cx="262.4" cy="487.1" r="0.54"/><circle cx="251.4" cy="486.8" r="0.74"/><circle cx="256.4" cy="484.2" r="0.65"/><circle cx="250.9" cy="495.5" r="0.79"/><circle cx="256.4" cy="483.5" r="0.47"/><circle cx="250.1" cy="491.8" r="0.36"/><circle cx="264.6" cy="490.0" r="0.78"/><circle cx="252.8" cy="497.5" r="0.56"/><circle cx="263.4" cy="493.7" r="0.76"/><circle cx="253.0" cy="497.2" r="0.58"/></g>
<path d="M264.09,493.58 C263.81,494.55 262.85,495.49 262.04,496.17 C261.24,496.85 260.24,497.32 259.25,497.68 C258.25,498.05 257.03,498.58 256.08,498.37 C255.12,498.17 254.18,497.14 253.49,496.43 C252.81,495.71 252.53,494.88 251.94,494.09 C251.35,493.30 250.29,492.65 249.96,491.70 C249.63,490.76 249.70,489.49 249.96,488.44 C250.23,487.39 250.76,486.15 251.53,485.39 C252.30,484.63 253.56,483.97 254.60,483.86 C255.64,483.74 256.80,484.43 257.79,484.71 C258.78,484.99 259.70,485.07 260.53,485.53 C261.37,485.99 262.29,486.65 262.81,487.45 C263.34,488.25 263.48,489.31 263.70,490.33 C263.91,491.35 264.36,492.61 264.09,493.58Z" fill="url(#g11)"/>
<g fill="#ffffff" opacity="0.55"><circle cx="258.0" cy="485.4" r="0.51"/><circle cx="262.4" cy="488.9" r="0.66"/></g>
<g fill="#4a4ab8" opacity="0.28"><circle cx="258.4" cy="488.3" r="0.62"/><circle cx="253.1" cy="487.7" r="0.57"/><circle cx="255.5" cy="495.6" r="0.43"/><circle cx="252.9" cy="487.7" r="0.66"/></g>
<g fill="#7070d0" opacity="0.55"><circle cx="263.0" cy="494.4" r="0.38"/></g>
<g fill="#7a7ad8" opacity="0.28"><circle cx="260.8" cy="490.4" r="0.46"/><circle cx="257.7" cy="494.4" r="0.46"/><circle cx="257.3" cy="487.7" r="0.66"/></g>
<g fill="#4a48b8" opacity="0.55"><circle cx="253.3" cy="496.0" r="0.65"/></g>
<g fill="#9aaa40" opacity="0.28"><circle cx="258.0" cy="494.0" r="0.62"/><circle cx="256.2" cy="489.5" r="0.41"/><circle cx="258.5" cy="489.3" r="0.68"/><circle cx="257.4" cy="492.5" r="0.37"/><circle cx="259.6" cy="487.9" r="0.59"/><circle cx="261.7" cy="488.9" r="0.40"/><circle cx="256.8" cy="487.0" r="0.45"/></g>
<g fill="#3a3aa8" opacity="0.55"><circle cx="252.0" cy="487.1" r="0.67"/><circle cx="254.1" cy="495.7" r="0.61"/></g>
<g fill="#5a62c8" opacity="0.28"><circle cx="253.1" cy="490.1" r="0.38"/></g>
<g fill="#6a9a70" opacity="0.28"><circle cx="255.2" cy="491.2" r="0.44"/><circle cx="255.1" cy="493.5" r="0.41"/></g>
<g fill="#9090e0" opacity="0.55"><circle cx="257.7" cy="497.6" r="0.36"/></g>
<g fill="#3540b0" opacity="0.8"><circle cx="239.8" cy="514.2" r="0.49"/><circle cx="230.9" cy="514.6" r="0.47"/><circle cx="227.9" cy="492.9" r="0.80"/><circle cx="244.5" cy="497.9" r="0.43"/><circle cx="228.7" cy="492.1" r="0.39"/><circle cx="238.3" cy="515.3" r="0.50"/><circle cx="227.1" cy="495.1" r="0.54"/><circle cx="227.1" cy="492.7" r="0.45"/><circle cx="231.5" cy="493.1" r="0.65"/><circle cx="227.5" cy="512.4" r="0.36"/><circle cx="243.7" cy="493.4" r="0.58"/><circle cx="223.0" cy="505.8" r="0.60"/><circle cx="223.5" cy="508.9" r="0.51"/><circle cx="226.6" cy="511.8" r="0.66"/><circle cx="235.2" cy="516.6" r="0.40"/><circle cx="230.1" cy="513.7" r="0.49"/><circle cx="224.9" cy="504.6" r="0.37"/><circle cx="243.5" cy="495.8" r="0.77"/><circle cx="246.3" cy="506.5" r="0.75"/><circle cx="234.5" cy="515.4" r="0.41"/><circle cx="244.5" cy="498.0" r="0.63"/><circle cx="231.7" cy="493.2" r="0.55"/><circle cx="223.7" cy="509.0" r="0.64"/><circle cx="225.1" cy="511.1" r="0.60"/><circle cx="243.7" cy="508.7" r="0.72"/><circle cx="243.6" cy="494.6" r="0.49"/><circle cx="237.5" cy="490.3" r="0.61"/><circle cx="241.6" cy="511.1" r="0.66"/><circle cx="225.9" cy="496.1" r="0.49"/><circle cx="243.2" cy="511.2" r="0.76"/><circle cx="243.9" cy="508.7" r="0.69"/><circle cx="242.0" cy="513.2" r="0.42"/><circle cx="241.7" cy="511.3" r="0.46"/><circle cx="224.4" cy="499.3" r="0.48"/><circle cx="239.3" cy="490.2" r="0.69"/><circle cx="242.1" cy="513.5" r="0.36"/><circle cx="228.0" cy="512.5" r="0.46"/><circle cx="244.2" cy="493.4" r="0.42"/><circle cx="234.6" cy="516.2" r="0.72"/><circle cx="242.1" cy="495.2" r="0.36"/><circle cx="233.4" cy="515.4" r="0.69"/><circle cx="237.6" cy="515.3" r="0.55"/><circle cx="234.1" cy="490.0" r="0.51"/><circle cx="226.6" cy="513.3" r="0.58"/><circle cx="234.3" cy="516.4" r="0.71"/><circle cx="230.6" cy="490.4" r="0.51"/><circle cx="247.5" cy="503.4" r="0.42"/><circle cx="244.8" cy="500.6" r="0.56"/><circle cx="247.4" cy="502.5" r="0.47"/><circle cx="224.7" cy="497.2" r="0.52"/><circle cx="230.9" cy="513.7" r="0.43"/><circle cx="242.8" cy="495.5" r="0.41"/></g>
<path d="M245.24,504.81 C244.97,506.43 244.30,508.15 243.42,509.54 C242.54,510.92 241.30,512.23 239.95,513.13 C238.61,514.03 236.91,514.83 235.37,514.93 C233.83,515.04 231.97,514.61 230.69,513.79 C229.41,512.97 228.51,511.35 227.70,510.04 C226.89,508.73 226.42,507.44 225.83,505.94 C225.24,504.45 224.10,502.71 224.16,501.09 C224.23,499.46 225.27,497.62 226.22,496.19 C227.17,494.76 228.47,493.33 229.88,492.52 C231.28,491.71 233.12,491.24 234.64,491.32 C236.16,491.41 237.72,492.25 238.98,493.04 C240.23,493.84 241.16,494.96 242.18,496.08 C243.19,497.21 244.54,498.32 245.05,499.77 C245.56,501.22 245.52,503.18 245.24,504.81Z" fill="url(#g12)"/>
<g fill="#4a4ab8" opacity="0.28"><circle cx="237.6" cy="507.2" r="0.44"/><circle cx="232.4" cy="503.4" r="0.50"/><circle cx="230.8" cy="503.5" r="0.61"/><circle cx="233.2" cy="497.5" r="0.40"/><circle cx="240.1" cy="508.9" r="0.59"/><circle cx="231.1" cy="500.2" r="0.47"/><circle cx="233.2" cy="499.8" r="0.64"/></g>
<g fill="#3a3aa8" opacity="0.55"><circle cx="227.1" cy="506.2" r="0.66"/><circle cx="239.2" cy="494.9" r="0.40"/><circle cx="243.8" cy="505.1" r="0.63"/><circle cx="226.3" cy="501.5" r="0.64"/><circle cx="234.1" cy="492.3" r="0.37"/><circle cx="227.2" cy="509.4" r="0.53"/><circle cx="239.2" cy="494.6" r="0.48"/><circle cx="240.6" cy="509.9" r="0.39"/></g>
<g fill="#9090e0" opacity="0.55"><circle cx="239.4" cy="511.5" r="0.67"/><circle cx="239.6" cy="511.5" r="0.55"/><circle cx="234.4" cy="492.7" r="0.70"/><circle cx="224.9" cy="503.8" r="0.51"/><circle cx="227.1" cy="507.4" r="0.47"/><circle cx="229.3" cy="495.1" r="0.56"/></g>
<g fill="#9aaa40" opacity="0.28"><circle cx="234.0" cy="510.3" r="0.36"/><circle cx="241.1" cy="503.3" r="0.55"/><circle cx="233.4" cy="498.4" r="0.47"/><circle cx="235.5" cy="507.5" r="0.60"/></g>
<g fill="#6a9a70" opacity="0.28"><circle cx="234.4" cy="510.9" r="0.42"/><circle cx="238.1" cy="497.5" r="0.66"/><circle cx="228.1" cy="503.6" r="0.48"/><circle cx="235.1" cy="495.4" r="0.54"/><circle cx="241.0" cy="507.8" r="0.55"/><circle cx="234.1" cy="510.7" r="0.39"/><circle cx="234.8" cy="507.8" r="0.51"/><circle cx="236.7" cy="497.4" r="0.64"/><circle cx="230.6" cy="510.1" r="0.60"/><circle cx="227.6" cy="506.1" r="0.69"/><circle cx="230.2" cy="507.2" r="0.46"/></g>
<g fill="#7070d0" opacity="0.55"><circle cx="243.6" cy="506.2" r="0.42"/><circle cx="242.0" cy="495.9" r="0.66"/><circle cx="231.1" cy="492.9" r="0.46"/><circle cx="243.8" cy="503.9" r="0.50"/><circle cx="234.5" cy="492.7" r="0.59"/><circle cx="229.2" cy="494.3" r="0.39"/></g>
<g fill="#5a62c8" opacity="0.28"><circle cx="231.5" cy="496.2" r="0.37"/><circle cx="240.4" cy="502.2" r="0.42"/><circle cx="236.3" cy="496.1" r="0.66"/><circle cx="232.2" cy="500.6" r="0.57"/><circle cx="238.7" cy="499.7" r="0.60"/><circle cx="236.6" cy="499.2" r="0.69"/><circle cx="239.1" cy="498.0" r="0.35"/><circle cx="230.1" cy="496.6" r="0.40"/></g>
<g fill="#4a48b8" opacity="0.55"><circle cx="244.3" cy="505.5" r="0.37"/><circle cx="244.0" cy="500.2" r="0.61"/><circle cx="245.1" cy="501.5" r="0.38"/><circle cx="226.3" cy="506.4" r="0.48"/><circle cx="228.2" cy="509.0" r="0.40"/><circle cx="228.0" cy="499.0" r="0.43"/></g>
<g fill="#7a7ad8" opacity="0.28"><circle cx="231.9" cy="502.6" r="0.53"/><circle cx="228.0" cy="507.0" r="0.61"/></g>
<g fill="#ffffff" opacity="0.55"><circle cx="225.1" cy="504.1" r="0.56"/><circle cx="230.4" cy="495.9" r="0.50"/></g>
<g fill="#3540b0" opacity="0.8"><circle cx="251.0" cy="512.9" r="0.48"/><circle cx="258.7" cy="499.8" r="0.61"/><circle cx="260.2" cy="509.5" r="0.69"/><circle cx="248.9" cy="501.6" r="0.63"/><circle cx="248.9" cy="503.0" r="0.65"/><circle cx="259.4" cy="511.8" r="0.66"/><circle cx="259.4" cy="502.2" r="0.56"/><circle cx="247.7" cy="502.2" r="0.63"/><circle cx="261.0" cy="502.2" r="0.74"/><circle cx="254.5" cy="512.7" r="0.55"/><circle cx="251.9" cy="499.2" r="0.37"/><circle cx="261.8" cy="506.0" r="0.62"/><circle cx="252.0" cy="499.8" r="0.55"/><circle cx="261.4" cy="506.6" r="0.61"/><circle cx="262.0" cy="506.3" r="0.64"/><circle cx="254.6" cy="513.2" r="0.55"/><circle cx="252.1" cy="513.6" r="0.39"/><circle cx="255.5" cy="512.5" r="0.39"/><circle cx="248.7" cy="507.8" r="0.58"/><circle cx="260.4" cy="502.7" r="0.44"/><circle cx="256.5" cy="499.7" r="0.68"/><circle cx="249.6" cy="510.2" r="0.72"/><circle cx="251.3" cy="499.7" r="0.69"/><circle cx="260.1" cy="508.8" r="0.36"/><circle cx="254.5" cy="513.3" r="0.55"/><circle cx="251.8" cy="499.7" r="0.79"/><circle cx="254.3" cy="499.2" r="0.42"/><circle cx="247.7" cy="501.9" r="0.74"/><circle cx="259.9" cy="502.6" r="0.77"/><circle cx="256.5" cy="498.6" r="0.59"/><circle cx="248.8" cy="511.1" r="0.46"/><circle cx="251.9" cy="512.9" r="0.45"/></g>
<path d="M260.15,506.00 C260.31,507.00 260.85,508.20 260.67,509.25 C260.49,510.30 259.86,511.66 259.06,512.29 C258.27,512.93 256.90,513.08 255.90,513.08 C254.90,513.08 253.91,512.67 253.07,512.30 C252.22,511.92 251.56,511.38 250.82,510.83 C250.08,510.28 249.13,509.80 248.62,509.00 C248.12,508.19 247.83,507.01 247.80,506.00 C247.77,504.99 248.03,503.83 248.46,502.92 C248.89,502.01 249.63,501.27 250.36,500.54 C251.08,499.80 251.89,498.77 252.81,498.50 C253.73,498.23 254.98,498.55 255.90,498.92 C256.82,499.29 257.67,500.00 258.31,500.72 C258.95,501.44 259.42,502.36 259.72,503.24 C260.03,504.12 260.00,505.00 260.15,506.00Z" fill="url(#g13)"/>
<g fill="#ffffff" opacity="0.55"><circle cx="259.9" cy="503.9" r="0.62"/></g>
<g fill="#7a7ad8" opacity="0.28"><circle cx="256.0" cy="506.6" r="0.51"/><circle cx="251.7" cy="509.3" r="0.37"/></g>
<g fill="#9aaa40" opacity="0.28"><circle cx="254.5" cy="503.3" r="0.48"/><circle cx="255.3" cy="508.8" r="0.36"/><circle cx="256.3" cy="503.6" r="0.37"/></g>
<g fill="#7070d0" opacity="0.55"><circle cx="252.4" cy="499.5" r="0.36"/><circle cx="251.2" cy="500.9" r="0.64"/></g>
<g fill="#5a62c8" opacity="0.28"><circle cx="254.9" cy="507.8" r="0.70"/><circle cx="255.5" cy="501.8" r="0.56"/><circle cx="258.6" cy="507.3" r="0.50"/><circle cx="255.4" cy="507.3" r="0.48"/><circle cx="256.4" cy="508.2" r="0.62"/></g>
<g fill="#3a3aa8" opacity="0.55"><circle cx="258.9" cy="501.8" r="0.41"/><circle cx="252.8" cy="511.3" r="0.44"/></g>
<g fill="#9090e0" opacity="0.55"><circle cx="248.9" cy="504.6" r="0.50"/><circle cx="260.6" cy="505.6" r="0.66"/></g>
<g fill="#4a48b8" opacity="0.55"><circle cx="258.1" cy="500.7" r="0.44"/><circle cx="250.8" cy="509.7" r="0.36"/></g>
<g fill="#4a4ab8" opacity="0.28"><circle cx="256.4" cy="502.0" r="0.42"/><circle cx="252.4" cy="505.4" r="0.54"/></g>
<g fill="#6a9a70" opacity="0.28"><circle cx="254.0" cy="509.9" r="0.37"/></g>
<g fill="#3540b0" opacity="0.8"><circle cx="299.1" cy="511.5" r="0.76"/><circle cx="308.2" cy="497.6" r="0.38"/><circle cx="291.4" cy="512.7" r="0.49"/><circle cx="301.2" cy="511.3" r="0.71"/><circle cx="286.9" cy="477.8" r="0.58"/><circle cx="303.9" cy="511.5" r="0.42"/><circle cx="291.5" cy="478.2" r="0.69"/><circle cx="275.6" cy="487.0" r="0.71"/><circle cx="308.3" cy="502.2" r="0.65"/><circle cx="307.7" cy="492.3" r="0.49"/><circle cx="278.2" cy="482.2" r="0.66"/><circle cx="292.8" cy="477.8" r="0.68"/><circle cx="296.3" cy="478.9" r="0.80"/><circle cx="298.7" cy="514.4" r="0.43"/><circle cx="302.3" cy="483.3" r="0.67"/><circle cx="309.7" cy="506.1" r="0.38"/><circle cx="274.7" cy="488.7" r="0.73"/><circle cx="311.4" cy="492.1" r="0.51"/><circle cx="282.2" cy="507.8" r="0.72"/><circle cx="279.4" cy="507.0" r="0.55"/><circle cx="293.7" cy="477.5" r="0.54"/><circle cx="307.9" cy="488.9" r="0.75"/><circle cx="304.4" cy="511.9" r="0.64"/><circle cx="286.9" cy="475.6" r="0.68"/><circle cx="272.3" cy="491.0" r="0.48"/><circle cx="290.6" cy="511.2" r="0.40"/><circle cx="295.9" cy="515.2" r="0.49"/><circle cx="270.9" cy="486.0" r="0.63"/><circle cx="286.1" cy="509.4" r="0.71"/><circle cx="276.2" cy="480.8" r="0.66"/><circle cx="288.2" cy="512.0" r="0.51"/><circle cx="274.0" cy="491.6" r="0.76"/><circle cx="300.3" cy="479.7" r="0.67"/><circle cx="277.4" cy="500.9" r="0.48"/><circle cx="290.0" cy="478.1" r="0.46"/><circle cx="279.5" cy="480.4" r="0.49"/><circle cx="276.9" cy="480.9" r="0.62"/><circle cx="308.5" cy="493.3" r="0.68"/><circle cx="279.8" cy="503.5" r="0.73"/><circle cx="306.6" cy="508.6" r="0.73"/><circle cx="302.0" cy="514.6" r="0.60"/><circle cx="304.0" cy="509.2" r="0.37"/><circle cx="273.5" cy="499.7" r="0.65"/><circle cx="286.8" cy="511.0" r="0.62"/><circle cx="309.4" cy="505.7" r="0.36"/><circle cx="305.5" cy="512.4" r="0.39"/><circle cx="289.9" cy="474.7" r="0.70"/><circle cx="287.7" cy="509.2" r="0.42"/><circle cx="303.0" cy="482.1" r="0.60"/><circle cx="302.6" cy="511.6" r="0.55"/><circle cx="306.8" cy="504.2" r="0.66"/><circle cx="271.2" cy="489.2" r="0.75"/><circle cx="304.1" cy="486.0" r="0.59"/><circle cx="308.1" cy="499.3" r="0.77"/><circle cx="283.0" cy="477.9" r="0.64"/><circle cx="281.8" cy="477.6" r="0.69"/><circle cx="284.0" cy="507.8" r="0.42"/><circle cx="277.8" cy="482.6" r="0.44"/><circle cx="302.9" cy="510.0" r="0.72"/><circle cx="298.5" cy="478.3" r="0.47"/><circle cx="284.4" cy="478.5" r="0.45"/><circle cx="275.8" cy="501.2" r="0.61"/><circle cx="299.3" cy="512.5" r="0.38"/><circle cx="291.5" cy="511.2" r="0.68"/><circle cx="298.4" cy="478.7" r="0.63"/><circle cx="274.4" cy="500.5" r="0.60"/><circle cx="292.7" cy="515.2" r="0.78"/><circle cx="271.5" cy="496.5" r="0.68"/><circle cx="287.1" cy="513.1" r="0.45"/><circle cx="292.0" cy="512.7" r="0.64"/><circle cx="289.0" cy="510.1" r="0.35"/><circle cx="280.3" cy="476.9" r="0.45"/><circle cx="273.6" cy="485.3" r="0.73"/><circle cx="293.7" cy="513.2" r="0.58"/><circle cx="279.4" cy="504.5" r="0.79"/><circle cx="304.6" cy="513.1" r="0.65"/><circle cx="310.2" cy="503.6" r="0.76"/><circle cx="311.6" cy="499.2" r="0.46"/><circle cx="282.8" cy="509.4" r="0.77"/><circle cx="288.3" cy="512.4" r="0.35"/><circle cx="311.4" cy="502.2" r="0.59"/><circle cx="272.1" cy="486.0" r="0.72"/><circle cx="290.2" cy="475.6" r="0.40"/><circle cx="272.4" cy="483.5" r="0.77"/></g>
<path d="M305.25,508.25 C303.74,509.87 301.47,511.02 299.18,511.70 C296.89,512.38 294.11,512.86 291.53,512.34 C288.95,511.81 286.18,510.16 283.72,508.55 C281.26,506.94 278.19,505.01 276.76,502.66 C275.33,500.32 275.27,496.99 275.15,494.47 C275.02,491.96 275.38,489.68 276.01,487.59 C276.64,485.49 277.64,483.68 278.93,481.93 C280.21,480.17 281.63,478.11 283.72,477.08 C285.81,476.04 288.82,475.23 291.47,475.69 C294.12,476.15 297.47,477.89 299.62,479.84 C301.76,481.79 303.01,484.93 304.35,487.38 C305.70,489.83 307.04,492.09 307.69,494.53 C308.34,496.96 308.66,499.69 308.25,501.98 C307.84,504.26 306.77,506.63 305.25,508.25Z" fill="url(#g14)"/>
<g fill="#7a7ad8" opacity="0.28"><circle cx="284.9" cy="488.2" r="0.55"/><circle cx="284.8" cy="491.7" r="0.50"/><circle cx="294.0" cy="488.4" r="0.66"/><circle cx="292.5" cy="483.7" r="0.57"/><circle cx="299.2" cy="501.2" r="0.62"/><circle cx="286.8" cy="499.8" r="0.63"/><circle cx="302.8" cy="499.6" r="0.65"/><circle cx="299.6" cy="501.0" r="0.56"/><circle cx="300.9" cy="488.0" r="0.70"/><circle cx="290.2" cy="502.5" r="0.57"/><circle cx="293.4" cy="506.7" r="0.37"/><circle cx="286.0" cy="489.6" r="0.64"/><circle cx="294.0" cy="487.7" r="0.39"/><circle cx="285.3" cy="493.5" r="0.67"/><circle cx="302.5" cy="493.9" r="0.64"/><circle cx="285.9" cy="500.5" r="0.41"/><circle cx="299.3" cy="491.1" r="0.57"/><circle cx="291.2" cy="504.9" r="0.53"/><circle cx="286.6" cy="492.9" r="0.62"/><circle cx="301.5" cy="495.4" r="0.57"/></g>
<g fill="#5a62c8" opacity="0.28"><circle cx="292.2" cy="506.5" r="0.45"/><circle cx="298.3" cy="494.2" r="0.70"/><circle cx="285.6" cy="495.7" r="0.38"/><circle cx="295.5" cy="503.0" r="0.66"/><circle cx="291.8" cy="486.6" r="0.44"/><circle cx="286.5" cy="502.3" r="0.55"/><circle cx="285.0" cy="484.8" r="0.48"/><circle cx="302.2" cy="491.0" r="0.42"/><circle cx="295.0" cy="486.6" r="0.39"/><circle cx="292.6" cy="501.7" r="0.39"/><circle cx="300.7" cy="488.9" r="0.40"/><circle cx="281.2" cy="492.8" r="0.46"/><circle cx="289.5" cy="489.0" r="0.55"/></g>
<g fill="#ffffff" opacity="0.55"><circle cx="276.8" cy="489.1" r="0.65"/><circle cx="304.0" cy="486.7" r="0.50"/><circle cx="306.0" cy="489.6" r="0.69"/><circle cx="292.3" cy="510.9" r="0.39"/><circle cx="308.1" cy="500.2" r="0.42"/><circle cx="281.7" cy="483.5" r="0.67"/><circle cx="304.7" cy="505.3" r="0.68"/><circle cx="299.8" cy="483.3" r="0.51"/><circle cx="301.2" cy="506.5" r="0.66"/><circle cx="283.0" cy="505.9" r="0.53"/><circle cx="277.8" cy="500.0" r="0.37"/><circle cx="305.6" cy="499.9" r="0.60"/></g>
<g fill="#3a3aa8" opacity="0.55"><circle cx="278.6" cy="497.7" r="0.50"/><circle cx="306.6" cy="504.5" r="0.66"/><circle cx="280.7" cy="504.7" r="0.39"/><circle cx="297.7" cy="509.2" r="0.52"/><circle cx="278.1" cy="494.5" r="0.42"/><circle cx="281.1" cy="500.3" r="0.46"/><circle cx="278.6" cy="480.7" r="0.43"/><circle cx="276.7" cy="495.0" r="0.64"/><circle cx="276.2" cy="497.9" r="0.70"/><circle cx="274.8" cy="492.3" r="0.67"/><circle cx="277.0" cy="487.6" r="0.42"/><circle cx="279.7" cy="484.8" r="0.53"/><circle cx="281.0" cy="481.9" r="0.44"/><circle cx="305.0" cy="499.6" r="0.60"/><circle cx="283.0" cy="505.3" r="0.48"/><circle cx="278.6" cy="482.9" r="0.52"/><circle cx="289.5" cy="477.3" r="0.51"/><circle cx="276.3" cy="491.1" r="0.66"/><circle cx="307.6" cy="495.4" r="0.55"/><circle cx="279.6" cy="499.6" r="0.37"/><circle cx="292.4" cy="480.8" r="0.60"/></g>
<g fill="#7070d0" opacity="0.55"><circle cx="279.0" cy="501.5" r="0.52"/><circle cx="282.8" cy="502.6" r="0.50"/><circle cx="286.4" cy="477.8" r="0.44"/><circle cx="306.8" cy="503.4" r="0.48"/><circle cx="285.1" cy="481.7" r="0.67"/><circle cx="287.7" cy="507.3" r="0.70"/><circle cx="278.0" cy="496.4" r="0.51"/><circle cx="297.9" cy="481.9" r="0.64"/><circle cx="307.9" cy="495.3" r="0.68"/></g>
<g fill="#4a48b8" opacity="0.55"><circle cx="303.1" cy="503.4" r="0.51"/><circle cx="305.8" cy="502.6" r="0.65"/><circle cx="299.4" cy="484.5" r="0.61"/><circle cx="281.1" cy="502.2" r="0.50"/><circle cx="279.8" cy="480.1" r="0.54"/><circle cx="276.0" cy="483.7" r="0.47"/><circle cx="293.4" cy="509.9" r="0.68"/><circle cx="306.8" cy="503.7" r="0.36"/><circle cx="304.5" cy="486.9" r="0.55"/><circle cx="302.0" cy="508.5" r="0.43"/><circle cx="280.2" cy="481.2" r="0.45"/><circle cx="305.2" cy="498.4" r="0.67"/><circle cx="304.3" cy="507.1" r="0.37"/><circle cx="302.8" cy="485.2" r="0.39"/><circle cx="277.3" cy="500.1" r="0.70"/></g>
<g fill="#9090e0" opacity="0.55"><circle cx="297.5" cy="480.5" r="0.69"/><circle cx="297.6" cy="510.0" r="0.62"/><circle cx="283.3" cy="505.2" r="0.48"/><circle cx="278.3" cy="484.4" r="0.70"/><circle cx="296.0" cy="510.2" r="0.42"/><circle cx="285.5" cy="508.9" r="0.60"/><circle cx="276.5" cy="490.5" r="0.42"/><circle cx="278.6" cy="500.2" r="0.36"/><circle cx="305.4" cy="494.3" r="0.56"/><circle cx="289.7" cy="481.3" r="0.53"/><circle cx="285.4" cy="478.5" r="0.46"/><circle cx="274.8" cy="494.8" r="0.53"/><circle cx="300.7" cy="485.3" r="0.64"/><circle cx="291.6" cy="508.1" r="0.46"/><circle cx="299.9" cy="484.2" r="0.58"/><circle cx="275.9" cy="489.5" r="0.47"/></g>
<g fill="#6a9a70" opacity="0.28"><circle cx="298.2" cy="502.7" r="0.65"/><circle cx="279.3" cy="493.7" r="0.50"/><circle cx="288.2" cy="481.4" r="0.36"/><circle cx="289.8" cy="485.3" r="0.64"/><circle cx="284.7" cy="492.9" r="0.46"/><circle cx="285.4" cy="486.8" r="0.66"/><circle cx="281.8" cy="490.4" r="0.44"/><circle cx="296.3" cy="504.0" r="0.58"/><circle cx="288.8" cy="489.1" r="0.60"/><circle cx="295.9" cy="492.6" r="0.56"/><circle cx="303.4" cy="491.8" r="0.55"/><circle cx="287.0" cy="487.6" r="0.68"/><circle cx="298.4" cy="502.7" r="0.43"/><circle cx="301.7" cy="490.2" r="0.64"/><circle cx="278.7" cy="492.8" r="0.49"/><circle cx="291.6" cy="488.5" r="0.69"/></g>
<g fill="#9aaa40" opacity="0.28"><circle cx="297.0" cy="493.9" r="0.44"/><circle cx="286.3" cy="500.3" r="0.69"/><circle cx="298.7" cy="501.0" r="0.53"/><circle cx="286.5" cy="487.1" r="0.61"/><circle cx="294.3" cy="498.5" r="0.58"/><circle cx="282.0" cy="498.9" r="0.45"/><circle cx="288.3" cy="500.1" r="0.67"/><circle cx="283.2" cy="496.8" r="0.63"/><circle cx="285.5" cy="485.5" r="0.56"/><circle cx="285.7" cy="483.1" r="0.41"/></g>
<g fill="#4a4ab8" opacity="0.28"><circle cx="302.7" cy="494.8" r="0.65"/><circle cx="281.3" cy="489.5" r="0.63"/><circle cx="291.0" cy="488.0" r="0.38"/><circle cx="299.7" cy="500.7" r="0.46"/><circle cx="293.2" cy="501.8" r="0.39"/><circle cx="282.7" cy="483.4" r="0.51"/><circle cx="287.0" cy="482.9" r="0.46"/><circle cx="283.6" cy="500.5" r="0.38"/><circle cx="300.2" cy="505.4" r="0.45"/><circle cx="282.2" cy="495.1" r="0.59"/><circle cx="294.7" cy="507.0" r="0.43"/><circle cx="290.3" cy="489.3" r="0.65"/><circle cx="286.8" cy="500.7" r="0.42"/><circle cx="281.6" cy="487.2" r="0.50"/><circle cx="298.3" cy="499.5" r="0.65"/><circle cx="291.7" cy="485.7" r="0.69"/><circle cx="301.5" cy="503.6" r="0.67"/><circle cx="281.8" cy="492.9" r="0.41"/><circle cx="289.5" cy="485.2" r="0.48"/></g>
<g fill="#3540b0" opacity="0.8"><circle cx="279.5" cy="502.0" r="0.79"/><circle cx="276.1" cy="491.6" r="0.76"/><circle cx="278.8" cy="499.4" r="0.68"/><circle cx="281.2" cy="502.6" r="0.39"/><circle cx="279.0" cy="502.1" r="0.74"/><circle cx="302.0" cy="509.4" r="0.41"/><circle cx="276.0" cy="490.3" r="0.56"/><circle cx="286.9" cy="489.2" r="0.55"/><circle cx="286.4" cy="488.4" r="0.35"/><circle cx="293.1" cy="511.8" r="0.42"/><circle cx="301.6" cy="505.3" r="0.67"/><circle cx="300.0" cy="512.0" r="0.75"/><circle cx="289.0" cy="489.4" r="0.57"/><circle cx="277.1" cy="485.0" r="0.51"/><circle cx="297.1" cy="513.3" r="0.49"/><circle cx="297.2" cy="513.6" r="0.64"/><circle cx="277.1" cy="496.6" r="0.43"/><circle cx="294.8" cy="511.8" r="0.73"/><circle cx="277.9" cy="498.4" r="0.66"/><circle cx="293.9" cy="492.7" r="0.76"/><circle cx="300.1" cy="512.0" r="0.76"/><circle cx="301.7" cy="507.4" r="0.36"/><circle cx="299.0" cy="499.9" r="0.75"/><circle cx="300.6" cy="512.4" r="0.47"/><circle cx="283.2" cy="486.2" r="0.50"/><circle cx="276.7" cy="496.3" r="0.40"/><circle cx="297.8" cy="511.4" r="0.73"/><circle cx="279.5" cy="502.0" r="0.41"/><circle cx="302.2" cy="510.2" r="0.42"/><circle cx="300.1" cy="509.2" r="0.71"/><circle cx="297.9" cy="511.2" r="0.58"/><circle cx="299.4" cy="510.6" r="0.47"/><circle cx="287.5" cy="488.7" r="0.56"/><circle cx="300.2" cy="506.7" r="0.65"/><circle cx="301.4" cy="509.7" r="0.77"/><circle cx="288.2" cy="489.7" r="0.36"/><circle cx="283.0" cy="506.5" r="0.68"/><circle cx="296.3" cy="497.7" r="0.55"/><circle cx="295.4" cy="512.8" r="0.44"/><circle cx="299.1" cy="501.1" r="0.55"/><circle cx="273.9" cy="486.1" r="0.79"/><circle cx="276.1" cy="493.5" r="0.75"/><circle cx="279.0" cy="485.4" r="0.50"/><circle cx="277.8" cy="500.6" r="0.51"/><circle cx="283.7" cy="486.1" r="0.53"/><circle cx="274.4" cy="494.5" r="0.39"/><circle cx="293.7" cy="510.8" r="0.47"/><circle cx="298.7" cy="500.4" r="0.58"/><circle cx="295.7" cy="496.1" r="0.57"/><circle cx="300.0" cy="510.1" r="0.48"/><circle cx="299.3" cy="511.1" r="0.38"/><circle cx="300.4" cy="505.1" r="0.69"/><circle cx="280.4" cy="503.0" r="0.48"/><circle cx="293.0" cy="511.9" r="0.73"/><circle cx="296.1" cy="497.2" r="0.63"/><circle cx="292.1" cy="511.5" r="0.55"/><circle cx="279.0" cy="498.9" r="0.59"/></g>
<path d="M299.07,510.07 C298.57,511.04 297.81,512.22 296.46,512.21 C295.12,512.19 292.89,510.78 291.01,509.99 C289.13,509.20 287.07,508.84 285.19,507.47 C283.31,506.09 281.10,503.65 279.74,501.74 C278.38,499.83 277.98,497.94 277.03,496.00 C276.08,494.05 274.03,491.38 274.03,490.05 C274.03,488.72 275.89,488.40 277.02,488.02 C278.14,487.63 279.46,487.80 280.77,487.72 C282.08,487.63 283.19,487.01 284.85,487.50 C286.51,488.00 288.76,489.28 290.75,490.71 C292.74,492.14 295.23,494.16 296.78,496.09 C298.32,498.02 299.59,500.59 300.04,502.30 C300.48,504.01 299.62,505.05 299.46,506.34 C299.30,507.64 299.56,509.09 299.07,510.07Z" fill="url(#g15)"/>
<g fill="#5a62c8" opacity="0.28"><circle cx="282.9" cy="500.7" r="0.69"/><circle cx="294.7" cy="499.0" r="0.49"/><circle cx="285.0" cy="497.5" r="0.66"/><circle cx="290.2" cy="503.8" r="0.56"/><circle cx="297.1" cy="506.7" r="0.50"/><circle cx="284.1" cy="500.5" r="0.41"/><circle cx="290.9" cy="496.2" r="0.38"/><circle cx="280.5" cy="498.0" r="0.51"/><circle cx="286.4" cy="500.9" r="0.54"/><circle cx="295.5" cy="508.0" r="0.39"/></g>
<g fill="#7070d0" opacity="0.55"><circle cx="286.9" cy="506.6" r="0.60"/><circle cx="299.4" cy="509.0" r="0.40"/><circle cx="297.3" cy="502.2" r="0.52"/><circle cx="297.2" cy="508.2" r="0.52"/><circle cx="288.5" cy="490.3" r="0.37"/></g>
<g fill="#7a7ad8" opacity="0.28"><circle cx="295.2" cy="501.6" r="0.64"/><circle cx="291.6" cy="501.0" r="0.62"/><circle cx="296.6" cy="503.1" r="0.65"/><circle cx="279.8" cy="493.2" r="0.62"/></g>
<g fill="#4a4ab8" opacity="0.28"><circle cx="294.4" cy="500.3" r="0.65"/><circle cx="280.3" cy="491.2" r="0.69"/><circle cx="280.6" cy="490.2" r="0.51"/><circle cx="290.8" cy="502.8" r="0.46"/><circle cx="282.2" cy="493.6" r="0.58"/><circle cx="285.8" cy="502.9" r="0.69"/></g>
<g fill="#6a9a70" opacity="0.28"><circle cx="288.4" cy="503.5" r="0.53"/><circle cx="283.4" cy="494.4" r="0.44"/><circle cx="295.9" cy="504.1" r="0.66"/><circle cx="280.0" cy="495.7" r="0.43"/><circle cx="290.6" cy="503.9" r="0.43"/><circle cx="285.0" cy="500.6" r="0.55"/><circle cx="285.1" cy="495.3" r="0.44"/><circle cx="284.6" cy="496.5" r="0.67"/><circle cx="297.1" cy="506.9" r="0.35"/></g>
<g fill="#4a48b8" opacity="0.55"><circle cx="294.9" cy="496.0" r="0.67"/><circle cx="291.7" cy="493.0" r="0.48"/><circle cx="298.1" cy="509.1" r="0.41"/><circle cx="293.4" cy="495.1" r="0.41"/><circle cx="296.1" cy="500.1" r="0.44"/><circle cx="284.2" cy="488.8" r="0.38"/><circle cx="298.1" cy="502.3" r="0.43"/><circle cx="297.0" cy="509.8" r="0.52"/></g>
<g fill="#ffffff" opacity="0.55"><circle cx="294.6" cy="496.4" r="0.69"/><circle cx="285.5" cy="504.9" r="0.57"/><circle cx="283.1" cy="503.0" r="0.53"/><circle cx="298.9" cy="504.3" r="0.41"/><circle cx="278.2" cy="493.7" r="0.68"/></g>
<g fill="#3a3aa8" opacity="0.55"><circle cx="289.8" cy="507.8" r="0.67"/><circle cx="277.8" cy="496.1" r="0.44"/><circle cx="277.8" cy="494.4" r="0.41"/><circle cx="295.8" cy="511.0" r="0.45"/><circle cx="279.9" cy="498.8" r="0.68"/><circle cx="279.2" cy="488.9" r="0.69"/></g>
<g fill="#9aaa40" opacity="0.28"><circle cx="293.9" cy="504.9" r="0.43"/><circle cx="294.6" cy="504.8" r="0.56"/><circle cx="283.7" cy="495.7" r="0.53"/><circle cx="287.6" cy="504.9" r="0.36"/><circle cx="294.5" cy="498.0" r="0.49"/><circle cx="293.5" cy="500.1" r="0.51"/><circle cx="291.9" cy="505.4" r="0.36"/></g>
<g fill="#9090e0" opacity="0.55"><circle cx="280.6" cy="488.4" r="0.49"/></g>
<g fill="#3540b0" opacity="0.8"><circle cx="304.0" cy="485.9" r="0.46"/><circle cx="304.9" cy="480.7" r="0.40"/><circle cx="298.5" cy="480.0" r="0.47"/><circle cx="298.5" cy="485.5" r="0.38"/><circle cx="303.5" cy="487.0" r="0.43"/><circle cx="305.6" cy="481.2" r="0.79"/><circle cx="298.1" cy="480.9" r="0.37"/><circle cx="298.3" cy="481.4" r="0.71"/><circle cx="299.9" cy="486.9" r="0.69"/><circle cx="305.9" cy="484.0" r="0.43"/><circle cx="298.1" cy="480.8" r="0.46"/><circle cx="304.4" cy="486.0" r="0.46"/><circle cx="298.8" cy="485.9" r="0.71"/><circle cx="301.5" cy="478.4" r="0.70"/><circle cx="305.7" cy="482.5" r="0.76"/><circle cx="300.2" cy="487.1" r="0.49"/><circle cx="304.5" cy="485.0" r="0.48"/><circle cx="301.7" cy="479.4" r="0.70"/></g>
<path d="M305.52,483.00 C305.50,483.58 305.33,484.23 305.03,484.70 C304.73,485.16 304.17,485.48 303.72,485.78 C303.27,486.09 302.82,486.38 302.31,486.55 C301.80,486.72 301.14,486.92 300.64,486.78 C300.13,486.65 299.72,486.12 299.29,485.77 C298.86,485.41 298.39,485.12 298.05,484.66 C297.71,484.20 297.32,483.57 297.28,483.00 C297.24,482.43 297.51,481.74 297.80,481.22 C298.09,480.70 298.50,480.10 299.00,479.87 C299.50,479.63 300.23,479.84 300.77,479.82 C301.31,479.80 301.72,479.73 302.24,479.75 C302.77,479.77 303.45,479.70 303.93,479.95 C304.42,480.20 304.88,480.74 305.14,481.25 C305.41,481.75 305.54,482.42 305.52,483.00Z" fill="url(#g16)"/>
<g fill="#7070d0" opacity="0.55"><circle cx="305.0" cy="482.3" r="0.43"/></g>
<g fill="#4a4ab8" opacity="0.28"><circle cx="303.2" cy="481.1" r="0.51"/><circle cx="304.0" cy="482.7" r="0.69"/></g>
<g fill="#ffffff" opacity="0.55"><circle cx="298.2" cy="483.0" r="0.45"/><circle cx="303.0" cy="485.6" r="0.65"/></g>
<g fill="#9aaa40" opacity="0.28"><circle cx="301.1" cy="481.9" r="0.57"/></g>
<g fill="#5a62c8" opacity="0.28"><circle cx="300.4" cy="483.7" r="0.41"/></g>
<g fill="#3540b0" opacity="0.8"><circle cx="265.3" cy="519.6" r="0.44"/><circle cx="266.2" cy="505.9" r="0.77"/><circle cx="261.5" cy="519.8" r="0.48"/><circle cx="253.6" cy="514.0" r="0.65"/><circle cx="253.4" cy="515.2" r="0.79"/><circle cx="259.7" cy="520.1" r="0.67"/><circle cx="269.0" cy="515.4" r="0.64"/><circle cx="258.4" cy="506.4" r="0.73"/><circle cx="257.3" cy="506.6" r="0.57"/><circle cx="264.1" cy="506.1" r="0.54"/><circle cx="254.8" cy="515.5" r="0.52"/><circle cx="269.2" cy="514.8" r="0.70"/><circle cx="258.7" cy="520.3" r="0.78"/><circle cx="252.9" cy="513.3" r="0.64"/><circle cx="268.6" cy="516.8" r="0.70"/><circle cx="254.5" cy="513.2" r="0.54"/><circle cx="257.4" cy="518.1" r="0.70"/><circle cx="260.7" cy="520.5" r="0.79"/><circle cx="263.1" cy="520.2" r="0.68"/><circle cx="268.5" cy="518.4" r="0.65"/><circle cx="271.1" cy="511.0" r="0.47"/><circle cx="257.6" cy="506.3" r="0.56"/><circle cx="252.7" cy="514.2" r="0.48"/><circle cx="267.7" cy="518.0" r="0.42"/><circle cx="261.2" cy="505.6" r="0.44"/><circle cx="263.2" cy="505.1" r="0.40"/><circle cx="267.0" cy="506.0" r="0.71"/><circle cx="267.1" cy="518.3" r="0.78"/><circle cx="255.6" cy="516.6" r="0.37"/><circle cx="268.0" cy="518.1" r="0.65"/><circle cx="267.8" cy="508.9" r="0.58"/><circle cx="270.4" cy="512.6" r="0.54"/><circle cx="256.6" cy="508.0" r="0.38"/><circle cx="265.1" cy="507.0" r="0.56"/><circle cx="259.1" cy="520.5" r="0.51"/><circle cx="266.4" cy="518.4" r="0.52"/></g>
<path d="M269.78,513.00 C269.89,514.06 270.33,515.38 269.89,516.32 C269.45,517.27 268.20,518.15 267.16,518.66 C266.12,519.17 264.79,519.31 263.67,519.38 C262.54,519.46 261.39,519.40 260.41,519.11 C259.42,518.82 258.77,518.13 257.76,517.65 C256.75,517.17 255.10,517.00 254.35,516.23 C253.60,515.45 253.19,514.04 253.27,513.00 C253.35,511.96 254.23,510.93 254.82,509.97 C255.40,509.02 255.87,507.90 256.77,507.26 C257.66,506.61 259.06,506.16 260.20,506.09 C261.34,506.02 262.49,506.59 263.61,506.85 C264.73,507.10 265.97,507.09 266.92,507.60 C267.86,508.12 268.79,509.04 269.26,509.94 C269.74,510.84 269.68,511.94 269.78,513.00Z" fill="url(#g17)"/>
<g fill="#9aaa40" opacity="0.28"><circle cx="264.6" cy="509.8" r="0.59"/><circle cx="267.3" cy="511.0" r="0.53"/><circle cx="256.3" cy="512.1" r="0.63"/></g>
<g fill="#7a7ad8" opacity="0.28"><circle cx="262.0" cy="507.8" r="0.47"/><circle cx="261.0" cy="514.5" r="0.41"/><circle cx="265.3" cy="513.0" r="0.47"/><circle cx="266.7" cy="511.4" r="0.42"/><circle cx="266.0" cy="514.9" r="0.52"/></g>
<g fill="#4a48b8" opacity="0.55"><circle cx="259.1" cy="507.8" r="0.59"/><circle cx="254.6" cy="512.0" r="0.43"/><circle cx="265.1" cy="507.3" r="0.67"/><circle cx="261.3" cy="507.7" r="0.39"/></g>
<g fill="#4a4ab8" opacity="0.28"><circle cx="262.2" cy="511.2" r="0.39"/><circle cx="262.6" cy="518.0" r="0.42"/><circle cx="257.3" cy="512.7" r="0.42"/><circle cx="265.8" cy="511.0" r="0.62"/><circle cx="259.1" cy="509.6" r="0.38"/></g>
<g fill="#7070d0" opacity="0.55"><circle cx="267.6" cy="517.8" r="0.70"/><circle cx="256.0" cy="508.8" r="0.65"/></g>
<g fill="#5a62c8" opacity="0.28"><circle cx="258.3" cy="514.6" r="0.45"/><circle cx="259.7" cy="514.8" r="0.49"/><circle cx="261.2" cy="508.6" r="0.39"/><circle cx="259.3" cy="511.3" r="0.41"/></g>
<g fill="#6a9a70" opacity="0.28"><circle cx="266.1" cy="511.0" r="0.46"/><circle cx="260.9" cy="517.8" r="0.36"/></g>
<g fill="#3a3aa8" opacity="0.55"><circle cx="266.4" cy="507.8" r="0.38"/></g>
<g fill="#9090e0" opacity="0.55"><circle cx="264.7" cy="507.4" r="0.43"/></g>
<g fill="#ffffff" opacity="0.55"><circle cx="265.1" cy="517.8" r="0.70"/></g>
<g fill="#3540b0" opacity="0.8"><circle cx="262.6" cy="509.9" r="0.38"/><circle cx="260.5" cy="512.0" r="0.75"/><circle cx="278.5" cy="535.0" r="0.47"/><circle cx="277.4" cy="533.6" r="0.57"/><circle cx="282.5" cy="521.6" r="0.64"/><circle cx="279.0" cy="536.8" r="0.63"/><circle cx="279.3" cy="531.9" r="0.70"/><circle cx="256.1" cy="521.1" r="0.42"/><circle cx="275.1" cy="536.4" r="0.71"/><circle cx="278.3" cy="534.7" r="0.38"/><circle cx="279.7" cy="517.1" r="0.73"/><circle cx="271.7" cy="539.9" r="0.39"/><circle cx="259.6" cy="531.8" r="0.77"/><circle cx="256.1" cy="524.1" r="0.52"/><circle cx="259.6" cy="533.1" r="0.67"/><circle cx="258.9" cy="515.8" r="0.56"/><circle cx="256.8" cy="523.4" r="0.65"/><circle cx="281.6" cy="521.9" r="0.72"/><circle cx="262.7" cy="510.4" r="0.78"/><circle cx="280.8" cy="514.0" r="0.37"/><circle cx="283.1" cy="517.7" r="0.35"/><circle cx="264.4" cy="537.6" r="0.35"/><circle cx="262.4" cy="514.0" r="0.64"/><circle cx="281.3" cy="532.8" r="0.37"/><circle cx="262.7" cy="510.8" r="0.61"/><circle cx="259.4" cy="533.8" r="0.41"/><circle cx="259.2" cy="517.6" r="0.48"/><circle cx="264.2" cy="510.2" r="0.71"/><circle cx="282.6" cy="529.1" r="0.76"/><circle cx="267.4" cy="509.5" r="0.52"/><circle cx="281.8" cy="518.4" r="0.62"/><circle cx="282.6" cy="531.0" r="0.51"/><circle cx="256.9" cy="523.0" r="0.61"/><circle cx="258.9" cy="530.1" r="0.66"/><circle cx="265.2" cy="510.6" r="0.54"/><circle cx="277.5" cy="537.5" r="0.80"/><circle cx="257.5" cy="522.2" r="0.41"/><circle cx="272.2" cy="536.2" r="0.38"/><circle cx="255.4" cy="522.8" r="0.74"/><circle cx="266.6" cy="511.6" r="0.43"/><circle cx="265.3" cy="511.2" r="0.67"/><circle cx="281.7" cy="530.0" r="0.59"/><circle cx="277.1" cy="511.3" r="0.53"/><circle cx="260.8" cy="532.4" r="0.45"/><circle cx="255.1" cy="522.8" r="0.61"/><circle cx="283.7" cy="523.5" r="0.78"/><circle cx="282.0" cy="519.1" r="0.49"/><circle cx="270.1" cy="508.3" r="0.38"/><circle cx="283.2" cy="527.2" r="0.62"/><circle cx="276.9" cy="534.1" r="0.76"/><circle cx="258.8" cy="518.4" r="0.51"/><circle cx="273.7" cy="539.3" r="0.67"/><circle cx="279.6" cy="531.8" r="0.71"/><circle cx="278.2" cy="510.9" r="0.73"/><circle cx="284.5" cy="520.7" r="0.70"/><circle cx="274.5" cy="509.6" r="0.66"/><circle cx="283.1" cy="528.8" r="0.61"/><circle cx="281.9" cy="518.2" r="0.65"/><circle cx="273.4" cy="508.6" r="0.68"/><circle cx="260.6" cy="511.8" r="0.42"/><circle cx="275.9" cy="535.5" r="0.64"/><circle cx="267.6" cy="537.7" r="0.53"/></g>
<path d="M282.93,524.00 C282.62,526.06 281.77,527.89 280.94,529.69 C280.11,531.48 279.34,533.65 277.95,534.76 C276.56,535.88 274.40,536.02 272.62,536.38 C270.84,536.74 269.06,537.15 267.27,536.93 C265.47,536.71 263.20,536.26 261.84,535.05 C260.48,533.84 259.92,531.51 259.09,529.67 C258.27,527.83 257.21,526.05 256.91,524.00 C256.60,521.95 256.31,519.03 257.28,517.39 C258.25,515.74 261.04,515.15 262.72,514.14 C264.39,513.12 265.67,511.74 267.32,511.32 C268.97,510.90 270.90,511.23 272.62,511.62 C274.33,512.01 275.94,512.71 277.64,513.66 C279.33,514.61 281.93,515.61 282.81,517.34 C283.69,519.06 283.24,521.94 282.93,524.00Z" fill="url(#g18)"/>
<g fill="#6a9a70" opacity="0.28"><circle cx="269.9" cy="516.8" r="0.63"/><circle cx="269.0" cy="530.1" r="0.53"/><circle cx="264.8" cy="525.1" r="0.53"/><circle cx="261.6" cy="520.4" r="0.59"/><circle cx="271.8" cy="532.7" r="0.59"/><circle cx="263.7" cy="531.2" r="0.47"/><circle cx="267.6" cy="528.9" r="0.36"/><circle cx="278.5" cy="526.0" r="0.38"/><circle cx="269.7" cy="520.3" r="0.49"/><circle cx="276.0" cy="521.2" r="0.39"/><circle cx="277.7" cy="526.0" r="0.53"/><circle cx="265.1" cy="521.1" r="0.36"/><circle cx="265.8" cy="517.1" r="0.68"/><circle cx="265.5" cy="523.4" r="0.46"/><circle cx="263.3" cy="521.0" r="0.53"/></g>
<g fill="#9090e0" opacity="0.55"><circle cx="279.1" cy="518.1" r="0.50"/><circle cx="280.8" cy="519.7" r="0.46"/><circle cx="272.6" cy="512.4" r="0.62"/><circle cx="259.7" cy="520.5" r="0.51"/><circle cx="261.3" cy="519.9" r="0.53"/><circle cx="280.7" cy="528.1" r="0.66"/><circle cx="264.5" cy="535.7" r="0.67"/></g>
<g fill="#5a62c8" opacity="0.28"><circle cx="269.9" cy="528.4" r="0.36"/><circle cx="267.8" cy="520.5" r="0.56"/><circle cx="264.1" cy="530.1" r="0.52"/><circle cx="270.2" cy="528.4" r="0.62"/><circle cx="265.9" cy="523.6" r="0.64"/><circle cx="272.9" cy="526.8" r="0.46"/><circle cx="264.5" cy="517.7" r="0.61"/><circle cx="265.0" cy="531.2" r="0.53"/><circle cx="260.7" cy="522.6" r="0.67"/><circle cx="271.3" cy="521.1" r="0.46"/><circle cx="276.1" cy="524.6" r="0.58"/></g>
<g fill="#7a7ad8" opacity="0.28"><circle cx="278.0" cy="522.6" r="0.59"/><circle cx="269.3" cy="516.8" r="0.48"/><circle cx="265.5" cy="516.7" r="0.46"/><circle cx="264.4" cy="530.9" r="0.62"/><circle cx="278.8" cy="525.0" r="0.49"/><circle cx="279.4" cy="524.1" r="0.64"/><circle cx="265.7" cy="517.6" r="0.70"/><circle cx="265.0" cy="522.1" r="0.46"/><circle cx="272.4" cy="521.5" r="0.51"/></g>
<g fill="#4a4ab8" opacity="0.28"><circle cx="260.9" cy="524.4" r="0.41"/><circle cx="275.1" cy="516.1" r="0.45"/><circle cx="269.8" cy="528.9" r="0.53"/><circle cx="267.4" cy="532.3" r="0.59"/><circle cx="273.5" cy="524.6" r="0.70"/><circle cx="263.7" cy="527.0" r="0.58"/></g>
<g fill="#4a48b8" opacity="0.55"><circle cx="265.0" cy="534.2" r="0.58"/><circle cx="278.1" cy="518.8" r="0.39"/><circle cx="267.4" cy="535.6" r="0.40"/><circle cx="267.9" cy="512.9" r="0.46"/><circle cx="261.5" cy="518.8" r="0.48"/></g>
<g fill="#3a3aa8" opacity="0.55"><circle cx="259.7" cy="522.5" r="0.39"/><circle cx="278.1" cy="515.3" r="0.40"/><circle cx="279.7" cy="520.2" r="0.52"/><circle cx="279.7" cy="522.8" r="0.39"/><circle cx="280.2" cy="516.6" r="0.57"/><circle cx="266.9" cy="535.2" r="0.59"/><circle cx="267.7" cy="513.5" r="0.69"/><circle cx="279.6" cy="523.4" r="0.56"/><circle cx="278.6" cy="514.9" r="0.53"/><circle cx="265.7" cy="536.1" r="0.70"/></g>
<g fill="#9aaa40" opacity="0.28"><circle cx="268.7" cy="529.7" r="0.68"/><circle cx="273.5" cy="532.9" r="0.36"/><circle cx="265.4" cy="528.9" r="0.63"/><circle cx="273.0" cy="518.7" r="0.59"/><circle cx="269.2" cy="531.3" r="0.41"/><circle cx="265.2" cy="518.8" r="0.45"/><circle cx="261.2" cy="525.5" r="0.61"/><circle cx="273.7" cy="519.1" r="0.68"/><circle cx="266.9" cy="522.5" r="0.35"/><circle cx="273.6" cy="533.0" r="0.47"/><circle cx="274.9" cy="521.2" r="0.37"/><circle cx="261.2" cy="525.1" r="0.43"/></g>
<g fill="#7070d0" opacity="0.55"><circle cx="279.4" cy="522.1" r="0.47"/><circle cx="280.0" cy="527.9" r="0.52"/><circle cx="260.4" cy="527.5" r="0.40"/><circle cx="260.9" cy="531.8" r="0.63"/><circle cx="277.0" cy="534.6" r="0.41"/><circle cx="274.2" cy="514.1" r="0.59"/></g>
<g fill="#ffffff" opacity="0.55"><circle cx="280.1" cy="516.6" r="0.59"/><circle cx="282.1" cy="523.6" r="0.45"/><circle cx="260.3" cy="527.9" r="0.41"/></g>
<g fill="#3540b0" opacity="0.8"><circle cx="249.5" cy="548.1" r="0.56"/><circle cx="240.3" cy="544.5" r="0.42"/><circle cx="243.2" cy="523.7" r="0.77"/><circle cx="255.8" cy="540.6" r="0.65"/><circle cx="250.8" cy="524.8" r="0.49"/><circle cx="239.3" cy="545.5" r="0.67"/><circle cx="234.7" cy="538.0" r="0.45"/><circle cx="245.9" cy="546.4" r="0.55"/><circle cx="236.7" cy="537.8" r="0.78"/><circle cx="253.7" cy="544.8" r="0.50"/><circle cx="254.9" cy="538.0" r="0.38"/><circle cx="238.9" cy="543.8" r="0.37"/><circle cx="253.4" cy="543.6" r="0.60"/><circle cx="240.8" cy="545.6" r="0.46"/><circle cx="236.6" cy="540.7" r="0.41"/><circle cx="246.3" cy="548.7" r="0.40"/><circle cx="235.6" cy="537.3" r="0.44"/><circle cx="237.0" cy="526.6" r="0.78"/><circle cx="252.1" cy="544.5" r="0.45"/><circle cx="247.6" cy="522.1" r="0.42"/><circle cx="254.3" cy="528.1" r="0.62"/><circle cx="238.3" cy="528.8" r="0.44"/><circle cx="239.4" cy="526.6" r="0.37"/><circle cx="241.1" cy="522.6" r="0.63"/><circle cx="248.0" cy="523.9" r="0.64"/><circle cx="255.9" cy="531.9" r="0.72"/><circle cx="255.0" cy="528.6" r="0.70"/><circle cx="253.5" cy="526.5" r="0.76"/><circle cx="256.4" cy="534.1" r="0.39"/><circle cx="255.6" cy="539.4" r="0.60"/><circle cx="235.0" cy="539.4" r="0.36"/><circle cx="248.7" cy="547.6" r="0.60"/><circle cx="254.3" cy="543.6" r="0.39"/><circle cx="243.5" cy="546.9" r="0.71"/><circle cx="235.4" cy="533.6" r="0.79"/><circle cx="239.8" cy="547.6" r="0.73"/><circle cx="235.8" cy="529.5" r="0.43"/><circle cx="241.2" cy="523.4" r="0.71"/><circle cx="247.4" cy="546.0" r="0.63"/><circle cx="256.7" cy="530.4" r="0.61"/><circle cx="241.9" cy="547.5" r="0.44"/><circle cx="257.3" cy="531.7" r="0.65"/><circle cx="254.2" cy="524.0" r="0.66"/><circle cx="254.0" cy="544.4" r="0.73"/><circle cx="234.6" cy="534.0" r="0.51"/><circle cx="256.8" cy="537.1" r="0.44"/><circle cx="251.8" cy="545.9" r="0.64"/><circle cx="250.9" cy="545.9" r="0.69"/><circle cx="243.3" cy="523.3" r="0.70"/><circle cx="257.1" cy="531.6" r="0.40"/><circle cx="247.3" cy="546.9" r="0.53"/><circle cx="246.0" cy="522.8" r="0.79"/></g>
<path d="M255.13,537.45 C254.77,539.15 254.54,541.25 253.61,542.62 C252.69,543.99 251.01,544.85 249.58,545.65 C248.16,546.44 246.58,547.33 245.08,547.42 C243.59,547.50 241.76,547.08 240.61,546.16 C239.46,545.24 238.74,543.36 238.19,541.88 C237.65,540.41 237.53,538.87 237.34,537.33 C237.14,535.78 236.89,534.29 237.04,532.60 C237.18,530.91 237.41,528.86 238.20,527.20 C239.00,525.53 240.37,523.34 241.82,522.59 C243.27,521.85 245.41,522.30 246.91,522.71 C248.40,523.13 249.60,524.20 250.80,525.07 C251.99,525.93 253.24,526.67 254.07,527.88 C254.90,529.10 255.61,530.78 255.79,532.37 C255.96,533.97 255.49,535.74 255.13,537.45Z" fill="url(#g19)"/>
<g fill="#3a3aa8" opacity="0.55"><circle cx="248.0" cy="525.9" r="0.52"/><circle cx="237.4" cy="540.8" r="0.48"/><circle cx="251.8" cy="528.5" r="0.63"/><circle cx="250.8" cy="541.8" r="0.65"/></g>
<g fill="#4a48b8" opacity="0.55"><circle cx="251.5" cy="528.2" r="0.54"/><circle cx="245.4" cy="546.6" r="0.38"/><circle cx="236.4" cy="538.0" r="0.55"/><circle cx="239.0" cy="541.2" r="0.51"/><circle cx="240.0" cy="542.4" r="0.56"/></g>
<g fill="#5a62c8" opacity="0.28"><circle cx="245.4" cy="540.3" r="0.61"/><circle cx="250.1" cy="532.0" r="0.57"/><circle cx="243.0" cy="542.6" r="0.57"/><circle cx="242.0" cy="537.2" r="0.37"/><circle cx="253.3" cy="536.4" r="0.42"/><circle cx="239.1" cy="537.9" r="0.60"/><circle cx="239.4" cy="533.7" r="0.60"/><circle cx="248.9" cy="529.3" r="0.55"/></g>
<g fill="#6a9a70" opacity="0.28"><circle cx="244.1" cy="540.1" r="0.52"/><circle cx="240.0" cy="531.7" r="0.51"/><circle cx="239.3" cy="538.7" r="0.41"/><circle cx="240.6" cy="537.7" r="0.58"/><circle cx="249.1" cy="528.9" r="0.62"/><circle cx="247.1" cy="530.3" r="0.68"/><circle cx="246.8" cy="542.4" r="0.68"/><circle cx="241.8" cy="531.0" r="0.36"/><circle cx="251.1" cy="535.4" r="0.44"/><circle cx="249.4" cy="533.0" r="0.45"/></g>
<g fill="#9090e0" opacity="0.55"><circle cx="236.8" cy="532.3" r="0.44"/><circle cx="254.4" cy="538.6" r="0.35"/><circle cx="241.6" cy="543.5" r="0.47"/><circle cx="238.5" cy="539.7" r="0.38"/></g>
<g fill="#ffffff" opacity="0.55"><circle cx="252.3" cy="527.8" r="0.61"/><circle cx="239.0" cy="530.6" r="0.60"/><circle cx="243.2" cy="526.7" r="0.43"/><circle cx="241.8" cy="527.8" r="0.60"/></g>
<g fill="#9aaa40" opacity="0.28"><circle cx="240.7" cy="538.0" r="0.39"/><circle cx="242.8" cy="539.7" r="0.55"/><circle cx="249.4" cy="539.9" r="0.35"/><circle cx="246.7" cy="539.9" r="0.60"/><circle cx="241.0" cy="540.4" r="0.37"/><circle cx="241.4" cy="533.6" r="0.51"/><circle cx="247.1" cy="538.4" r="0.65"/><circle cx="242.9" cy="537.0" r="0.65"/><circle cx="240.2" cy="533.9" r="0.66"/></g>
<g fill="#4a4ab8" opacity="0.28"><circle cx="245.9" cy="543.4" r="0.60"/><circle cx="246.9" cy="541.9" r="0.41"/><circle cx="251.0" cy="528.0" r="0.68"/><circle cx="242.4" cy="537.5" r="0.37"/><circle cx="244.1" cy="530.4" r="0.61"/></g>
<g fill="#7a7ad8" opacity="0.28"><circle cx="241.9" cy="532.2" r="0.52"/><circle cx="252.9" cy="532.2" r="0.47"/><circle cx="239.7" cy="536.4" r="0.55"/><circle cx="252.1" cy="537.1" r="0.52"/></g>
<g fill="#7070d0" opacity="0.55"><circle cx="248.4" cy="544.0" r="0.47"/><circle cx="249.3" cy="545.1" r="0.61"/><circle cx="244.8" cy="544.6" r="0.44"/><circle cx="245.5" cy="544.3" r="0.67"/><circle cx="249.9" cy="542.7" r="0.63"/><circle cx="255.1" cy="533.5" r="0.56"/><circle cx="237.0" cy="539.0" r="0.56"/></g>
<circle cx="239" cy="471.5" r="2.4" fill="#d86a1a" opacity="0.9" filter="url(#bl1)"/>
<circle cx="258.5" cy="487" r="2.0" fill="#d86a1a" opacity="0.9" filter="url(#bl1)"/>
<circle cx="289" cy="529.7" r="2.6" fill="#d86020" opacity="0.9" filter="url(#bl1)"/>
</g>
<rect x="215.6" y="458.1" width="20.6" height="11.3" fill="#fff" stroke="#333" stroke-width="1.1"/>
<text x="226.0" y="467.0" font-size="8.3" fill="#222" stroke="#222" stroke-width="0.12" text-anchor="middle" textLength="9.2" lengthAdjust="spacingAndGlyphs" >T1</text>
<rect x="317.1" y="458.1" width="96.0" height="97.2" fill="#fff" stroke="#333" stroke-width="1.1"/>
<g filter="url(#mottle2)">
<g fill="#3540b0" opacity="0.8"><circle cx="364.2" cy="480.8" r="0.50"/><circle cx="338.5" cy="473.1" r="0.59"/><circle cx="356.2" cy="485.6" r="0.67"/><circle cx="344.3" cy="489.9" r="0.36"/><circle cx="334.6" cy="477.4" r="0.71"/><circle cx="345.5" cy="468.4" r="0.70"/><circle cx="360.5" cy="466.6" r="0.62"/><circle cx="359.6" cy="486.2" r="0.42"/><circle cx="367.2" cy="470.6" r="0.40"/><circle cx="361.9" cy="469.2" r="0.64"/><circle cx="358.0" cy="485.1" r="0.55"/><circle cx="341.8" cy="487.4" r="0.74"/><circle cx="336.1" cy="474.5" r="0.64"/><circle cx="334.4" cy="484.1" r="0.43"/><circle cx="353.0" cy="467.6" r="0.66"/><circle cx="344.0" cy="487.3" r="0.54"/><circle cx="338.8" cy="472.4" r="0.62"/><circle cx="340.3" cy="471.0" r="0.59"/><circle cx="361.4" cy="469.1" r="0.61"/><circle cx="365.4" cy="478.3" r="0.73"/><circle cx="364.0" cy="471.0" r="0.62"/><circle cx="362.3" cy="484.0" r="0.42"/><circle cx="334.2" cy="483.3" r="0.71"/><circle cx="368.2" cy="472.8" r="0.73"/><circle cx="337.7" cy="484.6" r="0.46"/><circle cx="365.7" cy="473.7" r="0.39"/><circle cx="354.1" cy="488.0" r="0.66"/><circle cx="366.9" cy="472.1" r="0.54"/><circle cx="347.3" cy="487.3" r="0.35"/><circle cx="341.5" cy="489.6" r="0.55"/><circle cx="351.1" cy="467.7" r="0.79"/><circle cx="349.2" cy="467.2" r="0.72"/><circle cx="360.8" cy="467.1" r="0.73"/><circle cx="362.4" cy="470.6" r="0.54"/><circle cx="358.8" cy="466.3" r="0.54"/><circle cx="356.6" cy="467.7" r="0.61"/><circle cx="362.1" cy="469.7" r="0.38"/><circle cx="364.6" cy="475.8" r="0.76"/><circle cx="332.7" cy="478.9" r="0.46"/><circle cx="335.9" cy="482.2" r="0.50"/><circle cx="354.8" cy="487.7" r="0.38"/><circle cx="361.2" cy="468.6" r="0.39"/><circle cx="363.5" cy="470.9" r="0.72"/><circle cx="347.2" cy="466.1" r="0.51"/><circle cx="338.6" cy="485.4" r="0.77"/><circle cx="344.5" cy="489.1" r="0.53"/><circle cx="350.0" cy="465.8" r="0.60"/><circle cx="364.2" cy="478.1" r="0.41"/><circle cx="334.1" cy="475.4" r="0.42"/><circle cx="344.4" cy="467.9" r="0.64"/><circle cx="334.9" cy="475.4" r="0.76"/><circle cx="358.2" cy="467.0" r="0.80"/><circle cx="331.5" cy="479.7" r="0.58"/><circle cx="348.7" cy="487.3" r="0.47"/><circle cx="363.7" cy="479.4" r="0.54"/><circle cx="360.9" cy="468.1" r="0.73"/><circle cx="353.0" cy="488.6" r="0.66"/><circle cx="365.3" cy="481.0" r="0.51"/><circle cx="336.3" cy="482.6" r="0.59"/><circle cx="363.6" cy="479.9" r="0.60"/><circle cx="354.6" cy="465.9" r="0.50"/><circle cx="361.9" cy="468.5" r="0.48"/></g>
<path d="M366.26,473.14 C366.94,474.53 367.48,476.46 366.70,478.01 C365.92,479.56 363.36,481.10 361.58,482.43 C359.79,483.77 358.08,485.10 356.00,486.05 C353.91,486.99 351.22,488.00 349.06,488.13 C346.89,488.25 344.98,487.26 343.01,486.81 C341.03,486.36 338.60,486.28 337.20,485.42 C335.80,484.56 335.02,483.02 334.60,481.63 C334.18,480.23 334.32,478.67 334.66,477.03 C335.00,475.39 335.05,473.13 336.62,471.80 C338.19,470.47 341.72,469.65 344.08,469.06 C346.45,468.48 348.68,468.43 350.81,468.30 C352.95,468.17 354.94,468.07 356.91,468.30 C358.88,468.53 361.09,468.87 362.65,469.67 C364.21,470.48 365.59,471.75 366.26,473.14Z" fill="url(#g20)"/>
<g fill="#3a3aa8" opacity="0.55"><circle cx="352.0" cy="468.3" r="0.59"/><circle cx="351.4" cy="468.9" r="0.62"/><circle cx="362.0" cy="472.6" r="0.68"/><circle cx="336.3" cy="475.3" r="0.48"/><circle cx="340.3" cy="483.8" r="0.44"/><circle cx="355.6" cy="469.8" r="0.65"/><circle cx="356.2" cy="485.4" r="0.62"/><circle cx="360.8" cy="471.0" r="0.52"/><circle cx="335.2" cy="477.1" r="0.54"/></g>
<g fill="#4a4ab8" opacity="0.28"><circle cx="347.1" cy="474.6" r="0.63"/><circle cx="354.9" cy="480.7" r="0.69"/><circle cx="349.5" cy="472.5" r="0.63"/><circle cx="356.1" cy="472.2" r="0.67"/><circle cx="341.5" cy="478.7" r="0.65"/><circle cx="348.9" cy="482.7" r="0.59"/><circle cx="343.4" cy="474.9" r="0.40"/><circle cx="345.0" cy="478.5" r="0.38"/><circle cx="345.0" cy="481.0" r="0.43"/><circle cx="353.7" cy="477.1" r="0.55"/><circle cx="361.0" cy="474.9" r="0.55"/><circle cx="359.2" cy="471.5" r="0.44"/></g>
<g fill="#6a9a70" opacity="0.28"><circle cx="345.4" cy="484.7" r="0.48"/><circle cx="345.8" cy="482.2" r="0.69"/><circle cx="354.0" cy="483.6" r="0.35"/><circle cx="357.1" cy="475.5" r="0.41"/><circle cx="348.6" cy="481.8" r="0.63"/><circle cx="345.2" cy="482.7" r="0.47"/><circle cx="359.8" cy="479.9" r="0.38"/><circle cx="354.1" cy="471.9" r="0.59"/><circle cx="346.2" cy="481.3" r="0.66"/></g>
<g fill="#7070d0" opacity="0.55"><circle cx="355.3" cy="485.5" r="0.69"/><circle cx="364.9" cy="472.8" r="0.54"/><circle cx="352.6" cy="485.5" r="0.37"/><circle cx="342.2" cy="472.2" r="0.62"/><circle cx="350.4" cy="468.6" r="0.68"/><circle cx="344.0" cy="470.3" r="0.47"/><circle cx="361.6" cy="472.4" r="0.38"/><circle cx="342.4" cy="471.4" r="0.63"/></g>
<g fill="#ffffff" opacity="0.55"><circle cx="349.1" cy="486.1" r="0.49"/><circle cx="351.4" cy="486.9" r="0.50"/><circle cx="359.2" cy="470.4" r="0.40"/><circle cx="362.8" cy="478.2" r="0.56"/><circle cx="361.3" cy="470.2" r="0.48"/><circle cx="350.4" cy="469.6" r="0.61"/><circle cx="359.5" cy="481.3" r="0.63"/><circle cx="357.5" cy="470.4" r="0.48"/><circle cx="345.4" cy="471.2" r="0.61"/><circle cx="341.7" cy="485.3" r="0.42"/></g>
<g fill="#4a48b8" opacity="0.55"><circle cx="338.8" cy="474.6" r="0.57"/><circle cx="361.3" cy="479.0" r="0.56"/><circle cx="362.6" cy="474.3" r="0.57"/><circle cx="353.9" cy="469.5" r="0.45"/><circle cx="335.2" cy="477.8" r="0.62"/></g>
<g fill="#9aaa40" opacity="0.28"><circle cx="360.3" cy="477.6" r="0.50"/><circle cx="357.6" cy="477.7" r="0.41"/><circle cx="359.6" cy="471.7" r="0.52"/><circle cx="354.9" cy="474.5" r="0.64"/><circle cx="357.5" cy="470.6" r="0.57"/><circle cx="346.1" cy="482.1" r="0.61"/><circle cx="361.3" cy="475.8" r="0.47"/></g>
<g fill="#7a7ad8" opacity="0.28"><circle cx="345.6" cy="472.4" r="0.65"/><circle cx="351.3" cy="482.4" r="0.40"/><circle cx="343.7" cy="477.1" r="0.59"/><circle cx="351.7" cy="471.5" r="0.39"/><circle cx="341.4" cy="479.8" r="0.51"/><circle cx="341.8" cy="480.5" r="0.63"/><circle cx="347.2" cy="483.7" r="0.59"/></g>
<g fill="#9090e0" opacity="0.55"><circle cx="349.0" cy="468.4" r="0.44"/><circle cx="339.6" cy="484.8" r="0.66"/><circle cx="358.4" cy="482.3" r="0.39"/><circle cx="350.7" cy="469.1" r="0.66"/><circle cx="359.1" cy="483.3" r="0.47"/><circle cx="356.3" cy="484.7" r="0.37"/></g>
<g fill="#5a62c8" opacity="0.28"><circle cx="343.7" cy="480.3" r="0.47"/><circle cx="353.9" cy="480.1" r="0.53"/><circle cx="347.1" cy="481.0" r="0.59"/><circle cx="359.0" cy="480.1" r="0.65"/><circle cx="347.2" cy="484.0" r="0.43"/><circle cx="340.4" cy="475.3" r="0.41"/><circle cx="358.5" cy="474.3" r="0.51"/></g>
<g fill="#3540b0" opacity="0.8"><circle cx="365.2" cy="487.2" r="0.64"/><circle cx="352.5" cy="496.4" r="0.66"/><circle cx="358.4" cy="499.0" r="0.76"/><circle cx="356.5" cy="499.2" r="0.52"/><circle cx="355.1" cy="498.1" r="0.46"/><circle cx="353.2" cy="485.5" r="0.61"/><circle cx="356.8" cy="484.3" r="0.70"/><circle cx="349.8" cy="490.2" r="0.72"/><circle cx="351.8" cy="496.2" r="0.71"/><circle cx="362.6" cy="485.1" r="0.67"/><circle cx="362.6" cy="496.0" r="0.36"/><circle cx="361.7" cy="496.7" r="0.53"/><circle cx="350.6" cy="490.1" r="0.38"/><circle cx="352.8" cy="486.3" r="0.39"/><circle cx="361.9" cy="497.0" r="0.44"/><circle cx="351.8" cy="486.3" r="0.58"/><circle cx="365.7" cy="493.0" r="0.36"/><circle cx="365.1" cy="487.1" r="0.42"/><circle cx="353.8" cy="496.3" r="0.66"/><circle cx="350.4" cy="490.5" r="0.41"/><circle cx="350.1" cy="489.0" r="0.74"/><circle cx="352.6" cy="486.2" r="0.46"/><circle cx="363.9" cy="486.7" r="0.36"/><circle cx="351.5" cy="486.8" r="0.71"/><circle cx="365.7" cy="492.9" r="0.39"/><circle cx="358.1" cy="482.6" r="0.55"/><circle cx="356.0" cy="497.6" r="0.53"/><circle cx="351.1" cy="489.3" r="0.47"/><circle cx="353.5" cy="486.3" r="0.51"/><circle cx="352.6" cy="487.5" r="0.68"/><circle cx="350.4" cy="493.5" r="0.59"/><circle cx="351.7" cy="488.1" r="0.55"/><circle cx="361.7" cy="485.2" r="0.49"/></g>
<path d="M363.79,493.11 C363.41,493.98 362.97,494.65 362.42,495.53 C361.87,496.41 361.38,497.86 360.48,498.39 C359.58,498.92 358.12,498.91 357.03,498.72 C355.95,498.53 354.74,497.97 353.96,497.26 C353.17,496.55 352.71,495.41 352.31,494.48 C351.92,493.54 351.64,492.59 351.58,491.64 C351.53,490.70 351.73,489.77 351.96,488.80 C352.19,487.83 352.31,486.55 352.95,485.83 C353.59,485.10 354.81,484.81 355.80,484.46 C356.80,484.10 357.85,483.69 358.91,483.70 C359.97,483.72 361.26,483.99 362.16,484.56 C363.06,485.13 363.89,486.18 364.32,487.14 C364.75,488.10 364.82,489.33 364.73,490.33 C364.64,491.32 364.18,492.24 363.79,493.11Z" fill="url(#g21)"/>
<g fill="#4a4ab8" opacity="0.28"><circle cx="361.0" cy="487.0" r="0.58"/><circle cx="356.3" cy="495.7" r="0.49"/><circle cx="356.8" cy="492.2" r="0.38"/><circle cx="357.7" cy="487.3" r="0.64"/><circle cx="358.7" cy="487.7" r="0.57"/></g>
<g fill="#ffffff" opacity="0.55"><circle cx="353.7" cy="495.2" r="0.38"/><circle cx="351.2" cy="489.7" r="0.55"/><circle cx="352.3" cy="493.1" r="0.40"/></g>
<g fill="#7070d0" opacity="0.55"><circle cx="363.1" cy="487.9" r="0.46"/><circle cx="355.8" cy="497.4" r="0.51"/><circle cx="353.9" cy="495.1" r="0.62"/><circle cx="354.5" cy="486.3" r="0.66"/></g>
<g fill="#9090e0" opacity="0.55"><circle cx="353.1" cy="494.1" r="0.67"/></g>
<g fill="#9aaa40" opacity="0.28"><circle cx="357.5" cy="492.9" r="0.53"/><circle cx="353.4" cy="489.2" r="0.45"/><circle cx="359.8" cy="487.4" r="0.45"/><circle cx="357.0" cy="488.7" r="0.51"/></g>
<g fill="#6a9a70" opacity="0.28"><circle cx="361.1" cy="494.9" r="0.63"/></g>
<g fill="#3a3aa8" opacity="0.55"><circle cx="352.7" cy="491.2" r="0.46"/><circle cx="361.9" cy="495.8" r="0.43"/></g>
<g fill="#7a7ad8" opacity="0.28"><circle cx="360.1" cy="486.3" r="0.36"/><circle cx="358.1" cy="493.3" r="0.49"/><circle cx="358.7" cy="486.4" r="0.54"/></g>
<g fill="#4a48b8" opacity="0.55"><circle cx="363.7" cy="493.9" r="0.48"/></g>
<g fill="#3540b0" opacity="0.8"><circle cx="325.9" cy="505.9" r="0.71"/><circle cx="327.6" cy="509.1" r="0.78"/><circle cx="329.2" cy="511.5" r="0.48"/><circle cx="327.1" cy="509.7" r="0.55"/><circle cx="343.5" cy="493.7" r="0.68"/><circle cx="344.9" cy="510.3" r="0.50"/><circle cx="325.7" cy="496.3" r="0.62"/><circle cx="348.1" cy="507.3" r="0.49"/><circle cx="344.6" cy="510.6" r="0.79"/><circle cx="333.6" cy="515.1" r="0.45"/><circle cx="326.7" cy="495.0" r="0.76"/><circle cx="345.2" cy="493.9" r="0.78"/><circle cx="324.2" cy="502.9" r="0.68"/><circle cx="344.3" cy="495.6" r="0.60"/><circle cx="325.5" cy="500.7" r="0.38"/><circle cx="332.0" cy="493.2" r="0.59"/><circle cx="340.7" cy="490.1" r="0.44"/><circle cx="339.2" cy="490.9" r="0.67"/><circle cx="346.1" cy="507.2" r="0.66"/><circle cx="341.7" cy="492.6" r="0.70"/><circle cx="347.0" cy="502.4" r="0.72"/><circle cx="327.2" cy="493.7" r="0.36"/><circle cx="326.9" cy="494.6" r="0.66"/><circle cx="325.5" cy="509.8" r="0.40"/><circle cx="324.7" cy="504.7" r="0.74"/><circle cx="341.7" cy="490.4" r="0.77"/><circle cx="341.6" cy="514.5" r="0.55"/><circle cx="334.7" cy="491.5" r="0.59"/><circle cx="335.7" cy="491.3" r="0.51"/><circle cx="348.2" cy="497.9" r="0.72"/><circle cx="332.3" cy="515.4" r="0.49"/><circle cx="348.7" cy="508.6" r="0.56"/><circle cx="347.0" cy="508.0" r="0.65"/><circle cx="323.4" cy="504.2" r="0.58"/><circle cx="331.2" cy="493.9" r="0.64"/><circle cx="344.9" cy="496.3" r="0.72"/><circle cx="327.2" cy="512.5" r="0.40"/><circle cx="340.4" cy="491.8" r="0.52"/><circle cx="333.6" cy="490.3" r="0.59"/><circle cx="331.4" cy="493.5" r="0.67"/><circle cx="336.5" cy="490.0" r="0.37"/><circle cx="328.5" cy="513.2" r="0.64"/><circle cx="324.3" cy="502.2" r="0.66"/><circle cx="329.5" cy="494.3" r="0.67"/><circle cx="338.4" cy="491.8" r="0.79"/><circle cx="344.8" cy="510.2" r="0.38"/><circle cx="348.6" cy="506.8" r="0.76"/><circle cx="334.7" cy="514.8" r="0.74"/><circle cx="324.2" cy="507.0" r="0.36"/><circle cx="345.0" cy="496.3" r="0.44"/><circle cx="325.0" cy="502.6" r="0.55"/><circle cx="328.1" cy="514.1" r="0.42"/><circle cx="328.7" cy="512.9" r="0.50"/><circle cx="348.2" cy="497.7" r="0.67"/><circle cx="327.6" cy="498.2" r="0.51"/></g>
<path d="M346.79,505.31 C346.71,507.12 347.03,509.39 346.29,511.07 C345.55,512.75 343.91,514.67 342.34,515.39 C340.78,516.11 338.53,515.69 336.88,515.40 C335.23,515.10 333.85,514.31 332.46,513.60 C331.06,512.90 329.62,512.28 328.52,511.17 C327.41,510.05 326.45,508.54 325.82,506.91 C325.19,505.29 324.48,503.17 324.74,501.43 C325.01,499.69 326.32,497.88 327.42,496.47 C328.51,495.07 329.88,493.77 331.33,492.99 C332.79,492.20 334.54,491.84 336.13,491.77 C337.72,491.71 339.44,491.95 340.87,492.59 C342.30,493.23 343.74,494.34 344.72,495.61 C345.71,496.88 346.44,498.60 346.78,500.22 C347.12,501.83 346.87,503.51 346.79,505.31Z" fill="url(#g22)"/>
<g fill="#4a48b8" opacity="0.55"><circle cx="327.0" cy="501.7" r="0.38"/><circle cx="333.0" cy="514.6" r="0.46"/><circle cx="334.8" cy="492.8" r="0.52"/><circle cx="330.8" cy="510.8" r="0.56"/><circle cx="327.3" cy="509.7" r="0.52"/><circle cx="327.5" cy="498.5" r="0.68"/><circle cx="328.8" cy="496.9" r="0.62"/></g>
<g fill="#4a4ab8" opacity="0.28"><circle cx="341.8" cy="503.0" r="0.46"/><circle cx="330.7" cy="503.8" r="0.41"/><circle cx="332.2" cy="505.5" r="0.70"/></g>
<g fill="#7a7ad8" opacity="0.28"><circle cx="334.8" cy="506.8" r="0.42"/><circle cx="341.7" cy="507.8" r="0.64"/><circle cx="342.2" cy="497.2" r="0.63"/><circle cx="334.4" cy="501.0" r="0.54"/><circle cx="342.1" cy="497.3" r="0.50"/><circle cx="334.3" cy="506.5" r="0.68"/></g>
<g fill="#6a9a70" opacity="0.28"><circle cx="333.1" cy="510.1" r="0.48"/><circle cx="337.2" cy="510.4" r="0.39"/><circle cx="339.8" cy="504.9" r="0.37"/><circle cx="334.6" cy="506.3" r="0.58"/><circle cx="332.2" cy="499.6" r="0.43"/><circle cx="338.2" cy="511.4" r="0.52"/><circle cx="336.9" cy="506.5" r="0.39"/><circle cx="335.9" cy="509.5" r="0.68"/><circle cx="338.9" cy="498.9" r="0.38"/><circle cx="342.1" cy="509.2" r="0.42"/></g>
<g fill="#3a3aa8" opacity="0.55"><circle cx="338.3" cy="513.4" r="0.69"/><circle cx="346.1" cy="498.0" r="0.46"/><circle cx="346.5" cy="499.6" r="0.64"/><circle cx="327.1" cy="500.1" r="0.35"/><circle cx="327.4" cy="504.8" r="0.45"/><circle cx="339.1" cy="492.3" r="0.55"/></g>
<g fill="#5a62c8" opacity="0.28"><circle cx="336.9" cy="507.8" r="0.50"/><circle cx="331.2" cy="507.0" r="0.50"/><circle cx="339.3" cy="509.2" r="0.38"/><circle cx="335.4" cy="511.3" r="0.41"/><circle cx="342.5" cy="499.7" r="0.62"/><circle cx="340.9" cy="499.1" r="0.45"/><circle cx="341.7" cy="505.9" r="0.64"/><circle cx="331.8" cy="502.3" r="0.47"/><circle cx="329.8" cy="503.4" r="0.40"/><circle cx="343.9" cy="502.3" r="0.47"/></g>
<g fill="#9aaa40" opacity="0.28"><circle cx="341.9" cy="503.4" r="0.55"/><circle cx="337.7" cy="510.3" r="0.67"/><circle cx="336.6" cy="494.9" r="0.38"/><circle cx="338.8" cy="501.9" r="0.39"/><circle cx="330.2" cy="499.1" r="0.65"/></g>
<g fill="#9090e0" opacity="0.55"><circle cx="327.8" cy="506.7" r="0.40"/><circle cx="329.0" cy="510.1" r="0.50"/><circle cx="341.8" cy="511.3" r="0.49"/><circle cx="335.6" cy="492.5" r="0.42"/><circle cx="332.5" cy="512.6" r="0.36"/><circle cx="326.3" cy="507.1" r="0.53"/><circle cx="330.8" cy="511.6" r="0.69"/></g>
<g fill="#7070d0" opacity="0.55"><circle cx="326.5" cy="500.9" r="0.66"/><circle cx="328.9" cy="508.3" r="0.35"/><circle cx="344.9" cy="509.5" r="0.44"/><circle cx="340.2" cy="514.1" r="0.40"/><circle cx="345.5" cy="504.3" r="0.57"/><circle cx="330.5" cy="496.5" r="0.69"/><circle cx="334.1" cy="494.2" r="0.62"/></g>
<g fill="#ffffff" opacity="0.55"><circle cx="337.0" cy="491.8" r="0.59"/><circle cx="345.7" cy="499.2" r="0.46"/><circle cx="337.4" cy="513.1" r="0.42"/><circle cx="347.3" cy="502.6" r="0.69"/><circle cx="329.5" cy="510.8" r="0.49"/></g>
<g fill="#3540b0" opacity="0.8"><circle cx="362.9" cy="503.8" r="0.46"/><circle cx="349.9" cy="503.7" r="0.53"/><circle cx="349.6" cy="508.6" r="0.50"/><circle cx="355.3" cy="496.9" r="0.42"/><circle cx="355.8" cy="498.6" r="0.61"/><circle cx="348.8" cy="502.9" r="0.44"/><circle cx="360.5" cy="498.8" r="0.77"/><circle cx="348.4" cy="503.5" r="0.57"/><circle cx="363.3" cy="500.4" r="0.78"/><circle cx="364.1" cy="506.3" r="0.55"/><circle cx="356.6" cy="512.8" r="0.79"/><circle cx="363.1" cy="502.5" r="0.44"/><circle cx="354.1" cy="497.7" r="0.39"/><circle cx="348.8" cy="501.8" r="0.59"/><circle cx="348.4" cy="502.5" r="0.55"/><circle cx="357.3" cy="496.9" r="0.43"/><circle cx="350.4" cy="499.6" r="0.50"/><circle cx="353.4" cy="512.7" r="0.52"/><circle cx="352.3" cy="510.9" r="0.77"/><circle cx="362.3" cy="509.4" r="0.57"/><circle cx="364.0" cy="505.6" r="0.73"/><circle cx="358.2" cy="498.2" r="0.70"/><circle cx="364.0" cy="503.4" r="0.44"/><circle cx="350.6" cy="510.0" r="0.40"/><circle cx="349.6" cy="501.4" r="0.75"/><circle cx="348.3" cy="503.1" r="0.66"/><circle cx="350.6" cy="509.9" r="0.78"/><circle cx="363.5" cy="505.7" r="0.37"/><circle cx="349.1" cy="505.5" r="0.42"/><circle cx="360.7" cy="511.3" r="0.46"/><circle cx="351.6" cy="498.2" r="0.60"/><circle cx="362.4" cy="501.1" r="0.65"/><circle cx="361.5" cy="509.5" r="0.58"/></g>
<path d="M363.50,505.00 C363.47,506.04 363.28,507.21 362.79,508.08 C362.30,508.94 361.38,509.71 360.54,510.19 C359.70,510.68 358.70,510.79 357.77,510.99 C356.83,511.19 356.01,511.35 354.94,511.41 C353.87,511.46 352.19,511.88 351.35,511.33 C350.51,510.79 350.22,509.18 349.90,508.13 C349.58,507.07 349.36,506.01 349.43,505.00 C349.50,503.99 349.83,502.93 350.30,502.06 C350.77,501.20 351.51,500.50 352.25,499.80 C352.99,499.09 353.81,498.15 354.77,497.85 C355.73,497.54 357.05,497.64 358.01,497.96 C358.97,498.29 359.70,499.18 360.53,499.82 C361.36,500.46 362.49,500.97 362.98,501.83 C363.48,502.69 363.54,503.96 363.50,505.00Z" fill="url(#g23)"/>
<g fill="#7a7ad8" opacity="0.28"><circle cx="353.3" cy="502.1" r="0.37"/><circle cx="353.2" cy="504.5" r="0.42"/><circle cx="358.8" cy="509.3" r="0.70"/></g>
<g fill="#4a4ab8" opacity="0.28"><circle cx="354.2" cy="500.4" r="0.61"/><circle cx="355.9" cy="509.3" r="0.67"/><circle cx="356.8" cy="501.7" r="0.36"/></g>
<g fill="#5a62c8" opacity="0.28"><circle cx="354.2" cy="508.2" r="0.57"/><circle cx="359.0" cy="501.3" r="0.50"/><circle cx="354.7" cy="503.1" r="0.36"/></g>
<g fill="#9090e0" opacity="0.55"><circle cx="362.9" cy="504.5" r="0.66"/></g>
<g fill="#ffffff" opacity="0.55"><circle cx="356.3" cy="511.7" r="0.65"/><circle cx="355.4" cy="499.3" r="0.63"/><circle cx="356.2" cy="499.7" r="0.43"/><circle cx="350.9" cy="508.6" r="0.59"/></g>
<g fill="#4a48b8" opacity="0.55"><circle cx="362.7" cy="503.3" r="0.59"/><circle cx="354.1" cy="499.2" r="0.58"/><circle cx="354.2" cy="498.6" r="0.52"/><circle cx="349.7" cy="503.3" r="0.36"/></g>
<g fill="#9aaa40" opacity="0.28"><circle cx="359.6" cy="507.3" r="0.37"/></g>
<g fill="#7070d0" opacity="0.55"><circle cx="360.9" cy="509.0" r="0.49"/><circle cx="353.1" cy="510.8" r="0.38"/><circle cx="350.5" cy="506.8" r="0.40"/></g>
<g fill="#6a9a70" opacity="0.28"><circle cx="357.6" cy="501.8" r="0.61"/></g>
<g fill="#3a3aa8" opacity="0.55"><circle cx="355.6" cy="499.4" r="0.65"/></g>
<g fill="#3540b0" opacity="0.8"><circle cx="378.8" cy="477.8" r="0.63"/><circle cx="393.7" cy="479.2" r="0.59"/><circle cx="370.5" cy="490.6" r="0.77"/><circle cx="397.3" cy="517.4" r="0.44"/><circle cx="409.9" cy="495.3" r="0.42"/><circle cx="409.1" cy="499.8" r="0.56"/><circle cx="404.6" cy="510.6" r="0.71"/><circle cx="370.5" cy="487.5" r="0.72"/><circle cx="375.6" cy="510.0" r="0.36"/><circle cx="400.5" cy="514.5" r="0.40"/><circle cx="397.4" cy="517.2" r="0.77"/><circle cx="407.7" cy="499.2" r="0.46"/><circle cx="394.5" cy="515.1" r="0.53"/><circle cx="375.6" cy="505.1" r="0.74"/><circle cx="377.8" cy="508.2" r="0.37"/><circle cx="372.1" cy="487.5" r="0.49"/><circle cx="399.8" cy="512.1" r="0.38"/><circle cx="398.4" cy="512.8" r="0.57"/><circle cx="380.3" cy="511.0" r="0.45"/><circle cx="404.4" cy="511.5" r="0.42"/><circle cx="406.3" cy="509.4" r="0.79"/><circle cx="411.0" cy="505.3" r="0.69"/><circle cx="398.6" cy="478.8" r="0.53"/><circle cx="390.8" cy="477.5" r="0.66"/><circle cx="381.6" cy="477.6" r="0.48"/><circle cx="394.3" cy="478.1" r="0.42"/><circle cx="401.5" cy="512.6" r="0.39"/><circle cx="377.2" cy="510.0" r="0.69"/><circle cx="408.1" cy="491.3" r="0.60"/><circle cx="402.1" cy="483.4" r="0.67"/><circle cx="369.6" cy="500.2" r="0.41"/><circle cx="382.9" cy="480.1" r="0.35"/><circle cx="382.9" cy="478.6" r="0.37"/><circle cx="401.6" cy="483.0" r="0.44"/><circle cx="372.8" cy="498.3" r="0.55"/><circle cx="368.6" cy="491.0" r="0.65"/><circle cx="369.6" cy="499.5" r="0.56"/><circle cx="397.5" cy="480.9" r="0.75"/><circle cx="401.2" cy="511.5" r="0.64"/><circle cx="384.1" cy="477.7" r="0.59"/><circle cx="400.5" cy="513.3" r="0.46"/><circle cx="380.1" cy="481.6" r="0.56"/><circle cx="371.5" cy="496.2" r="0.37"/><circle cx="406.5" cy="503.6" r="0.62"/><circle cx="404.2" cy="507.5" r="0.49"/><circle cx="372.5" cy="484.3" r="0.58"/><circle cx="408.7" cy="503.1" r="0.78"/><circle cx="388.8" cy="514.3" r="0.38"/><circle cx="377.0" cy="483.1" r="0.45"/><circle cx="403.0" cy="487.5" r="0.63"/><circle cx="402.8" cy="509.5" r="0.59"/><circle cx="403.6" cy="509.9" r="0.53"/><circle cx="386.1" cy="512.4" r="0.77"/><circle cx="385.7" cy="478.2" r="0.58"/><circle cx="408.2" cy="503.5" r="0.55"/><circle cx="407.9" cy="499.8" r="0.43"/><circle cx="382.9" cy="514.7" r="0.41"/><circle cx="371.5" cy="488.1" r="0.40"/><circle cx="371.2" cy="482.9" r="0.57"/><circle cx="385.7" cy="478.3" r="0.36"/><circle cx="404.6" cy="484.6" r="0.45"/><circle cx="389.6" cy="480.0" r="0.73"/><circle cx="388.5" cy="479.3" r="0.67"/><circle cx="391.4" cy="476.7" r="0.73"/><circle cx="387.7" cy="478.2" r="0.42"/><circle cx="378.1" cy="479.2" r="0.44"/><circle cx="393.4" cy="480.5" r="0.52"/><circle cx="372.8" cy="491.5" r="0.39"/><circle cx="373.0" cy="489.1" r="0.68"/><circle cx="391.6" cy="479.3" r="0.72"/><circle cx="390.9" cy="515.2" r="0.74"/><circle cx="403.7" cy="514.9" r="0.50"/><circle cx="375.4" cy="479.1" r="0.35"/><circle cx="371.8" cy="488.9" r="0.74"/><circle cx="378.5" cy="480.8" r="0.49"/><circle cx="369.4" cy="500.3" r="0.77"/><circle cx="383.2" cy="475.9" r="0.55"/><circle cx="384.6" cy="514.7" r="0.51"/><circle cx="402.6" cy="515.6" r="0.58"/><circle cx="396.7" cy="516.6" r="0.72"/><circle cx="407.8" cy="487.7" r="0.78"/><circle cx="371.4" cy="500.0" r="0.50"/><circle cx="378.4" cy="508.5" r="0.42"/><circle cx="377.9" cy="506.7" r="0.75"/><circle cx="379.0" cy="481.0" r="0.49"/><circle cx="384.8" cy="514.3" r="0.53"/></g>
<path d="M404.54,508.70 C402.51,510.27 400.74,511.71 398.48,512.56 C396.22,513.42 393.59,513.96 391.00,513.81 C388.41,513.66 385.34,513.01 382.96,511.67 C380.57,510.33 378.48,507.96 376.71,505.77 C374.93,503.59 373.28,501.15 372.29,498.58 C371.31,496.00 370.49,492.88 370.80,490.33 C371.12,487.77 372.55,485.15 374.19,483.24 C375.84,481.32 378.19,479.20 380.68,478.84 C383.17,478.48 386.50,480.41 389.11,481.08 C391.72,481.74 393.74,481.99 396.34,482.84 C398.94,483.70 402.70,484.31 404.74,486.22 C406.77,488.13 407.58,491.50 408.56,494.32 C409.55,497.14 411.31,500.74 410.64,503.14 C409.96,505.53 406.56,507.13 404.54,508.70Z" fill="url(#g24)"/>
<g fill="#6a9a70" opacity="0.28"><circle cx="394.0" cy="494.1" r="0.45"/><circle cx="391.4" cy="489.6" r="0.52"/><circle cx="397.0" cy="499.4" r="0.46"/><circle cx="376.7" cy="495.4" r="0.51"/><circle cx="397.6" cy="491.8" r="0.63"/><circle cx="397.5" cy="492.1" r="0.57"/><circle cx="401.6" cy="491.4" r="0.53"/><circle cx="395.8" cy="489.7" r="0.50"/><circle cx="394.8" cy="505.8" r="0.51"/><circle cx="385.8" cy="499.0" r="0.66"/><circle cx="387.2" cy="505.5" r="0.46"/><circle cx="380.2" cy="486.7" r="0.42"/><circle cx="384.7" cy="496.6" r="0.53"/><circle cx="397.6" cy="501.4" r="0.41"/></g>
<g fill="#3a3aa8" opacity="0.55"><circle cx="384.6" cy="509.9" r="0.63"/><circle cx="376.1" cy="502.3" r="0.37"/><circle cx="390.0" cy="480.2" r="0.40"/><circle cx="399.2" cy="484.4" r="0.69"/><circle cx="405.7" cy="491.9" r="0.39"/><circle cx="392.2" cy="513.0" r="0.65"/><circle cx="384.5" cy="480.7" r="0.54"/><circle cx="394.1" cy="510.9" r="0.35"/><circle cx="397.5" cy="482.6" r="0.58"/><circle cx="375.6" cy="497.4" r="0.41"/><circle cx="397.4" cy="511.3" r="0.66"/><circle cx="396.0" cy="512.3" r="0.54"/></g>
<g fill="#7a7ad8" opacity="0.28"><circle cx="394.8" cy="489.7" r="0.52"/><circle cx="394.0" cy="493.7" r="0.39"/><circle cx="395.8" cy="494.6" r="0.51"/><circle cx="389.3" cy="501.5" r="0.65"/><circle cx="378.9" cy="498.4" r="0.61"/><circle cx="397.2" cy="499.9" r="0.39"/><circle cx="381.3" cy="498.7" r="0.65"/><circle cx="379.8" cy="498.5" r="0.48"/><circle cx="399.5" cy="502.0" r="0.42"/><circle cx="396.8" cy="508.8" r="0.66"/><circle cx="396.5" cy="499.7" r="0.39"/><circle cx="391.4" cy="487.4" r="0.54"/><circle cx="379.1" cy="487.9" r="0.35"/><circle cx="397.0" cy="506.2" r="0.68"/><circle cx="390.0" cy="490.1" r="0.41"/><circle cx="395.9" cy="498.5" r="0.42"/><circle cx="398.0" cy="490.9" r="0.51"/></g>
<g fill="#9090e0" opacity="0.55"><circle cx="404.6" cy="504.3" r="0.48"/><circle cx="381.4" cy="509.8" r="0.35"/><circle cx="376.2" cy="490.9" r="0.52"/><circle cx="382.7" cy="480.0" r="0.59"/><circle cx="400.0" cy="507.8" r="0.48"/><circle cx="403.2" cy="489.7" r="0.44"/><circle cx="375.1" cy="494.3" r="0.62"/><circle cx="390.1" cy="482.5" r="0.50"/><circle cx="402.3" cy="487.6" r="0.68"/><circle cx="385.6" cy="479.7" r="0.44"/><circle cx="390.0" cy="512.1" r="0.43"/><circle cx="376.5" cy="501.2" r="0.57"/><circle cx="388.4" cy="480.8" r="0.56"/><circle cx="402.0" cy="511.0" r="0.37"/><circle cx="395.1" cy="509.5" r="0.54"/><circle cx="390.4" cy="511.3" r="0.65"/><circle cx="393.6" cy="482.8" r="0.44"/></g>
<g fill="#4a48b8" opacity="0.55"><circle cx="377.3" cy="502.6" r="0.40"/><circle cx="404.8" cy="490.4" r="0.69"/><circle cx="376.7" cy="505.7" r="0.62"/><circle cx="389.4" cy="480.0" r="0.53"/><circle cx="382.7" cy="510.3" r="0.63"/><circle cx="376.6" cy="500.0" r="0.42"/><circle cx="403.9" cy="503.1" r="0.67"/><circle cx="399.0" cy="484.7" r="0.58"/><circle cx="395.2" cy="513.8" r="0.52"/><circle cx="387.5" cy="511.0" r="0.67"/><circle cx="381.9" cy="482.3" r="0.53"/><circle cx="375.2" cy="487.5" r="0.43"/><circle cx="380.0" cy="507.7" r="0.53"/><circle cx="394.7" cy="484.0" r="0.62"/><circle cx="382.8" cy="507.7" r="0.59"/></g>
<g fill="#4a4ab8" opacity="0.28"><circle cx="388.4" cy="489.5" r="0.68"/><circle cx="392.7" cy="506.2" r="0.41"/><circle cx="389.1" cy="502.3" r="0.56"/><circle cx="392.1" cy="488.2" r="0.58"/><circle cx="393.0" cy="487.5" r="0.61"/><circle cx="391.1" cy="485.4" r="0.57"/><circle cx="395.6" cy="490.9" r="0.41"/><circle cx="392.7" cy="501.8" r="0.51"/><circle cx="392.9" cy="494.0" r="0.42"/><circle cx="400.8" cy="494.4" r="0.60"/><circle cx="383.5" cy="496.1" r="0.39"/><circle cx="379.9" cy="492.1" r="0.43"/><circle cx="399.6" cy="489.5" r="0.48"/><circle cx="393.2" cy="486.3" r="0.41"/><circle cx="394.0" cy="505.8" r="0.62"/><circle cx="391.5" cy="484.5" r="0.64"/><circle cx="391.3" cy="503.1" r="0.49"/><circle cx="384.5" cy="497.1" r="0.46"/><circle cx="398.4" cy="508.1" r="0.40"/><circle cx="398.1" cy="488.3" r="0.43"/><circle cx="376.8" cy="491.4" r="0.41"/></g>
<g fill="#9aaa40" opacity="0.28"><circle cx="401.1" cy="505.1" r="0.36"/><circle cx="383.5" cy="491.1" r="0.41"/><circle cx="378.2" cy="490.5" r="0.46"/><circle cx="388.9" cy="500.1" r="0.54"/><circle cx="403.0" cy="495.3" r="0.39"/><circle cx="377.6" cy="499.6" r="0.70"/><circle cx="399.8" cy="500.5" r="0.69"/><circle cx="384.2" cy="498.8" r="0.58"/><circle cx="394.4" cy="491.0" r="0.67"/><circle cx="401.6" cy="502.0" r="0.40"/><circle cx="395.3" cy="502.1" r="0.58"/><circle cx="390.7" cy="490.8" r="0.54"/><circle cx="386.9" cy="483.9" r="0.55"/><circle cx="396.7" cy="503.2" r="0.55"/><circle cx="377.3" cy="497.2" r="0.49"/><circle cx="388.8" cy="504.1" r="0.53"/><circle cx="387.1" cy="500.8" r="0.45"/><circle cx="387.4" cy="503.9" r="0.47"/><circle cx="384.4" cy="498.7" r="0.61"/><circle cx="386.8" cy="483.9" r="0.43"/><circle cx="387.8" cy="483.8" r="0.51"/><circle cx="397.8" cy="508.1" r="0.68"/><circle cx="380.1" cy="486.8" r="0.37"/></g>
<g fill="#7070d0" opacity="0.55"><circle cx="384.4" cy="479.7" r="0.43"/><circle cx="381.7" cy="482.0" r="0.46"/><circle cx="407.5" cy="495.5" r="0.67"/><circle cx="395.4" cy="513.0" r="0.48"/><circle cx="386.8" cy="479.6" r="0.58"/><circle cx="397.8" cy="484.7" r="0.48"/><circle cx="404.9" cy="502.3" r="0.52"/><circle cx="382.6" cy="481.0" r="0.39"/></g>
<g fill="#ffffff" opacity="0.55"><circle cx="403.4" cy="493.5" r="0.37"/><circle cx="392.8" cy="512.7" r="0.67"/><circle cx="402.5" cy="506.7" r="0.58"/><circle cx="375.6" cy="501.3" r="0.37"/><circle cx="396.5" cy="484.6" r="0.58"/><circle cx="375.8" cy="495.0" r="0.55"/><circle cx="380.3" cy="506.0" r="0.70"/><circle cx="375.9" cy="498.5" r="0.56"/><circle cx="404.9" cy="497.7" r="0.62"/><circle cx="390.5" cy="513.6" r="0.51"/><circle cx="407.3" cy="502.1" r="0.40"/><circle cx="389.8" cy="479.7" r="0.37"/><circle cx="374.1" cy="489.3" r="0.61"/><circle cx="405.9" cy="496.4" r="0.48"/><circle cx="403.8" cy="502.5" r="0.69"/></g>
<g fill="#5a62c8" opacity="0.28"><circle cx="392.0" cy="487.7" r="0.61"/><circle cx="400.6" cy="500.0" r="0.57"/><circle cx="388.9" cy="507.0" r="0.66"/><circle cx="396.2" cy="498.3" r="0.59"/><circle cx="394.2" cy="492.6" r="0.48"/><circle cx="377.1" cy="490.6" r="0.61"/><circle cx="384.2" cy="502.1" r="0.57"/><circle cx="376.4" cy="495.7" r="0.59"/><circle cx="394.8" cy="485.9" r="0.39"/><circle cx="392.9" cy="488.5" r="0.62"/><circle cx="377.9" cy="493.1" r="0.58"/><circle cx="393.5" cy="489.9" r="0.51"/><circle cx="401.3" cy="497.4" r="0.51"/><circle cx="398.6" cy="496.4" r="0.65"/><circle cx="379.2" cy="501.5" r="0.50"/><circle cx="395.8" cy="496.5" r="0.39"/><circle cx="390.0" cy="489.0" r="0.49"/><circle cx="396.4" cy="497.2" r="0.63"/></g>
<g fill="#3540b0" opacity="0.8"><circle cx="388.3" cy="492.3" r="0.42"/><circle cx="371.1" cy="487.4" r="0.50"/><circle cx="371.8" cy="488.3" r="0.67"/><circle cx="394.6" cy="513.7" r="0.71"/><circle cx="396.7" cy="515.8" r="0.36"/><circle cx="388.2" cy="512.9" r="0.72"/><circle cx="401.6" cy="511.2" r="0.56"/><circle cx="399.6" cy="512.8" r="0.70"/><circle cx="375.1" cy="487.5" r="0.64"/><circle cx="397.1" cy="515.5" r="0.53"/><circle cx="395.6" cy="499.4" r="0.47"/><circle cx="382.9" cy="507.9" r="0.73"/><circle cx="372.5" cy="490.4" r="0.69"/><circle cx="374.7" cy="486.0" r="0.64"/><circle cx="389.0" cy="513.7" r="0.71"/><circle cx="381.4" cy="488.1" r="0.40"/><circle cx="382.3" cy="509.9" r="0.52"/><circle cx="382.5" cy="489.6" r="0.42"/><circle cx="382.0" cy="486.7" r="0.60"/><circle cx="400.4" cy="509.5" r="0.70"/><circle cx="394.8" cy="516.4" r="0.50"/><circle cx="373.4" cy="493.9" r="0.75"/><circle cx="381.0" cy="506.0" r="0.61"/><circle cx="383.0" cy="488.4" r="0.41"/><circle cx="377.0" cy="503.3" r="0.56"/><circle cx="383.0" cy="487.4" r="0.45"/><circle cx="370.6" cy="488.5" r="0.55"/><circle cx="372.4" cy="492.7" r="0.66"/><circle cx="383.1" cy="489.8" r="0.59"/><circle cx="401.0" cy="511.4" r="0.77"/><circle cx="378.4" cy="486.7" r="0.72"/><circle cx="399.1" cy="506.3" r="0.50"/><circle cx="393.7" cy="494.7" r="0.60"/><circle cx="401.2" cy="505.7" r="0.74"/><circle cx="399.6" cy="502.9" r="0.46"/><circle cx="386.1" cy="491.0" r="0.71"/><circle cx="386.2" cy="490.6" r="0.53"/><circle cx="388.3" cy="512.1" r="0.76"/><circle cx="378.3" cy="488.1" r="0.72"/><circle cx="373.5" cy="497.6" r="0.36"/><circle cx="387.5" cy="512.1" r="0.36"/><circle cx="401.0" cy="509.5" r="0.56"/><circle cx="385.9" cy="489.2" r="0.47"/><circle cx="399.3" cy="504.4" r="0.62"/><circle cx="382.6" cy="509.9" r="0.60"/><circle cx="390.9" cy="515.4" r="0.57"/><circle cx="375.9" cy="499.9" r="0.43"/><circle cx="397.7" cy="515.5" r="0.71"/><circle cx="381.9" cy="509.2" r="0.58"/><circle cx="397.6" cy="512.9" r="0.58"/><circle cx="395.1" cy="496.4" r="0.42"/><circle cx="396.3" cy="499.8" r="0.59"/><circle cx="377.6" cy="488.8" r="0.68"/><circle cx="386.1" cy="511.6" r="0.67"/><circle cx="399.5" cy="516.1" r="0.77"/><circle cx="372.8" cy="489.1" r="0.79"/><circle cx="387.4" cy="490.1" r="0.53"/><circle cx="382.9" cy="488.9" r="0.67"/><circle cx="393.3" cy="495.1" r="0.39"/><circle cx="385.8" cy="489.3" r="0.48"/><circle cx="398.8" cy="516.1" r="0.40"/></g>
<path d="M399.89,513.48 C399.29,514.59 398.24,515.68 396.68,515.76 C395.11,515.84 392.59,515.09 390.50,513.95 C388.42,512.81 386.20,510.57 384.16,508.93 C382.11,507.28 379.79,505.87 378.22,504.09 C376.65,502.31 375.47,500.01 374.74,498.25 C374.01,496.49 373.95,494.99 373.85,493.53 C373.76,492.06 373.67,490.60 374.15,489.48 C374.62,488.36 375.33,487.06 376.71,486.81 C378.10,486.56 380.39,487.13 382.47,487.97 C384.55,488.81 387.30,490.14 389.20,491.85 C391.11,493.56 392.56,496.29 393.91,498.23 C395.26,500.18 396.24,501.71 397.29,503.53 C398.35,505.34 399.82,507.47 400.26,509.13 C400.69,510.79 400.48,512.38 399.89,513.48Z" fill="url(#g25)"/>
<g fill="#ffffff" opacity="0.55"><circle cx="397.7" cy="510.4" r="0.69"/><circle cx="392.9" cy="511.6" r="0.69"/><circle cx="385.1" cy="509.1" r="0.35"/><circle cx="393.5" cy="499.1" r="0.40"/><circle cx="382.3" cy="506.1" r="0.52"/><circle cx="381.7" cy="506.5" r="0.51"/><circle cx="394.8" cy="513.5" r="0.65"/><circle cx="381.5" cy="490.2" r="0.40"/></g>
<g fill="#4a48b8" opacity="0.55"><circle cx="399.7" cy="506.6" r="0.54"/><circle cx="393.4" cy="499.1" r="0.46"/></g>
<g fill="#5a62c8" opacity="0.28"><circle cx="395.3" cy="502.7" r="0.61"/><circle cx="395.4" cy="503.1" r="0.39"/><circle cx="393.8" cy="506.7" r="0.66"/><circle cx="386.3" cy="503.8" r="0.66"/><circle cx="387.9" cy="496.9" r="0.40"/><circle cx="387.4" cy="504.0" r="0.39"/><circle cx="391.8" cy="507.5" r="0.55"/><circle cx="390.1" cy="503.0" r="0.56"/><circle cx="386.4" cy="497.6" r="0.38"/><circle cx="376.4" cy="494.7" r="0.44"/><circle cx="392.3" cy="500.4" r="0.42"/><circle cx="381.2" cy="504.0" r="0.65"/><circle cx="389.6" cy="507.2" r="0.55"/><circle cx="386.4" cy="498.2" r="0.39"/></g>
<g fill="#3a3aa8" opacity="0.55"><circle cx="394.3" cy="500.3" r="0.69"/><circle cx="381.5" cy="491.2" r="0.62"/></g>
<g fill="#9aaa40" opacity="0.28"><circle cx="376.9" cy="492.2" r="0.62"/><circle cx="378.3" cy="500.2" r="0.59"/><circle cx="387.1" cy="494.4" r="0.47"/><circle cx="395.2" cy="504.0" r="0.36"/><circle cx="394.8" cy="502.9" r="0.38"/><circle cx="391.0" cy="498.2" r="0.45"/><circle cx="382.8" cy="499.7" r="0.54"/></g>
<g fill="#9090e0" opacity="0.55"><circle cx="376.4" cy="497.6" r="0.55"/><circle cx="383.2" cy="507.3" r="0.39"/><circle cx="374.4" cy="492.3" r="0.58"/><circle cx="374.8" cy="496.3" r="0.50"/><circle cx="375.8" cy="493.1" r="0.60"/></g>
<g fill="#6a9a70" opacity="0.28"><circle cx="394.5" cy="504.6" r="0.67"/><circle cx="396.5" cy="507.3" r="0.59"/><circle cx="386.7" cy="496.0" r="0.48"/><circle cx="389.7" cy="503.0" r="0.69"/><circle cx="389.6" cy="499.6" r="0.42"/><circle cx="392.5" cy="500.7" r="0.54"/><circle cx="392.2" cy="500.1" r="0.65"/></g>
<g fill="#4a4ab8" opacity="0.28"><circle cx="376.5" cy="494.5" r="0.38"/><circle cx="384.1" cy="506.0" r="0.47"/><circle cx="381.7" cy="503.2" r="0.48"/><circle cx="382.0" cy="494.2" r="0.46"/><circle cx="390.9" cy="498.2" r="0.68"/><circle cx="384.5" cy="502.9" r="0.53"/><circle cx="386.7" cy="507.2" r="0.51"/><circle cx="379.5" cy="491.9" r="0.54"/><circle cx="384.4" cy="504.8" r="0.40"/></g>
<g fill="#7a7ad8" opacity="0.28"><circle cx="391.4" cy="498.7" r="0.40"/><circle cx="380.6" cy="500.4" r="0.42"/><circle cx="395.9" cy="504.6" r="0.53"/><circle cx="387.7" cy="507.3" r="0.36"/><circle cx="391.8" cy="501.9" r="0.56"/><circle cx="377.8" cy="492.1" r="0.51"/><circle cx="391.3" cy="510.3" r="0.45"/><circle cx="392.0" cy="506.4" r="0.63"/><circle cx="383.1" cy="505.1" r="0.50"/><circle cx="386.3" cy="508.4" r="0.49"/><circle cx="389.6" cy="499.7" r="0.46"/></g>
<g fill="#7070d0" opacity="0.55"><circle cx="398.2" cy="503.2" r="0.48"/><circle cx="381.7" cy="506.9" r="0.45"/><circle cx="388.5" cy="493.3" r="0.58"/><circle cx="387.5" cy="492.4" r="0.51"/><circle cx="388.0" cy="492.7" r="0.46"/></g>
<g fill="#3540b0" opacity="0.8"><circle cx="366.4" cy="520.3" r="0.60"/><circle cx="359.7" cy="521.0" r="0.50"/><circle cx="360.1" cy="509.5" r="0.79"/><circle cx="355.3" cy="511.9" r="0.78"/><circle cx="355.0" cy="513.8" r="0.78"/><circle cx="362.2" cy="520.6" r="0.48"/><circle cx="354.0" cy="513.7" r="0.40"/><circle cx="360.5" cy="521.0" r="0.63"/><circle cx="365.7" cy="520.2" r="0.37"/><circle cx="367.5" cy="519.6" r="0.43"/><circle cx="354.9" cy="516.9" r="0.59"/><circle cx="366.3" cy="508.9" r="0.41"/><circle cx="366.0" cy="509.7" r="0.57"/><circle cx="356.0" cy="517.6" r="0.38"/><circle cx="359.2" cy="508.7" r="0.54"/><circle cx="354.4" cy="514.1" r="0.42"/><circle cx="359.7" cy="509.6" r="0.52"/><circle cx="360.9" cy="509.3" r="0.58"/><circle cx="368.9" cy="513.5" r="0.58"/><circle cx="360.0" cy="520.5" r="0.60"/><circle cx="363.5" cy="520.6" r="0.48"/><circle cx="361.0" cy="521.8" r="0.78"/><circle cx="363.5" cy="521.6" r="0.58"/><circle cx="360.2" cy="520.5" r="0.75"/><circle cx="366.5" cy="519.3" r="0.35"/><circle cx="362.8" cy="521.9" r="0.44"/><circle cx="362.2" cy="509.5" r="0.63"/><circle cx="369.1" cy="516.2" r="0.75"/><circle cx="364.4" cy="520.2" r="0.46"/><circle cx="367.1" cy="509.9" r="0.77"/><circle cx="364.3" cy="521.0" r="0.52"/></g>
<path d="M368.30,515.00 C368.17,515.85 368.10,516.62 367.75,517.37 C367.40,518.13 366.89,518.94 366.19,519.50 C365.49,520.07 364.51,520.46 363.53,520.76 C362.55,521.06 361.32,521.47 360.32,521.32 C359.31,521.16 358.28,520.45 357.51,519.83 C356.74,519.21 356.19,518.40 355.71,517.60 C355.22,516.79 354.52,515.83 354.61,515.00 C354.71,514.17 355.69,513.34 356.27,512.63 C356.84,511.93 357.37,511.34 358.07,510.77 C358.77,510.21 359.56,509.49 360.47,509.24 C361.38,508.99 362.44,509.21 363.52,509.28 C364.60,509.35 366.12,509.17 366.96,509.67 C367.80,510.17 368.33,511.41 368.56,512.29 C368.78,513.18 368.43,514.15 368.30,515.00Z" fill="url(#g26)"/>
<g fill="#3a3aa8" opacity="0.55"><circle cx="357.0" cy="512.4" r="0.48"/><circle cx="363.0" cy="519.7" r="0.63"/></g>
<g fill="#5a62c8" opacity="0.28"><circle cx="363.8" cy="513.4" r="0.50"/><circle cx="364.9" cy="516.1" r="0.58"/><circle cx="360.8" cy="516.1" r="0.61"/></g>
<g fill="#7a7ad8" opacity="0.28"><circle cx="363.7" cy="517.5" r="0.37"/><circle cx="364.5" cy="517.9" r="0.57"/><circle cx="360.9" cy="518.9" r="0.36"/><circle cx="358.3" cy="514.4" r="0.47"/></g>
<g fill="#6a9a70" opacity="0.28"><circle cx="359.6" cy="514.7" r="0.36"/></g>
<g fill="#4a48b8" opacity="0.55"><circle cx="365.9" cy="510.3" r="0.36"/></g>
<g fill="#ffffff" opacity="0.55"><circle cx="362.0" cy="520.0" r="0.70"/><circle cx="366.9" cy="511.6" r="0.57"/></g>
<g fill="#9090e0" opacity="0.55"><circle cx="366.0" cy="511.9" r="0.69"/><circle cx="368.4" cy="515.4" r="0.38"/></g>
<g fill="#9aaa40" opacity="0.28"><circle cx="363.9" cy="517.6" r="0.67"/><circle cx="358.6" cy="512.6" r="0.57"/><circle cx="358.5" cy="516.0" r="0.61"/><circle cx="363.0" cy="511.6" r="0.51"/></g>
<g fill="#4a4ab8" opacity="0.28"><circle cx="357.7" cy="516.1" r="0.70"/></g>
<g fill="#7070d0" opacity="0.55"><circle cx="355.3" cy="514.2" r="0.64"/></g>
<g fill="#3540b0" opacity="0.8"><circle cx="357.8" cy="524.7" r="0.64"/><circle cx="359.5" cy="529.8" r="0.74"/><circle cx="367.3" cy="510.2" r="0.70"/><circle cx="358.5" cy="533.7" r="0.75"/><circle cx="356.7" cy="526.4" r="0.79"/><circle cx="378.5" cy="535.4" r="0.79"/><circle cx="367.4" cy="512.9" r="0.75"/><circle cx="363.8" cy="536.9" r="0.47"/><circle cx="359.9" cy="519.3" r="0.42"/><circle cx="377.5" cy="536.5" r="0.59"/><circle cx="381.2" cy="517.2" r="0.41"/><circle cx="385.0" cy="519.7" r="0.52"/><circle cx="384.6" cy="519.0" r="0.60"/><circle cx="359.7" cy="531.4" r="0.39"/><circle cx="359.0" cy="527.9" r="0.63"/><circle cx="375.7" cy="510.6" r="0.61"/><circle cx="383.6" cy="524.3" r="0.76"/><circle cx="376.0" cy="535.9" r="0.39"/><circle cx="364.6" cy="514.7" r="0.53"/><circle cx="362.5" cy="534.6" r="0.76"/><circle cx="360.4" cy="531.9" r="0.61"/><circle cx="377.0" cy="535.6" r="0.55"/><circle cx="362.6" cy="535.7" r="0.37"/><circle cx="367.6" cy="538.7" r="0.45"/><circle cx="370.3" cy="510.0" r="0.41"/><circle cx="377.4" cy="536.2" r="0.42"/><circle cx="384.4" cy="521.7" r="0.45"/><circle cx="358.5" cy="528.5" r="0.48"/><circle cx="364.5" cy="512.7" r="0.37"/><circle cx="379.9" cy="512.4" r="0.47"/><circle cx="364.1" cy="511.4" r="0.49"/><circle cx="382.7" cy="516.6" r="0.50"/><circle cx="378.3" cy="512.5" r="0.78"/><circle cx="382.2" cy="532.0" r="0.59"/><circle cx="369.2" cy="540.3" r="0.47"/><circle cx="369.5" cy="511.9" r="0.71"/><circle cx="382.4" cy="515.9" r="0.58"/><circle cx="359.8" cy="519.2" r="0.67"/><circle cx="386.4" cy="523.0" r="0.61"/><circle cx="377.5" cy="512.5" r="0.68"/><circle cx="362.5" cy="535.9" r="0.44"/><circle cx="361.8" cy="512.7" r="0.45"/><circle cx="358.6" cy="516.4" r="0.40"/><circle cx="372.6" cy="511.2" r="0.61"/><circle cx="383.7" cy="517.7" r="0.47"/><circle cx="385.3" cy="519.7" r="0.61"/><circle cx="362.3" cy="534.4" r="0.76"/><circle cx="365.0" cy="513.3" r="0.76"/><circle cx="366.8" cy="512.8" r="0.45"/><circle cx="362.8" cy="515.6" r="0.62"/><circle cx="367.6" cy="512.6" r="0.58"/><circle cx="385.0" cy="528.7" r="0.39"/><circle cx="378.4" cy="537.7" r="0.41"/><circle cx="365.0" cy="514.0" r="0.68"/><circle cx="364.7" cy="538.5" r="0.48"/><circle cx="357.5" cy="524.3" r="0.55"/><circle cx="377.0" cy="539.1" r="0.73"/><circle cx="361.9" cy="533.6" r="0.50"/><circle cx="364.8" cy="511.8" r="0.37"/><circle cx="371.0" cy="537.9" r="0.62"/><circle cx="355.5" cy="526.2" r="0.72"/><circle cx="359.0" cy="533.2" r="0.69"/></g>
<path d="M384.84,525.00 C384.88,526.91 384.01,529.12 383.03,530.80 C382.06,532.47 380.53,533.88 379.01,535.05 C377.49,536.22 375.68,537.61 373.92,537.80 C372.16,538.00 370.20,536.76 368.44,536.22 C366.67,535.69 365.16,535.40 363.34,534.61 C361.51,533.82 358.64,533.10 357.50,531.50 C356.35,529.90 356.17,527.03 356.46,525.00 C356.76,522.97 358.10,520.92 359.26,519.35 C360.43,517.77 361.96,516.57 363.46,515.55 C364.97,514.53 366.59,513.65 368.31,513.21 C370.03,512.77 371.83,512.79 373.76,512.89 C375.70,512.99 378.41,512.74 379.92,513.82 C381.42,514.89 381.96,517.46 382.78,519.33 C383.60,521.19 384.80,523.09 384.84,525.00Z" fill="url(#g27)"/>
<g fill="#4a48b8" opacity="0.55"><circle cx="379.5" cy="515.8" r="0.39"/><circle cx="359.0" cy="523.5" r="0.43"/><circle cx="381.1" cy="532.1" r="0.35"/><circle cx="382.0" cy="524.2" r="0.61"/><circle cx="363.2" cy="516.7" r="0.60"/><circle cx="373.2" cy="514.5" r="0.50"/><circle cx="381.0" cy="518.8" r="0.43"/><circle cx="378.5" cy="515.6" r="0.55"/></g>
<g fill="#4a4ab8" opacity="0.28"><circle cx="374.3" cy="519.4" r="0.69"/><circle cx="378.7" cy="522.1" r="0.51"/><circle cx="371.8" cy="519.4" r="0.68"/><circle cx="370.1" cy="529.8" r="0.44"/><circle cx="372.6" cy="518.9" r="0.67"/><circle cx="368.7" cy="521.6" r="0.43"/><circle cx="374.4" cy="516.7" r="0.63"/><circle cx="370.7" cy="518.4" r="0.38"/></g>
<g fill="#5a62c8" opacity="0.28"><circle cx="373.9" cy="521.2" r="0.50"/><circle cx="370.7" cy="519.8" r="0.57"/><circle cx="379.0" cy="530.5" r="0.62"/><circle cx="369.1" cy="521.0" r="0.51"/><circle cx="379.9" cy="525.5" r="0.53"/><circle cx="371.2" cy="532.0" r="0.53"/><circle cx="378.2" cy="524.7" r="0.51"/><circle cx="377.2" cy="532.1" r="0.57"/><circle cx="365.4" cy="519.2" r="0.51"/><circle cx="378.3" cy="523.2" r="0.56"/></g>
<g fill="#6a9a70" opacity="0.28"><circle cx="370.0" cy="529.0" r="0.50"/><circle cx="363.7" cy="520.7" r="0.61"/><circle cx="369.2" cy="528.3" r="0.43"/><circle cx="366.8" cy="526.5" r="0.58"/><circle cx="365.5" cy="521.9" r="0.47"/><circle cx="378.0" cy="524.9" r="0.61"/><circle cx="378.6" cy="527.2" r="0.45"/><circle cx="364.1" cy="523.5" r="0.67"/><circle cx="365.8" cy="521.5" r="0.66"/></g>
<g fill="#7a7ad8" opacity="0.28"><circle cx="380.1" cy="527.3" r="0.70"/><circle cx="374.1" cy="517.8" r="0.66"/><circle cx="370.5" cy="533.2" r="0.56"/><circle cx="366.3" cy="522.6" r="0.36"/><circle cx="374.6" cy="527.2" r="0.55"/><circle cx="361.9" cy="525.4" r="0.51"/><circle cx="372.3" cy="530.6" r="0.49"/><circle cx="367.9" cy="531.7" r="0.62"/><circle cx="364.6" cy="521.9" r="0.50"/><circle cx="366.6" cy="533.4" r="0.41"/><circle cx="378.0" cy="520.0" r="0.66"/><circle cx="364.4" cy="519.0" r="0.35"/></g>
<g fill="#7070d0" opacity="0.55"><circle cx="367.5" cy="534.3" r="0.41"/><circle cx="364.2" cy="515.5" r="0.38"/><circle cx="380.1" cy="517.6" r="0.66"/><circle cx="380.3" cy="520.2" r="0.41"/><circle cx="364.8" cy="535.2" r="0.41"/><circle cx="362.7" cy="534.5" r="0.46"/><circle cx="359.7" cy="525.6" r="0.37"/><circle cx="365.3" cy="533.0" r="0.67"/></g>
<g fill="#9aaa40" opacity="0.28"><circle cx="373.3" cy="523.0" r="0.36"/><circle cx="371.4" cy="528.1" r="0.52"/><circle cx="373.0" cy="530.4" r="0.53"/><circle cx="371.4" cy="534.3" r="0.52"/><circle cx="366.2" cy="526.6" r="0.39"/><circle cx="363.3" cy="527.8" r="0.51"/><circle cx="362.0" cy="523.4" r="0.67"/><circle cx="367.6" cy="522.2" r="0.66"/><circle cx="362.2" cy="524.8" r="0.38"/><circle cx="372.6" cy="517.4" r="0.64"/><circle cx="363.6" cy="524.1" r="0.70"/></g>
<g fill="#ffffff" opacity="0.55"><circle cx="359.0" cy="523.3" r="0.67"/><circle cx="378.7" cy="531.3" r="0.41"/><circle cx="381.8" cy="528.7" r="0.49"/></g>
<g fill="#9090e0" opacity="0.55"><circle cx="367.1" cy="536.7" r="0.66"/><circle cx="375.8" cy="535.9" r="0.69"/><circle cx="383.0" cy="526.2" r="0.37"/><circle cx="370.5" cy="514.4" r="0.52"/><circle cx="377.7" cy="516.9" r="0.46"/><circle cx="369.3" cy="537.3" r="0.54"/><circle cx="364.7" cy="516.7" r="0.48"/></g>
<g fill="#3a3aa8" opacity="0.55"><circle cx="364.4" cy="535.6" r="0.51"/><circle cx="378.6" cy="515.9" r="0.66"/><circle cx="363.2" cy="518.9" r="0.38"/><circle cx="360.7" cy="528.8" r="0.53"/><circle cx="369.0" cy="535.1" r="0.41"/><circle cx="381.9" cy="530.4" r="0.37"/><circle cx="374.9" cy="513.2" r="0.66"/><circle cx="369.6" cy="536.9" r="0.62"/></g>
<g fill="#3540b0" opacity="0.8"><circle cx="358.1" cy="537.3" r="0.80"/><circle cx="350.8" cy="522.7" r="0.41"/><circle cx="334.7" cy="530.7" r="0.79"/><circle cx="358.2" cy="531.2" r="0.65"/><circle cx="341.7" cy="523.7" r="0.49"/><circle cx="354.2" cy="526.0" r="0.51"/><circle cx="347.0" cy="523.8" r="0.48"/><circle cx="350.3" cy="543.2" r="0.79"/><circle cx="347.8" cy="543.7" r="0.72"/><circle cx="344.0" cy="522.5" r="0.58"/><circle cx="336.3" cy="531.1" r="0.51"/><circle cx="342.9" cy="541.5" r="0.52"/><circle cx="355.0" cy="525.0" r="0.67"/><circle cx="353.1" cy="543.1" r="0.60"/><circle cx="337.7" cy="528.1" r="0.66"/><circle cx="339.6" cy="523.8" r="0.42"/><circle cx="346.9" cy="523.8" r="0.50"/><circle cx="352.2" cy="524.0" r="0.38"/><circle cx="351.3" cy="524.6" r="0.68"/><circle cx="338.8" cy="523.7" r="0.63"/><circle cx="335.0" cy="534.4" r="0.79"/><circle cx="359.2" cy="536.4" r="0.41"/><circle cx="336.2" cy="527.4" r="0.45"/><circle cx="346.8" cy="523.1" r="0.46"/><circle cx="339.1" cy="522.7" r="0.77"/><circle cx="343.5" cy="521.8" r="0.50"/><circle cx="337.5" cy="533.0" r="0.56"/><circle cx="354.0" cy="525.5" r="0.46"/><circle cx="341.7" cy="539.8" r="0.75"/><circle cx="349.7" cy="522.4" r="0.62"/><circle cx="343.1" cy="540.1" r="0.43"/><circle cx="345.2" cy="542.0" r="0.50"/><circle cx="349.9" cy="541.4" r="0.70"/><circle cx="358.2" cy="532.0" r="0.39"/><circle cx="336.9" cy="532.2" r="0.49"/><circle cx="339.7" cy="537.3" r="0.35"/><circle cx="337.6" cy="534.3" r="0.44"/><circle cx="359.3" cy="538.7" r="0.76"/><circle cx="349.5" cy="522.7" r="0.64"/><circle cx="336.7" cy="525.3" r="0.60"/><circle cx="335.5" cy="530.2" r="0.60"/><circle cx="343.5" cy="541.9" r="0.36"/><circle cx="350.7" cy="543.5" r="0.52"/><circle cx="350.5" cy="524.5" r="0.37"/><circle cx="339.9" cy="538.5" r="0.72"/><circle cx="342.2" cy="521.7" r="0.65"/><circle cx="358.1" cy="530.0" r="0.69"/><circle cx="356.9" cy="527.4" r="0.77"/><circle cx="359.9" cy="531.7" r="0.36"/></g>
<path d="M357.44,537.13 C356.96,538.35 356.57,539.99 355.44,540.62 C354.30,541.24 352.18,540.81 350.64,540.88 C349.10,540.96 347.77,541.24 346.18,541.06 C344.59,540.87 342.62,540.61 341.10,539.80 C339.58,538.99 337.98,537.56 337.05,536.19 C336.11,534.83 335.40,532.97 335.50,531.59 C335.59,530.20 336.67,528.81 337.63,527.90 C338.58,526.98 340.15,526.82 341.23,526.09 C342.31,525.35 342.85,523.95 344.13,523.50 C345.40,523.04 347.32,523.04 348.90,523.38 C350.49,523.72 352.21,524.58 353.63,525.51 C355.05,526.45 356.63,527.70 357.40,529.00 C358.18,530.30 358.27,531.96 358.28,533.32 C358.28,534.68 357.91,535.92 357.44,537.13Z" fill="url(#g28)"/>
<g fill="#4a4ab8" opacity="0.28"><circle cx="344.5" cy="532.7" r="0.54"/><circle cx="343.5" cy="528.4" r="0.46"/><circle cx="348.3" cy="528.6" r="0.36"/><circle cx="355.0" cy="535.0" r="0.65"/><circle cx="346.2" cy="526.4" r="0.38"/><circle cx="343.3" cy="527.7" r="0.67"/></g>
<g fill="#ffffff" opacity="0.55"><circle cx="347.2" cy="524.2" r="0.61"/><circle cx="348.2" cy="524.4" r="0.59"/><circle cx="337.4" cy="528.7" r="0.37"/></g>
<g fill="#7a7ad8" opacity="0.28"><circle cx="350.6" cy="536.9" r="0.52"/><circle cx="343.3" cy="537.1" r="0.42"/><circle cx="342.1" cy="535.8" r="0.51"/><circle cx="352.1" cy="532.5" r="0.54"/><circle cx="347.6" cy="530.0" r="0.36"/><circle cx="344.5" cy="535.6" r="0.51"/><circle cx="342.0" cy="534.3" r="0.43"/><circle cx="348.6" cy="530.5" r="0.38"/><circle cx="343.0" cy="532.5" r="0.40"/></g>
<g fill="#6a9a70" opacity="0.28"><circle cx="341.5" cy="536.2" r="0.56"/><circle cx="351.7" cy="530.7" r="0.50"/><circle cx="354.3" cy="533.0" r="0.50"/><circle cx="341.5" cy="535.5" r="0.68"/></g>
<g fill="#9090e0" opacity="0.55"><circle cx="347.4" cy="540.6" r="0.38"/><circle cx="352.1" cy="540.9" r="0.44"/><circle cx="355.9" cy="538.2" r="0.64"/><circle cx="345.4" cy="525.3" r="0.36"/><circle cx="354.0" cy="526.9" r="0.64"/></g>
<g fill="#3a3aa8" opacity="0.55"><circle cx="349.6" cy="524.7" r="0.65"/><circle cx="347.6" cy="541.3" r="0.44"/><circle cx="350.4" cy="525.1" r="0.41"/><circle cx="354.8" cy="539.1" r="0.65"/><circle cx="352.6" cy="540.5" r="0.40"/><circle cx="341.6" cy="538.5" r="0.63"/></g>
<g fill="#9aaa40" opacity="0.28"><circle cx="351.4" cy="530.6" r="0.50"/><circle cx="344.4" cy="526.2" r="0.39"/><circle cx="355.5" cy="532.5" r="0.46"/><circle cx="349.8" cy="531.7" r="0.52"/><circle cx="348.5" cy="528.9" r="0.64"/><circle cx="352.1" cy="534.8" r="0.64"/><circle cx="346.5" cy="536.9" r="0.44"/></g>
<g fill="#7070d0" opacity="0.55"><circle cx="341.2" cy="526.7" r="0.49"/><circle cx="347.7" cy="523.4" r="0.59"/><circle cx="339.6" cy="527.0" r="0.40"/><circle cx="355.3" cy="537.1" r="0.67"/><circle cx="349.0" cy="541.0" r="0.39"/><circle cx="354.3" cy="538.7" r="0.39"/></g>
<g fill="#5a62c8" opacity="0.28"><circle cx="347.6" cy="528.2" r="0.46"/><circle cx="345.1" cy="535.7" r="0.42"/></g>
<g fill="#4a48b8" opacity="0.55"><circle cx="341.7" cy="536.7" r="0.41"/><circle cx="350.2" cy="540.0" r="0.53"/><circle cx="342.1" cy="538.5" r="0.38"/></g>
<circle cx="344.8" cy="481" r="2.6" fill="#d04a1a" opacity="0.9" filter="url(#bl1)"/>
<circle cx="377.5" cy="491" r="3.0" fill="#d0401a" opacity="0.9" filter="url(#bl1)"/>
<circle cx="381" cy="494.5" r="2.5" fill="#d85018" opacity="0.9" filter="url(#bl1)"/>
</g>
<rect x="317.1" y="458.1" width="20.6" height="11.3" fill="#fff" stroke="#333" stroke-width="1.1"/>
<text x="327.5" y="467.0" font-size="8.3" fill="#222" stroke="#222" stroke-width="0.12" text-anchor="middle" textLength="9.2" lengthAdjust="spacingAndGlyphs" >T2</text>
<path transform="translate(178.4,484.9) rotate(41.0)" d="M-5,0 L34.3,0 A19.6 14.5 0 0 1 -5,0" fill="none" stroke="#1a1a1a" stroke-width="1.0" stroke-dasharray="2.2,1.3"/>
<line x1="193.1" y1="514.5" x2="192.2" y2="536.0" stroke="#222" stroke-width="0.9" />
<text x="189.6" y="545.5" font-size="7.2" fill="#333" stroke="#333" stroke-width="0.12" text-anchor="middle" textLength="31.5" lengthAdjust="spacingAndGlyphs" >ICOS<tspan font-size="4.5" dy="-3">+</tspan><tspan dy="3">CD4</tspan><tspan font-size="4.5" dy="-3">+</tspan></text>
<text x="191.1" y="553.4" font-size="7.4" fill="#333" stroke="#333" stroke-width="0.12" text-anchor="middle" textLength="17.4" lengthAdjust="spacingAndGlyphs" >T cells</text>
<path transform="translate(280.3,485.8) rotate(45.0)" d="M-5,0 L35.0,0 A20.0 14.5 0 0 1 -5,0" fill="none" stroke="#1a1a1a" stroke-width="1.0" stroke-dasharray="2.2,1.3"/>
<line x1="295.1" y1="514.5" x2="294.2" y2="536.0" stroke="#222" stroke-width="0.9" />
<text x="290.3" y="545.5" font-size="7.2" fill="#333" stroke="#333" stroke-width="0.12" text-anchor="middle" textLength="31.5" lengthAdjust="spacingAndGlyphs" >ICOS<tspan font-size="4.5" dy="-3">+</tspan><tspan dy="3">CD4</tspan><tspan font-size="4.5" dy="-3">+</tspan></text>
<text x="291.8" y="553.4" font-size="7.4" fill="#333" stroke="#333" stroke-width="0.12" text-anchor="middle" textLength="17.4" lengthAdjust="spacingAndGlyphs" >T cells</text>
<path transform="translate(378.7,485.6) rotate(42.7)" d="M-5,0 L32.6,0 A18.8 14.5 0 0 1 -5,0" fill="none" stroke="#1a1a1a" stroke-width="1.0" stroke-dasharray="2.2,1.3"/>
<line x1="395.1" y1="514.5" x2="394.2" y2="536.0" stroke="#222" stroke-width="0.9" />
<text x="390.3" y="545.5" font-size="7.2" fill="#333" stroke="#333" stroke-width="0.12" text-anchor="middle" textLength="31.5" lengthAdjust="spacingAndGlyphs" >ICOS<tspan font-size="4.5" dy="-3">+</tspan><tspan dy="3">CD4</tspan><tspan font-size="4.5" dy="-3">+</tspan></text>
<text x="391.8" y="553.4" font-size="7.4" fill="#333" stroke="#333" stroke-width="0.12" text-anchor="middle" textLength="17.4" lengthAdjust="spacingAndGlyphs" >T cells</text>
<text x="159.6" y="453.4" font-size="8.5" fill="#333" stroke="#333" stroke-width="0.12" textLength="108.5" lengthAdjust="spacingAndGlyphs" >Increase ICOS<tspan font-size="5.5" dy="-3.5">+</tspan><tspan dy="3.5"> CD4</tspan><tspan font-size="5.5" dy="-3.5">+</tspan><tspan dy="3.5"> Tcells</tspan></text>
<rect x="363.4" y="560.2" width="31.8" height="5.6" fill="url(#cbar)"/>
<text x="347.7" y="565.5" font-size="7.6" fill="#333" stroke="#333" stroke-width="0.12" textLength="12.3" lengthAdjust="spacingAndGlyphs" >min</text>
<text x="398.2" y="565.5" font-size="7.6" fill="#333" stroke="#333" stroke-width="0.12" textLength="14.1" lengthAdjust="spacingAndGlyphs" >max</text>
<rect x="14.9" y="458.1" width="97.2" height="96.6" fill="#fff" stroke="#333" stroke-width="1.1"/>
<g filter="url(#speckS)">
<path d="M66.52,481.00 C66.42,483.09 64.53,485.46 63.15,487.11 C61.77,488.77 59.90,489.81 58.22,490.95 C56.54,492.09 54.96,493.40 53.06,493.96 C51.17,494.53 48.99,494.52 46.85,494.34 C44.71,494.15 42.07,493.95 40.23,492.83 C38.38,491.71 36.54,489.59 35.76,487.62 C34.98,485.65 35.33,483.11 35.53,481.00 C35.74,478.89 36.14,476.84 37.00,474.96 C37.86,473.08 39.03,470.86 40.69,469.73 C42.36,468.61 44.91,468.48 46.97,468.20 C49.04,467.91 51.09,467.67 53.07,468.03 C55.04,468.38 57.05,469.21 58.83,470.31 C60.61,471.40 62.48,472.82 63.77,474.60 C65.05,476.38 66.63,478.91 66.52,481.00Z" fill="#c6a2b2"/>
<g fill="#ffffff" opacity="0.0"><circle cx="45.2" cy="485.3" r="0.37"/><circle cx="59.0" cy="475.8" r="0.58"/><circle cx="41.9" cy="478.3" r="0.59"/><circle cx="39.2" cy="475.6" r="0.56"/><circle cx="54.9" cy="473.5" r="0.36"/><circle cx="56.9" cy="490.1" r="0.37"/><circle cx="43.9" cy="472.4" r="0.32"/><circle cx="50.5" cy="478.6" r="0.65"/><circle cx="53.5" cy="475.8" r="0.59"/><circle cx="49.5" cy="476.3" r="0.57"/><circle cx="59.4" cy="489.9" r="0.58"/><circle cx="53.2" cy="480.6" r="0.43"/><circle cx="42.2" cy="473.9" r="0.37"/><circle cx="59.6" cy="473.1" r="0.42"/><circle cx="56.8" cy="489.6" r="0.46"/><circle cx="45.0" cy="473.0" r="0.46"/><circle cx="55.0" cy="481.7" r="0.48"/><circle cx="48.8" cy="472.4" r="0.60"/><circle cx="37.5" cy="477.9" r="0.56"/><circle cx="47.8" cy="485.5" r="0.33"/><circle cx="62.4" cy="484.0" r="0.65"/><circle cx="50.0" cy="476.6" r="0.56"/><circle cx="59.0" cy="490.0" r="0.56"/><circle cx="50.0" cy="470.6" r="0.47"/><circle cx="57.8" cy="470.4" r="0.40"/><circle cx="39.1" cy="485.4" r="0.57"/><circle cx="42.2" cy="485.7" r="0.69"/><circle cx="49.0" cy="487.0" r="0.57"/><circle cx="47.8" cy="493.4" r="0.43"/><circle cx="57.5" cy="477.3" r="0.65"/><circle cx="50.1" cy="469.6" r="0.39"/><circle cx="51.2" cy="483.0" r="0.37"/><circle cx="48.3" cy="478.1" r="0.39"/><circle cx="45.1" cy="478.9" r="0.43"/><circle cx="51.5" cy="491.8" r="0.35"/><circle cx="60.6" cy="480.8" r="0.59"/><circle cx="40.8" cy="478.0" r="0.69"/><circle cx="59.8" cy="473.5" r="0.31"/><circle cx="38.7" cy="474.1" r="0.56"/><circle cx="38.9" cy="480.1" r="0.37"/><circle cx="48.3" cy="469.4" r="0.33"/><circle cx="39.4" cy="480.4" r="0.44"/><circle cx="44.5" cy="469.4" r="0.66"/><circle cx="48.1" cy="485.8" r="0.64"/><circle cx="40.4" cy="473.2" r="0.65"/><circle cx="48.1" cy="491.0" r="0.42"/><circle cx="53.4" cy="470.4" r="0.40"/><circle cx="39.4" cy="481.0" r="0.39"/><circle cx="53.9" cy="489.3" r="0.33"/><circle cx="36.7" cy="481.4" r="0.63"/></g>
<path d="M49.85,494.92 C49.50,495.46 48.66,495.67 47.71,495.61 C46.75,495.56 45.45,495.17 44.10,494.57 C42.75,493.97 41.04,493.13 39.61,492.01 C38.18,490.89 36.87,489.27 35.51,487.85 C34.14,486.44 32.30,484.84 31.43,483.54 C30.57,482.24 30.23,480.85 30.30,480.05 C30.37,479.24 31.28,479.07 31.85,478.71 C32.41,478.35 32.81,477.84 33.69,477.89 C34.58,477.94 35.88,478.46 37.15,479.01 C38.43,479.56 39.84,480.19 41.36,481.17 C42.88,482.16 45.01,483.57 46.30,484.93 C47.59,486.28 48.49,488.05 49.08,489.30 C49.66,490.54 49.68,491.45 49.81,492.39 C49.94,493.33 50.20,494.38 49.85,494.92Z" fill="#6a1d98"/>
<g fill="#ffffff" opacity="0.0"><circle cx="39.9" cy="485.3" r="0.41"/><circle cx="39.3" cy="490.4" r="0.57"/><circle cx="43.1" cy="487.8" r="0.47"/><circle cx="44.5" cy="490.6" r="0.50"/><circle cx="44.3" cy="490.4" r="0.56"/><circle cx="36.7" cy="482.4" r="0.54"/><circle cx="41.0" cy="486.5" r="0.62"/><circle cx="40.4" cy="483.2" r="0.36"/><circle cx="46.1" cy="490.6" r="0.34"/><circle cx="45.9" cy="494.4" r="0.54"/><circle cx="45.6" cy="486.4" r="0.51"/><circle cx="46.4" cy="491.2" r="0.52"/><circle cx="46.0" cy="487.4" r="0.64"/><circle cx="34.8" cy="479.1" r="0.32"/></g>
<path d="M47.37,502.40 C47.16,503.94 46.76,505.54 45.88,506.76 C45.00,507.98 43.44,508.84 42.10,509.73 C40.75,510.63 39.44,511.63 37.82,512.14 C36.21,512.65 34.09,513.09 32.40,512.80 C30.71,512.50 29.15,511.34 27.68,510.39 C26.22,509.45 24.69,508.45 23.64,507.12 C22.59,505.79 21.35,503.96 21.39,502.40 C21.42,500.84 22.80,499.09 23.86,497.77 C24.92,496.45 26.29,495.29 27.76,494.48 C29.22,493.68 30.97,493.25 32.65,492.93 C34.33,492.60 36.03,492.44 37.86,492.53 C39.68,492.62 42.05,492.63 43.60,493.47 C45.15,494.30 46.51,496.04 47.14,497.52 C47.77,499.01 47.58,500.86 47.37,502.40Z" fill="#8cc63e"/>
<g fill="#ffffff" opacity="0.0"><circle cx="27.9" cy="506.4" r="0.64"/><circle cx="37.7" cy="506.7" r="0.31"/><circle cx="36.0" cy="503.0" r="0.36"/><circle cx="23.4" cy="501.5" r="0.58"/><circle cx="29.7" cy="506.8" r="0.58"/><circle cx="33.7" cy="504.8" r="0.64"/><circle cx="32.3" cy="500.1" r="0.33"/><circle cx="44.8" cy="507.9" r="0.34"/><circle cx="27.0" cy="495.4" r="0.31"/><circle cx="29.0" cy="507.0" r="0.67"/><circle cx="37.5" cy="507.1" r="0.40"/><circle cx="44.5" cy="504.9" r="0.63"/><circle cx="33.1" cy="503.2" r="0.59"/><circle cx="34.4" cy="494.3" r="0.43"/><circle cx="39.8" cy="495.4" r="0.54"/><circle cx="29.7" cy="501.2" r="0.48"/><circle cx="37.9" cy="494.4" r="0.44"/><circle cx="39.8" cy="494.1" r="0.32"/><circle cx="38.3" cy="506.4" r="0.31"/><circle cx="35.4" cy="494.3" r="0.52"/><circle cx="42.3" cy="502.2" r="0.38"/><circle cx="40.5" cy="506.2" r="0.64"/><circle cx="32.9" cy="500.9" r="0.47"/><circle cx="44.1" cy="504.8" r="0.35"/><circle cx="39.3" cy="509.7" r="0.63"/><circle cx="30.5" cy="498.7" r="0.56"/><circle cx="35.1" cy="503.2" r="0.41"/><circle cx="31.6" cy="495.0" r="0.38"/><circle cx="41.0" cy="494.7" r="0.41"/><circle cx="41.1" cy="501.1" r="0.33"/><circle cx="24.2" cy="501.7" r="0.54"/><circle cx="27.3" cy="500.4" r="0.41"/><circle cx="32.9" cy="508.5" r="0.52"/></g>
<path d="M65.39,502.02 C65.46,503.24 64.98,504.63 64.48,505.68 C63.98,506.74 63.10,507.48 62.37,508.35 C61.63,509.22 61.03,510.42 60.08,510.91 C59.12,511.40 57.76,511.38 56.65,511.28 C55.54,511.17 54.50,510.73 53.42,510.27 C52.34,509.81 50.90,509.40 50.18,508.51 C49.45,507.61 49.32,506.13 49.09,504.90 C48.85,503.66 48.45,502.23 48.76,501.10 C49.08,499.96 50.09,498.81 50.98,498.06 C51.88,497.31 53.07,496.97 54.13,496.60 C55.19,496.22 56.23,495.88 57.34,495.83 C58.46,495.77 59.72,495.84 60.83,496.26 C61.94,496.68 63.25,497.40 64.01,498.36 C64.77,499.32 65.31,500.80 65.39,502.02Z" fill="#2e6a2a"/>
<g fill="#ffffff" opacity="0.0"><circle cx="57.2" cy="508.9" r="0.33"/><circle cx="56.2" cy="505.4" r="0.30"/><circle cx="56.9" cy="506.2" r="0.42"/><circle cx="56.7" cy="502.1" r="0.55"/><circle cx="62.3" cy="507.8" r="0.59"/><circle cx="59.9" cy="510.1" r="0.59"/><circle cx="61.6" cy="505.0" r="0.58"/><circle cx="59.5" cy="501.5" r="0.40"/><circle cx="56.8" cy="495.9" r="0.34"/><circle cx="63.1" cy="506.1" r="0.43"/><circle cx="52.5" cy="509.1" r="0.60"/><circle cx="52.2" cy="498.1" r="0.59"/><circle cx="58.2" cy="497.4" r="0.54"/><circle cx="64.1" cy="505.0" r="0.66"/><circle cx="54.3" cy="509.0" r="0.31"/><circle cx="51.1" cy="504.5" r="0.42"/></g>
<path d="M73.74,507.26 C73.87,507.82 73.45,508.64 73.14,509.42 C72.83,510.20 72.71,511.01 71.86,511.94 C71.01,512.87 69.47,514.02 68.06,515.02 C66.65,516.01 64.86,517.27 63.40,517.91 C61.94,518.55 60.36,518.78 59.29,518.88 C58.21,518.99 57.77,518.62 56.96,518.54 C56.16,518.46 55.06,518.65 54.45,518.40 C53.83,518.15 53.12,517.75 53.28,517.03 C53.44,516.31 54.38,515.11 55.43,514.10 C56.48,513.09 58.11,511.93 59.57,510.99 C61.02,510.06 62.72,509.11 64.17,508.49 C65.61,507.86 66.87,507.62 68.23,507.23 C69.59,506.83 71.39,506.09 72.31,506.10 C73.22,506.11 73.60,506.71 73.74,507.26Z" fill="#4a92dc"/>
<g fill="#ffffff" opacity="0.0"><circle cx="67.6" cy="509.1" r="0.54"/><circle cx="66.0" cy="510.2" r="0.51"/><circle cx="55.0" cy="516.1" r="0.31"/><circle cx="69.1" cy="510.9" r="0.63"/><circle cx="65.2" cy="510.9" r="0.67"/><circle cx="54.3" cy="517.8" r="0.67"/><circle cx="72.6" cy="510.2" r="0.49"/><circle cx="68.4" cy="512.7" r="0.33"/><circle cx="62.4" cy="510.7" r="0.34"/><circle cx="66.1" cy="514.6" r="0.61"/></g>
<path d="M83.69,527.30 C83.31,529.02 81.78,530.60 80.63,532.01 C79.48,533.42 78.37,534.83 76.81,535.76 C75.24,536.69 73.21,537.16 71.26,537.59 C69.31,538.01 67.15,538.53 65.12,538.34 C63.10,538.14 60.70,537.46 59.12,536.43 C57.54,535.40 56.52,533.66 55.63,532.14 C54.73,530.62 54.03,529.02 53.75,527.30 C53.47,525.58 52.97,523.25 53.95,521.82 C54.93,520.38 57.75,519.51 59.64,518.69 C61.53,517.86 63.32,517.26 65.29,516.85 C67.27,516.44 69.44,516.03 71.48,516.24 C73.53,516.44 75.67,517.16 77.58,518.07 C79.49,518.98 81.91,520.18 82.93,521.71 C83.94,523.25 84.07,525.58 83.69,527.30Z" fill="#e4a036"/>
<g fill="#ffffff" opacity="0.0"><circle cx="62.9" cy="533.0" r="0.48"/><circle cx="62.8" cy="533.8" r="0.46"/><circle cx="76.9" cy="529.1" r="0.31"/><circle cx="74.0" cy="530.7" r="0.69"/><circle cx="58.2" cy="528.2" r="0.67"/><circle cx="76.6" cy="522.4" r="0.39"/><circle cx="60.1" cy="526.3" r="0.68"/><circle cx="76.5" cy="528.7" r="0.58"/><circle cx="60.0" cy="522.5" r="0.60"/><circle cx="69.2" cy="537.3" r="0.67"/><circle cx="76.1" cy="528.7" r="0.45"/><circle cx="60.8" cy="532.7" r="0.40"/><circle cx="60.6" cy="519.1" r="0.67"/><circle cx="71.9" cy="523.1" r="0.60"/><circle cx="69.8" cy="518.9" r="0.57"/><circle cx="65.6" cy="536.6" r="0.40"/><circle cx="61.7" cy="525.4" r="0.51"/><circle cx="75.7" cy="528.8" r="0.61"/><circle cx="67.5" cy="536.6" r="0.62"/><circle cx="59.7" cy="521.9" r="0.38"/><circle cx="54.9" cy="528.3" r="0.69"/><circle cx="59.7" cy="524.7" r="0.69"/><circle cx="56.5" cy="524.5" r="0.33"/><circle cx="67.1" cy="537.1" r="0.52"/><circle cx="70.1" cy="520.2" r="0.67"/><circle cx="75.2" cy="528.5" r="0.56"/><circle cx="57.1" cy="526.3" r="0.49"/><circle cx="65.1" cy="517.9" r="0.43"/><circle cx="75.0" cy="528.0" r="0.44"/><circle cx="81.8" cy="526.9" r="0.58"/><circle cx="74.2" cy="536.7" r="0.35"/><circle cx="76.3" cy="534.6" r="0.44"/><circle cx="62.8" cy="530.8" r="0.30"/><circle cx="70.9" cy="529.3" r="0.31"/><circle cx="74.0" cy="528.5" r="0.50"/><circle cx="56.1" cy="527.8" r="0.62"/><circle cx="58.1" cy="525.9" r="0.30"/><circle cx="79.5" cy="531.8" r="0.67"/><circle cx="61.5" cy="535.9" r="0.65"/><circle cx="68.6" cy="530.0" r="0.35"/><circle cx="71.0" cy="528.6" r="0.52"/></g>
<path d="M90.37,529.50 C90.37,529.91 90.45,530.41 90.19,530.74 C89.93,531.08 89.28,531.30 88.80,531.52 C88.32,531.74 87.88,531.94 87.34,532.07 C86.80,532.21 86.19,532.34 85.58,532.32 C84.97,532.31 84.15,532.24 83.67,531.99 C83.18,531.73 82.84,531.20 82.68,530.79 C82.52,530.37 82.61,529.90 82.70,529.50 C82.79,529.10 82.97,528.73 83.22,528.39 C83.47,528.06 83.80,527.77 84.19,527.47 C84.58,527.17 85.01,526.74 85.56,526.60 C86.10,526.46 86.86,526.52 87.43,526.64 C88.00,526.76 88.52,527.05 88.98,527.33 C89.43,527.60 89.93,527.90 90.16,528.27 C90.39,528.63 90.36,529.09 90.37,529.50Z" fill="#e4a036"/>
<g fill="#ffffff" opacity="0.0"><circle cx="85.2" cy="529.2" r="0.58"/><circle cx="85.3" cy="531.9" r="0.38"/></g>
<path d="M51.68,535.02 C51.34,536.28 50.06,537.55 48.95,538.34 C47.84,539.12 46.34,539.36 45.01,539.72 C43.68,540.08 42.32,540.63 40.98,540.53 C39.64,540.42 38.01,539.88 36.99,539.06 C35.96,538.25 35.53,536.76 34.83,535.62 C34.13,534.48 33.06,533.46 32.78,532.23 C32.49,531.00 32.79,529.58 33.12,528.27 C33.45,526.96 33.87,525.47 34.75,524.37 C35.63,523.27 37.04,521.94 38.41,521.68 C39.78,521.42 41.61,522.34 42.98,522.81 C44.35,523.28 45.53,523.80 46.63,524.52 C47.72,525.25 48.82,526.11 49.55,527.15 C50.28,528.20 50.65,529.48 51.01,530.79 C51.36,532.10 52.02,533.77 51.68,535.02Z" fill="#3a98a0"/>
<g fill="#ffffff" opacity="0.0"><circle cx="46.2" cy="535.4" r="0.34"/><circle cx="44.2" cy="525.8" r="0.32"/><circle cx="48.3" cy="536.0" r="0.36"/><circle cx="43.6" cy="524.9" r="0.50"/><circle cx="47.8" cy="528.1" r="0.53"/><circle cx="37.7" cy="532.6" r="0.36"/><circle cx="36.6" cy="532.1" r="0.61"/><circle cx="39.6" cy="536.3" r="0.68"/><circle cx="38.6" cy="525.2" r="0.58"/><circle cx="46.0" cy="530.7" r="0.61"/><circle cx="45.3" cy="534.5" r="0.54"/><circle cx="37.7" cy="535.7" r="0.39"/><circle cx="39.9" cy="536.7" r="0.54"/><circle cx="41.8" cy="525.4" r="0.45"/><circle cx="49.8" cy="532.7" r="0.52"/><circle cx="39.1" cy="529.5" r="0.38"/><circle cx="47.6" cy="538.0" r="0.63"/><circle cx="47.6" cy="536.4" r="0.45"/><circle cx="40.8" cy="525.9" r="0.43"/><circle cx="44.7" cy="534.3" r="0.47"/><circle cx="42.4" cy="528.1" r="0.48"/></g>
<path d="M57.98,540.50 C57.85,541.38 57.45,542.23 56.96,542.99 C56.46,543.74 55.84,544.58 55.01,545.03 C54.19,545.48 53.03,545.43 51.98,545.70 C50.94,545.97 49.87,546.64 48.75,546.64 C47.63,546.65 46.06,546.36 45.26,545.76 C44.46,545.15 44.25,543.91 43.93,543.03 C43.61,542.15 43.33,541.35 43.33,540.50 C43.32,539.65 43.48,538.74 43.91,537.96 C44.33,537.18 45.04,536.40 45.86,535.84 C46.67,535.28 47.77,534.76 48.82,534.60 C49.86,534.44 51.01,534.72 52.10,534.88 C53.20,535.05 54.46,535.11 55.40,535.58 C56.35,536.05 57.34,536.88 57.77,537.70 C58.20,538.52 58.12,539.62 57.98,540.50Z" fill="#3a98a0"/>
<g fill="#ffffff" opacity="0.0"><circle cx="46.8" cy="540.5" r="0.55"/><circle cx="50.7" cy="544.4" r="0.69"/><circle cx="53.9" cy="542.1" r="0.57"/><circle cx="52.9" cy="541.6" r="0.63"/><circle cx="54.5" cy="540.1" r="0.38"/><circle cx="54.5" cy="539.9" r="0.54"/><circle cx="46.1" cy="537.7" r="0.67"/><circle cx="56.3" cy="539.4" r="0.63"/><circle cx="52.1" cy="536.1" r="0.47"/><circle cx="51.0" cy="543.4" r="0.67"/><circle cx="49.8" cy="538.7" r="0.66"/></g>
</g>
<g filter="url(#speckR)">
<path d="M104.56,495.30 C104.73,497.95 104.43,500.96 103.49,503.49 C102.54,506.02 100.87,508.70 98.89,510.46 C96.91,512.22 94.08,513.79 91.60,514.06 C89.12,514.34 86.23,513.17 84.01,512.13 C81.79,511.08 80.20,509.32 78.28,507.81 C76.36,506.30 73.82,505.17 72.50,503.09 C71.17,501.00 70.60,498.02 70.35,495.30 C70.10,492.58 69.97,489.22 71.01,486.74 C72.04,484.27 74.40,481.93 76.56,480.47 C78.71,479.01 81.45,478.43 83.91,477.99 C86.37,477.54 89.00,477.22 91.33,477.80 C93.67,478.38 96.05,479.81 97.92,481.45 C99.78,483.08 101.40,485.30 102.51,487.61 C103.62,489.92 104.40,492.65 104.56,495.30Z" fill="#d83a3a"/>
<g fill="#ffffff" opacity="0.0"><circle cx="100.7" cy="498.8" r="0.36"/><circle cx="74.7" cy="498.6" r="0.62"/><circle cx="76.7" cy="498.8" r="0.31"/><circle cx="78.6" cy="499.6" r="0.64"/><circle cx="74.2" cy="490.9" r="0.47"/><circle cx="94.3" cy="509.5" r="0.63"/><circle cx="84.1" cy="499.1" r="0.50"/><circle cx="73.4" cy="495.7" r="0.54"/><circle cx="75.4" cy="494.8" r="0.45"/><circle cx="91.4" cy="496.6" r="0.68"/><circle cx="92.3" cy="487.3" r="0.66"/><circle cx="82.5" cy="494.5" r="0.64"/><circle cx="74.2" cy="486.9" r="0.57"/><circle cx="98.2" cy="502.9" r="0.61"/><circle cx="95.1" cy="489.4" r="0.51"/><circle cx="85.6" cy="488.6" r="0.64"/><circle cx="88.3" cy="491.5" r="0.54"/><circle cx="82.9" cy="500.8" r="0.54"/><circle cx="99.4" cy="492.8" r="0.35"/><circle cx="73.4" cy="495.8" r="0.68"/><circle cx="86.9" cy="491.9" r="0.69"/><circle cx="83.9" cy="492.3" r="0.35"/><circle cx="98.9" cy="502.6" r="0.36"/><circle cx="89.5" cy="490.0" r="0.51"/><circle cx="84.7" cy="496.5" r="0.30"/><circle cx="100.7" cy="485.6" r="0.35"/><circle cx="86.0" cy="478.2" r="0.66"/><circle cx="94.6" cy="488.7" r="0.59"/><circle cx="72.0" cy="495.5" r="0.58"/><circle cx="95.9" cy="482.0" r="0.45"/><circle cx="86.4" cy="490.2" r="0.38"/><circle cx="97.1" cy="491.0" r="0.57"/><circle cx="80.3" cy="491.3" r="0.53"/><circle cx="95.5" cy="490.1" r="0.44"/><circle cx="90.3" cy="502.0" r="0.63"/><circle cx="83.3" cy="479.0" r="0.57"/><circle cx="94.9" cy="493.2" r="0.38"/><circle cx="89.7" cy="505.8" r="0.70"/><circle cx="89.3" cy="506.8" r="0.32"/><circle cx="99.3" cy="497.5" r="0.55"/><circle cx="72.2" cy="494.2" r="0.64"/><circle cx="99.3" cy="491.3" r="0.41"/><circle cx="97.3" cy="506.3" r="0.36"/><circle cx="101.1" cy="495.9" r="0.35"/><circle cx="82.4" cy="489.9" r="0.47"/><circle cx="97.4" cy="496.3" r="0.43"/><circle cx="87.2" cy="501.6" r="0.53"/><circle cx="85.1" cy="488.1" r="0.32"/><circle cx="86.1" cy="509.6" r="0.41"/><circle cx="85.0" cy="491.6" r="0.58"/><circle cx="92.4" cy="501.7" r="0.59"/><circle cx="74.9" cy="497.5" r="0.41"/><circle cx="83.3" cy="487.1" r="0.49"/><circle cx="73.1" cy="501.0" r="0.60"/><circle cx="73.5" cy="490.5" r="0.54"/><circle cx="85.7" cy="483.0" r="0.53"/><circle cx="91.1" cy="511.5" r="0.56"/><circle cx="92.9" cy="483.1" r="0.31"/><circle cx="99.4" cy="505.5" r="0.58"/><circle cx="100.2" cy="486.1" r="0.39"/><circle cx="100.1" cy="494.0" r="0.59"/><circle cx="79.5" cy="494.4" r="0.49"/><circle cx="79.1" cy="497.5" r="0.44"/><circle cx="79.8" cy="498.4" r="0.36"/><circle cx="90.8" cy="485.6" r="0.45"/><circle cx="90.4" cy="481.2" r="0.48"/><circle cx="82.3" cy="509.6" r="0.39"/><circle cx="78.0" cy="497.7" r="0.70"/><circle cx="88.4" cy="508.6" r="0.51"/><circle cx="94.2" cy="497.5" r="0.65"/><circle cx="89.4" cy="487.6" r="0.37"/><circle cx="99.1" cy="490.3" r="0.59"/><circle cx="94.5" cy="490.4" r="0.50"/><circle cx="93.6" cy="491.5" r="0.40"/><circle cx="98.5" cy="484.6" r="0.51"/><circle cx="97.4" cy="507.0" r="0.42"/><circle cx="88.0" cy="486.6" r="0.36"/></g>
</g>
<text x="16.5" y="468.7" font-size="7.3" fill="#333" stroke="#333" stroke-width="0.12" textLength="16.6" lengthAdjust="spacingAndGlyphs" >CD16<tspan font-size="4.5" dy="-3">+</tspan></text>
<text x="16.5" y="476.3" font-size="7.3" fill="#333" stroke="#333" stroke-width="0.12" textLength="16.5" lengthAdjust="spacingAndGlyphs" >Mono</text>
<text x="42.3" y="478" font-size="7.3" fill="#4a2a3e" stroke="#4a2a3e" stroke-width="0.12" textLength="20.2" lengthAdjust="spacingAndGlyphs" >NK cell</text>
<text x="76.7" y="472.5" font-size="7.3" fill="#333" stroke="#333" stroke-width="0.12" textLength="31.4" lengthAdjust="spacingAndGlyphs" >CD4<tspan font-size="4.5" dy="-3">+</tspan><tspan dy="3"> Tcell</tspan></text>
<line x1="88.7" y1="474.3" x2="86.6" y2="480.6" stroke="#333" stroke-width="0.9" />
<text x="25.5" y="503.9" font-size="7.3" fill="#2d4a14" stroke="#2d4a14" stroke-width="0.12" textLength="19" lengthAdjust="spacingAndGlyphs" >CD14<tspan font-size="4.5" dy="-3">+</tspan></text>
<text x="26.5" y="510.4" font-size="7.3" fill="#2d4a14" stroke="#2d4a14" stroke-width="0.12" textLength="16" lengthAdjust="spacingAndGlyphs" >Mono</text>
<text x="49.2" y="505.4" font-size="6.2" fill="#e8f0e0" stroke="#e8f0e0" stroke-width="0.12" textLength="13" lengthAdjust="spacingAndGlyphs" >other</text>
<text transform="translate(61.5,514.5) rotate(-25)" font-size="6.3" fill="#1a3a8a" textLength="12" lengthAdjust="spacingAndGlyphs">T cell</text>
<text x="63.4" y="525.6" font-size="7.3" fill="#5a3a10" stroke="#5a3a10" stroke-width="0.12" textLength="13.5" lengthAdjust="spacingAndGlyphs" >CD8<tspan font-size="4.5" dy="-3">+</tspan></text>
<text x="62.7" y="533.4" font-size="7.3" fill="#5a3a10" stroke="#5a3a10" stroke-width="0.12" textLength="15.5" lengthAdjust="spacingAndGlyphs" >T cell</text>
<text x="41.8" y="529.5" font-size="7" fill="#d8eef0" stroke="#d8eef0" stroke-width="0.12" text-anchor="middle" >B</text>
<text x="38.5" y="538" font-size="7" fill="#d8eef0" stroke="#d8eef0" stroke-width="0.12" textLength="9.5" lengthAdjust="spacingAndGlyphs" >cell</text>
<text x="475.6" y="431.0" font-size="8.3" fill="#333" stroke="#333" stroke-width="0.12" textLength="22.2" lengthAdjust="spacingAndGlyphs" >ICOS<tspan font-size="5.5" dy="-3.5">+</tspan></text>
<line x1="451.5" y1="437.6" x2="451.5" y2="539.7" stroke="#222" stroke-width="1.1" />
<line x1="448.7" y1="536.5" x2="451.5" y2="536.5" stroke="#2a2a2a" stroke-width="1" />
<text x="445.5" y="539.3" font-size="8" fill="#333" stroke="#333" stroke-width="0.12" text-anchor="end" >0</text>
<line x1="448.7" y1="512.05" x2="451.5" y2="512.05" stroke="#2a2a2a" stroke-width="1" />
<text x="445.5" y="514.8499999999999" font-size="8" fill="#333" stroke="#333" stroke-width="0.12" text-anchor="end" >20</text>
<line x1="448.7" y1="487.6" x2="451.5" y2="487.6" stroke="#2a2a2a" stroke-width="1" />
<text x="445.5" y="490.40000000000003" font-size="8" fill="#333" stroke="#333" stroke-width="0.12" text-anchor="end" >40</text>
<line x1="448.7" y1="463.15" x2="451.5" y2="463.15" stroke="#2a2a2a" stroke-width="1" />
<text x="445.5" y="465.95" font-size="8" fill="#333" stroke="#333" stroke-width="0.12" text-anchor="end" >60</text>
<line x1="448.7" y1="438.7" x2="451.5" y2="438.7" stroke="#2a2a2a" stroke-width="1" />
<text x="445.5" y="441.5" font-size="8" fill="#333" stroke="#333" stroke-width="0.12" text-anchor="end" >80</text>
<path d="M461.2,538 V539.6 H510.8 V538" stroke="#222" stroke-width="1.1" fill="none" />
<line x1="470.5" y1="539.9" x2="470.5" y2="542.2" stroke="#2a2a2a" stroke-width="1" />
<text x="470.5" y="553.5" font-size="8.5" fill="#333" stroke="#333" stroke-width="0.12" text-anchor="middle" textLength="9" lengthAdjust="spacingAndGlyphs" >T0</text>
<line x1="486.3" y1="539.9" x2="486.3" y2="542.2" stroke="#2a2a2a" stroke-width="1" />
<text x="486.3" y="553.5" font-size="8.5" fill="#333" stroke="#333" stroke-width="0.12" text-anchor="middle" textLength="9" lengthAdjust="spacingAndGlyphs" >T1</text>
<line x1="502.8" y1="539.9" x2="502.8" y2="542.2" stroke="#2a2a2a" stroke-width="1" />
<text x="502.8" y="553.5" font-size="8.5" fill="#333" stroke="#333" stroke-width="0.12" text-anchor="middle" textLength="9" lengthAdjust="spacingAndGlyphs" >T2</text>
<text x="468.5" y="566.2" font-size="8.8" fill="#333" stroke="#333" stroke-width="0.12" textLength="34.6" lengthAdjust="spacingAndGlyphs" >Timepoint</text>
<text transform="translate(430.9,484.4) rotate(-90)" font-size="9.3" fill="#333" text-anchor="middle" textLength="49.5" lengthAdjust="spacingAndGlyphs">% CD4<tspan font-size="6" dy="-3.5">+</tspan><tspan dy="3.5"> T cells</tspan></text>
<path d="M469.1,453.8 V452.1 H502.8 V453.8" stroke="#444" stroke-width="1.1" fill="none" />
<text x="477.2" y="449.2" font-size="8" fill="#333" stroke="#333" stroke-width="0.12" textLength="19.6" lengthAdjust="spacingAndGlyphs" >0.015</text>
<path d="M484.8,471.1 V469.4 H502.7 V471.1" stroke="#444" stroke-width="1.1" fill="none" />
<text x="483.7" y="466.2" font-size="8" fill="#333" stroke="#333" stroke-width="0.12" textLength="19.1" lengthAdjust="spacingAndGlyphs" >0.021</text>
<line x1="470.5" y1="485.2" x2="470.5" y2="518.7" stroke="#4a2420" stroke-width="1.1" />
<line x1="470.5" y1="531.0" x2="470.5" y2="534.8" stroke="#4a2420" stroke-width="1.1" />
<line x1="467.0" y1="485.2" x2="474.0" y2="485.2" stroke="#4a2420" stroke-width="1.1" />
<line x1="467.0" y1="534.8" x2="474.0" y2="534.8" stroke="#4a2420" stroke-width="1.1" />
<rect x="463.5" y="518.7" width="13.600000000000023" height="12.299999999999955" fill="#c87c74"/>
<line x1="463.5" y1="523.6" x2="477.1" y2="523.6" stroke="#4a2420" stroke-width="1.3" />
<line x1="486.3" y1="498.3" x2="486.3" y2="514.2" stroke="#4a2420" stroke-width="1.1" />
<line x1="486.3" y1="529.4" x2="486.3" y2="535.1" stroke="#4a2420" stroke-width="1.1" />
<line x1="482.8" y1="498.3" x2="489.8" y2="498.3" stroke="#4a2420" stroke-width="1.1" />
<line x1="482.8" y1="535.1" x2="489.8" y2="535.1" stroke="#4a2420" stroke-width="1.1" />
<rect x="479.9" y="514.2" width="13.0" height="15.199999999999932" fill="#c87c74"/>
<line x1="479.9" y1="520.4" x2="492.9" y2="520.4" stroke="#4a2420" stroke-width="1.3" />
<line x1="502.8" y1="476.2" x2="502.8" y2="476.6" stroke="#4a2420" stroke-width="1.1" />
<line x1="502.8" y1="518.4" x2="502.8" y2="529.9" stroke="#4a2420" stroke-width="1.1" />
<line x1="499.3" y1="476.2" x2="506.3" y2="476.2" stroke="#4a2420" stroke-width="1.1" />
<line x1="499.3" y1="529.9" x2="506.3" y2="529.9" stroke="#4a2420" stroke-width="1.1" />
<rect x="496.2" y="476.6" width="13.600000000000023" height="41.799999999999955" fill="#c87c74"/>
<line x1="496.2" y1="516.3" x2="509.8" y2="516.3" stroke="#4a2420" stroke-width="1.3" />
<path d="M464,532.4 L465.6,535.28 L462.4,535.28 Z" fill="#c0202a"/>
<path d="M468,531.9 L469.6,534.78 L466.4,534.78 Z" fill="#c0202a"/>
<path d="M472,532.4 L473.6,535.28 L470.4,535.28 Z" fill="#c0202a"/>
<path d="M476,532.4 L477.6,535.28 L474.4,535.28 Z" fill="#c0202a"/>
<path d="M470.5,529.4 L472.1,532.28 L468.9,532.28 Z" fill="#c0202a"/>
<path d="M470.5,525.4 L472.1,528.28 L468.9,528.28 Z" fill="#c0202a"/>
<path d="M465,517.9 L466.6,520.78 L463.4,520.78 Z" fill="#c0202a"/>
<path d="M477,521.4 L478.6,524.28 L475.4,524.28 Z" fill="#c0202a"/>
<path d="M473,519.4 L474.6,522.28 L471.4,522.28 Z" fill="#c0202a"/>
<path d="M481,528.4 L482.6,531.28 L479.4,531.28 Z" fill="#c0202a"/>
<path d="M485,531.9 L486.6,534.78 L483.4,534.78 Z" fill="#c0202a"/>
<path d="M489,531.4 L490.6,534.28 L487.4,534.28 Z" fill="#c0202a"/>
<path d="M484,525.4 L485.6,528.28 L482.4,528.28 Z" fill="#c0202a"/>
<path d="M489,525.4 L490.6,528.28 L487.4,528.28 Z" fill="#c0202a"/>
<path d="M486.5,514.4 L488.1,517.28 L484.9,517.28 Z" fill="#c0202a"/>
<path d="M481,513.9 L482.6,516.78 L479.4,516.78 Z" fill="#c0202a"/>
<path d="M491,513.4 L492.6,516.28 L489.4,516.28 Z" fill="#c0202a"/>
<path d="M497,474.9 L498.6,477.78 L495.4,477.78 Z" fill="#c0202a"/>
<path d="M502.8,475.9 L504.40000000000003,478.78 L501.2,478.78 Z" fill="#c0202a"/>
<path d="M508.5,474.9 L510.1,477.78 L506.9,477.78 Z" fill="#c0202a"/>
<path d="M497,513.9 L498.6,516.78 L495.4,516.78 Z" fill="#c0202a"/>
<path d="M508.5,513.9 L510.1,516.78 L506.9,516.78 Z" fill="#c0202a"/>
<path d="M509.5,517.4 L511.1,520.28 L507.9,520.28 Z" fill="#c0202a"/>
<path d="M502,519.4 L503.6,522.28 L500.4,522.28 Z" fill="#c0202a"/>
<path d="M502,524.4 L503.6,527.28 L500.4,527.28 Z" fill="#c0202a"/>
<path d="M502.8,489.9 L504.40000000000003,492.78 L501.2,492.78 Z" fill="#c0202a"/>
<rect x="0.5" y="0.5" width="519" height="575" fill="none" stroke="#4a4a4a" stroke-width="1"/>
</svg>
</body></html>
